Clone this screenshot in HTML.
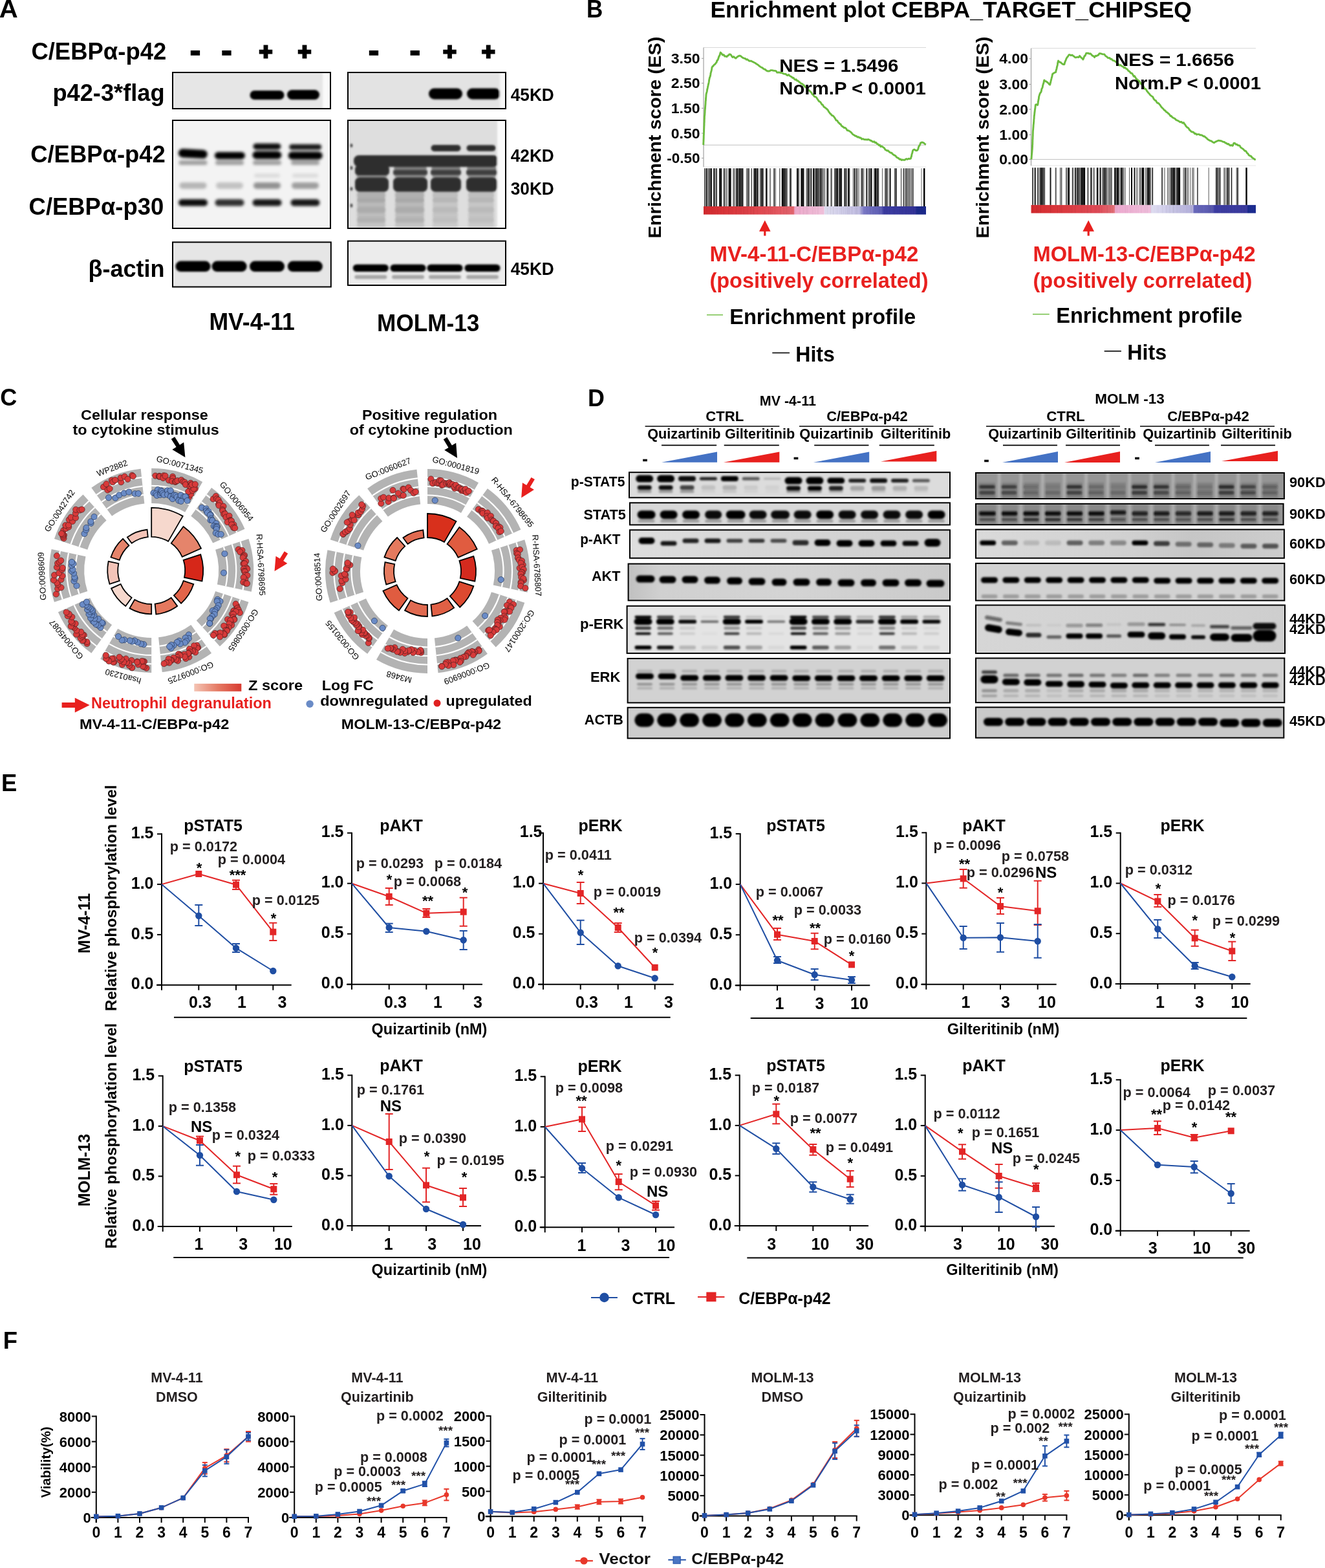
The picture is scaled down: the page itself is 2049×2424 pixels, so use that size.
<!DOCTYPE html>
<html><head><meta charset="utf-8"><title>Figure</title>
<style>html,body{margin:0;padding:0;background:#fff;}svg{display:block;}</style></head>
<body><svg width="2049" height="2424" viewBox="0 0 2049 2424" font-family='"Liberation Sans", Arial, sans-serif' font-weight="bold">
<defs><filter id="bl5" x="-20%" y="-50%" width="140%" height="200%"><feGaussianBlur stdDeviation="0.5"/></filter><filter id="bl6" x="-20%" y="-50%" width="140%" height="200%"><feGaussianBlur stdDeviation="0.6"/></filter><filter id="bl7" x="-20%" y="-50%" width="140%" height="200%"><feGaussianBlur stdDeviation="0.7"/></filter><filter id="bl8" x="-20%" y="-50%" width="140%" height="200%"><feGaussianBlur stdDeviation="0.8"/></filter><filter id="bl9" x="-20%" y="-50%" width="140%" height="200%"><feGaussianBlur stdDeviation="0.9"/></filter><filter id="bl10" x="-20%" y="-50%" width="140%" height="200%"><feGaussianBlur stdDeviation="1.0"/></filter><filter id="bl11" x="-20%" y="-50%" width="140%" height="200%"><feGaussianBlur stdDeviation="1.1"/></filter><filter id="bl12" x="-20%" y="-50%" width="140%" height="200%"><feGaussianBlur stdDeviation="1.2"/></filter><filter id="bl13" x="-20%" y="-50%" width="140%" height="200%"><feGaussianBlur stdDeviation="1.3"/></filter><filter id="bl14" x="-20%" y="-50%" width="140%" height="200%"><feGaussianBlur stdDeviation="1.4"/></filter><filter id="bl15" x="-20%" y="-50%" width="140%" height="200%"><feGaussianBlur stdDeviation="1.5"/></filter><filter id="bl16" x="-20%" y="-50%" width="140%" height="200%"><feGaussianBlur stdDeviation="1.6"/></filter><filter id="bl17" x="-20%" y="-50%" width="140%" height="200%"><feGaussianBlur stdDeviation="1.7"/></filter><filter id="bl18" x="-20%" y="-50%" width="140%" height="200%"><feGaussianBlur stdDeviation="1.8"/></filter><filter id="bl19" x="-20%" y="-50%" width="140%" height="200%"><feGaussianBlur stdDeviation="1.9"/></filter><filter id="bl20" x="-20%" y="-50%" width="140%" height="200%"><feGaussianBlur stdDeviation="2.0"/></filter><filter id="bl21" x="-20%" y="-50%" width="140%" height="200%"><feGaussianBlur stdDeviation="2.1"/></filter><filter id="bl22" x="-20%" y="-50%" width="140%" height="200%"><feGaussianBlur stdDeviation="2.2"/></filter><filter id="bl23" x="-20%" y="-50%" width="140%" height="200%"><feGaussianBlur stdDeviation="2.3"/></filter><filter id="bl24" x="-20%" y="-50%" width="140%" height="200%"><feGaussianBlur stdDeviation="2.4"/></filter><filter id="bl25" x="-20%" y="-50%" width="140%" height="200%"><feGaussianBlur stdDeviation="2.5"/></filter><filter id="bl26" x="-20%" y="-50%" width="140%" height="200%"><feGaussianBlur stdDeviation="2.6"/></filter><filter id="bl27" x="-20%" y="-50%" width="140%" height="200%"><feGaussianBlur stdDeviation="2.7"/></filter><filter id="bl28" x="-20%" y="-50%" width="140%" height="200%"><feGaussianBlur stdDeviation="2.8"/></filter><filter id="bl29" x="-20%" y="-50%" width="140%" height="200%"><feGaussianBlur stdDeviation="2.9"/></filter><filter id="bl30" x="-20%" y="-50%" width="140%" height="200%"><feGaussianBlur stdDeviation="3.0"/></filter><filter id="bl31" x="-20%" y="-50%" width="140%" height="200%"><feGaussianBlur stdDeviation="3.1"/></filter><filter id="bl32" x="-20%" y="-50%" width="140%" height="200%"><feGaussianBlur stdDeviation="3.2"/></filter><filter id="bl33" x="-20%" y="-50%" width="140%" height="200%"><feGaussianBlur stdDeviation="3.3"/></filter><filter id="bl34" x="-20%" y="-50%" width="140%" height="200%"><feGaussianBlur stdDeviation="3.4"/></filter><filter id="bl35" x="-20%" y="-50%" width="140%" height="200%"><feGaussianBlur stdDeviation="3.5"/></filter><filter id="bl36" x="-20%" y="-50%" width="140%" height="200%"><feGaussianBlur stdDeviation="3.6"/></filter><filter id="bl37" x="-20%" y="-50%" width="140%" height="200%"><feGaussianBlur stdDeviation="3.7"/></filter><filter id="bl38" x="-20%" y="-50%" width="140%" height="200%"><feGaussianBlur stdDeviation="3.8"/></filter><filter id="bl39" x="-20%" y="-50%" width="140%" height="200%"><feGaussianBlur stdDeviation="3.9"/></filter><filter id="bl40" x="-20%" y="-50%" width="140%" height="200%"><feGaussianBlur stdDeviation="4.0"/></filter><clipPath id="c1"><rect x="267" y="112" width="244" height="56"/></clipPath><clipPath id="c2"><rect x="538" y="112" width="244" height="56"/></clipPath><clipPath id="c3"><rect x="267" y="186" width="244" height="167"/></clipPath><clipPath id="c4"><rect x="538" y="186" width="244" height="167"/></clipPath><clipPath id="c5"><rect x="267" y="374.4" width="244.8" height="69.10000000000002"/></clipPath><clipPath id="c6"><rect x="538" y="372.6" width="244" height="68.39999999999998"/></clipPath><linearGradient id="cb1" x1="0" x2="1" y1="0" y2="0"><stop offset="0.000" stop-color="#d42a2e"/><stop offset="0.150" stop-color="#dc3a40"/><stop offset="0.300" stop-color="#e25058"/><stop offset="0.405" stop-color="#e46670"/><stop offset="0.410" stop-color="#eeaacc"/><stop offset="0.540" stop-color="#f0c0da"/><stop offset="0.545" stop-color="#e2e0f2"/><stop offset="0.700" stop-color="#c0bce2"/><stop offset="0.720" stop-color="#7a78c4"/><stop offset="0.800" stop-color="#5c5cb4"/><stop offset="0.810" stop-color="#3c3ca2"/><stop offset="0.950" stop-color="#34349a"/><stop offset="0.960" stop-color="#1c2a8c"/><stop offset="1.000" stop-color="#1c2a8c"/></linearGradient><linearGradient id="cb2" x1="0" x2="1" y1="0" y2="0"><stop offset="0.000" stop-color="#d42a2e"/><stop offset="0.150" stop-color="#dc3a40"/><stop offset="0.300" stop-color="#e04c58"/><stop offset="0.370" stop-color="#e47078"/><stop offset="0.375" stop-color="#eeaad0"/><stop offset="0.530" stop-color="#f0bedc"/><stop offset="0.535" stop-color="#e0def2"/><stop offset="0.720" stop-color="#b4b0dc"/><stop offset="0.725" stop-color="#6a6abc"/><stop offset="0.810" stop-color="#5858b0"/><stop offset="0.815" stop-color="#3e3ea4"/><stop offset="0.960" stop-color="#3a3a9e"/><stop offset="0.965" stop-color="#1c2c90"/><stop offset="1.000" stop-color="#1c2c90"/></linearGradient><linearGradient id="zs" x1="0" x2="1" y1="0" y2="0"><stop offset="0" stop-color="#f4c4b4"/><stop offset="0.5" stop-color="#e57a64"/><stop offset="1" stop-color="#d83a30"/></linearGradient><clipPath id="c7"><rect x="973" y="730.2" width="496" height="39.09999999999991"/></clipPath><clipPath id="c8"><rect x="974" y="777.3" width="495" height="34.10000000000002"/></clipPath><clipPath id="c9"><rect x="974" y="819.3" width="495" height="43.5"/></clipPath><linearGradient id="g9" x1="0" y1="0" x2="1" y2="0"><stop offset="0" stop-color="#dedede"/><stop offset="0.4" stop-color="#d6d6d6"/><stop offset="0.7" stop-color="#d2d2d2"/><stop offset="1" stop-color="#cfcfcf"/></linearGradient><clipPath id="c10"><rect x="971.6" y="871.6" width="497.4" height="56.69999999999993"/></clipPath><linearGradient id="g10" x1="0" y1="0" x2="1" y2="0"><stop offset="0" stop-color="#c0c0c0"/><stop offset="0.1" stop-color="#d0d0d0"/><stop offset="0.5" stop-color="#d4d4d4"/><stop offset="1" stop-color="#cacaca"/></linearGradient><clipPath id="c11"><rect x="969.6" y="936.8" width="499.4" height="73.10000000000002"/></clipPath><clipPath id="c12"><rect x="970.6" y="1018" width="498.4" height="68.40000000000009"/></clipPath><clipPath id="c13"><rect x="970.6" y="1093.8" width="498.4" height="47.600000000000136"/></clipPath><clipPath id="c14"><rect x="1509" y="731" width="476.9000000000001" height="40"/></clipPath><clipPath id="c15"><rect x="1509" y="778.8" width="475.5999999999999" height="32.40000000000009"/></clipPath><clipPath id="c16"><rect x="1509" y="818.6" width="476.9000000000001" height="44.19999999999993"/></clipPath><linearGradient id="g16" x1="0" y1="0" x2="1" y2="0"><stop offset="0" stop-color="#dadada"/><stop offset="0.5" stop-color="#d0d0d0"/><stop offset="0.7" stop-color="#c6c6c6"/><stop offset="1" stop-color="#cdcdcd"/></linearGradient><clipPath id="c17"><rect x="1509" y="870.9" width="477.29999999999995" height="57.5"/></clipPath><clipPath id="c18"><rect x="1509" y="935.5" width="478" height="74.5"/></clipPath><linearGradient id="g18" x1="0" y1="0" x2="1" y2="0"><stop offset="0" stop-color="#d6d6d6"/><stop offset="0.5" stop-color="#d2d2d2"/><stop offset="1" stop-color="#cecece"/></linearGradient><clipPath id="c19"><rect x="1509" y="1017.5" width="477.29999999999995" height="68.59999999999991"/></clipPath><clipPath id="c20"><rect x="1509" y="1093.4" width="476.29999999999995" height="47.19999999999982"/></clipPath></defs>
<rect width="2049" height="2424" fill="#fff"/>
<text x="-1.3" y="27.0" font-size="38" textLength="29.0" lengthAdjust="spacingAndGlyphs">A</text>
<text x="48.4" y="91.8" font-size="37.5" textLength="208.9" lengthAdjust="spacingAndGlyphs">C/EBPα-p42</text>
<text x="302.0" y="94.8" font-size="51" text-anchor="middle" stroke="#000" stroke-width="1.4">-</text>
<text x="350.5" y="94.8" font-size="51" text-anchor="middle" stroke="#000" stroke-width="1.4">-</text>
<text x="411.0" y="91.9" font-size="35" text-anchor="middle" stroke="#000" stroke-width="3">+</text>
<text x="471.0" y="91.9" font-size="35" text-anchor="middle" stroke="#000" stroke-width="3">+</text>
<text x="578.0" y="94.8" font-size="51" text-anchor="middle" stroke="#000" stroke-width="1.4">-</text>
<text x="641.7" y="94.8" font-size="51" text-anchor="middle" stroke="#000" stroke-width="1.4">-</text>
<text x="695.4" y="91.9" font-size="35" text-anchor="middle" stroke="#000" stroke-width="3">+</text>
<text x="755.3" y="91.9" font-size="35" text-anchor="middle" stroke="#000" stroke-width="3">+</text>
<text x="81.4" y="156.0" font-size="36.5" textLength="173.2" lengthAdjust="spacingAndGlyphs">p42-3*flag</text>
<text x="47.2" y="251.1" font-size="37.7" textLength="208.6" lengthAdjust="spacingAndGlyphs">C/EBPα-p42</text>
<text x="44.6" y="332.3" font-size="37.7" textLength="208.6" lengthAdjust="spacingAndGlyphs">C/EBPα-p30</text>
<text x="136.5" y="428.2" font-size="36.6" textLength="118.0" lengthAdjust="spacingAndGlyphs">β-actin</text>
<text x="789.7" y="156.4" font-size="27.2" textLength="67.1" lengthAdjust="spacingAndGlyphs">45KD</text>
<text x="789.7" y="249.6" font-size="27.2" textLength="67.1" lengthAdjust="spacingAndGlyphs">42KD</text>
<text x="789.7" y="301.0" font-size="27.2" textLength="67.1" lengthAdjust="spacingAndGlyphs">30KD</text>
<text x="789.7" y="424.5" font-size="27.2" textLength="67.1" lengthAdjust="spacingAndGlyphs">45KD</text>
<text x="323.4" y="510.0" font-size="37.7" textLength="132.5" lengthAdjust="spacingAndGlyphs">MV-4-11</text>
<text x="583.1" y="511.6" font-size="37.6" textLength="158.2" lengthAdjust="spacingAndGlyphs">MOLM-13</text>
<rect x="267.0" y="112.0" width="244.0" height="56.0" fill="#e6e6e6"/>
<g clip-path="url(#c1)"><g filter="url(#bl14)">
<rect x="386.5" y="140.0" width="53.0" height="14.0" rx="7.0" fill="#000" fill-opacity="1.00"/>
<rect x="444.0" y="139.0" width="50.0" height="15.0" rx="7.5" fill="#000" fill-opacity="1.00"/>
<rect x="499" y="112" width="14" height="56" fill="#fafafa"/>
</g></g>
<rect x="267.0" y="112.0" width="244.0" height="56.0" fill="none" stroke="#000" stroke-width="2.0"/>
<rect x="538.0" y="112.0" width="244.0" height="56.0" fill="#e3e3e3"/>
<g clip-path="url(#c2)"><g filter="url(#bl15)">
<rect x="663.0" y="136.5" width="52.0" height="17.0" rx="8.5" fill="#000" fill-opacity="1.00"/>
<rect x="722.0" y="136.5" width="52.0" height="17.0" rx="8.5" fill="#000" fill-opacity="1.00"/>
<rect x="773" y="112" width="12" height="56" fill="#f6f6f6"/>
</g></g>
<rect x="538.0" y="112.0" width="244.0" height="56.0" fill="none" stroke="#000" stroke-width="2.0"/>
<rect x="267.0" y="186.0" width="244.0" height="167.0" fill="#f3f3f3"/>
<g clip-path="url(#c3)"><g filter="url(#bl20)">
<rect x="275.8" y="230.8" width="45.0" height="13.5" rx="6.8" fill="#000" fill-opacity="1.00" transform="rotate(3 298.3 237.5)"/>
<rect x="331.9" y="234.9" width="47.0" height="11.0" rx="5.5" fill="#000" fill-opacity="1.00"/>
<rect x="391.4" y="221.7" width="43.0" height="9.5" rx="4.8" fill="#000" fill-opacity="0.95"/>
<rect x="390.4" y="233.7" width="45.0" height="12.0" rx="6.0" fill="#000" fill-opacity="1.00"/>
<rect x="447.2" y="222.9" width="50.0" height="8.5" rx="4.2" fill="#000" fill-opacity="0.90"/>
<rect x="445.7" y="234.5" width="53.0" height="12.0" rx="6.0" fill="#000" fill-opacity="1.00"/>
<rect x="276.5" y="248.0" width="44.0" height="7.0" rx="3.5" fill="#000" fill-opacity="0.35"/>
<rect x="277.5" y="281.9" width="42.0" height="10.0" rx="5.0" fill="#000" fill-opacity="0.25"/>
<rect x="276.0" y="308.1" width="45.0" height="10.5" rx="5.2" fill="#000" fill-opacity="0.95"/>
<rect x="333.0" y="248.0" width="44.0" height="7.0" rx="3.5" fill="#000" fill-opacity="0.35"/>
<rect x="334.0" y="281.9" width="42.0" height="10.0" rx="5.0" fill="#000" fill-opacity="0.20"/>
<rect x="332.5" y="308.1" width="45.0" height="10.5" rx="5.2" fill="#000" fill-opacity="0.80"/>
<rect x="391.0" y="248.0" width="44.0" height="7.0" rx="3.5" fill="#000" fill-opacity="0.35"/>
<rect x="392.0" y="281.9" width="42.0" height="10.0" rx="5.0" fill="#000" fill-opacity="0.40"/>
<rect x="393.0" y="268.4" width="40.0" height="6.0" rx="3.0" fill="#000" fill-opacity="0.10"/>
<rect x="390.5" y="308.1" width="45.0" height="10.5" rx="5.2" fill="#000" fill-opacity="0.90"/>
<rect x="450.0" y="248.0" width="44.0" height="7.0" rx="3.5" fill="#000" fill-opacity="0.35"/>
<rect x="451.0" y="281.9" width="42.0" height="10.0" rx="5.0" fill="#000" fill-opacity="0.35"/>
<rect x="452.0" y="268.4" width="40.0" height="6.0" rx="3.0" fill="#000" fill-opacity="0.10"/>
<rect x="449.5" y="308.1" width="45.0" height="10.5" rx="5.2" fill="#000" fill-opacity="0.90"/>
</g></g>
<rect x="267.0" y="186.0" width="244.0" height="167.0" fill="none" stroke="#000" stroke-width="2.0"/>
<rect x="538.0" y="186.0" width="244.0" height="167.0" fill="#dedede"/>
<g clip-path="url(#c4)"><g filter="url(#bl17)">
<rect x="666.5" y="224.0" width="46.0" height="10.0" rx="5.0" fill="#2f2f2f" fill-opacity="1.00"/>
<rect x="721.5" y="224.2" width="45.0" height="9.5" rx="4.8" fill="#2f2f2f" fill-opacity="1.00"/>
<rect x="547" y="240" width="224" height="18" rx="8" fill="#2f2f2f" fill-opacity="1.0"/>
<rect x="549" y="256" width="53" height="15" rx="5" fill="#2f2f2f" fill-opacity="1.0"/>
<rect x="609" y="258" width="51" height="4.5" rx="3" fill="#2f2f2f" fill-opacity="0.55"/>
<rect x="608" y="262.5" width="53" height="8.300000000000011" rx="3" fill="#2f2f2f" fill-opacity="0.92"/>
<rect x="667" y="258" width="45" height="4.5" rx="3" fill="#2f2f2f" fill-opacity="0.55"/>
<rect x="666" y="262.5" width="47" height="8.300000000000011" rx="3" fill="#2f2f2f" fill-opacity="0.92"/>
<rect x="722" y="258" width="46" height="4.5" rx="3" fill="#2f2f2f" fill-opacity="0.55"/>
<rect x="721" y="262.5" width="48" height="8.300000000000011" rx="3" fill="#2f2f2f" fill-opacity="0.92"/>
<rect x="551" y="270.8" width="48" height="3.3999999999999773" rx="3" fill="#2f2f2f" fill-opacity="0.45"/>
<rect x="549" y="274.2" width="52" height="22.30000000000001" rx="7" fill="#2f2f2f" fill-opacity="1.0"/>
<rect x="610" y="270.8" width="49" height="3.3999999999999773" rx="3" fill="#2f2f2f" fill-opacity="0.45"/>
<rect x="608" y="274.2" width="53" height="22.30000000000001" rx="7" fill="#2f2f2f" fill-opacity="1.0"/>
<rect x="668" y="270.8" width="43" height="3.3999999999999773" rx="3" fill="#2f2f2f" fill-opacity="0.45"/>
<rect x="666" y="274.2" width="47" height="22.30000000000001" rx="7" fill="#2f2f2f" fill-opacity="1.0"/>
<rect x="723" y="270.8" width="44" height="3.3999999999999773" rx="3" fill="#2f2f2f" fill-opacity="0.45"/>
<rect x="721" y="274.2" width="48" height="22.30000000000001" rx="7" fill="#2f2f2f" fill-opacity="1.0"/>
<rect x="552" y="297" width="44" height="9" rx="2" fill="#3a3a3a" fill-opacity="0.28"/>
<rect x="552" y="306" width="44" height="7" rx="2" fill="#3a3a3a" fill-opacity="0.33"/>
<rect x="552" y="313" width="44" height="7" rx="2" fill="#3a3a3a" fill-opacity="0.22"/>
<rect x="552" y="320" width="44" height="9" rx="2" fill="#3a3a3a" fill-opacity="0.3"/>
<rect x="552" y="329" width="44" height="7" rx="2" fill="#3a3a3a" fill-opacity="0.2"/>
<rect x="552" y="336" width="44" height="8" rx="2" fill="#3a3a3a" fill-opacity="0.27"/>
<rect x="552" y="344" width="44" height="7" rx="2" fill="#3a3a3a" fill-opacity="0.17"/>
<rect x="611" y="297" width="45" height="9" rx="2" fill="#3a3a3a" fill-opacity="0.28"/>
<rect x="611" y="306" width="45" height="7" rx="2" fill="#3a3a3a" fill-opacity="0.33"/>
<rect x="611" y="313" width="45" height="7" rx="2" fill="#3a3a3a" fill-opacity="0.22"/>
<rect x="611" y="320" width="45" height="9" rx="2" fill="#3a3a3a" fill-opacity="0.3"/>
<rect x="611" y="329" width="45" height="7" rx="2" fill="#3a3a3a" fill-opacity="0.2"/>
<rect x="611" y="336" width="45" height="8" rx="2" fill="#3a3a3a" fill-opacity="0.27"/>
<rect x="611" y="344" width="45" height="7" rx="2" fill="#3a3a3a" fill-opacity="0.17"/>
<rect x="669" y="297" width="39" height="9" rx="2" fill="#3a3a3a" fill-opacity="0.196"/>
<rect x="669" y="306" width="39" height="7" rx="2" fill="#3a3a3a" fill-opacity="0.23099999999999998"/>
<rect x="669" y="313" width="39" height="7" rx="2" fill="#3a3a3a" fill-opacity="0.154"/>
<rect x="669" y="320" width="39" height="9" rx="2" fill="#3a3a3a" fill-opacity="0.21"/>
<rect x="669" y="329" width="39" height="7" rx="2" fill="#3a3a3a" fill-opacity="0.13999999999999999"/>
<rect x="669" y="336" width="39" height="8" rx="2" fill="#3a3a3a" fill-opacity="0.189"/>
<rect x="669" y="344" width="39" height="7" rx="2" fill="#3a3a3a" fill-opacity="0.119"/>
<rect x="724" y="297" width="40" height="9" rx="2" fill="#3a3a3a" fill-opacity="0.196"/>
<rect x="724" y="306" width="40" height="7" rx="2" fill="#3a3a3a" fill-opacity="0.23099999999999998"/>
<rect x="724" y="313" width="40" height="7" rx="2" fill="#3a3a3a" fill-opacity="0.154"/>
<rect x="724" y="320" width="40" height="9" rx="2" fill="#3a3a3a" fill-opacity="0.21"/>
<rect x="724" y="329" width="40" height="7" rx="2" fill="#3a3a3a" fill-opacity="0.13999999999999999"/>
<rect x="724" y="336" width="40" height="8" rx="2" fill="#3a3a3a" fill-opacity="0.189"/>
<rect x="724" y="344" width="40" height="7" rx="2" fill="#3a3a3a" fill-opacity="0.119"/>
<rect x="769" y="186" width="14" height="167" fill="#fafafa"/>
<ellipse cx="543.5" cy="225" rx="1.3" ry="3" fill="#000"/>
<ellipse cx="543.5" cy="259.6" rx="1.3" ry="3" fill="#000"/>
<ellipse cx="543.5" cy="292" rx="1.3" ry="3" fill="#000"/>
<ellipse cx="543.5" cy="317.8" rx="1.3" ry="3" fill="#000"/>
</g></g>
<rect x="538.0" y="186.0" width="244.0" height="167.0" fill="none" stroke="#000" stroke-width="2.0"/>
<rect x="267.0" y="374.4" width="244.8" height="69.1" fill="#e6e6e6"/>
<g clip-path="url(#c5)"><g filter="url(#bl15)">
<rect x="271.5" y="403.6" width="54.0" height="16.5" rx="8.2" fill="#000" fill-opacity="1.00"/>
<rect x="327.6" y="403.6" width="54.0" height="16.5" rx="8.2" fill="#000" fill-opacity="1.00"/>
<rect x="386.0" y="403.6" width="54.0" height="16.5" rx="8.2" fill="#000" fill-opacity="1.00"/>
<rect x="444.8" y="403.6" width="54.0" height="16.5" rx="8.2" fill="#000" fill-opacity="1.00"/>
</g></g>
<rect x="267.0" y="374.4" width="244.8" height="69.1" fill="none" stroke="#000" stroke-width="2.0"/>
<rect x="538.0" y="372.6" width="244.0" height="68.4" fill="#ececec"/>
<g clip-path="url(#c6)"><g filter="url(#bl15)">
<rect x="545.8" y="408.7" width="55.0" height="11.4" rx="5.7" fill="#000" fill-opacity="1.00"/>
<rect x="603.5" y="408.7" width="55.0" height="11.4" rx="5.7" fill="#000" fill-opacity="1.00"/>
<rect x="660.5" y="408.7" width="55.0" height="11.4" rx="5.7" fill="#000" fill-opacity="1.00"/>
<rect x="718.5" y="408.7" width="55.0" height="11.4" rx="5.7" fill="#000" fill-opacity="1.00"/>
<rect x="548.3" y="425.3" width="50.0" height="6.0" rx="3.0" fill="#000" fill-opacity="0.30"/>
<rect x="606.0" y="425.3" width="50.0" height="6.0" rx="3.0" fill="#000" fill-opacity="0.30"/>
<rect x="663.0" y="425.3" width="50.0" height="6.0" rx="3.0" fill="#000" fill-opacity="0.30"/>
<rect x="721.0" y="425.3" width="50.0" height="6.0" rx="3.0" fill="#000" fill-opacity="0.30"/>
</g></g>
<rect x="538.0" y="372.6" width="244.0" height="68.4" fill="none" stroke="#000" stroke-width="2.0"/>
<text x="907.0" y="26.9" font-size="38" textLength="25.3" lengthAdjust="spacingAndGlyphs">B</text>
<text x="1098.4" y="27.0" font-size="35" textLength="744.6" lengthAdjust="spacingAndGlyphs">Enrichment plot CEBPA_TARGET_CHIPSEQ</text>
<rect x="1088.0" y="73.5" width="344.0" height="184.5" fill="#fff"/>
<line x1="1088.0" y1="73.5" x2="1432.0" y2="73.5" stroke="#d8d8d8" stroke-width="1"/>
<line x1="1088.0" y1="224.2" x2="1432.0" y2="224.2" stroke="#c0c0c0" stroke-width="1"/>
<line x1="1088.0" y1="258.0" x2="1432.0" y2="258.0" stroke="#e6e6e6" stroke-width="1"/>
<line x1="1088.0" y1="73.5" x2="1088.0" y2="258.0" stroke="#a0a0a0" stroke-width="1.2"/>
<text x="1037.8" y="97.9" font-size="21.4" textLength="44.8" lengthAdjust="spacingAndGlyphs">3.50</text>
<line x1="1085.0" y1="90.3" x2="1088.0" y2="90.3" stroke="#a0a0a0" stroke-width="1"/>
<text x="1037.8" y="136.2" font-size="21.4" textLength="44.8" lengthAdjust="spacingAndGlyphs">2.50</text>
<line x1="1085.0" y1="128.6" x2="1088.0" y2="128.6" stroke="#a0a0a0" stroke-width="1"/>
<text x="1037.8" y="174.9" font-size="21.4" textLength="44.8" lengthAdjust="spacingAndGlyphs">1.50</text>
<line x1="1085.0" y1="167.3" x2="1088.0" y2="167.3" stroke="#a0a0a0" stroke-width="1"/>
<text x="1037.8" y="213.6" font-size="21.4" textLength="44.8" lengthAdjust="spacingAndGlyphs">0.50</text>
<line x1="1085.0" y1="206.0" x2="1088.0" y2="206.0" stroke="#a0a0a0" stroke-width="1"/>
<text x="1031.3" y="252.0" font-size="21.4" textLength="51.3" lengthAdjust="spacingAndGlyphs">-0.50</text>
<line x1="1085.0" y1="244.4" x2="1088.0" y2="244.4" stroke="#a0a0a0" stroke-width="1"/>
<polyline points="1087.7,224.2 1087.8,222.6 1087.8,220.9 1087.9,219.4 1088.0,217.1 1088.0,216.9 1088.1,215.1 1088.2,212.7 1088.2,211.4 1088.3,209.0 1088.4,207.3 1088.4,205.8 1088.5,204.9 1088.6,202.4 1088.6,202.1 1088.7,198.9 1088.8,197.5 1088.8,195.6 1088.9,195.2 1089.0,192.9 1089.0,191.4 1089.1,189.5 1089.2,188.4 1089.2,186.4 1089.3,184.4 1089.4,183.1 1089.4,181.3 1089.5,179.3 1089.6,178.9 1089.8,177.0 1089.9,175.3 1090.0,174.1 1090.1,171.6 1090.2,169.9 1090.4,168.3 1090.5,166.6 1090.6,165.5 1090.8,162.6 1090.9,161.8 1091.0,160.3 1091.1,158.3 1091.2,156.0 1091.4,155.6 1091.5,152.7 1091.6,152.1 1091.8,149.7 1091.9,147.8 1092.0,146.4 1092.3,144.6 1092.7,143.2 1093.0,142.5 1093.3,141.0 1093.6,138.8 1093.9,137.7 1094.3,135.8 1094.6,134.2 1094.9,133.2 1095.3,130.6 1095.6,129.9 1096.0,128.0 1096.3,126.3 1096.7,123.5 1097.0,122.0 1097.4,120.2 1097.7,119.2 1098.1,118.6 1098.5,116.9 1098.8,115.2 1099.2,112.3 1099.5,111.7 1099.9,110.2 1100.3,108.6 1100.6,107.0 1101.0,104.2 1102.0,102.6 1103.0,102.1 1104.0,100.4 1105.7,99.3 1107.3,97.1 1108.1,96.4 1108.9,93.5 1109.6,93.4 1110.4,91.7 1111.2,89.2 1111.8,87.2 1112.4,86.5 1113.0,85.3 1113.6,83.2 1114.2,81.1 1115.9,82.8 1117.6,85.0 1119.2,84.6 1120.8,87.1 1122.4,86.9 1124.0,87.8 1125.3,85.9 1126.5,85.8 1127.8,83.9 1129.1,84.0 1130.3,84.8 1131.6,86.9 1132.9,88.5 1134.6,87.5 1136.3,89.2 1138.0,90.1 1139.7,88.2 1141.3,87.1 1143.0,86.2 1144.6,86.2 1146.2,87.2 1147.8,88.8 1149.4,89.6 1151.0,90.2 1152.6,90.5 1154.2,92.2 1155.8,91.7 1157.3,93.2 1158.9,94.3 1160.4,94.2 1162.0,94.3 1163.5,95.4 1165.0,95.9 1166.5,96.8 1168.0,97.5 1169.5,98.7 1171.0,99.5 1172.6,100.6 1174.1,102.0 1175.7,103.1 1177.2,104.1 1178.8,104.6 1180.3,106.1 1181.8,107.0 1183.4,107.2 1184.9,109.0 1186.4,109.7 1188.3,110.0 1190.2,109.8 1192.1,108.6 1194.0,108.6 1195.5,109.1 1197.1,109.3 1198.6,109.4 1200.2,109.9 1201.7,112.1 1203.4,112.0 1205.1,111.8 1206.8,112.5 1208.6,112.2 1210.3,113.3 1212.0,114.1 1213.5,114.4 1215.0,114.4 1216.6,116.0 1218.1,116.5 1219.6,115.5 1221.1,117.1 1222.5,118.0 1224.0,118.6 1225.4,120.2 1226.9,120.2 1228.3,122.2 1229.8,123.3 1231.3,122.8 1232.7,124.8 1234.2,125.0 1235.6,126.5 1237.1,127.5 1238.5,129.0 1240.0,129.5 1241.1,129.9 1242.3,131.7 1243.4,131.8 1244.5,134.0 1245.7,134.6 1246.8,135.4 1247.9,136.5 1249.1,137.6 1250.2,139.8 1251.4,139.7 1252.5,141.1 1253.7,142.2 1254.9,143.3 1256.0,145.5 1257.2,146.4 1258.3,147.7 1259.5,149.3 1260.7,149.6 1261.8,150.0 1263.0,151.4 1264.2,153.3 1265.3,154.9 1266.5,156.6 1267.6,157.1 1268.8,157.9 1269.9,159.8 1271.1,161.7 1272.2,161.9 1273.4,164.2 1274.5,165.5 1275.7,166.1 1276.9,167.2 1278.0,167.9 1279.2,169.1 1280.4,170.3 1281.5,172.6 1282.7,174.0 1283.8,175.8 1285.0,176.4 1286.2,178.3 1287.3,178.6 1288.5,179.3 1289.6,180.5 1290.8,182.2 1291.9,183.9 1293.0,186.0 1294.2,186.1 1295.3,187.3 1296.4,189.4 1297.6,190.1 1298.7,191.7 1300.0,192.0 1301.2,194.3 1302.5,195.4 1303.8,196.1 1305.1,197.5 1306.3,197.4 1307.6,197.9 1308.9,199.4 1310.1,201.5 1311.4,201.7 1312.8,202.2 1314.2,203.1 1315.7,204.2 1317.1,205.6 1318.5,207.5 1319.9,208.4 1321.4,209.2 1322.8,210.2 1324.2,210.1 1325.9,212.0 1327.6,211.7 1329.3,213.0 1331.0,212.9 1332.7,215.2 1334.4,214.6 1336.1,215.6 1337.8,215.8 1339.5,215.8 1341.2,216.0 1342.9,215.5 1344.6,216.3 1346.1,217.3 1347.5,217.5 1349.0,218.9 1350.4,219.4 1351.9,218.7 1353.3,220.6 1354.8,220.3 1356.2,222.3 1357.6,222.7 1359.1,224.6 1360.5,224.1 1361.9,226.7 1363.3,226.0 1364.8,227.0 1366.2,227.9 1367.6,229.1 1369.0,231.5 1370.4,232.1 1371.8,233.1 1373.2,232.7 1374.7,234.4 1376.1,235.5 1377.5,236.2 1378.9,236.2 1380.3,238.3 1381.6,239.0 1382.9,240.0 1384.2,240.3 1385.4,241.6 1386.7,243.3 1388.0,243.9 1389.5,244.6 1391.0,246.2 1392.6,246.0 1394.1,247.6 1395.6,246.9 1397.5,247.3 1399.4,247.2 1401.4,245.5 1403.3,246.4 1405.0,245.3 1406.7,245.6 1408.4,245.2 1408.9,242.7 1409.4,242.4 1409.8,239.5 1410.3,237.6 1410.8,236.5 1411.2,234.2 1411.7,232.6 1412.2,232.1 1413.8,231.1 1415.4,232.1 1417.0,232.9 1418.6,232.3 1419.2,231.5 1419.9,230.0 1420.5,227.3 1421.2,225.6 1421.8,225.4 1422.4,224.1 1423.1,222.5 1423.7,220.8 1425.6,220.0 1427.5,220.4 1428.9,221.3 1430.4,222.7 1431.8,223.5" fill="none" stroke="#6cbc3f" stroke-width="2.9" stroke-linejoin="round"/>
<rect x="1089.0" y="260.2" width="1.0" height="58.80000000000001" fill="rgb(63,63,63)"/>
<rect x="1090.0" y="260.2" width="2.0" height="58.80000000000001" fill="rgb(140,140,140)"/>
<rect x="1092.0" y="260.2" width="1.3" height="58.80000000000001" fill="rgb(0,0,0)"/>
<rect x="1093.3" y="260.2" width="2.0" height="58.80000000000001" fill="rgb(114,114,114)"/>
<rect x="1095.3" y="260.2" width="1.0" height="58.80000000000001" fill="rgb(140,140,140)"/>
<rect x="1096.3" y="260.2" width="1.3" height="58.80000000000001" fill="rgb(0,0,0)"/>
<rect x="1098.4" y="260.2" width="2.4" height="58.80000000000001" fill="rgb(0,0,0)"/>
<rect x="1103.3" y="260.2" width="2.0" height="58.80000000000001" fill="rgb(0,0,0)"/>
<rect x="1105.3" y="260.2" width="2.0" height="58.80000000000001" fill="rgb(140,140,140)"/>
<rect x="1107.3" y="260.2" width="1.6" height="58.80000000000001" fill="rgb(38,38,38)"/>
<rect x="1112.2" y="260.2" width="2.4" height="58.80000000000001" fill="rgb(0,0,0)"/>
<rect x="1114.6" y="260.2" width="1.6" height="58.80000000000001" fill="rgb(0,0,0)"/>
<rect x="1118.7" y="260.2" width="1.3" height="58.80000000000001" fill="rgb(63,63,63)"/>
<rect x="1120.0" y="260.2" width="2.0" height="58.80000000000001" fill="rgb(114,114,114)"/>
<rect x="1122.8" y="260.2" width="2.0" height="58.80000000000001" fill="rgb(114,114,114)"/>
<rect x="1126.6" y="260.2" width="1.6" height="58.80000000000001" fill="rgb(0,0,0)"/>
<rect x="1128.2" y="260.2" width="2.4" height="58.80000000000001" fill="rgb(0,0,0)"/>
<rect x="1133.1" y="260.2" width="1.0" height="58.80000000000001" fill="rgb(140,140,140)"/>
<rect x="1134.1" y="260.2" width="2.4" height="58.80000000000001" fill="rgb(114,114,114)"/>
<rect x="1137.7" y="260.2" width="1.0" height="58.80000000000001" fill="rgb(38,38,38)"/>
<rect x="1138.7" y="260.2" width="2.4" height="58.80000000000001" fill="rgb(38,38,38)"/>
<rect x="1141.1" y="260.2" width="1.6" height="58.80000000000001" fill="rgb(89,89,89)"/>
<rect x="1142.7" y="260.2" width="1.6" height="58.80000000000001" fill="rgb(0,0,0)"/>
<rect x="1144.3" y="260.2" width="2.4" height="58.80000000000001" fill="rgb(25,25,25)"/>
<rect x="1146.7" y="260.2" width="2.4" height="58.80000000000001" fill="rgb(38,38,38)"/>
<rect x="1149.1" y="260.2" width="1.0" height="58.80000000000001" fill="rgb(140,140,140)"/>
<rect x="1153.8" y="260.2" width="1.6" height="58.80000000000001" fill="rgb(114,114,114)"/>
<rect x="1155.4" y="260.2" width="2.4" height="58.80000000000001" fill="rgb(89,89,89)"/>
<rect x="1157.8" y="260.2" width="1.0" height="58.80000000000001" fill="rgb(38,38,38)"/>
<rect x="1161.8" y="260.2" width="1.0" height="58.80000000000001" fill="rgb(0,0,0)"/>
<rect x="1165.3" y="260.2" width="1.6" height="58.80000000000001" fill="rgb(38,38,38)"/>
<rect x="1166.9" y="260.2" width="2.4" height="58.80000000000001" fill="rgb(25,25,25)"/>
<rect x="1169.3" y="260.2" width="1.0" height="58.80000000000001" fill="rgb(25,25,25)"/>
<rect x="1170.3" y="260.2" width="2.4" height="58.80000000000001" fill="rgb(25,25,25)"/>
<rect x="1174.5" y="260.2" width="1.6" height="58.80000000000001" fill="rgb(140,140,140)"/>
<rect x="1176.1" y="260.2" width="1.0" height="58.80000000000001" fill="rgb(63,63,63)"/>
<rect x="1177.1" y="260.2" width="2.0" height="58.80000000000001" fill="rgb(38,38,38)"/>
<rect x="1179.1" y="260.2" width="1.6" height="58.80000000000001" fill="rgb(38,38,38)"/>
<rect x="1184.0" y="260.2" width="2.0" height="58.80000000000001" fill="rgb(25,25,25)"/>
<rect x="1186.0" y="260.2" width="1.3" height="58.80000000000001" fill="rgb(140,140,140)"/>
<rect x="1189.8" y="260.2" width="1.3" height="58.80000000000001" fill="rgb(140,140,140)"/>
<rect x="1191.1" y="260.2" width="1.0" height="58.80000000000001" fill="rgb(114,114,114)"/>
<rect x="1196.4" y="260.2" width="1.6" height="58.80000000000001" fill="rgb(25,25,25)"/>
<rect x="1198.8" y="260.2" width="1.0" height="58.80000000000001" fill="rgb(63,63,63)"/>
<rect x="1205.3" y="260.2" width="1.0" height="58.80000000000001" fill="rgb(38,38,38)"/>
<rect x="1208.8" y="260.2" width="2.4" height="58.80000000000001" fill="rgb(0,0,0)"/>
<rect x="1211.2" y="260.2" width="1.6" height="58.80000000000001" fill="rgb(0,0,0)"/>
<rect x="1212.8" y="260.2" width="2.0" height="58.80000000000001" fill="rgb(38,38,38)"/>
<rect x="1214.8" y="260.2" width="2.0" height="58.80000000000001" fill="rgb(63,63,63)"/>
<rect x="1216.8" y="260.2" width="1.0" height="58.80000000000001" fill="rgb(89,89,89)"/>
<rect x="1221.1" y="260.2" width="1.6" height="58.80000000000001" fill="rgb(25,25,25)"/>
<rect x="1222.7" y="260.2" width="1.3" height="58.80000000000001" fill="rgb(63,63,63)"/>
<rect x="1232.0" y="260.2" width="1.0" height="58.80000000000001" fill="rgb(0,0,0)"/>
<rect x="1233.0" y="260.2" width="1.3" height="58.80000000000001" fill="rgb(38,38,38)"/>
<rect x="1234.3" y="260.2" width="1.6" height="58.80000000000001" fill="rgb(63,63,63)"/>
<rect x="1237.7" y="260.2" width="1.3" height="58.80000000000001" fill="rgb(140,140,140)"/>
<rect x="1239.0" y="260.2" width="2.4" height="58.80000000000001" fill="rgb(0,0,0)"/>
<rect x="1241.4" y="260.2" width="2.0" height="58.80000000000001" fill="rgb(0,0,0)"/>
<rect x="1246.4" y="260.2" width="2.4" height="58.80000000000001" fill="rgb(114,114,114)"/>
<rect x="1248.8" y="260.2" width="2.4" height="58.80000000000001" fill="rgb(38,38,38)"/>
<rect x="1251.2" y="260.2" width="1.6" height="58.80000000000001" fill="rgb(89,89,89)"/>
<rect x="1253.6" y="260.2" width="1.6" height="58.80000000000001" fill="rgb(0,0,0)"/>
<rect x="1257.0" y="260.2" width="1.0" height="58.80000000000001" fill="rgb(0,0,0)"/>
<rect x="1258.0" y="260.2" width="1.0" height="58.80000000000001" fill="rgb(38,38,38)"/>
<rect x="1259.0" y="260.2" width="2.4" height="58.80000000000001" fill="rgb(114,114,114)"/>
<rect x="1261.4" y="260.2" width="2.0" height="58.80000000000001" fill="rgb(25,25,25)"/>
<rect x="1263.4" y="260.2" width="1.3" height="58.80000000000001" fill="rgb(0,0,0)"/>
<rect x="1264.7" y="260.2" width="2.0" height="58.80000000000001" fill="rgb(63,63,63)"/>
<rect x="1266.7" y="260.2" width="2.0" height="58.80000000000001" fill="rgb(89,89,89)"/>
<rect x="1268.7" y="260.2" width="1.6" height="58.80000000000001" fill="rgb(0,0,0)"/>
<rect x="1270.3" y="260.2" width="1.6" height="58.80000000000001" fill="rgb(89,89,89)"/>
<rect x="1271.9" y="260.2" width="1.6" height="58.80000000000001" fill="rgb(114,114,114)"/>
<rect x="1273.5" y="260.2" width="1.6" height="58.80000000000001" fill="rgb(140,140,140)"/>
<rect x="1275.1" y="260.2" width="1.3" height="58.80000000000001" fill="rgb(140,140,140)"/>
<rect x="1278.2" y="260.2" width="1.3" height="58.80000000000001" fill="rgb(63,63,63)"/>
<rect x="1279.5" y="260.2" width="1.6" height="58.80000000000001" fill="rgb(0,0,0)"/>
<rect x="1284.4" y="260.2" width="2.4" height="58.80000000000001" fill="rgb(89,89,89)"/>
<rect x="1290.1" y="260.2" width="1.6" height="58.80000000000001" fill="rgb(63,63,63)"/>
<rect x="1291.7" y="260.2" width="1.0" height="58.80000000000001" fill="rgb(0,0,0)"/>
<rect x="1292.7" y="260.2" width="1.0" height="58.80000000000001" fill="rgb(38,38,38)"/>
<rect x="1293.7" y="260.2" width="1.6" height="58.80000000000001" fill="rgb(0,0,0)"/>
<rect x="1295.3" y="260.2" width="1.0" height="58.80000000000001" fill="rgb(0,0,0)"/>
<rect x="1296.3" y="260.2" width="1.6" height="58.80000000000001" fill="rgb(140,140,140)"/>
<rect x="1297.9" y="260.2" width="1.3" height="58.80000000000001" fill="rgb(0,0,0)"/>
<rect x="1299.2" y="260.2" width="1.6" height="58.80000000000001" fill="rgb(0,0,0)"/>
<rect x="1300.8" y="260.2" width="1.3" height="58.80000000000001" fill="rgb(25,25,25)"/>
<rect x="1305.1" y="260.2" width="2.4" height="58.80000000000001" fill="rgb(63,63,63)"/>
<rect x="1307.5" y="260.2" width="1.3" height="58.80000000000001" fill="rgb(25,25,25)"/>
<rect x="1308.8" y="260.2" width="1.0" height="58.80000000000001" fill="rgb(89,89,89)"/>
<rect x="1311.0" y="260.2" width="2.0" height="58.80000000000001" fill="rgb(25,25,25)"/>
<rect x="1313.0" y="260.2" width="1.3" height="58.80000000000001" fill="rgb(63,63,63)"/>
<rect x="1318.6" y="260.2" width="2.4" height="58.80000000000001" fill="rgb(140,140,140)"/>
<rect x="1321.0" y="260.2" width="1.6" height="58.80000000000001" fill="rgb(25,25,25)"/>
<rect x="1322.6" y="260.2" width="1.0" height="58.80000000000001" fill="rgb(114,114,114)"/>
<rect x="1324.4" y="260.2" width="1.6" height="58.80000000000001" fill="rgb(25,25,25)"/>
<rect x="1327.2" y="260.2" width="1.6" height="58.80000000000001" fill="rgb(114,114,114)"/>
<rect x="1331.2" y="260.2" width="1.3" height="58.80000000000001" fill="rgb(89,89,89)"/>
<rect x="1332.5" y="260.2" width="2.0" height="58.80000000000001" fill="rgb(38,38,38)"/>
<rect x="1334.5" y="260.2" width="2.0" height="58.80000000000001" fill="rgb(140,140,140)"/>
<rect x="1339.0" y="260.2" width="2.4" height="58.80000000000001" fill="rgb(63,63,63)"/>
<rect x="1342.6" y="260.2" width="1.0" height="58.80000000000001" fill="rgb(89,89,89)"/>
<rect x="1343.6" y="260.2" width="1.3" height="58.80000000000001" fill="rgb(63,63,63)"/>
<rect x="1344.9" y="260.2" width="1.6" height="58.80000000000001" fill="rgb(89,89,89)"/>
<rect x="1346.5" y="260.2" width="2.0" height="58.80000000000001" fill="rgb(0,0,0)"/>
<rect x="1351.0" y="260.2" width="1.6" height="58.80000000000001" fill="rgb(114,114,114)"/>
<rect x="1352.6" y="260.2" width="2.4" height="58.80000000000001" fill="rgb(0,0,0)"/>
<rect x="1355.0" y="260.2" width="2.0" height="58.80000000000001" fill="rgb(89,89,89)"/>
<rect x="1357.0" y="260.2" width="1.3" height="58.80000000000001" fill="rgb(0,0,0)"/>
<rect x="1358.3" y="260.2" width="1.0" height="58.80000000000001" fill="rgb(63,63,63)"/>
<rect x="1363.9" y="260.2" width="1.3" height="58.80000000000001" fill="rgb(114,114,114)"/>
<rect x="1367.7" y="260.2" width="1.6" height="58.80000000000001" fill="rgb(140,140,140)"/>
<rect x="1369.3" y="260.2" width="2.0" height="58.80000000000001" fill="rgb(38,38,38)"/>
<rect x="1371.3" y="260.2" width="2.4" height="58.80000000000001" fill="rgb(114,114,114)"/>
<rect x="1375.5" y="260.2" width="2.0" height="58.80000000000001" fill="rgb(0,0,0)"/>
<rect x="1383.2" y="260.2" width="1.3" height="58.80000000000001" fill="rgb(38,38,38)"/>
<rect x="1384.5" y="260.2" width="2.4" height="58.80000000000001" fill="rgb(63,63,63)"/>
<rect x="1393.1" y="260.2" width="1.0" height="58.80000000000001" fill="rgb(38,38,38)"/>
<rect x="1396.6" y="260.2" width="1.0" height="58.80000000000001" fill="rgb(0,0,0)"/>
<rect x="1397.6" y="260.2" width="1.0" height="58.80000000000001" fill="rgb(63,63,63)"/>
<rect x="1399.8" y="260.2" width="1.6" height="58.80000000000001" fill="rgb(63,63,63)"/>
<rect x="1401.4" y="260.2" width="1.6" height="58.80000000000001" fill="rgb(89,89,89)"/>
<rect x="1403.0" y="260.2" width="2.0" height="58.80000000000001" fill="rgb(140,140,140)"/>
<rect x="1405.0" y="260.2" width="2.4" height="58.80000000000001" fill="rgb(114,114,114)"/>
<rect x="1407.4" y="260.2" width="2.4" height="58.80000000000001" fill="rgb(140,140,140)"/>
<rect x="1409.8" y="260.2" width="2.0" height="58.80000000000001" fill="rgb(114,114,114)"/>
<rect x="1411.8" y="260.2" width="1.0" height="58.80000000000001" fill="rgb(63,63,63)"/>
<rect x="1424.5" y="260.2" width="1.0" height="58.80000000000001" fill="rgb(114,114,114)"/>
<rect x="1428.0" y="260.2" width="2.4" height="58.80000000000001" fill="rgb(0,0,0)"/>
<rect x="1088.0" y="319.0" width="344.0" height="12.6" fill="url(#cb1)"/>
<rect x="1088.7" y="319" width="1.2" height="12.600000000000023" fill="#000" fill-opacity="0.05"/>
<rect x="1091.5" y="319" width="1.2" height="12.600000000000023" fill="#000" fill-opacity="0.05"/>
<rect x="1093.9" y="319" width="1.2" height="12.600000000000023" fill="#000" fill-opacity="0.03"/>
<rect x="1096.4" y="319" width="1.2" height="12.600000000000023" fill="#000" fill-opacity="0.04"/>
<rect x="1099.4" y="319" width="1.2" height="12.600000000000023" fill="#000" fill-opacity="0.05"/>
<rect x="1101.8" y="319" width="1.2" height="12.600000000000023" fill="#000" fill-opacity="0.05"/>
<rect x="1104.2" y="319" width="1.2" height="12.600000000000023" fill="#000" fill-opacity="0.04"/>
<rect x="1106.0" y="319" width="1.2" height="12.600000000000023" fill="#000" fill-opacity="0.02"/>
<rect x="1109.1" y="319" width="1.2" height="12.600000000000023" fill="#000" fill-opacity="0.06"/>
<rect x="1111.3" y="319" width="1.2" height="12.600000000000023" fill="#000" fill-opacity="0.01"/>
<rect x="1114.2" y="319" width="1.2" height="12.600000000000023" fill="#000" fill-opacity="0.03"/>
<rect x="1116.2" y="319" width="1.2" height="12.600000000000023" fill="#000" fill-opacity="0.00"/>
<rect x="1118.8" y="319" width="1.2" height="12.600000000000023" fill="#000" fill-opacity="0.05"/>
<rect x="1121.1" y="319" width="1.2" height="12.600000000000023" fill="#000" fill-opacity="0.02"/>
<rect x="1124.0" y="319" width="1.2" height="12.600000000000023" fill="#000" fill-opacity="0.00"/>
<rect x="1126.3" y="319" width="1.2" height="12.600000000000023" fill="#000" fill-opacity="0.07"/>
<rect x="1129.0" y="319" width="1.2" height="12.600000000000023" fill="#000" fill-opacity="0.03"/>
<rect x="1131.5" y="319" width="1.2" height="12.600000000000023" fill="#000" fill-opacity="0.04"/>
<rect x="1133.3" y="319" width="1.2" height="12.600000000000023" fill="#000" fill-opacity="0.01"/>
<rect x="1136.8" y="319" width="1.2" height="12.600000000000023" fill="#000" fill-opacity="0.02"/>
<rect x="1138.1" y="319" width="1.2" height="12.600000000000023" fill="#000" fill-opacity="0.06"/>
<rect x="1141.3" y="319" width="1.2" height="12.600000000000023" fill="#000" fill-opacity="0.03"/>
<rect x="1143.8" y="319" width="1.2" height="12.600000000000023" fill="#000" fill-opacity="0.05"/>
<rect x="1145.8" y="319" width="1.2" height="12.600000000000023" fill="#000" fill-opacity="0.05"/>
<rect x="1149.1" y="319" width="1.2" height="12.600000000000023" fill="#000" fill-opacity="0.06"/>
<rect x="1150.9" y="319" width="1.2" height="12.600000000000023" fill="#000" fill-opacity="0.04"/>
<rect x="1153.3" y="319" width="1.2" height="12.600000000000023" fill="#000" fill-opacity="0.04"/>
<rect x="1155.8" y="319" width="1.2" height="12.600000000000023" fill="#000" fill-opacity="0.06"/>
<rect x="1159.3" y="319" width="1.2" height="12.600000000000023" fill="#000" fill-opacity="0.02"/>
<rect x="1160.8" y="319" width="1.2" height="12.600000000000023" fill="#000" fill-opacity="0.07"/>
<rect x="1164.1" y="319" width="1.2" height="12.600000000000023" fill="#000" fill-opacity="0.06"/>
<rect x="1165.5" y="319" width="1.2" height="12.600000000000023" fill="#000" fill-opacity="0.06"/>
<rect x="1168.9" y="319" width="1.2" height="12.600000000000023" fill="#000" fill-opacity="0.02"/>
<rect x="1171.1" y="319" width="1.2" height="12.600000000000023" fill="#000" fill-opacity="0.05"/>
<rect x="1174.2" y="319" width="1.2" height="12.600000000000023" fill="#000" fill-opacity="0.01"/>
<rect x="1176.4" y="319" width="1.2" height="12.600000000000023" fill="#000" fill-opacity="0.01"/>
<rect x="1179.5" y="319" width="1.2" height="12.600000000000023" fill="#000" fill-opacity="0.03"/>
<rect x="1181.9" y="319" width="1.2" height="12.600000000000023" fill="#000" fill-opacity="0.05"/>
<rect x="1183.9" y="319" width="1.2" height="12.600000000000023" fill="#000" fill-opacity="0.02"/>
<rect x="1186.3" y="319" width="1.2" height="12.600000000000023" fill="#000" fill-opacity="0.01"/>
<rect x="1188.2" y="319" width="1.2" height="12.600000000000023" fill="#000" fill-opacity="0.05"/>
<rect x="1191.0" y="319" width="1.2" height="12.600000000000023" fill="#000" fill-opacity="0.05"/>
<rect x="1193.4" y="319" width="1.2" height="12.600000000000023" fill="#000" fill-opacity="0.05"/>
<rect x="1196.6" y="319" width="1.2" height="12.600000000000023" fill="#000" fill-opacity="0.02"/>
<rect x="1198.2" y="319" width="1.2" height="12.600000000000023" fill="#000" fill-opacity="0.03"/>
<rect x="1201.2" y="319" width="1.2" height="12.600000000000023" fill="#000" fill-opacity="0.01"/>
<rect x="1203.3" y="319" width="1.2" height="12.600000000000023" fill="#000" fill-opacity="0.00"/>
<rect x="1206.4" y="319" width="1.2" height="12.600000000000023" fill="#000" fill-opacity="0.06"/>
<rect x="1208.3" y="319" width="1.2" height="12.600000000000023" fill="#000" fill-opacity="0.00"/>
<rect x="1211.6" y="319" width="1.2" height="12.600000000000023" fill="#000" fill-opacity="0.06"/>
<rect x="1214.4" y="319" width="1.2" height="12.600000000000023" fill="#000" fill-opacity="0.04"/>
<rect x="1216.0" y="319" width="1.2" height="12.600000000000023" fill="#000" fill-opacity="0.06"/>
<rect x="1218.2" y="319" width="1.2" height="12.600000000000023" fill="#000" fill-opacity="0.05"/>
<rect x="1220.6" y="319" width="1.2" height="12.600000000000023" fill="#000" fill-opacity="0.03"/>
<rect x="1223.7" y="319" width="1.2" height="12.600000000000023" fill="#000" fill-opacity="0.03"/>
<rect x="1225.8" y="319" width="1.2" height="12.600000000000023" fill="#000" fill-opacity="0.02"/>
<rect x="1229.2" y="319" width="1.2" height="12.600000000000023" fill="#000" fill-opacity="0.03"/>
<rect x="1231.4" y="319" width="1.2" height="12.600000000000023" fill="#000" fill-opacity="0.01"/>
<rect x="1234.1" y="319" width="1.2" height="12.600000000000023" fill="#000" fill-opacity="0.02"/>
<rect x="1236.4" y="319" width="1.2" height="12.600000000000023" fill="#000" fill-opacity="0.06"/>
<rect x="1239.5" y="319" width="1.2" height="12.600000000000023" fill="#000" fill-opacity="0.00"/>
<rect x="1241.7" y="319" width="1.2" height="12.600000000000023" fill="#000" fill-opacity="0.06"/>
<rect x="1243.5" y="319" width="1.2" height="12.600000000000023" fill="#000" fill-opacity="0.03"/>
<rect x="1246.4" y="319" width="1.2" height="12.600000000000023" fill="#000" fill-opacity="0.06"/>
<rect x="1248.6" y="319" width="1.2" height="12.600000000000023" fill="#000" fill-opacity="0.06"/>
<rect x="1251.6" y="319" width="1.2" height="12.600000000000023" fill="#000" fill-opacity="0.01"/>
<rect x="1254.4" y="319" width="1.2" height="12.600000000000023" fill="#000" fill-opacity="0.00"/>
<rect x="1255.7" y="319" width="1.2" height="12.600000000000023" fill="#000" fill-opacity="0.05"/>
<rect x="1258.1" y="319" width="1.2" height="12.600000000000023" fill="#000" fill-opacity="0.03"/>
<rect x="1260.7" y="319" width="1.2" height="12.600000000000023" fill="#000" fill-opacity="0.03"/>
<rect x="1264.3" y="319" width="1.2" height="12.600000000000023" fill="#000" fill-opacity="0.06"/>
<rect x="1265.6" y="319" width="1.2" height="12.600000000000023" fill="#000" fill-opacity="0.00"/>
<rect x="1269.3" y="319" width="1.2" height="12.600000000000023" fill="#000" fill-opacity="0.00"/>
<rect x="1270.9" y="319" width="1.2" height="12.600000000000023" fill="#000" fill-opacity="0.01"/>
<rect x="1273.1" y="319" width="1.2" height="12.600000000000023" fill="#000" fill-opacity="0.00"/>
<rect x="1276.5" y="319" width="1.2" height="12.600000000000023" fill="#000" fill-opacity="0.05"/>
<rect x="1279.0" y="319" width="1.2" height="12.600000000000023" fill="#000" fill-opacity="0.06"/>
<rect x="1281.5" y="319" width="1.2" height="12.600000000000023" fill="#000" fill-opacity="0.03"/>
<rect x="1283.9" y="319" width="1.2" height="12.600000000000023" fill="#000" fill-opacity="0.07"/>
<rect x="1286.5" y="319" width="1.2" height="12.600000000000023" fill="#000" fill-opacity="0.02"/>
<rect x="1288.1" y="319" width="1.2" height="12.600000000000023" fill="#000" fill-opacity="0.07"/>
<rect x="1291.4" y="319" width="1.2" height="12.600000000000023" fill="#000" fill-opacity="0.02"/>
<rect x="1293.9" y="319" width="1.2" height="12.600000000000023" fill="#000" fill-opacity="0.04"/>
<rect x="1296.3" y="319" width="1.2" height="12.600000000000023" fill="#000" fill-opacity="0.00"/>
<rect x="1298.5" y="319" width="1.2" height="12.600000000000023" fill="#000" fill-opacity="0.03"/>
<rect x="1300.8" y="319" width="1.2" height="12.600000000000023" fill="#000" fill-opacity="0.06"/>
<rect x="1303.6" y="319" width="1.2" height="12.600000000000023" fill="#000" fill-opacity="0.05"/>
<rect x="1306.6" y="319" width="1.2" height="12.600000000000023" fill="#000" fill-opacity="0.05"/>
<rect x="1309.1" y="319" width="1.2" height="12.600000000000023" fill="#000" fill-opacity="0.05"/>
<rect x="1310.9" y="319" width="1.2" height="12.600000000000023" fill="#000" fill-opacity="0.07"/>
<rect x="1313.2" y="319" width="1.2" height="12.600000000000023" fill="#000" fill-opacity="0.06"/>
<rect x="1316.8" y="319" width="1.2" height="12.600000000000023" fill="#000" fill-opacity="0.06"/>
<rect x="1318.1" y="319" width="1.2" height="12.600000000000023" fill="#000" fill-opacity="0.01"/>
<rect x="1321.7" y="319" width="1.2" height="12.600000000000023" fill="#000" fill-opacity="0.03"/>
<rect x="1323.6" y="319" width="1.2" height="12.600000000000023" fill="#000" fill-opacity="0.07"/>
<rect x="1325.6" y="319" width="1.2" height="12.600000000000023" fill="#000" fill-opacity="0.04"/>
<rect x="1328.7" y="319" width="1.2" height="12.600000000000023" fill="#000" fill-opacity="0.01"/>
<rect x="1331.1" y="319" width="1.2" height="12.600000000000023" fill="#000" fill-opacity="0.05"/>
<rect x="1334.3" y="319" width="1.2" height="12.600000000000023" fill="#000" fill-opacity="0.00"/>
<rect x="1336.3" y="319" width="1.2" height="12.600000000000023" fill="#000" fill-opacity="0.01"/>
<rect x="1339.2" y="319" width="1.2" height="12.600000000000023" fill="#000" fill-opacity="0.01"/>
<rect x="1340.6" y="319" width="1.2" height="12.600000000000023" fill="#000" fill-opacity="0.03"/>
<rect x="1344.1" y="319" width="1.2" height="12.600000000000023" fill="#000" fill-opacity="0.02"/>
<rect x="1345.7" y="319" width="1.2" height="12.600000000000023" fill="#000" fill-opacity="0.06"/>
<rect x="1349.2" y="319" width="1.2" height="12.600000000000023" fill="#000" fill-opacity="0.06"/>
<rect x="1351.0" y="319" width="1.2" height="12.600000000000023" fill="#000" fill-opacity="0.03"/>
<rect x="1353.4" y="319" width="1.2" height="12.600000000000023" fill="#000" fill-opacity="0.04"/>
<rect x="1356.0" y="319" width="1.2" height="12.600000000000023" fill="#000" fill-opacity="0.02"/>
<rect x="1359.2" y="319" width="1.2" height="12.600000000000023" fill="#000" fill-opacity="0.07"/>
<rect x="1361.4" y="319" width="1.2" height="12.600000000000023" fill="#000" fill-opacity="0.01"/>
<rect x="1364.0" y="319" width="1.2" height="12.600000000000023" fill="#000" fill-opacity="0.03"/>
<rect x="1367.0" y="319" width="1.2" height="12.600000000000023" fill="#000" fill-opacity="0.05"/>
<rect x="1369.3" y="319" width="1.2" height="12.600000000000023" fill="#000" fill-opacity="0.05"/>
<rect x="1371.3" y="319" width="1.2" height="12.600000000000023" fill="#000" fill-opacity="0.06"/>
<rect x="1374.2" y="319" width="1.2" height="12.600000000000023" fill="#000" fill-opacity="0.02"/>
<rect x="1375.7" y="319" width="1.2" height="12.600000000000023" fill="#000" fill-opacity="0.03"/>
<rect x="1378.8" y="319" width="1.2" height="12.600000000000023" fill="#000" fill-opacity="0.01"/>
<rect x="1381.0" y="319" width="1.2" height="12.600000000000023" fill="#000" fill-opacity="0.04"/>
<rect x="1383.1" y="319" width="1.2" height="12.600000000000023" fill="#000" fill-opacity="0.06"/>
<rect x="1386.5" y="319" width="1.2" height="12.600000000000023" fill="#000" fill-opacity="0.02"/>
<rect x="1388.4" y="319" width="1.2" height="12.600000000000023" fill="#000" fill-opacity="0.02"/>
<rect x="1391.0" y="319" width="1.2" height="12.600000000000023" fill="#000" fill-opacity="0.05"/>
<rect x="1393.8" y="319" width="1.2" height="12.600000000000023" fill="#000" fill-opacity="0.04"/>
<rect x="1395.7" y="319" width="1.2" height="12.600000000000023" fill="#000" fill-opacity="0.06"/>
<rect x="1398.5" y="319" width="1.2" height="12.600000000000023" fill="#000" fill-opacity="0.02"/>
<rect x="1400.6" y="319" width="1.2" height="12.600000000000023" fill="#000" fill-opacity="0.07"/>
<rect x="1403.7" y="319" width="1.2" height="12.600000000000023" fill="#000" fill-opacity="0.06"/>
<rect x="1406.9" y="319" width="1.2" height="12.600000000000023" fill="#000" fill-opacity="0.07"/>
<rect x="1409.2" y="319" width="1.2" height="12.600000000000023" fill="#000" fill-opacity="0.06"/>
<rect x="1411.9" y="319" width="1.2" height="12.600000000000023" fill="#000" fill-opacity="0.06"/>
<rect x="1413.2" y="319" width="1.2" height="12.600000000000023" fill="#000" fill-opacity="0.04"/>
<rect x="1416.4" y="319" width="1.2" height="12.600000000000023" fill="#000" fill-opacity="0.07"/>
<rect x="1419.2" y="319" width="1.2" height="12.600000000000023" fill="#000" fill-opacity="0.05"/>
<rect x="1421.6" y="319" width="1.2" height="12.600000000000023" fill="#000" fill-opacity="0.03"/>
<rect x="1424.4" y="319" width="1.2" height="12.600000000000023" fill="#000" fill-opacity="0.05"/>
<rect x="1426.1" y="319" width="1.2" height="12.600000000000023" fill="#000" fill-opacity="0.03"/>
<rect x="1429.5" y="319" width="1.2" height="12.600000000000023" fill="#000" fill-opacity="0.04"/>
<text x="1021.5" y="212.5" font-size="28.5" text-anchor="middle" transform="rotate(-90 1021.5 212.5)" textLength="312.0" lengthAdjust="spacingAndGlyphs">Enrichment score (ES)</text>
<text x="1205.3" y="110.5" font-size="28.3" textLength="184.2" lengthAdjust="spacingAndGlyphs">NES = 1.5496</text>
<text x="1205.3" y="146.2" font-size="28.3" textLength="226.5" lengthAdjust="spacingAndGlyphs">Norm.P &lt; 0.0001</text>
<polygon points="1182.8,340.5 1174.0,357.8 1191.6,357.8" fill="#e8201e"/>
<rect x="1181.2" y="356.0" width="3.2" height="8.5" fill="#e8201e"/>
<text x="1097.4" y="404.3" font-size="32.8" fill="#e8201e" textLength="322.9" lengthAdjust="spacingAndGlyphs">MV-4-11-C/EBPα-p42</text>
<text x="1097.4" y="444.8" font-size="32.8" fill="#e8201e" textLength="338.2" lengthAdjust="spacingAndGlyphs">(positively correlated)</text>
<rect x="1594.5" y="74.7" width="347.5" height="181.3" fill="#fff"/>
<line x1="1594.5" y1="74.7" x2="1942.0" y2="74.7" stroke="#d8d8d8" stroke-width="1"/>
<line x1="1594.5" y1="246.4" x2="1942.0" y2="246.4" stroke="#c0c0c0" stroke-width="1"/>
<line x1="1594.5" y1="256.0" x2="1942.0" y2="256.0" stroke="#e6e6e6" stroke-width="1"/>
<line x1="1594.5" y1="74.7" x2="1594.5" y2="256.0" stroke="#a0a0a0" stroke-width="1.2"/>
<text x="1545.3" y="98.3" font-size="21.4" textLength="44.8" lengthAdjust="spacingAndGlyphs">4.00</text>
<line x1="1591.5" y1="90.7" x2="1594.5" y2="90.7" stroke="#a0a0a0" stroke-width="1"/>
<text x="1545.3" y="138.0" font-size="21.4" textLength="44.8" lengthAdjust="spacingAndGlyphs">3.00</text>
<line x1="1591.5" y1="130.4" x2="1594.5" y2="130.4" stroke="#a0a0a0" stroke-width="1"/>
<text x="1545.3" y="176.6" font-size="21.4" textLength="44.8" lengthAdjust="spacingAndGlyphs">2.00</text>
<line x1="1591.5" y1="169.0" x2="1594.5" y2="169.0" stroke="#a0a0a0" stroke-width="1"/>
<text x="1545.3" y="215.8" font-size="21.4" textLength="44.8" lengthAdjust="spacingAndGlyphs">1.00</text>
<line x1="1591.5" y1="208.2" x2="1594.5" y2="208.2" stroke="#a0a0a0" stroke-width="1"/>
<text x="1545.3" y="254.0" font-size="21.4" textLength="44.8" lengthAdjust="spacingAndGlyphs">0.00</text>
<line x1="1591.5" y1="246.4" x2="1594.5" y2="246.4" stroke="#a0a0a0" stroke-width="1"/>
<polyline points="1594.9,246.4 1595.0,244.8 1595.2,243.2 1595.3,240.9 1595.4,240.1 1595.6,237.7 1595.7,237.1 1595.9,235.3 1596.0,233.2 1596.1,232.0 1596.3,230.3 1596.4,227.8 1596.5,227.1 1596.5,225.6 1596.6,223.8 1596.7,222.9 1596.7,221.0 1596.8,218.8 1596.8,216.9 1596.9,215.1 1597.0,214.8 1597.0,212.9 1597.1,211.2 1597.2,209.3 1597.2,207.8 1597.3,205.7 1597.3,204.7 1597.4,202.4 1597.5,201.5 1597.7,199.8 1597.8,198.2 1598.0,195.8 1598.1,193.8 1598.2,192.5 1598.4,191.5 1598.5,189.5 1598.7,188.2 1598.8,185.9 1598.9,184.2 1599.1,183.4 1599.2,180.4 1599.4,178.8 1599.5,177.8 1599.7,176.2 1599.9,174.2 1600.1,172.7 1600.3,170.9 1600.5,169.6 1600.7,168.3 1600.9,166.6 1601.1,164.6 1601.3,162.6 1601.5,161.8 1603.0,161.5 1604.6,162.4 1604.9,161.2 1605.2,159.2 1605.4,156.9 1605.7,155.9 1606.0,153.9 1606.3,152.8 1606.5,150.6 1606.8,148.7 1607.1,147.9 1607.9,145.4 1608.7,143.6 1609.4,143.0 1610.2,141.4 1610.7,138.4 1611.2,136.6 1611.7,136.4 1612.2,134.9 1612.6,132.3 1613.1,130.4 1613.5,129.4 1613.9,128.2 1614.4,125.2 1614.8,123.9 1616.5,125.6 1618.2,126.0 1619.9,127.6 1621.2,128.4 1622.4,130.3 1623.7,131.1 1624.1,129.2 1624.5,128.1 1624.9,126.0 1625.3,124.3 1625.7,122.7 1626.0,121.5 1626.4,119.7 1626.8,118.7 1627.2,116.5 1627.6,114.5 1629.3,113.2 1631.0,112.1 1632.7,111.6 1633.1,109.0 1633.5,107.8 1633.8,106.8 1634.2,105.2 1634.6,102.8 1635.0,101.9 1635.4,99.8 1635.7,97.4 1636.1,95.5 1636.5,94.0 1638.2,96.0 1639.9,96.1 1641.6,97.8 1643.0,98.9 1644.5,99.6 1645.9,99.6 1646.5,97.1 1647.0,95.9 1647.6,94.1 1648.1,93.2 1648.7,91.6 1649.2,90.3 1650.5,88.2 1651.7,86.9 1653.0,84.6 1654.6,84.7 1656.2,85.7 1657.8,85.0 1659.4,86.2 1661.1,87.4 1662.8,88.9 1664.5,88.7 1666.2,88.1 1667.9,88.6 1669.6,86.4 1670.9,88.0 1672.2,89.3 1673.4,90.2 1674.7,92.0 1675.5,90.7 1676.4,88.1 1677.2,86.3 1678.1,86.3 1679.0,84.0 1679.8,82.2 1681.4,82.2 1683.0,82.1 1684.6,83.2 1686.2,82.8 1687.8,84.5 1689.4,86.3 1691.0,86.6 1692.6,88.6 1694.1,86.2 1695.6,86.6 1697.0,85.7 1698.5,85.2 1700.0,82.7 1701.5,82.7 1703.1,83.2 1704.7,83.7 1706.3,83.9 1707.9,84.0 1709.2,86.1 1710.5,87.1 1711.7,87.8 1713.0,89.3 1714.3,89.6 1715.8,89.5 1717.3,91.4 1718.9,91.1 1720.4,93.1 1721.9,93.7 1723.2,93.9 1724.5,94.9 1725.8,95.8 1727.0,97.0 1728.3,99.5 1729.6,99.2 1731.1,101.1 1732.5,100.5 1734.0,101.6 1735.4,102.6 1736.9,103.1 1738.3,104.9 1739.8,104.3 1741.1,105.9 1742.3,106.5 1743.6,107.5 1744.9,109.6 1746.2,110.1 1747.5,111.5 1748.7,113.0 1750.0,113.1 1751.1,114.1 1752.3,116.4 1753.4,118.1 1754.5,117.5 1755.7,119.4 1756.8,121.5 1757.9,122.3 1759.1,123.7 1760.2,124.1 1761.2,126.1 1762.2,125.7 1763.3,127.8 1764.3,129.7 1765.3,130.2 1766.3,131.5 1767.3,132.8 1768.4,133.9 1769.4,136.0 1770.4,137.6 1771.5,137.5 1772.7,138.9 1773.8,141.1 1774.9,142.3 1776.1,143.7 1777.2,144.7 1778.3,146.4 1779.5,147.5 1780.6,148.4 1781.7,149.1 1782.9,150.0 1784.0,152.7 1785.1,154.0 1786.3,155.3 1787.4,155.4 1788.5,157.6 1789.7,159.2 1790.8,159.2 1791.9,160.0 1793.1,161.4 1794.2,162.6 1795.3,164.6 1796.5,165.9 1797.6,167.1 1798.7,168.0 1799.9,169.6 1801.0,170.8 1802.1,170.9 1803.3,172.9 1804.4,173.7 1805.5,174.0 1806.7,175.7 1807.8,176.1 1808.9,177.7 1810.1,179.5 1811.2,179.2 1812.7,181.2 1814.1,182.0 1815.6,182.8 1817.0,183.4 1818.5,185.2 1819.9,185.9 1821.4,186.5 1823.2,187.6 1825.0,188.8 1826.8,188.3 1828.6,190.2 1830.4,189.5 1831.5,191.5 1832.7,192.6 1833.8,194.8 1835.0,196.1 1836.1,197.1 1837.2,197.5 1838.4,198.9 1839.5,201.0 1840.7,201.7 1841.8,203.2 1843.3,204.1 1844.7,203.9 1846.2,205.0 1847.6,206.8 1849.1,206.4 1850.5,208.1 1852.0,207.6 1853.9,207.6 1855.8,208.8 1857.8,208.7 1859.7,209.6 1861.2,210.9 1862.7,210.6 1864.3,212.5 1865.8,213.3 1867.3,215.2 1868.8,216.0 1870.2,217.0 1871.7,217.7 1873.2,217.9 1874.7,219.3 1876.1,220.1 1877.6,220.7 1879.3,219.3 1881.0,218.6 1882.7,217.8 1884.6,217.1 1886.5,217.7 1888.4,217.8 1890.3,218.7 1891.8,219.4 1893.4,219.5 1894.9,221.1 1896.5,221.3 1898.0,222.8 1899.5,222.4 1901.0,223.9 1902.6,225.0 1904.1,224.2 1905.6,225.3 1906.5,225.0 1907.3,222.6 1908.2,221.1 1909.7,221.4 1911.2,223.3 1912.8,223.1 1914.3,224.7 1915.8,224.8 1917.1,225.2 1918.4,227.7 1919.7,228.6 1920.9,229.4 1922.2,230.2 1923.5,231.6 1924.8,233.2 1926.0,233.1 1927.3,234.5 1928.6,236.7 1929.8,237.4 1931.1,239.7 1932.4,240.6 1933.7,241.1 1934.9,241.6 1936.2,243.6 1937.6,244.5 1939.0,245.3 1940.4,246.5 1941.8,246.9" fill="none" stroke="#6cbc3f" stroke-width="2.9" stroke-linejoin="round"/>
<rect x="1596.3" y="259.2" width="1.6" height="57.69999999999999" fill="rgb(25,25,25)"/>
<rect x="1599.7" y="259.2" width="1.3" height="57.69999999999999" fill="rgb(0,0,0)"/>
<rect x="1601.0" y="259.2" width="1.3" height="57.69999999999999" fill="rgb(114,114,114)"/>
<rect x="1604.1" y="259.2" width="2.0" height="57.69999999999999" fill="rgb(63,63,63)"/>
<rect x="1606.9" y="259.2" width="1.6" height="57.69999999999999" fill="rgb(114,114,114)"/>
<rect x="1608.5" y="259.2" width="2.4" height="57.69999999999999" fill="rgb(25,25,25)"/>
<rect x="1610.9" y="259.2" width="1.3" height="57.69999999999999" fill="rgb(38,38,38)"/>
<rect x="1612.2" y="259.2" width="1.6" height="57.69999999999999" fill="rgb(25,25,25)"/>
<rect x="1613.8" y="259.2" width="2.4" height="57.69999999999999" fill="rgb(89,89,89)"/>
<rect x="1623.5" y="259.2" width="2.0" height="57.69999999999999" fill="rgb(25,25,25)"/>
<rect x="1631.7" y="259.2" width="2.0" height="57.69999999999999" fill="rgb(89,89,89)"/>
<rect x="1638.7" y="259.2" width="2.4" height="57.69999999999999" fill="rgb(140,140,140)"/>
<rect x="1641.1" y="259.2" width="1.3" height="57.69999999999999" fill="rgb(89,89,89)"/>
<rect x="1647.9" y="259.2" width="2.4" height="57.69999999999999" fill="rgb(114,114,114)"/>
<rect x="1650.3" y="259.2" width="1.3" height="57.69999999999999" fill="rgb(140,140,140)"/>
<rect x="1651.6" y="259.2" width="2.4" height="57.69999999999999" fill="rgb(0,0,0)"/>
<rect x="1657.8" y="259.2" width="1.0" height="57.69999999999999" fill="rgb(63,63,63)"/>
<rect x="1658.8" y="259.2" width="1.0" height="57.69999999999999" fill="rgb(25,25,25)"/>
<rect x="1661.8" y="259.2" width="1.0" height="57.69999999999999" fill="rgb(0,0,0)"/>
<rect x="1662.8" y="259.2" width="1.3" height="57.69999999999999" fill="rgb(38,38,38)"/>
<rect x="1664.9" y="259.2" width="1.0" height="57.69999999999999" fill="rgb(0,0,0)"/>
<rect x="1665.9" y="259.2" width="1.0" height="57.69999999999999" fill="rgb(89,89,89)"/>
<rect x="1666.9" y="259.2" width="1.3" height="57.69999999999999" fill="rgb(25,25,25)"/>
<rect x="1668.2" y="259.2" width="1.0" height="57.69999999999999" fill="rgb(114,114,114)"/>
<rect x="1669.2" y="259.2" width="1.3" height="57.69999999999999" fill="rgb(25,25,25)"/>
<rect x="1671.3" y="259.2" width="2.4" height="57.69999999999999" fill="rgb(0,0,0)"/>
<rect x="1673.7" y="259.2" width="2.0" height="57.69999999999999" fill="rgb(0,0,0)"/>
<rect x="1675.7" y="259.2" width="2.4" height="57.69999999999999" fill="rgb(0,0,0)"/>
<rect x="1681.8" y="259.2" width="1.3" height="57.69999999999999" fill="rgb(0,0,0)"/>
<rect x="1685.7" y="259.2" width="1.3" height="57.69999999999999" fill="rgb(114,114,114)"/>
<rect x="1687.0" y="259.2" width="1.6" height="57.69999999999999" fill="rgb(25,25,25)"/>
<rect x="1690.4" y="259.2" width="2.4" height="57.69999999999999" fill="rgb(114,114,114)"/>
<rect x="1695.8" y="259.2" width="1.3" height="57.69999999999999" fill="rgb(25,25,25)"/>
<rect x="1697.1" y="259.2" width="1.3" height="57.69999999999999" fill="rgb(0,0,0)"/>
<rect x="1700.4" y="259.2" width="2.4" height="57.69999999999999" fill="rgb(38,38,38)"/>
<rect x="1704.6" y="259.2" width="2.0" height="57.69999999999999" fill="rgb(63,63,63)"/>
<rect x="1706.6" y="259.2" width="1.0" height="57.69999999999999" fill="rgb(25,25,25)"/>
<rect x="1707.6" y="259.2" width="2.0" height="57.69999999999999" fill="rgb(25,25,25)"/>
<rect x="1709.6" y="259.2" width="1.0" height="57.69999999999999" fill="rgb(38,38,38)"/>
<rect x="1710.6" y="259.2" width="1.0" height="57.69999999999999" fill="rgb(25,25,25)"/>
<rect x="1712.4" y="259.2" width="2.4" height="57.69999999999999" fill="rgb(140,140,140)"/>
<rect x="1714.8" y="259.2" width="2.4" height="57.69999999999999" fill="rgb(114,114,114)"/>
<rect x="1717.2" y="259.2" width="1.3" height="57.69999999999999" fill="rgb(114,114,114)"/>
<rect x="1718.5" y="259.2" width="1.0" height="57.69999999999999" fill="rgb(0,0,0)"/>
<rect x="1723.2" y="259.2" width="2.4" height="57.69999999999999" fill="rgb(0,0,0)"/>
<rect x="1725.6" y="259.2" width="1.6" height="57.69999999999999" fill="rgb(89,89,89)"/>
<rect x="1727.2" y="259.2" width="2.0" height="57.69999999999999" fill="rgb(0,0,0)"/>
<rect x="1729.2" y="259.2" width="1.3" height="57.69999999999999" fill="rgb(0,0,0)"/>
<rect x="1731.3" y="259.2" width="2.0" height="57.69999999999999" fill="rgb(140,140,140)"/>
<rect x="1733.3" y="259.2" width="2.4" height="57.69999999999999" fill="rgb(0,0,0)"/>
<rect x="1735.7" y="259.2" width="1.0" height="57.69999999999999" fill="rgb(89,89,89)"/>
<rect x="1736.7" y="259.2" width="1.0" height="57.69999999999999" fill="rgb(38,38,38)"/>
<rect x="1738.9" y="259.2" width="1.6" height="57.69999999999999" fill="rgb(114,114,114)"/>
<rect x="1746.0" y="259.2" width="1.0" height="57.69999999999999" fill="rgb(89,89,89)"/>
<rect x="1749.0" y="259.2" width="2.0" height="57.69999999999999" fill="rgb(0,0,0)"/>
<rect x="1753.5" y="259.2" width="2.0" height="57.69999999999999" fill="rgb(25,25,25)"/>
<rect x="1757.3" y="259.2" width="2.0" height="57.69999999999999" fill="rgb(114,114,114)"/>
<rect x="1761.1" y="259.2" width="1.3" height="57.69999999999999" fill="rgb(140,140,140)"/>
<rect x="1762.4" y="259.2" width="2.4" height="57.69999999999999" fill="rgb(114,114,114)"/>
<rect x="1765.6" y="259.2" width="2.4" height="57.69999999999999" fill="rgb(0,0,0)"/>
<rect x="1768.0" y="259.2" width="1.3" height="57.69999999999999" fill="rgb(25,25,25)"/>
<rect x="1770.9" y="259.2" width="1.6" height="57.69999999999999" fill="rgb(114,114,114)"/>
<rect x="1772.5" y="259.2" width="1.6" height="57.69999999999999" fill="rgb(140,140,140)"/>
<rect x="1774.1" y="259.2" width="1.6" height="57.69999999999999" fill="rgb(0,0,0)"/>
<rect x="1775.7" y="259.2" width="2.0" height="57.69999999999999" fill="rgb(0,0,0)"/>
<rect x="1777.7" y="259.2" width="1.3" height="57.69999999999999" fill="rgb(63,63,63)"/>
<rect x="1779.0" y="259.2" width="1.3" height="57.69999999999999" fill="rgb(140,140,140)"/>
<rect x="1781.5" y="259.2" width="1.6" height="57.69999999999999" fill="rgb(25,25,25)"/>
<rect x="1795.9" y="259.2" width="2.4" height="57.69999999999999" fill="rgb(89,89,89)"/>
<rect x="1800.3" y="259.2" width="1.3" height="57.69999999999999" fill="rgb(114,114,114)"/>
<rect x="1804.9" y="259.2" width="2.4" height="57.69999999999999" fill="rgb(140,140,140)"/>
<rect x="1808.1" y="259.2" width="1.3" height="57.69999999999999" fill="rgb(114,114,114)"/>
<rect x="1810.2" y="259.2" width="2.4" height="57.69999999999999" fill="rgb(38,38,38)"/>
<rect x="1812.6" y="259.2" width="2.4" height="57.69999999999999" fill="rgb(38,38,38)"/>
<rect x="1815.0" y="259.2" width="2.4" height="57.69999999999999" fill="rgb(25,25,25)"/>
<rect x="1817.4" y="259.2" width="2.0" height="57.69999999999999" fill="rgb(140,140,140)"/>
<rect x="1819.4" y="259.2" width="2.4" height="57.69999999999999" fill="rgb(25,25,25)"/>
<rect x="1821.8" y="259.2" width="1.3" height="57.69999999999999" fill="rgb(0,0,0)"/>
<rect x="1823.1" y="259.2" width="2.0" height="57.69999999999999" fill="rgb(0,0,0)"/>
<rect x="1829.4" y="259.2" width="2.4" height="57.69999999999999" fill="rgb(140,140,140)"/>
<rect x="1831.8" y="259.2" width="1.0" height="57.69999999999999" fill="rgb(89,89,89)"/>
<rect x="1832.8" y="259.2" width="2.0" height="57.69999999999999" fill="rgb(63,63,63)"/>
<rect x="1836.0" y="259.2" width="2.0" height="57.69999999999999" fill="rgb(114,114,114)"/>
<rect x="1839.8" y="259.2" width="1.6" height="57.69999999999999" fill="rgb(140,140,140)"/>
<rect x="1843.2" y="259.2" width="2.0" height="57.69999999999999" fill="rgb(140,140,140)"/>
<rect x="1845.2" y="259.2" width="1.6" height="57.69999999999999" fill="rgb(140,140,140)"/>
<rect x="1851.1" y="259.2" width="1.6" height="57.69999999999999" fill="rgb(63,63,63)"/>
<rect x="1868.7" y="259.2" width="1.0" height="57.69999999999999" fill="rgb(89,89,89)"/>
<rect x="1879.4" y="259.2" width="1.3" height="57.69999999999999" fill="rgb(140,140,140)"/>
<rect x="1880.7" y="259.2" width="1.6" height="57.69999999999999" fill="rgb(25,25,25)"/>
<rect x="1882.3" y="259.2" width="1.3" height="57.69999999999999" fill="rgb(38,38,38)"/>
<rect x="1883.6" y="259.2" width="2.4" height="57.69999999999999" fill="rgb(114,114,114)"/>
<rect x="1886.0" y="259.2" width="1.6" height="57.69999999999999" fill="rgb(63,63,63)"/>
<rect x="1892.0" y="259.2" width="2.0" height="57.69999999999999" fill="rgb(140,140,140)"/>
<rect x="1894.0" y="259.2" width="1.6" height="57.69999999999999" fill="rgb(140,140,140)"/>
<rect x="1896.8" y="259.2" width="2.0" height="57.69999999999999" fill="rgb(25,25,25)"/>
<rect x="1899.6" y="259.2" width="1.6" height="57.69999999999999" fill="rgb(0,0,0)"/>
<rect x="1903.7" y="259.2" width="1.6" height="57.69999999999999" fill="rgb(38,38,38)"/>
<rect x="1911.5" y="259.2" width="1.3" height="57.69999999999999" fill="rgb(140,140,140)"/>
<rect x="1912.8" y="259.2" width="1.3" height="57.69999999999999" fill="rgb(38,38,38)"/>
<rect x="1914.1" y="259.2" width="1.3" height="57.69999999999999" fill="rgb(114,114,114)"/>
<rect x="1926.3" y="259.2" width="2.4" height="57.69999999999999" fill="rgb(0,0,0)"/>
<rect x="1594.5" y="316.9" width="347.5" height="12.6" fill="url(#cb2)"/>
<rect x="1596.0" y="316.9" width="1.2" height="12.600000000000023" fill="#000" fill-opacity="0.06"/>
<rect x="1597.7" y="316.9" width="1.2" height="12.600000000000023" fill="#000" fill-opacity="0.03"/>
<rect x="1600.3" y="316.9" width="1.2" height="12.600000000000023" fill="#000" fill-opacity="0.00"/>
<rect x="1602.2" y="316.9" width="1.2" height="12.600000000000023" fill="#000" fill-opacity="0.07"/>
<rect x="1604.7" y="316.9" width="1.2" height="12.600000000000023" fill="#000" fill-opacity="0.07"/>
<rect x="1608.0" y="316.9" width="1.2" height="12.600000000000023" fill="#000" fill-opacity="0.06"/>
<rect x="1609.6" y="316.9" width="1.2" height="12.600000000000023" fill="#000" fill-opacity="0.02"/>
<rect x="1613.2" y="316.9" width="1.2" height="12.600000000000023" fill="#000" fill-opacity="0.00"/>
<rect x="1614.7" y="316.9" width="1.2" height="12.600000000000023" fill="#000" fill-opacity="0.02"/>
<rect x="1617.3" y="316.9" width="1.2" height="12.600000000000023" fill="#000" fill-opacity="0.01"/>
<rect x="1620.5" y="316.9" width="1.2" height="12.600000000000023" fill="#000" fill-opacity="0.01"/>
<rect x="1623.5" y="316.9" width="1.2" height="12.600000000000023" fill="#000" fill-opacity="0.05"/>
<rect x="1624.6" y="316.9" width="1.2" height="12.600000000000023" fill="#000" fill-opacity="0.06"/>
<rect x="1627.4" y="316.9" width="1.2" height="12.600000000000023" fill="#000" fill-opacity="0.03"/>
<rect x="1630.3" y="316.9" width="1.2" height="12.600000000000023" fill="#000" fill-opacity="0.01"/>
<rect x="1632.8" y="316.9" width="1.2" height="12.600000000000023" fill="#000" fill-opacity="0.00"/>
<rect x="1634.8" y="316.9" width="1.2" height="12.600000000000023" fill="#000" fill-opacity="0.06"/>
<rect x="1638.2" y="316.9" width="1.2" height="12.600000000000023" fill="#000" fill-opacity="0.04"/>
<rect x="1640.5" y="316.9" width="1.2" height="12.600000000000023" fill="#000" fill-opacity="0.06"/>
<rect x="1642.2" y="316.9" width="1.2" height="12.600000000000023" fill="#000" fill-opacity="0.03"/>
<rect x="1644.7" y="316.9" width="1.2" height="12.600000000000023" fill="#000" fill-opacity="0.01"/>
<rect x="1647.2" y="316.9" width="1.2" height="12.600000000000023" fill="#000" fill-opacity="0.01"/>
<rect x="1649.6" y="316.9" width="1.2" height="12.600000000000023" fill="#000" fill-opacity="0.02"/>
<rect x="1652.6" y="316.9" width="1.2" height="12.600000000000023" fill="#000" fill-opacity="0.04"/>
<rect x="1655.8" y="316.9" width="1.2" height="12.600000000000023" fill="#000" fill-opacity="0.06"/>
<rect x="1658.1" y="316.9" width="1.2" height="12.600000000000023" fill="#000" fill-opacity="0.04"/>
<rect x="1660.9" y="316.9" width="1.2" height="12.600000000000023" fill="#000" fill-opacity="0.01"/>
<rect x="1662.2" y="316.9" width="1.2" height="12.600000000000023" fill="#000" fill-opacity="0.06"/>
<rect x="1665.4" y="316.9" width="1.2" height="12.600000000000023" fill="#000" fill-opacity="0.01"/>
<rect x="1667.6" y="316.9" width="1.2" height="12.600000000000023" fill="#000" fill-opacity="0.02"/>
<rect x="1670.1" y="316.9" width="1.2" height="12.600000000000023" fill="#000" fill-opacity="0.03"/>
<rect x="1672.6" y="316.9" width="1.2" height="12.600000000000023" fill="#000" fill-opacity="0.06"/>
<rect x="1675.7" y="316.9" width="1.2" height="12.600000000000023" fill="#000" fill-opacity="0.04"/>
<rect x="1677.7" y="316.9" width="1.2" height="12.600000000000023" fill="#000" fill-opacity="0.02"/>
<rect x="1680.6" y="316.9" width="1.2" height="12.600000000000023" fill="#000" fill-opacity="0.07"/>
<rect x="1682.3" y="316.9" width="1.2" height="12.600000000000023" fill="#000" fill-opacity="0.05"/>
<rect x="1685.5" y="316.9" width="1.2" height="12.600000000000023" fill="#000" fill-opacity="0.05"/>
<rect x="1687.0" y="316.9" width="1.2" height="12.600000000000023" fill="#000" fill-opacity="0.04"/>
<rect x="1689.8" y="316.9" width="1.2" height="12.600000000000023" fill="#000" fill-opacity="0.01"/>
<rect x="1692.9" y="316.9" width="1.2" height="12.600000000000023" fill="#000" fill-opacity="0.05"/>
<rect x="1695.4" y="316.9" width="1.2" height="12.600000000000023" fill="#000" fill-opacity="0.05"/>
<rect x="1698.1" y="316.9" width="1.2" height="12.600000000000023" fill="#000" fill-opacity="0.03"/>
<rect x="1699.6" y="316.9" width="1.2" height="12.600000000000023" fill="#000" fill-opacity="0.05"/>
<rect x="1703.2" y="316.9" width="1.2" height="12.600000000000023" fill="#000" fill-opacity="0.06"/>
<rect x="1705.4" y="316.9" width="1.2" height="12.600000000000023" fill="#000" fill-opacity="0.00"/>
<rect x="1707.3" y="316.9" width="1.2" height="12.600000000000023" fill="#000" fill-opacity="0.01"/>
<rect x="1710.5" y="316.9" width="1.2" height="12.600000000000023" fill="#000" fill-opacity="0.04"/>
<rect x="1712.3" y="316.9" width="1.2" height="12.600000000000023" fill="#000" fill-opacity="0.07"/>
<rect x="1716.0" y="316.9" width="1.2" height="12.600000000000023" fill="#000" fill-opacity="0.06"/>
<rect x="1717.7" y="316.9" width="1.2" height="12.600000000000023" fill="#000" fill-opacity="0.02"/>
<rect x="1719.8" y="316.9" width="1.2" height="12.600000000000023" fill="#000" fill-opacity="0.06"/>
<rect x="1723.1" y="316.9" width="1.2" height="12.600000000000023" fill="#000" fill-opacity="0.02"/>
<rect x="1725.9" y="316.9" width="1.2" height="12.600000000000023" fill="#000" fill-opacity="0.04"/>
<rect x="1727.6" y="316.9" width="1.2" height="12.600000000000023" fill="#000" fill-opacity="0.03"/>
<rect x="1730.6" y="316.9" width="1.2" height="12.600000000000023" fill="#000" fill-opacity="0.03"/>
<rect x="1733.0" y="316.9" width="1.2" height="12.600000000000023" fill="#000" fill-opacity="0.01"/>
<rect x="1735.6" y="316.9" width="1.2" height="12.600000000000023" fill="#000" fill-opacity="0.02"/>
<rect x="1738.4" y="316.9" width="1.2" height="12.600000000000023" fill="#000" fill-opacity="0.02"/>
<rect x="1740.0" y="316.9" width="1.2" height="12.600000000000023" fill="#000" fill-opacity="0.04"/>
<rect x="1742.6" y="316.9" width="1.2" height="12.600000000000023" fill="#000" fill-opacity="0.04"/>
<rect x="1745.9" y="316.9" width="1.2" height="12.600000000000023" fill="#000" fill-opacity="0.01"/>
<rect x="1748.2" y="316.9" width="1.2" height="12.600000000000023" fill="#000" fill-opacity="0.05"/>
<rect x="1750.7" y="316.9" width="1.2" height="12.600000000000023" fill="#000" fill-opacity="0.03"/>
<rect x="1752.7" y="316.9" width="1.2" height="12.600000000000023" fill="#000" fill-opacity="0.02"/>
<rect x="1755.2" y="316.9" width="1.2" height="12.600000000000023" fill="#000" fill-opacity="0.02"/>
<rect x="1757.3" y="316.9" width="1.2" height="12.600000000000023" fill="#000" fill-opacity="0.03"/>
<rect x="1759.8" y="316.9" width="1.2" height="12.600000000000023" fill="#000" fill-opacity="0.03"/>
<rect x="1762.9" y="316.9" width="1.2" height="12.600000000000023" fill="#000" fill-opacity="0.02"/>
<rect x="1764.8" y="316.9" width="1.2" height="12.600000000000023" fill="#000" fill-opacity="0.04"/>
<rect x="1768.3" y="316.9" width="1.2" height="12.600000000000023" fill="#000" fill-opacity="0.02"/>
<rect x="1770.4" y="316.9" width="1.2" height="12.600000000000023" fill="#000" fill-opacity="0.05"/>
<rect x="1773.3" y="316.9" width="1.2" height="12.600000000000023" fill="#000" fill-opacity="0.05"/>
<rect x="1775.0" y="316.9" width="1.2" height="12.600000000000023" fill="#000" fill-opacity="0.01"/>
<rect x="1778.3" y="316.9" width="1.2" height="12.600000000000023" fill="#000" fill-opacity="0.02"/>
<rect x="1779.5" y="316.9" width="1.2" height="12.600000000000023" fill="#000" fill-opacity="0.06"/>
<rect x="1782.3" y="316.9" width="1.2" height="12.600000000000023" fill="#000" fill-opacity="0.02"/>
<rect x="1785.0" y="316.9" width="1.2" height="12.600000000000023" fill="#000" fill-opacity="0.02"/>
<rect x="1788.1" y="316.9" width="1.2" height="12.600000000000023" fill="#000" fill-opacity="0.02"/>
<rect x="1790.2" y="316.9" width="1.2" height="12.600000000000023" fill="#000" fill-opacity="0.03"/>
<rect x="1793.3" y="316.9" width="1.2" height="12.600000000000023" fill="#000" fill-opacity="0.00"/>
<rect x="1795.4" y="316.9" width="1.2" height="12.600000000000023" fill="#000" fill-opacity="0.01"/>
<rect x="1797.2" y="316.9" width="1.2" height="12.600000000000023" fill="#000" fill-opacity="0.04"/>
<rect x="1800.1" y="316.9" width="1.2" height="12.600000000000023" fill="#000" fill-opacity="0.00"/>
<rect x="1802.9" y="316.9" width="1.2" height="12.600000000000023" fill="#000" fill-opacity="0.06"/>
<rect x="1805.5" y="316.9" width="1.2" height="12.600000000000023" fill="#000" fill-opacity="0.03"/>
<rect x="1808.2" y="316.9" width="1.2" height="12.600000000000023" fill="#000" fill-opacity="0.06"/>
<rect x="1809.7" y="316.9" width="1.2" height="12.600000000000023" fill="#000" fill-opacity="0.02"/>
<rect x="1813.4" y="316.9" width="1.2" height="12.600000000000023" fill="#000" fill-opacity="0.06"/>
<rect x="1814.8" y="316.9" width="1.2" height="12.600000000000023" fill="#000" fill-opacity="0.05"/>
<rect x="1818.3" y="316.9" width="1.2" height="12.600000000000023" fill="#000" fill-opacity="0.04"/>
<rect x="1820.6" y="316.9" width="1.2" height="12.600000000000023" fill="#000" fill-opacity="0.04"/>
<rect x="1822.4" y="316.9" width="1.2" height="12.600000000000023" fill="#000" fill-opacity="0.01"/>
<rect x="1824.6" y="316.9" width="1.2" height="12.600000000000023" fill="#000" fill-opacity="0.05"/>
<rect x="1827.2" y="316.9" width="1.2" height="12.600000000000023" fill="#000" fill-opacity="0.04"/>
<rect x="1830.1" y="316.9" width="1.2" height="12.600000000000023" fill="#000" fill-opacity="0.03"/>
<rect x="1833.5" y="316.9" width="1.2" height="12.600000000000023" fill="#000" fill-opacity="0.03"/>
<rect x="1835.2" y="316.9" width="1.2" height="12.600000000000023" fill="#000" fill-opacity="0.03"/>
<rect x="1837.3" y="316.9" width="1.2" height="12.600000000000023" fill="#000" fill-opacity="0.02"/>
<rect x="1840.3" y="316.9" width="1.2" height="12.600000000000023" fill="#000" fill-opacity="0.06"/>
<rect x="1842.1" y="316.9" width="1.2" height="12.600000000000023" fill="#000" fill-opacity="0.07"/>
<rect x="1845.5" y="316.9" width="1.2" height="12.600000000000023" fill="#000" fill-opacity="0.00"/>
<rect x="1848.1" y="316.9" width="1.2" height="12.600000000000023" fill="#000" fill-opacity="0.03"/>
<rect x="1850.3" y="316.9" width="1.2" height="12.600000000000023" fill="#000" fill-opacity="0.01"/>
<rect x="1852.8" y="316.9" width="1.2" height="12.600000000000023" fill="#000" fill-opacity="0.04"/>
<rect x="1855.7" y="316.9" width="1.2" height="12.600000000000023" fill="#000" fill-opacity="0.04"/>
<rect x="1858.1" y="316.9" width="1.2" height="12.600000000000023" fill="#000" fill-opacity="0.05"/>
<rect x="1859.8" y="316.9" width="1.2" height="12.600000000000023" fill="#000" fill-opacity="0.00"/>
<rect x="1862.7" y="316.9" width="1.2" height="12.600000000000023" fill="#000" fill-opacity="0.01"/>
<rect x="1864.7" y="316.9" width="1.2" height="12.600000000000023" fill="#000" fill-opacity="0.02"/>
<rect x="1867.8" y="316.9" width="1.2" height="12.600000000000023" fill="#000" fill-opacity="0.04"/>
<rect x="1870.5" y="316.9" width="1.2" height="12.600000000000023" fill="#000" fill-opacity="0.07"/>
<rect x="1872.2" y="316.9" width="1.2" height="12.600000000000023" fill="#000" fill-opacity="0.04"/>
<rect x="1874.6" y="316.9" width="1.2" height="12.600000000000023" fill="#000" fill-opacity="0.05"/>
<rect x="1877.7" y="316.9" width="1.2" height="12.600000000000023" fill="#000" fill-opacity="0.01"/>
<rect x="1880.0" y="316.9" width="1.2" height="12.600000000000023" fill="#000" fill-opacity="0.05"/>
<rect x="1882.7" y="316.9" width="1.2" height="12.600000000000023" fill="#000" fill-opacity="0.07"/>
<rect x="1885.0" y="316.9" width="1.2" height="12.600000000000023" fill="#000" fill-opacity="0.02"/>
<rect x="1888.4" y="316.9" width="1.2" height="12.600000000000023" fill="#000" fill-opacity="0.04"/>
<rect x="1889.7" y="316.9" width="1.2" height="12.600000000000023" fill="#000" fill-opacity="0.05"/>
<rect x="1892.5" y="316.9" width="1.2" height="12.600000000000023" fill="#000" fill-opacity="0.07"/>
<rect x="1895.5" y="316.9" width="1.2" height="12.600000000000023" fill="#000" fill-opacity="0.06"/>
<rect x="1898.3" y="316.9" width="1.2" height="12.600000000000023" fill="#000" fill-opacity="0.04"/>
<rect x="1901.0" y="316.9" width="1.2" height="12.600000000000023" fill="#000" fill-opacity="0.00"/>
<rect x="1902.5" y="316.9" width="1.2" height="12.600000000000023" fill="#000" fill-opacity="0.06"/>
<rect x="1904.5" y="316.9" width="1.2" height="12.600000000000023" fill="#000" fill-opacity="0.05"/>
<rect x="1908.5" y="316.9" width="1.2" height="12.600000000000023" fill="#000" fill-opacity="0.05"/>
<rect x="1910.8" y="316.9" width="1.2" height="12.600000000000023" fill="#000" fill-opacity="0.01"/>
<rect x="1912.8" y="316.9" width="1.2" height="12.600000000000023" fill="#000" fill-opacity="0.04"/>
<rect x="1915.2" y="316.9" width="1.2" height="12.600000000000023" fill="#000" fill-opacity="0.03"/>
<rect x="1918.2" y="316.9" width="1.2" height="12.600000000000023" fill="#000" fill-opacity="0.01"/>
<rect x="1919.6" y="316.9" width="1.2" height="12.600000000000023" fill="#000" fill-opacity="0.04"/>
<rect x="1923.4" y="316.9" width="1.2" height="12.600000000000023" fill="#000" fill-opacity="0.06"/>
<rect x="1925.5" y="316.9" width="1.2" height="12.600000000000023" fill="#000" fill-opacity="0.02"/>
<rect x="1928.4" y="316.9" width="1.2" height="12.600000000000023" fill="#000" fill-opacity="0.00"/>
<rect x="1929.9" y="316.9" width="1.2" height="12.600000000000023" fill="#000" fill-opacity="0.06"/>
<rect x="1933.3" y="316.9" width="1.2" height="12.600000000000023" fill="#000" fill-opacity="0.03"/>
<rect x="1935.9" y="316.9" width="1.2" height="12.600000000000023" fill="#000" fill-opacity="0.01"/>
<rect x="1937.9" y="316.9" width="1.2" height="12.600000000000023" fill="#000" fill-opacity="0.00"/>
<rect x="1939.9" y="316.9" width="1.2" height="12.600000000000023" fill="#000" fill-opacity="0.01"/>
<text x="1528.5" y="212.5" font-size="28.5" text-anchor="middle" transform="rotate(-90 1528.5 212.5)" textLength="312.0" lengthAdjust="spacingAndGlyphs">Enrichment score (ES)</text>
<text x="1724.0" y="102.3" font-size="28.3" textLength="184.7" lengthAdjust="spacingAndGlyphs">NES = 1.6656</text>
<text x="1724.0" y="138.0" font-size="28.3" textLength="226.0" lengthAdjust="spacingAndGlyphs">Norm.P &lt; 0.0001</text>
<polygon points="1683.2,340.5 1674.4,357.8 1692.0,357.8" fill="#e8201e"/>
<rect x="1681.6" y="356.0" width="3.2" height="8.5" fill="#e8201e"/>
<text x="1597.5" y="404.3" font-size="32.8" fill="#e8201e" textLength="344.2" lengthAdjust="spacingAndGlyphs">MOLM-13-C/EBPα-p42</text>
<text x="1597.5" y="444.8" font-size="32.8" fill="#e8201e" textLength="338.9" lengthAdjust="spacingAndGlyphs">(positively correlated)</text>
<line x1="1093.0" y1="486.8" x2="1118.0" y2="486.8" stroke="#6cbc3f" stroke-width="1.4"/>
<text x="1128.2" y="500.8" font-size="32.8" textLength="288.0" lengthAdjust="spacingAndGlyphs">Enrichment profile</text>
<line x1="1194.3" y1="545.5" x2="1221.0" y2="545.5" stroke="#000" stroke-width="1.6"/>
<text x="1230.3" y="558.5" font-size="32.8" textLength="60.6" lengthAdjust="spacingAndGlyphs">Hits</text>
<line x1="1597.0" y1="485.7" x2="1622.8" y2="485.7" stroke="#6cbc3f" stroke-width="1.4"/>
<text x="1633.2" y="498.7" font-size="32.8" textLength="288.0" lengthAdjust="spacingAndGlyphs">Enrichment profile</text>
<line x1="1707.7" y1="542.8" x2="1733.9" y2="542.8" stroke="#000" stroke-width="1.6"/>
<text x="1743.3" y="556.4" font-size="32.8" textLength="61.0" lengthAdjust="spacingAndGlyphs">Hits</text>
<text x="0.2" y="626.5" font-size="37.5" textLength="26.1" lengthAdjust="spacingAndGlyphs">C</text>
<text x="125.0" y="649.2" font-size="22.6" textLength="196.9" lengthAdjust="spacingAndGlyphs">Cellular response</text>
<text x="112.5" y="671.6" font-size="22.6" textLength="226.3" lengthAdjust="spacingAndGlyphs">to cytokine stimulus</text>
<text x="559.9" y="649.2" font-size="22.6" textLength="209.1" lengthAdjust="spacingAndGlyphs">Positive regulation</text>
<text x="540.8" y="671.6" font-size="22.6" textLength="252.0" lengthAdjust="spacingAndGlyphs">of cytokine production</text>
<polygon points="264.8,678.7 272.6,691.1 266.4,695.0 286.4,707.0 284.2,683.8 278.0,687.7 270.2,675.3" fill="#000"/>
<polygon points="685.8,679.2 693.5,691.9 687.2,695.7 707.0,708.0 705.2,684.8 698.9,688.6 691.2,675.8" fill="#000"/>
<polygon points="439.8,852.3 432.8,863.6 426.5,859.8 424.5,883.0 444.4,870.9 438.2,867.0 445.2,855.7" fill="#e8201e"/>
<polygon points="821.5,737.9 814.2,750.0 807.9,746.3 806.2,769.5 825.9,757.1 819.6,753.3 826.9,741.1" fill="#e8201e"/>
<path d="M234.20,723.90 A158,158 0 0 1 313.20,745.07 L286.20,791.83 A104,104 0 0 0 234.20,777.90 Z" fill="#b3b3b3"/>
<path d="M234.20,764.40 A117.5,117.5 0 0 1 292.95,780.14" fill="none" stroke="#fff" stroke-width="2.2"/>
<path d="M234.20,750.90 A131,131 0 0 1 299.70,768.45" fill="none" stroke="#fff" stroke-width="2.2"/>
<path d="M234.20,737.40 A144.5,144.5 0 0 1 306.45,756.76" fill="none" stroke="#fff" stroke-width="2.2"/>
<path d="M327.07,754.08 A158,158 0 0 1 378.54,817.64 L329.21,839.60 A104,104 0 0 0 295.33,797.76 Z" fill="#b3b3b3"/>
<path d="M303.26,786.84 A117.5,117.5 0 0 1 341.54,834.11" fill="none" stroke="#fff" stroke-width="2.2"/>
<path d="M311.20,775.92 A131,131 0 0 1 353.87,828.62" fill="none" stroke="#fff" stroke-width="2.2"/>
<path d="M319.13,765.00 A144.5,144.5 0 0 1 366.21,823.13" fill="none" stroke="#fff" stroke-width="2.2"/>
<path d="M384.47,833.08 A158,158 0 0 1 388.75,914.75 L335.93,903.52 A104,104 0 0 0 333.11,849.76 Z" fill="#b3b3b3"/>
<path d="M345.95,845.59 A117.5,117.5 0 0 1 349.13,906.33" fill="none" stroke="#fff" stroke-width="2.2"/>
<path d="M358.79,841.42 A131,131 0 0 1 362.34,909.14" fill="none" stroke="#fff" stroke-width="2.2"/>
<path d="M371.63,837.25 A144.5,144.5 0 0 1 375.54,911.94" fill="none" stroke="#fff" stroke-width="2.2"/>
<path d="M384.47,930.72 A158,158 0 0 1 339.92,999.32 L303.79,959.19 A104,104 0 0 0 333.11,914.04 Z" fill="#b3b3b3"/>
<path d="M345.95,918.21 A117.5,117.5 0 0 1 312.82,969.22" fill="none" stroke="#fff" stroke-width="2.2"/>
<path d="M358.79,922.38 A131,131 0 0 1 321.86,979.25" fill="none" stroke="#fff" stroke-width="2.2"/>
<path d="M371.63,926.55 A144.5,144.5 0 0 1 330.89,989.28" fill="none" stroke="#fff" stroke-width="2.2"/>
<path d="M327.07,1009.72 A158,158 0 0 1 250.72,1039.03 L245.07,985.33 A104,104 0 0 0 295.33,966.04 Z" fill="#b3b3b3"/>
<path d="M303.26,976.96 A117.5,117.5 0 0 1 246.48,998.76" fill="none" stroke="#fff" stroke-width="2.2"/>
<path d="M311.20,987.88 A131,131 0 0 1 247.89,1012.18" fill="none" stroke="#fff" stroke-width="2.2"/>
<path d="M319.13,998.80 A144.5,144.5 0 0 1 249.30,1025.61" fill="none" stroke="#fff" stroke-width="2.2"/>
<path d="M234.20,1039.90 A158,158 0 0 1 155.20,1018.73 L182.20,971.97 A104,104 0 0 0 234.20,985.90 Z" fill="#b3b3b3"/>
<path d="M234.20,999.40 A117.5,117.5 0 0 1 175.45,983.66" fill="none" stroke="#fff" stroke-width="2.2"/>
<path d="M234.20,1012.90 A131,131 0 0 1 168.70,995.35" fill="none" stroke="#fff" stroke-width="2.2"/>
<path d="M234.20,1026.40 A144.5,144.5 0 0 1 161.95,1007.04" fill="none" stroke="#fff" stroke-width="2.2"/>
<path d="M141.33,1009.72 A158,158 0 0 1 89.86,946.16 L139.19,924.20 A104,104 0 0 0 173.07,966.04 Z" fill="#b3b3b3"/>
<path d="M165.14,976.96 A117.5,117.5 0 0 1 126.86,929.69" fill="none" stroke="#fff" stroke-width="2.2"/>
<path d="M157.20,987.88 A131,131 0 0 1 114.53,935.18" fill="none" stroke="#fff" stroke-width="2.2"/>
<path d="M149.27,998.80 A144.5,144.5 0 0 1 102.19,940.67" fill="none" stroke="#fff" stroke-width="2.2"/>
<path d="M83.93,930.72 A158,158 0 0 1 79.65,849.05 L132.47,860.28 A104,104 0 0 0 135.29,914.04 Z" fill="#b3b3b3"/>
<path d="M122.45,918.21 A117.5,117.5 0 0 1 119.27,857.47" fill="none" stroke="#fff" stroke-width="2.2"/>
<path d="M109.61,922.38 A131,131 0 0 1 106.06,854.66" fill="none" stroke="#fff" stroke-width="2.2"/>
<path d="M96.77,926.55 A144.5,144.5 0 0 1 92.86,851.86" fill="none" stroke="#fff" stroke-width="2.2"/>
<path d="M83.93,833.08 A158,158 0 0 1 128.48,764.48 L164.61,804.61 A104,104 0 0 0 135.29,849.76 Z" fill="#b3b3b3"/>
<path d="M122.45,845.59 A117.5,117.5 0 0 1 155.58,794.58" fill="none" stroke="#fff" stroke-width="2.2"/>
<path d="M109.61,841.42 A131,131 0 0 1 146.54,784.55" fill="none" stroke="#fff" stroke-width="2.2"/>
<path d="M96.77,837.25 A144.5,144.5 0 0 1 137.51,774.52" fill="none" stroke="#fff" stroke-width="2.2"/>
<path d="M141.33,754.08 A158,158 0 0 1 217.68,724.77 L223.33,778.47 A104,104 0 0 0 173.07,797.76 Z" fill="#b3b3b3"/>
<path d="M165.14,786.84 A117.5,117.5 0 0 1 221.92,765.04" fill="none" stroke="#fff" stroke-width="2.2"/>
<path d="M157.20,775.92 A131,131 0 0 1 220.51,751.62" fill="none" stroke="#fff" stroke-width="2.2"/>
<path d="M149.27,765.00 A144.5,144.5 0 0 1 219.10,738.19" fill="none" stroke="#fff" stroke-width="2.2"/>
<circle cx="240.3" cy="735.6" r="4.6" fill="#d83a3a" stroke="#3a1a1a" stroke-width="0.6"/>
<circle cx="246.0" cy="736.7" r="4.6" fill="#d83a3a" stroke="#3a1a1a" stroke-width="0.6"/>
<circle cx="246.4" cy="735.9" r="4.6" fill="#d83a3a" stroke="#3a1a1a" stroke-width="0.6"/>
<circle cx="247.3" cy="736.7" r="4.6" fill="#d83a3a" stroke="#3a1a1a" stroke-width="0.6"/>
<circle cx="253.1" cy="735.3" r="4.6" fill="#d83a3a" stroke="#3a1a1a" stroke-width="0.6"/>
<circle cx="252.3" cy="739.0" r="4.6" fill="#d83a3a" stroke="#3a1a1a" stroke-width="0.6"/>
<circle cx="255.6" cy="735.7" r="4.6" fill="#d83a3a" stroke="#3a1a1a" stroke-width="0.6"/>
<circle cx="261.1" cy="742.5" r="4.6" fill="#d83a3a" stroke="#3a1a1a" stroke-width="0.6"/>
<circle cx="267.0" cy="736.8" r="4.6" fill="#d83a3a" stroke="#3a1a1a" stroke-width="0.6"/>
<circle cx="267.3" cy="739.7" r="4.6" fill="#d83a3a" stroke="#3a1a1a" stroke-width="0.6"/>
<circle cx="266.1" cy="744.1" r="4.6" fill="#d83a3a" stroke="#3a1a1a" stroke-width="0.6"/>
<circle cx="271.0" cy="745.1" r="4.6" fill="#d83a3a" stroke="#3a1a1a" stroke-width="0.6"/>
<circle cx="272.2" cy="744.1" r="4.6" fill="#d83a3a" stroke="#3a1a1a" stroke-width="0.6"/>
<circle cx="274.4" cy="743.1" r="4.6" fill="#d83a3a" stroke="#3a1a1a" stroke-width="0.6"/>
<circle cx="280.4" cy="742.0" r="4.6" fill="#d83a3a" stroke="#3a1a1a" stroke-width="0.6"/>
<circle cx="283.1" cy="744.6" r="4.6" fill="#d83a3a" stroke="#3a1a1a" stroke-width="0.6"/>
<circle cx="285.7" cy="745.5" r="4.6" fill="#d83a3a" stroke="#3a1a1a" stroke-width="0.6"/>
<circle cx="287.0" cy="749.2" r="4.6" fill="#d83a3a" stroke="#3a1a1a" stroke-width="0.6"/>
<circle cx="294.8" cy="746.8" r="4.6" fill="#d83a3a" stroke="#3a1a1a" stroke-width="0.6"/>
<circle cx="295.6" cy="749.6" r="4.6" fill="#d83a3a" stroke="#3a1a1a" stroke-width="0.6"/>
<circle cx="293.8" cy="752.8" r="4.6" fill="#d83a3a" stroke="#3a1a1a" stroke-width="0.6"/>
<circle cx="295.6" cy="755.1" r="4.6" fill="#d83a3a" stroke="#3a1a1a" stroke-width="0.6"/>
<circle cx="301.8" cy="755.6" r="4.6" fill="#d83a3a" stroke="#3a1a1a" stroke-width="0.6"/>
<circle cx="292.3" cy="768.2" r="4.6" fill="#d83a3a" stroke="#3a1a1a" stroke-width="0.6"/>
<circle cx="295.1" cy="764.2" r="4.6" fill="#d83a3a" stroke="#3a1a1a" stroke-width="0.6"/>
<circle cx="291.2" cy="760.0" r="4.6" fill="#d83a3a" stroke="#3a1a1a" stroke-width="0.6"/>
<circle cx="297.8" cy="758.4" r="4.6" fill="#d83a3a" stroke="#3a1a1a" stroke-width="0.6"/>
<circle cx="299.7" cy="755.5" r="4.6" fill="#d83a3a" stroke="#3a1a1a" stroke-width="0.6"/>
<circle cx="296.7" cy="749.2" r="4.6" fill="#d83a3a" stroke="#3a1a1a" stroke-width="0.6"/>
<circle cx="301.8" cy="748.7" r="4.6" fill="#d83a3a" stroke="#3a1a1a" stroke-width="0.6"/>
<circle cx="237.4" cy="762.0" r="4.6" fill="#6a8bc6" stroke="#1a2a4a" stroke-width="0.6"/>
<circle cx="243.9" cy="757.1" r="4.6" fill="#6a8bc6" stroke="#1a2a4a" stroke-width="0.6"/>
<circle cx="241.0" cy="763.4" r="4.6" fill="#6a8bc6" stroke="#1a2a4a" stroke-width="0.6"/>
<circle cx="242.5" cy="765.9" r="4.6" fill="#6a8bc6" stroke="#1a2a4a" stroke-width="0.6"/>
<circle cx="247.7" cy="765.0" r="4.6" fill="#6a8bc6" stroke="#1a2a4a" stroke-width="0.6"/>
<circle cx="248.7" cy="761.8" r="4.6" fill="#6a8bc6" stroke="#1a2a4a" stroke-width="0.6"/>
<circle cx="249.0" cy="758.3" r="4.6" fill="#6a8bc6" stroke="#1a2a4a" stroke-width="0.6"/>
<circle cx="250.4" cy="759.7" r="4.6" fill="#6a8bc6" stroke="#1a2a4a" stroke-width="0.6"/>
<circle cx="251.7" cy="762.7" r="4.6" fill="#6a8bc6" stroke="#1a2a4a" stroke-width="0.6"/>
<circle cx="253.6" cy="765.0" r="4.6" fill="#6a8bc6" stroke="#1a2a4a" stroke-width="0.6"/>
<circle cx="260.4" cy="759.6" r="4.6" fill="#6a8bc6" stroke="#1a2a4a" stroke-width="0.6"/>
<circle cx="259.0" cy="758.3" r="4.6" fill="#6a8bc6" stroke="#1a2a4a" stroke-width="0.6"/>
<circle cx="259.1" cy="764.7" r="4.6" fill="#6a8bc6" stroke="#1a2a4a" stroke-width="0.6"/>
<circle cx="264.7" cy="762.9" r="4.6" fill="#6a8bc6" stroke="#1a2a4a" stroke-width="0.6"/>
<circle cx="263.7" cy="758.3" r="4.6" fill="#6a8bc6" stroke="#1a2a4a" stroke-width="0.6"/>
<circle cx="263.8" cy="767.8" r="4.6" fill="#6a8bc6" stroke="#1a2a4a" stroke-width="0.6"/>
<circle cx="268.4" cy="768.2" r="4.6" fill="#6a8bc6" stroke="#1a2a4a" stroke-width="0.6"/>
<circle cx="266.9" cy="771.2" r="4.6" fill="#6a8bc6" stroke="#1a2a4a" stroke-width="0.6"/>
<circle cx="269.4" cy="765.3" r="4.6" fill="#6a8bc6" stroke="#1a2a4a" stroke-width="0.6"/>
<circle cx="271.9" cy="766.0" r="4.6" fill="#6a8bc6" stroke="#1a2a4a" stroke-width="0.6"/>
<circle cx="273.6" cy="768.6" r="4.6" fill="#6a8bc6" stroke="#1a2a4a" stroke-width="0.6"/>
<circle cx="278.1" cy="769.9" r="4.6" fill="#6a8bc6" stroke="#1a2a4a" stroke-width="0.6"/>
<circle cx="279.7" cy="765.5" r="4.6" fill="#6a8bc6" stroke="#1a2a4a" stroke-width="0.6"/>
<circle cx="276.3" cy="773.8" r="4.6" fill="#6a8bc6" stroke="#1a2a4a" stroke-width="0.6"/>
<circle cx="284.4" cy="768.2" r="4.6" fill="#6a8bc6" stroke="#1a2a4a" stroke-width="0.6"/>
<circle cx="279.9" cy="774.9" r="4.6" fill="#6a8bc6" stroke="#1a2a4a" stroke-width="0.6"/>
<circle cx="287.6" cy="768.1" r="4.6" fill="#6a8bc6" stroke="#1a2a4a" stroke-width="0.6"/>
<circle cx="286.7" cy="767.7" r="4.6" fill="#6a8bc6" stroke="#1a2a4a" stroke-width="0.6"/>
<circle cx="289.6" cy="774.0" r="4.6" fill="#6a8bc6" stroke="#1a2a4a" stroke-width="0.6"/>
<circle cx="329.6" cy="771.4" r="4.6" fill="#d83a3a" stroke="#3a1a1a" stroke-width="0.6"/>
<circle cx="333.8" cy="767.0" r="4.6" fill="#d83a3a" stroke="#3a1a1a" stroke-width="0.6"/>
<circle cx="335.2" cy="771.3" r="4.6" fill="#d83a3a" stroke="#3a1a1a" stroke-width="0.6"/>
<circle cx="337.7" cy="772.8" r="4.6" fill="#d83a3a" stroke="#3a1a1a" stroke-width="0.6"/>
<circle cx="338.0" cy="779.2" r="4.6" fill="#d83a3a" stroke="#3a1a1a" stroke-width="0.6"/>
<circle cx="340.1" cy="777.3" r="4.6" fill="#d83a3a" stroke="#3a1a1a" stroke-width="0.6"/>
<circle cx="338.5" cy="781.5" r="4.6" fill="#d83a3a" stroke="#3a1a1a" stroke-width="0.6"/>
<circle cx="345.5" cy="782.7" r="4.6" fill="#d83a3a" stroke="#3a1a1a" stroke-width="0.6"/>
<circle cx="344.0" cy="788.0" r="4.6" fill="#d83a3a" stroke="#3a1a1a" stroke-width="0.6"/>
<circle cx="346.1" cy="792.0" r="4.6" fill="#d83a3a" stroke="#3a1a1a" stroke-width="0.6"/>
<circle cx="344.3" cy="789.7" r="4.6" fill="#d83a3a" stroke="#3a1a1a" stroke-width="0.6"/>
<circle cx="346.0" cy="794.9" r="4.6" fill="#d83a3a" stroke="#3a1a1a" stroke-width="0.6"/>
<circle cx="348.2" cy="794.4" r="4.6" fill="#d83a3a" stroke="#3a1a1a" stroke-width="0.6"/>
<circle cx="349.4" cy="799.7" r="4.6" fill="#d83a3a" stroke="#3a1a1a" stroke-width="0.6"/>
<circle cx="354.5" cy="797.6" r="4.6" fill="#d83a3a" stroke="#3a1a1a" stroke-width="0.6"/>
<circle cx="356.2" cy="804.1" r="4.6" fill="#d83a3a" stroke="#3a1a1a" stroke-width="0.6"/>
<circle cx="355.9" cy="805.3" r="4.6" fill="#d83a3a" stroke="#3a1a1a" stroke-width="0.6"/>
<circle cx="351.7" cy="807.1" r="4.6" fill="#d83a3a" stroke="#3a1a1a" stroke-width="0.6"/>
<circle cx="358.0" cy="805.3" r="4.6" fill="#d83a3a" stroke="#3a1a1a" stroke-width="0.6"/>
<circle cx="361.4" cy="811.1" r="4.6" fill="#d83a3a" stroke="#3a1a1a" stroke-width="0.6"/>
<circle cx="358.2" cy="811.2" r="4.6" fill="#d83a3a" stroke="#3a1a1a" stroke-width="0.6"/>
<circle cx="361.0" cy="815.7" r="4.6" fill="#d83a3a" stroke="#3a1a1a" stroke-width="0.6"/>
<circle cx="363.2" cy="816.3" r="4.6" fill="#d83a3a" stroke="#3a1a1a" stroke-width="0.6"/>
<circle cx="312.1" cy="784.8" r="4.6" fill="#6a8bc6" stroke="#1a2a4a" stroke-width="0.6"/>
<circle cx="318.8" cy="786.3" r="4.6" fill="#6a8bc6" stroke="#1a2a4a" stroke-width="0.6"/>
<circle cx="319.2" cy="789.8" r="4.6" fill="#6a8bc6" stroke="#1a2a4a" stroke-width="0.6"/>
<circle cx="322.5" cy="790.5" r="4.6" fill="#6a8bc6" stroke="#1a2a4a" stroke-width="0.6"/>
<circle cx="320.8" cy="792.6" r="4.6" fill="#6a8bc6" stroke="#1a2a4a" stroke-width="0.6"/>
<circle cx="325.7" cy="795.5" r="4.6" fill="#6a8bc6" stroke="#1a2a4a" stroke-width="0.6"/>
<circle cx="324.9" cy="796.3" r="4.6" fill="#6a8bc6" stroke="#1a2a4a" stroke-width="0.6"/>
<circle cx="326.3" cy="801.6" r="4.6" fill="#6a8bc6" stroke="#1a2a4a" stroke-width="0.6"/>
<circle cx="325.4" cy="804.1" r="4.6" fill="#6a8bc6" stroke="#1a2a4a" stroke-width="0.6"/>
<circle cx="328.3" cy="804.6" r="4.6" fill="#6a8bc6" stroke="#1a2a4a" stroke-width="0.6"/>
<circle cx="328.2" cy="804.6" r="4.6" fill="#6a8bc6" stroke="#1a2a4a" stroke-width="0.6"/>
<circle cx="334.3" cy="809.1" r="4.6" fill="#6a8bc6" stroke="#1a2a4a" stroke-width="0.6"/>
<circle cx="330.7" cy="813.1" r="4.6" fill="#6a8bc6" stroke="#1a2a4a" stroke-width="0.6"/>
<circle cx="333.4" cy="814.3" r="4.6" fill="#6a8bc6" stroke="#1a2a4a" stroke-width="0.6"/>
<circle cx="335.8" cy="813.9" r="4.6" fill="#6a8bc6" stroke="#1a2a4a" stroke-width="0.6"/>
<circle cx="335.1" cy="815.2" r="4.6" fill="#6a8bc6" stroke="#1a2a4a" stroke-width="0.6"/>
<circle cx="334.7" cy="818.0" r="4.6" fill="#6a8bc6" stroke="#1a2a4a" stroke-width="0.6"/>
<circle cx="333.7" cy="824.1" r="4.6" fill="#6a8bc6" stroke="#1a2a4a" stroke-width="0.6"/>
<circle cx="337.4" cy="826.0" r="4.6" fill="#6a8bc6" stroke="#1a2a4a" stroke-width="0.6"/>
<circle cx="341.7" cy="826.0" r="4.6" fill="#6a8bc6" stroke="#1a2a4a" stroke-width="0.6"/>
<circle cx="368.7" cy="849.4" r="4.6" fill="#d83a3a" stroke="#3a1a1a" stroke-width="0.6"/>
<circle cx="374.4" cy="850.8" r="4.6" fill="#d83a3a" stroke="#3a1a1a" stroke-width="0.6"/>
<circle cx="371.2" cy="853.3" r="4.6" fill="#d83a3a" stroke="#3a1a1a" stroke-width="0.6"/>
<circle cx="376.3" cy="859.1" r="4.6" fill="#d83a3a" stroke="#3a1a1a" stroke-width="0.6"/>
<circle cx="378.1" cy="858.4" r="4.6" fill="#d83a3a" stroke="#3a1a1a" stroke-width="0.6"/>
<circle cx="377.0" cy="860.3" r="4.6" fill="#d83a3a" stroke="#3a1a1a" stroke-width="0.6"/>
<circle cx="375.7" cy="862.2" r="4.6" fill="#d83a3a" stroke="#3a1a1a" stroke-width="0.6"/>
<circle cx="380.2" cy="867.8" r="4.6" fill="#d83a3a" stroke="#3a1a1a" stroke-width="0.6"/>
<circle cx="376.7" cy="871.0" r="4.6" fill="#d83a3a" stroke="#3a1a1a" stroke-width="0.6"/>
<circle cx="376.5" cy="871.7" r="4.6" fill="#d83a3a" stroke="#3a1a1a" stroke-width="0.6"/>
<circle cx="378.1" cy="871.3" r="4.6" fill="#d83a3a" stroke="#3a1a1a" stroke-width="0.6"/>
<circle cx="381.3" cy="877.9" r="4.6" fill="#d83a3a" stroke="#3a1a1a" stroke-width="0.6"/>
<circle cx="382.3" cy="879.6" r="4.6" fill="#d83a3a" stroke="#3a1a1a" stroke-width="0.6"/>
<circle cx="376.7" cy="879.5" r="4.6" fill="#d83a3a" stroke="#3a1a1a" stroke-width="0.6"/>
<circle cx="377.7" cy="882.9" r="4.6" fill="#d83a3a" stroke="#3a1a1a" stroke-width="0.6"/>
<circle cx="378.9" cy="883.9" r="4.6" fill="#d83a3a" stroke="#3a1a1a" stroke-width="0.6"/>
<circle cx="379.6" cy="888.9" r="4.6" fill="#d83a3a" stroke="#3a1a1a" stroke-width="0.6"/>
<circle cx="382.4" cy="889.6" r="4.6" fill="#d83a3a" stroke="#3a1a1a" stroke-width="0.6"/>
<circle cx="379.3" cy="896.0" r="4.6" fill="#d83a3a" stroke="#3a1a1a" stroke-width="0.6"/>
<circle cx="376.6" cy="892.7" r="4.6" fill="#d83a3a" stroke="#3a1a1a" stroke-width="0.6"/>
<circle cx="376.2" cy="899.9" r="4.6" fill="#d83a3a" stroke="#3a1a1a" stroke-width="0.6"/>
<circle cx="380.1" cy="901.9" r="4.6" fill="#d83a3a" stroke="#3a1a1a" stroke-width="0.6"/>
<circle cx="382.0" cy="902.1" r="4.6" fill="#d83a3a" stroke="#3a1a1a" stroke-width="0.6"/>
<circle cx="347.4" cy="856.0" r="4.6" fill="#6a8bc6" stroke="#1a2a4a" stroke-width="0.6"/>
<circle cx="346.0" cy="885.6" r="4.6" fill="#6a8bc6" stroke="#1a2a4a" stroke-width="0.6"/>
<circle cx="366.0" cy="936.6" r="4.6" fill="#d83a3a" stroke="#3a1a1a" stroke-width="0.6"/>
<circle cx="364.6" cy="933.7" r="4.6" fill="#d83a3a" stroke="#3a1a1a" stroke-width="0.6"/>
<circle cx="367.3" cy="940.0" r="4.6" fill="#d83a3a" stroke="#3a1a1a" stroke-width="0.6"/>
<circle cx="368.8" cy="942.8" r="4.6" fill="#d83a3a" stroke="#3a1a1a" stroke-width="0.6"/>
<circle cx="370.9" cy="947.2" r="4.6" fill="#d83a3a" stroke="#3a1a1a" stroke-width="0.6"/>
<circle cx="361.7" cy="944.2" r="4.6" fill="#d83a3a" stroke="#3a1a1a" stroke-width="0.6"/>
<circle cx="361.2" cy="944.6" r="4.6" fill="#d83a3a" stroke="#3a1a1a" stroke-width="0.6"/>
<circle cx="364.8" cy="945.4" r="4.6" fill="#d83a3a" stroke="#3a1a1a" stroke-width="0.6"/>
<circle cx="358.7" cy="949.2" r="4.6" fill="#d83a3a" stroke="#3a1a1a" stroke-width="0.6"/>
<circle cx="360.8" cy="949.5" r="4.6" fill="#d83a3a" stroke="#3a1a1a" stroke-width="0.6"/>
<circle cx="360.4" cy="954.5" r="4.6" fill="#d83a3a" stroke="#3a1a1a" stroke-width="0.6"/>
<circle cx="362.2" cy="957.2" r="4.6" fill="#d83a3a" stroke="#3a1a1a" stroke-width="0.6"/>
<circle cx="362.2" cy="957.9" r="4.6" fill="#d83a3a" stroke="#3a1a1a" stroke-width="0.6"/>
<circle cx="352.0" cy="957.5" r="4.6" fill="#d83a3a" stroke="#3a1a1a" stroke-width="0.6"/>
<circle cx="357.5" cy="963.5" r="4.6" fill="#d83a3a" stroke="#3a1a1a" stroke-width="0.6"/>
<circle cx="356.2" cy="959.2" r="4.6" fill="#d83a3a" stroke="#3a1a1a" stroke-width="0.6"/>
<circle cx="358.2" cy="966.5" r="4.6" fill="#d83a3a" stroke="#3a1a1a" stroke-width="0.6"/>
<circle cx="354.4" cy="964.4" r="4.6" fill="#d83a3a" stroke="#3a1a1a" stroke-width="0.6"/>
<circle cx="353.7" cy="970.2" r="4.6" fill="#d83a3a" stroke="#3a1a1a" stroke-width="0.6"/>
<circle cx="348.9" cy="969.5" r="4.6" fill="#d83a3a" stroke="#3a1a1a" stroke-width="0.6"/>
<circle cx="346.2" cy="967.6" r="4.6" fill="#d83a3a" stroke="#3a1a1a" stroke-width="0.6"/>
<circle cx="350.7" cy="974.2" r="4.6" fill="#d83a3a" stroke="#3a1a1a" stroke-width="0.6"/>
<circle cx="348.8" cy="974.5" r="4.6" fill="#d83a3a" stroke="#3a1a1a" stroke-width="0.6"/>
<circle cx="350.9" cy="975.3" r="4.6" fill="#d83a3a" stroke="#3a1a1a" stroke-width="0.6"/>
<circle cx="347.2" cy="981.2" r="4.6" fill="#d83a3a" stroke="#3a1a1a" stroke-width="0.6"/>
<circle cx="345.9" cy="979.0" r="4.6" fill="#d83a3a" stroke="#3a1a1a" stroke-width="0.6"/>
<circle cx="346.6" cy="980.4" r="4.6" fill="#d83a3a" stroke="#3a1a1a" stroke-width="0.6"/>
<circle cx="337.8" cy="979.5" r="4.6" fill="#d83a3a" stroke="#3a1a1a" stroke-width="0.6"/>
<circle cx="340.5" cy="978.3" r="4.6" fill="#d83a3a" stroke="#3a1a1a" stroke-width="0.6"/>
<circle cx="340.1" cy="984.5" r="4.6" fill="#d83a3a" stroke="#3a1a1a" stroke-width="0.6"/>
<circle cx="332.4" cy="979.1" r="4.6" fill="#d83a3a" stroke="#3a1a1a" stroke-width="0.6"/>
<circle cx="330.0" cy="982.0" r="4.6" fill="#d83a3a" stroke="#3a1a1a" stroke-width="0.6"/>
<circle cx="336.3" cy="926.8" r="4.6" fill="#6a8bc6" stroke="#1a2a4a" stroke-width="0.6"/>
<circle cx="340.5" cy="929.6" r="4.6" fill="#6a8bc6" stroke="#1a2a4a" stroke-width="0.6"/>
<circle cx="335.7" cy="929.7" r="4.6" fill="#6a8bc6" stroke="#1a2a4a" stroke-width="0.6"/>
<circle cx="337.7" cy="936.1" r="4.6" fill="#6a8bc6" stroke="#1a2a4a" stroke-width="0.6"/>
<circle cx="335.5" cy="940.3" r="4.6" fill="#6a8bc6" stroke="#1a2a4a" stroke-width="0.6"/>
<circle cx="332.7" cy="942.9" r="4.6" fill="#6a8bc6" stroke="#1a2a4a" stroke-width="0.6"/>
<circle cx="328.8" cy="944.1" r="4.6" fill="#6a8bc6" stroke="#1a2a4a" stroke-width="0.6"/>
<circle cx="332.1" cy="945.7" r="4.6" fill="#6a8bc6" stroke="#1a2a4a" stroke-width="0.6"/>
<circle cx="331.7" cy="949.7" r="4.6" fill="#6a8bc6" stroke="#1a2a4a" stroke-width="0.6"/>
<circle cx="327.9" cy="953.0" r="4.6" fill="#6a8bc6" stroke="#1a2a4a" stroke-width="0.6"/>
<circle cx="325.9" cy="956.7" r="4.6" fill="#6a8bc6" stroke="#1a2a4a" stroke-width="0.6"/>
<circle cx="324.8" cy="956.5" r="4.6" fill="#6a8bc6" stroke="#1a2a4a" stroke-width="0.6"/>
<circle cx="324.2" cy="963.7" r="4.6" fill="#6a8bc6" stroke="#1a2a4a" stroke-width="0.6"/>
<circle cx="324.2" cy="963.8" r="4.6" fill="#6a8bc6" stroke="#1a2a4a" stroke-width="0.6"/>
<circle cx="306.2" cy="1001.1" r="4.6" fill="#d83a3a" stroke="#3a1a1a" stroke-width="0.6"/>
<circle cx="304.4" cy="997.7" r="4.6" fill="#d83a3a" stroke="#3a1a1a" stroke-width="0.6"/>
<circle cx="304.9" cy="1002.0" r="4.6" fill="#d83a3a" stroke="#3a1a1a" stroke-width="0.6"/>
<circle cx="299.9" cy="998.3" r="4.6" fill="#d83a3a" stroke="#3a1a1a" stroke-width="0.6"/>
<circle cx="299.3" cy="1005.7" r="4.6" fill="#d83a3a" stroke="#3a1a1a" stroke-width="0.6"/>
<circle cx="302.2" cy="1008.4" r="4.6" fill="#d83a3a" stroke="#3a1a1a" stroke-width="0.6"/>
<circle cx="297.8" cy="1006.6" r="4.6" fill="#d83a3a" stroke="#3a1a1a" stroke-width="0.6"/>
<circle cx="293.0" cy="1003.2" r="4.6" fill="#d83a3a" stroke="#3a1a1a" stroke-width="0.6"/>
<circle cx="293.9" cy="1007.8" r="4.6" fill="#d83a3a" stroke="#3a1a1a" stroke-width="0.6"/>
<circle cx="292.4" cy="1015.7" r="4.6" fill="#d83a3a" stroke="#3a1a1a" stroke-width="0.6"/>
<circle cx="292.0" cy="1009.9" r="4.6" fill="#d83a3a" stroke="#3a1a1a" stroke-width="0.6"/>
<circle cx="290.8" cy="1010.1" r="4.6" fill="#d83a3a" stroke="#3a1a1a" stroke-width="0.6"/>
<circle cx="287.3" cy="1018.1" r="4.6" fill="#d83a3a" stroke="#3a1a1a" stroke-width="0.6"/>
<circle cx="284.7" cy="1011.5" r="4.6" fill="#d83a3a" stroke="#3a1a1a" stroke-width="0.6"/>
<circle cx="285.7" cy="1015.3" r="4.6" fill="#d83a3a" stroke="#3a1a1a" stroke-width="0.6"/>
<circle cx="277.7" cy="1011.9" r="4.6" fill="#d83a3a" stroke="#3a1a1a" stroke-width="0.6"/>
<circle cx="276.2" cy="1011.1" r="4.6" fill="#d83a3a" stroke="#3a1a1a" stroke-width="0.6"/>
<circle cx="278.3" cy="1013.3" r="4.6" fill="#d83a3a" stroke="#3a1a1a" stroke-width="0.6"/>
<circle cx="274.0" cy="1016.1" r="4.6" fill="#d83a3a" stroke="#3a1a1a" stroke-width="0.6"/>
<circle cx="275.0" cy="1019.9" r="4.6" fill="#d83a3a" stroke="#3a1a1a" stroke-width="0.6"/>
<circle cx="274.9" cy="1021.6" r="4.6" fill="#d83a3a" stroke="#3a1a1a" stroke-width="0.6"/>
<circle cx="272.0" cy="1019.7" r="4.6" fill="#d83a3a" stroke="#3a1a1a" stroke-width="0.6"/>
<circle cx="268.3" cy="1016.8" r="4.6" fill="#d83a3a" stroke="#3a1a1a" stroke-width="0.6"/>
<circle cx="265.4" cy="1020.8" r="4.6" fill="#d83a3a" stroke="#3a1a1a" stroke-width="0.6"/>
<circle cx="264.2" cy="1020.9" r="4.6" fill="#d83a3a" stroke="#3a1a1a" stroke-width="0.6"/>
<circle cx="260.7" cy="1018.6" r="4.6" fill="#d83a3a" stroke="#3a1a1a" stroke-width="0.6"/>
<circle cx="261.7" cy="1024.6" r="4.6" fill="#d83a3a" stroke="#3a1a1a" stroke-width="0.6"/>
<circle cx="256.8" cy="1024.3" r="4.6" fill="#d83a3a" stroke="#3a1a1a" stroke-width="0.6"/>
<circle cx="253.6" cy="1026.0" r="4.6" fill="#d83a3a" stroke="#3a1a1a" stroke-width="0.6"/>
<circle cx="291.9" cy="981.3" r="4.6" fill="#6a8bc6" stroke="#1a2a4a" stroke-width="0.6"/>
<circle cx="291.8" cy="987.0" r="4.6" fill="#6a8bc6" stroke="#1a2a4a" stroke-width="0.6"/>
<circle cx="286.5" cy="986.2" r="4.6" fill="#6a8bc6" stroke="#1a2a4a" stroke-width="0.6"/>
<circle cx="288.2" cy="991.1" r="4.6" fill="#6a8bc6" stroke="#1a2a4a" stroke-width="0.6"/>
<circle cx="285.9" cy="993.4" r="4.6" fill="#6a8bc6" stroke="#1a2a4a" stroke-width="0.6"/>
<circle cx="277.2" cy="990.7" r="4.6" fill="#6a8bc6" stroke="#1a2a4a" stroke-width="0.6"/>
<circle cx="278.7" cy="995.5" r="4.6" fill="#6a8bc6" stroke="#1a2a4a" stroke-width="0.6"/>
<circle cx="273.8" cy="992.8" r="4.6" fill="#6a8bc6" stroke="#1a2a4a" stroke-width="0.6"/>
<circle cx="268.6" cy="997.7" r="4.6" fill="#6a8bc6" stroke="#1a2a4a" stroke-width="0.6"/>
<circle cx="265.0" cy="997.0" r="4.6" fill="#6a8bc6" stroke="#1a2a4a" stroke-width="0.6"/>
<circle cx="264.6" cy="1002.0" r="4.6" fill="#6a8bc6" stroke="#1a2a4a" stroke-width="0.6"/>
<circle cx="262.2" cy="999.4" r="4.6" fill="#6a8bc6" stroke="#1a2a4a" stroke-width="0.6"/>
<circle cx="226.5" cy="1032.8" r="4.6" fill="#d83a3a" stroke="#3a1a1a" stroke-width="0.6"/>
<circle cx="223.1" cy="1022.8" r="4.6" fill="#d83a3a" stroke="#3a1a1a" stroke-width="0.6"/>
<circle cx="223.0" cy="1031.0" r="4.6" fill="#d83a3a" stroke="#3a1a1a" stroke-width="0.6"/>
<circle cx="220.8" cy="1030.0" r="4.6" fill="#d83a3a" stroke="#3a1a1a" stroke-width="0.6"/>
<circle cx="221.1" cy="1022.5" r="4.6" fill="#d83a3a" stroke="#3a1a1a" stroke-width="0.6"/>
<circle cx="219.4" cy="1022.1" r="4.6" fill="#d83a3a" stroke="#3a1a1a" stroke-width="0.6"/>
<circle cx="213.8" cy="1027.5" r="4.6" fill="#d83a3a" stroke="#3a1a1a" stroke-width="0.6"/>
<circle cx="212.1" cy="1022.8" r="4.6" fill="#d83a3a" stroke="#3a1a1a" stroke-width="0.6"/>
<circle cx="212.0" cy="1023.6" r="4.6" fill="#d83a3a" stroke="#3a1a1a" stroke-width="0.6"/>
<circle cx="204.0" cy="1032.3" r="4.6" fill="#d83a3a" stroke="#3a1a1a" stroke-width="0.6"/>
<circle cx="203.5" cy="1020.9" r="4.6" fill="#d83a3a" stroke="#3a1a1a" stroke-width="0.6"/>
<circle cx="204.3" cy="1032.2" r="4.6" fill="#d83a3a" stroke="#3a1a1a" stroke-width="0.6"/>
<circle cx="199.9" cy="1029.0" r="4.6" fill="#d83a3a" stroke="#3a1a1a" stroke-width="0.6"/>
<circle cx="199.3" cy="1025.2" r="4.6" fill="#d83a3a" stroke="#3a1a1a" stroke-width="0.6"/>
<circle cx="196.0" cy="1024.0" r="4.6" fill="#d83a3a" stroke="#3a1a1a" stroke-width="0.6"/>
<circle cx="194.7" cy="1018.4" r="4.6" fill="#d83a3a" stroke="#3a1a1a" stroke-width="0.6"/>
<circle cx="188.9" cy="1027.6" r="4.6" fill="#d83a3a" stroke="#3a1a1a" stroke-width="0.6"/>
<circle cx="191.2" cy="1023.4" r="4.6" fill="#d83a3a" stroke="#3a1a1a" stroke-width="0.6"/>
<circle cx="185.9" cy="1021.1" r="4.6" fill="#d83a3a" stroke="#3a1a1a" stroke-width="0.6"/>
<circle cx="187.8" cy="1018.8" r="4.6" fill="#d83a3a" stroke="#3a1a1a" stroke-width="0.6"/>
<circle cx="184.5" cy="1015.8" r="4.6" fill="#d83a3a" stroke="#3a1a1a" stroke-width="0.6"/>
<circle cx="176.5" cy="1023.4" r="4.6" fill="#d83a3a" stroke="#3a1a1a" stroke-width="0.6"/>
<circle cx="175.1" cy="1023.7" r="4.6" fill="#d83a3a" stroke="#3a1a1a" stroke-width="0.6"/>
<circle cx="175.5" cy="1017.9" r="4.6" fill="#d83a3a" stroke="#3a1a1a" stroke-width="0.6"/>
<circle cx="173.0" cy="1018.3" r="4.6" fill="#d83a3a" stroke="#3a1a1a" stroke-width="0.6"/>
<circle cx="167.0" cy="1019.8" r="4.6" fill="#d83a3a" stroke="#3a1a1a" stroke-width="0.6"/>
<circle cx="168.4" cy="1022.1" r="4.6" fill="#d83a3a" stroke="#3a1a1a" stroke-width="0.6"/>
<circle cx="164.1" cy="1018.3" r="4.6" fill="#d83a3a" stroke="#3a1a1a" stroke-width="0.6"/>
<circle cx="163.7" cy="1013.0" r="4.6" fill="#d83a3a" stroke="#3a1a1a" stroke-width="0.6"/>
<circle cx="222.3" cy="996.2" r="4.6" fill="#6a8bc6" stroke="#1a2a4a" stroke-width="0.6"/>
<circle cx="218.0" cy="995.3" r="4.6" fill="#6a8bc6" stroke="#1a2a4a" stroke-width="0.6"/>
<circle cx="212.7" cy="992.9" r="4.6" fill="#6a8bc6" stroke="#1a2a4a" stroke-width="0.6"/>
<circle cx="208.1" cy="990.4" r="4.6" fill="#6a8bc6" stroke="#1a2a4a" stroke-width="0.6"/>
<circle cx="204.3" cy="991.7" r="4.6" fill="#6a8bc6" stroke="#1a2a4a" stroke-width="0.6"/>
<circle cx="200.8" cy="990.4" r="4.6" fill="#6a8bc6" stroke="#1a2a4a" stroke-width="0.6"/>
<circle cx="192.4" cy="989.2" r="4.6" fill="#6a8bc6" stroke="#1a2a4a" stroke-width="0.6"/>
<circle cx="188.6" cy="989.6" r="4.6" fill="#6a8bc6" stroke="#1a2a4a" stroke-width="0.6"/>
<circle cx="183.0" cy="984.0" r="4.6" fill="#6a8bc6" stroke="#1a2a4a" stroke-width="0.6"/>
<circle cx="134.6" cy="995.0" r="4.6" fill="#d83a3a" stroke="#3a1a1a" stroke-width="0.6"/>
<circle cx="134.5" cy="992.2" r="4.6" fill="#d83a3a" stroke="#3a1a1a" stroke-width="0.6"/>
<circle cx="128.8" cy="990.1" r="4.6" fill="#d83a3a" stroke="#3a1a1a" stroke-width="0.6"/>
<circle cx="127.5" cy="990.3" r="4.6" fill="#d83a3a" stroke="#3a1a1a" stroke-width="0.6"/>
<circle cx="129.8" cy="981.8" r="4.6" fill="#d83a3a" stroke="#3a1a1a" stroke-width="0.6"/>
<circle cx="124.5" cy="986.4" r="4.6" fill="#d83a3a" stroke="#3a1a1a" stroke-width="0.6"/>
<circle cx="126.8" cy="983.6" r="4.6" fill="#d83a3a" stroke="#3a1a1a" stroke-width="0.6"/>
<circle cx="127.5" cy="981.1" r="4.6" fill="#d83a3a" stroke="#3a1a1a" stroke-width="0.6"/>
<circle cx="125.3" cy="976.9" r="4.6" fill="#d83a3a" stroke="#3a1a1a" stroke-width="0.6"/>
<circle cx="118.1" cy="980.7" r="4.6" fill="#d83a3a" stroke="#3a1a1a" stroke-width="0.6"/>
<circle cx="118.4" cy="974.5" r="4.6" fill="#d83a3a" stroke="#3a1a1a" stroke-width="0.6"/>
<circle cx="114.9" cy="970.6" r="4.6" fill="#d83a3a" stroke="#3a1a1a" stroke-width="0.6"/>
<circle cx="112.8" cy="968.6" r="4.6" fill="#d83a3a" stroke="#3a1a1a" stroke-width="0.6"/>
<circle cx="116.7" cy="964.1" r="4.6" fill="#d83a3a" stroke="#3a1a1a" stroke-width="0.6"/>
<circle cx="110.5" cy="966.8" r="4.6" fill="#d83a3a" stroke="#3a1a1a" stroke-width="0.6"/>
<circle cx="109.7" cy="968.3" r="4.6" fill="#d83a3a" stroke="#3a1a1a" stroke-width="0.6"/>
<circle cx="111.7" cy="962.8" r="4.6" fill="#d83a3a" stroke="#3a1a1a" stroke-width="0.6"/>
<circle cx="110.2" cy="960.6" r="4.6" fill="#d83a3a" stroke="#3a1a1a" stroke-width="0.6"/>
<circle cx="111.4" cy="953.8" r="4.6" fill="#d83a3a" stroke="#3a1a1a" stroke-width="0.6"/>
<circle cx="106.1" cy="951.4" r="4.6" fill="#d83a3a" stroke="#3a1a1a" stroke-width="0.6"/>
<circle cx="104.7" cy="952.2" r="4.6" fill="#d83a3a" stroke="#3a1a1a" stroke-width="0.6"/>
<circle cx="106.8" cy="949.2" r="4.6" fill="#d83a3a" stroke="#3a1a1a" stroke-width="0.6"/>
<circle cx="102.6" cy="946.5" r="4.6" fill="#d83a3a" stroke="#3a1a1a" stroke-width="0.6"/>
<circle cx="155.5" cy="970.1" r="4.6" fill="#6a8bc6" stroke="#1a2a4a" stroke-width="0.6"/>
<circle cx="158.9" cy="963.5" r="4.6" fill="#6a8bc6" stroke="#1a2a4a" stroke-width="0.6"/>
<circle cx="157.5" cy="962.5" r="4.6" fill="#6a8bc6" stroke="#1a2a4a" stroke-width="0.6"/>
<circle cx="151.6" cy="966.5" r="4.6" fill="#6a8bc6" stroke="#1a2a4a" stroke-width="0.6"/>
<circle cx="148.4" cy="965.2" r="4.6" fill="#6a8bc6" stroke="#1a2a4a" stroke-width="0.6"/>
<circle cx="152.1" cy="956.7" r="4.6" fill="#6a8bc6" stroke="#1a2a4a" stroke-width="0.6"/>
<circle cx="143.4" cy="960.2" r="4.6" fill="#6a8bc6" stroke="#1a2a4a" stroke-width="0.6"/>
<circle cx="145.5" cy="961.8" r="4.6" fill="#6a8bc6" stroke="#1a2a4a" stroke-width="0.6"/>
<circle cx="146.3" cy="956.1" r="4.6" fill="#6a8bc6" stroke="#1a2a4a" stroke-width="0.6"/>
<circle cx="145.4" cy="951.1" r="4.6" fill="#6a8bc6" stroke="#1a2a4a" stroke-width="0.6"/>
<circle cx="140.1" cy="955.5" r="4.6" fill="#6a8bc6" stroke="#1a2a4a" stroke-width="0.6"/>
<circle cx="142.1" cy="950.3" r="4.6" fill="#6a8bc6" stroke="#1a2a4a" stroke-width="0.6"/>
<circle cx="137.5" cy="949.6" r="4.6" fill="#6a8bc6" stroke="#1a2a4a" stroke-width="0.6"/>
<circle cx="143.2" cy="945.5" r="4.6" fill="#6a8bc6" stroke="#1a2a4a" stroke-width="0.6"/>
<circle cx="139.4" cy="945.7" r="4.6" fill="#6a8bc6" stroke="#1a2a4a" stroke-width="0.6"/>
<circle cx="142.8" cy="943.5" r="4.6" fill="#6a8bc6" stroke="#1a2a4a" stroke-width="0.6"/>
<circle cx="140.5" cy="941.0" r="4.6" fill="#6a8bc6" stroke="#1a2a4a" stroke-width="0.6"/>
<circle cx="135.1" cy="942.5" r="4.6" fill="#6a8bc6" stroke="#1a2a4a" stroke-width="0.6"/>
<circle cx="137.7" cy="938.7" r="4.6" fill="#6a8bc6" stroke="#1a2a4a" stroke-width="0.6"/>
<circle cx="135.2" cy="937.3" r="4.6" fill="#6a8bc6" stroke="#1a2a4a" stroke-width="0.6"/>
<circle cx="132.9" cy="935.2" r="4.6" fill="#6a8bc6" stroke="#1a2a4a" stroke-width="0.6"/>
<circle cx="127.8" cy="934.4" r="4.6" fill="#6a8bc6" stroke="#1a2a4a" stroke-width="0.6"/>
<circle cx="134.0" cy="930.6" r="4.6" fill="#6a8bc6" stroke="#1a2a4a" stroke-width="0.6"/>
<circle cx="86.8" cy="918.5" r="4.6" fill="#d83a3a" stroke="#3a1a1a" stroke-width="0.6"/>
<circle cx="89.2" cy="910.1" r="4.6" fill="#d83a3a" stroke="#3a1a1a" stroke-width="0.6"/>
<circle cx="94.5" cy="908.3" r="4.6" fill="#d83a3a" stroke="#3a1a1a" stroke-width="0.6"/>
<circle cx="89.4" cy="903.7" r="4.6" fill="#d83a3a" stroke="#3a1a1a" stroke-width="0.6"/>
<circle cx="88.2" cy="901.0" r="4.6" fill="#d83a3a" stroke="#3a1a1a" stroke-width="0.6"/>
<circle cx="94.5" cy="896.0" r="4.6" fill="#d83a3a" stroke="#3a1a1a" stroke-width="0.6"/>
<circle cx="82.9" cy="896.8" r="4.6" fill="#d83a3a" stroke="#3a1a1a" stroke-width="0.6"/>
<circle cx="84.0" cy="889.0" r="4.6" fill="#d83a3a" stroke="#3a1a1a" stroke-width="0.6"/>
<circle cx="96.5" cy="890.3" r="4.6" fill="#d83a3a" stroke="#3a1a1a" stroke-width="0.6"/>
<circle cx="91.1" cy="885.9" r="4.6" fill="#d83a3a" stroke="#3a1a1a" stroke-width="0.6"/>
<circle cx="96.0" cy="880.5" r="4.6" fill="#d83a3a" stroke="#3a1a1a" stroke-width="0.6"/>
<circle cx="96.7" cy="877.8" r="4.6" fill="#d83a3a" stroke="#3a1a1a" stroke-width="0.6"/>
<circle cx="87.9" cy="876.9" r="4.6" fill="#d83a3a" stroke="#3a1a1a" stroke-width="0.6"/>
<circle cx="89.1" cy="870.8" r="4.6" fill="#d83a3a" stroke="#3a1a1a" stroke-width="0.6"/>
<circle cx="91.8" cy="868.7" r="4.6" fill="#d83a3a" stroke="#3a1a1a" stroke-width="0.6"/>
<circle cx="94.2" cy="866.6" r="4.6" fill="#d83a3a" stroke="#3a1a1a" stroke-width="0.6"/>
<circle cx="87.9" cy="859.2" r="4.6" fill="#d83a3a" stroke="#3a1a1a" stroke-width="0.6"/>
<circle cx="118.5" cy="905.5" r="4.6" fill="#6a8bc6" stroke="#1a2a4a" stroke-width="0.6"/>
<circle cx="114.5" cy="898.3" r="4.6" fill="#6a8bc6" stroke="#1a2a4a" stroke-width="0.6"/>
<circle cx="115.8" cy="894.3" r="4.6" fill="#6a8bc6" stroke="#1a2a4a" stroke-width="0.6"/>
<circle cx="115.2" cy="892.0" r="4.6" fill="#6a8bc6" stroke="#1a2a4a" stroke-width="0.6"/>
<circle cx="114.0" cy="886.1" r="4.6" fill="#6a8bc6" stroke="#1a2a4a" stroke-width="0.6"/>
<circle cx="110.6" cy="882.8" r="4.6" fill="#6a8bc6" stroke="#1a2a4a" stroke-width="0.6"/>
<circle cx="112.6" cy="880.3" r="4.6" fill="#6a8bc6" stroke="#1a2a4a" stroke-width="0.6"/>
<circle cx="110.8" cy="873.9" r="4.6" fill="#6a8bc6" stroke="#1a2a4a" stroke-width="0.6"/>
<circle cx="113.5" cy="871.6" r="4.6" fill="#6a8bc6" stroke="#1a2a4a" stroke-width="0.6"/>
<circle cx="111.0" cy="868.9" r="4.6" fill="#6a8bc6" stroke="#1a2a4a" stroke-width="0.6"/>
<circle cx="99.0" cy="827.3" r="4.6" fill="#d83a3a" stroke="#3a1a1a" stroke-width="0.6"/>
<circle cx="98.2" cy="819.9" r="4.6" fill="#d83a3a" stroke="#3a1a1a" stroke-width="0.6"/>
<circle cx="102.0" cy="817.0" r="4.6" fill="#d83a3a" stroke="#3a1a1a" stroke-width="0.6"/>
<circle cx="106.2" cy="814.7" r="4.6" fill="#d83a3a" stroke="#3a1a1a" stroke-width="0.6"/>
<circle cx="101.3" cy="812.1" r="4.6" fill="#d83a3a" stroke="#3a1a1a" stroke-width="0.6"/>
<circle cx="106.1" cy="811.7" r="4.6" fill="#d83a3a" stroke="#3a1a1a" stroke-width="0.6"/>
<circle cx="106.8" cy="803.5" r="4.6" fill="#d83a3a" stroke="#3a1a1a" stroke-width="0.6"/>
<circle cx="112.2" cy="805.9" r="4.6" fill="#d83a3a" stroke="#3a1a1a" stroke-width="0.6"/>
<circle cx="109.7" cy="799.7" r="4.6" fill="#d83a3a" stroke="#3a1a1a" stroke-width="0.6"/>
<circle cx="117.0" cy="800.5" r="4.6" fill="#d83a3a" stroke="#3a1a1a" stroke-width="0.6"/>
<circle cx="116.9" cy="793.6" r="4.6" fill="#d83a3a" stroke="#3a1a1a" stroke-width="0.6"/>
<circle cx="117.2" cy="787.8" r="4.6" fill="#d83a3a" stroke="#3a1a1a" stroke-width="0.6"/>
<circle cx="123.5" cy="788.6" r="4.6" fill="#d83a3a" stroke="#3a1a1a" stroke-width="0.6"/>
<circle cx="126.6" cy="787.6" r="4.6" fill="#d83a3a" stroke="#3a1a1a" stroke-width="0.6"/>
<circle cx="98.5" cy="832.3" r="4.6" fill="#d83a3a" stroke="#3a1a1a" stroke-width="0.6"/>
<circle cx="97.0" cy="826.4" r="4.6" fill="#d83a3a" stroke="#3a1a1a" stroke-width="0.6"/>
<circle cx="97.5" cy="829.7" r="4.6" fill="#d83a3a" stroke="#3a1a1a" stroke-width="0.6"/>
<circle cx="97.3" cy="827.5" r="4.6" fill="#d83a3a" stroke="#3a1a1a" stroke-width="0.6"/>
<circle cx="96.8" cy="825.7" r="4.6" fill="#d83a3a" stroke="#3a1a1a" stroke-width="0.6"/>
<circle cx="95.1" cy="824.9" r="4.6" fill="#d83a3a" stroke="#3a1a1a" stroke-width="0.6"/>
<circle cx="130.5" cy="825.1" r="4.6" fill="#6a8bc6" stroke="#1a2a4a" stroke-width="0.6"/>
<circle cx="133.1" cy="819.2" r="4.6" fill="#6a8bc6" stroke="#1a2a4a" stroke-width="0.6"/>
<circle cx="133.4" cy="815.9" r="4.6" fill="#6a8bc6" stroke="#1a2a4a" stroke-width="0.6"/>
<circle cx="140.5" cy="809.0" r="4.6" fill="#6a8bc6" stroke="#1a2a4a" stroke-width="0.6"/>
<circle cx="140.4" cy="806.3" r="4.6" fill="#6a8bc6" stroke="#1a2a4a" stroke-width="0.6"/>
<circle cx="145.6" cy="799.0" r="4.6" fill="#6a8bc6" stroke="#1a2a4a" stroke-width="0.6"/>
<circle cx="160.0" cy="752.8" r="4.6" fill="#d83a3a" stroke="#3a1a1a" stroke-width="0.6"/>
<circle cx="166.4" cy="757.6" r="4.6" fill="#d83a3a" stroke="#3a1a1a" stroke-width="0.6"/>
<circle cx="164.5" cy="748.2" r="4.6" fill="#d83a3a" stroke="#3a1a1a" stroke-width="0.6"/>
<circle cx="169.7" cy="755.4" r="4.6" fill="#d83a3a" stroke="#3a1a1a" stroke-width="0.6"/>
<circle cx="172.8" cy="742.5" r="4.6" fill="#d83a3a" stroke="#3a1a1a" stroke-width="0.6"/>
<circle cx="174.4" cy="745.3" r="4.6" fill="#d83a3a" stroke="#3a1a1a" stroke-width="0.6"/>
<circle cx="178.1" cy="742.1" r="4.6" fill="#d83a3a" stroke="#3a1a1a" stroke-width="0.6"/>
<circle cx="187.2" cy="745.3" r="4.6" fill="#d83a3a" stroke="#3a1a1a" stroke-width="0.6"/>
<circle cx="186.7" cy="738.6" r="4.6" fill="#d83a3a" stroke="#3a1a1a" stroke-width="0.6"/>
<circle cx="192.7" cy="736.7" r="4.6" fill="#d83a3a" stroke="#3a1a1a" stroke-width="0.6"/>
<circle cx="197.5" cy="740.8" r="4.6" fill="#d83a3a" stroke="#3a1a1a" stroke-width="0.6"/>
<circle cx="204.2" cy="734.9" r="4.6" fill="#d83a3a" stroke="#3a1a1a" stroke-width="0.6"/>
<circle cx="205.8" cy="736.2" r="4.6" fill="#d83a3a" stroke="#3a1a1a" stroke-width="0.6"/>
<circle cx="168.0" cy="769.3" r="4.6" fill="#6a8bc6" stroke="#1a2a4a" stroke-width="0.6"/>
<circle cx="178.4" cy="769.8" r="4.6" fill="#6a8bc6" stroke="#1a2a4a" stroke-width="0.6"/>
<circle cx="184.4" cy="765.3" r="4.6" fill="#6a8bc6" stroke="#1a2a4a" stroke-width="0.6"/>
<circle cx="191.8" cy="762.4" r="4.6" fill="#6a8bc6" stroke="#1a2a4a" stroke-width="0.6"/>
<circle cx="199.3" cy="760.6" r="4.6" fill="#6a8bc6" stroke="#1a2a4a" stroke-width="0.6"/>
<circle cx="208.6" cy="763.2" r="4.6" fill="#6a8bc6" stroke="#1a2a4a" stroke-width="0.6"/>
<circle cx="213.9" cy="763.0" r="4.6" fill="#6a8bc6" stroke="#1a2a4a" stroke-width="0.6"/>
<path d="M234.20,784.90 A97,97 0 0 1 282.70,797.90 L260.20,836.87 A52,52 0 0 0 234.20,829.90 Z" fill="#f6d8cd" stroke="#000" stroke-width="1.8" stroke-linejoin="miter"/>
<path d="M283.57,813.94 A84,84 0 0 1 310.94,847.73 L281.70,860.75 A52,52 0 0 0 264.76,839.83 Z" fill="#e5846b" stroke="#000" stroke-width="1.8" stroke-linejoin="miter"/>
<path d="M310.28,857.18 A80,80 0 0 1 312.45,898.53 L285.06,892.71 A52,52 0 0 0 283.65,865.83 Z" fill="#d62719" stroke="#000" stroke-width="1.8" stroke-linejoin="miter"/>
<path d="M299.35,903.07 A68.5,68.5 0 0 1 280.04,932.81 L268.99,920.54 A52,52 0 0 0 283.65,897.97 Z" fill="#e2644a" stroke="#000" stroke-width="1.8" stroke-linejoin="miter"/>
<path d="M274.17,936.91 A68,68 0 0 1 241.31,949.53 L239.64,933.62 A52,52 0 0 0 264.76,923.97 Z" fill="#e5785e" stroke="#000" stroke-width="1.8" stroke-linejoin="miter"/>
<path d="M234.20,949.40 A67.5,67.5 0 0 1 200.45,940.36 L208.20,926.93 A52,52 0 0 0 234.20,933.90 Z" fill="#e5846b" stroke="#000" stroke-width="1.8" stroke-linejoin="miter"/>
<path d="M194.23,936.91 A68,68 0 0 1 172.08,909.56 L186.70,903.05 A52,52 0 0 0 203.64,923.97 Z" fill="#f6d8cd" stroke="#000" stroke-width="1.8" stroke-linejoin="miter"/>
<path d="M169.53,902.91 A68,68 0 0 1 167.69,867.76 L183.34,871.09 A52,52 0 0 0 184.75,897.97 Z" fill="#f3c4b8" stroke="#000" stroke-width="1.8" stroke-linejoin="miter"/>
<path d="M171.43,861.50 A66,66 0 0 1 190.04,832.85 L199.41,843.26 A52,52 0 0 0 184.75,865.83 Z" fill="#e5846b" stroke="#000" stroke-width="1.8" stroke-linejoin="miter"/>
<path d="M196.88,830.53 A63.5,63.5 0 0 1 227.56,818.75 L228.76,830.18 A52,52 0 0 0 203.64,839.83 Z" fill="#f3c4b8" stroke="#000" stroke-width="1.8" stroke-linejoin="miter"/>
<text x="234.2" y="716.9" font-size="13" font-weight="normal" text-anchor="middle" transform="rotate(15.0 234.2 881.9)">GO:0071345</text>
<text x="234.2" y="716.9" font-size="13" font-weight="normal" text-anchor="middle" transform="rotate(51.0 234.2 881.9)">GO:0006954</text>
<text x="234.2" y="716.9" font-size="13" font-weight="normal" text-anchor="middle" transform="rotate(87.0 234.2 881.9)">R-HSA-6798695</text>
<text x="234.2" y="716.9" font-size="13" font-weight="normal" text-anchor="middle" transform="rotate(123.0 234.2 881.9)">GO:0050865</text>
<text x="234.2" y="716.9" font-size="13" font-weight="normal" text-anchor="middle" transform="rotate(159.0 234.2 881.9)">GO:0009725</text>
<text x="234.2" y="716.9" font-size="13" font-weight="normal" text-anchor="middle" transform="rotate(195.0 234.2 881.9)">hsa01230</text>
<text x="234.2" y="716.9" font-size="13" font-weight="normal" text-anchor="middle" transform="rotate(231.0 234.2 881.9)">GO:0045087</text>
<text x="234.2" y="716.9" font-size="13" font-weight="normal" text-anchor="middle" transform="rotate(267.0 234.2 881.9)">GO:0098609</text>
<text x="234.2" y="716.9" font-size="13" font-weight="normal" text-anchor="middle" transform="rotate(303.0 234.2 881.9)">GO:0042742</text>
<text x="234.2" y="716.9" font-size="13" font-weight="normal" text-anchor="middle" transform="rotate(339.0 234.2 881.9)">WP2882</text>
<path d="M661.00,725.00 A158,158 0 0 1 740.00,746.17 L713.00,792.93 A104,104 0 0 0 661.00,779.00 Z" fill="#b3b3b3"/>
<path d="M661.00,765.50 A117.5,117.5 0 0 1 719.75,781.24" fill="none" stroke="#fff" stroke-width="2.2"/>
<path d="M661.00,752.00 A131,131 0 0 1 726.50,769.55" fill="none" stroke="#fff" stroke-width="2.2"/>
<path d="M661.00,738.50 A144.5,144.5 0 0 1 733.25,757.86" fill="none" stroke="#fff" stroke-width="2.2"/>
<path d="M753.87,755.18 A158,158 0 0 1 805.34,818.74 L756.01,840.70 A104,104 0 0 0 722.13,798.86 Z" fill="#b3b3b3"/>
<path d="M730.06,787.94 A117.5,117.5 0 0 1 768.34,835.21" fill="none" stroke="#fff" stroke-width="2.2"/>
<path d="M738.00,777.02 A131,131 0 0 1 780.67,829.72" fill="none" stroke="#fff" stroke-width="2.2"/>
<path d="M745.93,766.10 A144.5,144.5 0 0 1 793.01,824.23" fill="none" stroke="#fff" stroke-width="2.2"/>
<path d="M811.27,834.18 A158,158 0 0 1 815.55,915.85 L762.73,904.62 A104,104 0 0 0 759.91,850.86 Z" fill="#b3b3b3"/>
<path d="M772.75,846.69 A117.5,117.5 0 0 1 775.93,907.43" fill="none" stroke="#fff" stroke-width="2.2"/>
<path d="M785.59,842.52 A131,131 0 0 1 789.14,910.24" fill="none" stroke="#fff" stroke-width="2.2"/>
<path d="M798.43,838.35 A144.5,144.5 0 0 1 802.34,913.04" fill="none" stroke="#fff" stroke-width="2.2"/>
<path d="M811.27,931.82 A158,158 0 0 1 766.72,1000.42 L730.59,960.29 A104,104 0 0 0 759.91,915.14 Z" fill="#b3b3b3"/>
<path d="M772.75,919.31 A117.5,117.5 0 0 1 739.62,970.32" fill="none" stroke="#fff" stroke-width="2.2"/>
<path d="M785.59,923.48 A131,131 0 0 1 748.66,980.35" fill="none" stroke="#fff" stroke-width="2.2"/>
<path d="M798.43,927.65 A144.5,144.5 0 0 1 757.69,990.38" fill="none" stroke="#fff" stroke-width="2.2"/>
<path d="M753.87,1010.82 A158,158 0 0 1 677.52,1040.13 L671.87,986.43 A104,104 0 0 0 722.13,967.14 Z" fill="#b3b3b3"/>
<path d="M730.06,978.06 A117.5,117.5 0 0 1 673.28,999.86" fill="none" stroke="#fff" stroke-width="2.2"/>
<path d="M738.00,988.98 A131,131 0 0 1 674.69,1013.28" fill="none" stroke="#fff" stroke-width="2.2"/>
<path d="M745.93,999.90 A144.5,144.5 0 0 1 676.10,1026.71" fill="none" stroke="#fff" stroke-width="2.2"/>
<path d="M661.00,1041.00 A158,158 0 0 1 582.00,1019.83 L609.00,973.07 A104,104 0 0 0 661.00,987.00 Z" fill="#b3b3b3"/>
<path d="M661.00,1000.50 A117.5,117.5 0 0 1 602.25,984.76" fill="none" stroke="#fff" stroke-width="2.2"/>
<path d="M661.00,1014.00 A131,131 0 0 1 595.50,996.45" fill="none" stroke="#fff" stroke-width="2.2"/>
<path d="M661.00,1027.50 A144.5,144.5 0 0 1 588.75,1008.14" fill="none" stroke="#fff" stroke-width="2.2"/>
<path d="M568.13,1010.82 A158,158 0 0 1 516.66,947.26 L565.99,925.30 A104,104 0 0 0 599.87,967.14 Z" fill="#b3b3b3"/>
<path d="M591.94,978.06 A117.5,117.5 0 0 1 553.66,930.79" fill="none" stroke="#fff" stroke-width="2.2"/>
<path d="M584.00,988.98 A131,131 0 0 1 541.33,936.28" fill="none" stroke="#fff" stroke-width="2.2"/>
<path d="M576.07,999.90 A144.5,144.5 0 0 1 528.99,941.77" fill="none" stroke="#fff" stroke-width="2.2"/>
<path d="M510.73,931.82 A158,158 0 0 1 506.45,850.15 L559.27,861.38 A104,104 0 0 0 562.09,915.14 Z" fill="#b3b3b3"/>
<path d="M549.25,919.31 A117.5,117.5 0 0 1 546.07,858.57" fill="none" stroke="#fff" stroke-width="2.2"/>
<path d="M536.41,923.48 A131,131 0 0 1 532.86,855.76" fill="none" stroke="#fff" stroke-width="2.2"/>
<path d="M523.57,927.65 A144.5,144.5 0 0 1 519.66,852.96" fill="none" stroke="#fff" stroke-width="2.2"/>
<path d="M510.73,834.18 A158,158 0 0 1 555.28,765.58 L591.41,805.71 A104,104 0 0 0 562.09,850.86 Z" fill="#b3b3b3"/>
<path d="M549.25,846.69 A117.5,117.5 0 0 1 582.38,795.68" fill="none" stroke="#fff" stroke-width="2.2"/>
<path d="M536.41,842.52 A131,131 0 0 1 573.34,785.65" fill="none" stroke="#fff" stroke-width="2.2"/>
<path d="M523.57,838.35 A144.5,144.5 0 0 1 564.31,775.62" fill="none" stroke="#fff" stroke-width="2.2"/>
<path d="M568.13,755.18 A158,158 0 0 1 644.48,725.87 L650.13,779.57 A104,104 0 0 0 599.87,798.86 Z" fill="#b3b3b3"/>
<path d="M591.94,787.94 A117.5,117.5 0 0 1 648.72,766.14" fill="none" stroke="#fff" stroke-width="2.2"/>
<path d="M584.00,777.02 A131,131 0 0 1 647.31,752.72" fill="none" stroke="#fff" stroke-width="2.2"/>
<path d="M576.07,766.10 A144.5,144.5 0 0 1 645.90,739.29" fill="none" stroke="#fff" stroke-width="2.2"/>
<circle cx="669.6" cy="747.0" r="4.6" fill="#d83a3a" stroke="#3a1a1a" stroke-width="0.6"/>
<circle cx="666.4" cy="740.5" r="4.6" fill="#d83a3a" stroke="#3a1a1a" stroke-width="0.6"/>
<circle cx="669.0" cy="747.3" r="4.6" fill="#d83a3a" stroke="#3a1a1a" stroke-width="0.6"/>
<circle cx="673.7" cy="746.0" r="4.6" fill="#d83a3a" stroke="#3a1a1a" stroke-width="0.6"/>
<circle cx="676.8" cy="747.3" r="4.6" fill="#d83a3a" stroke="#3a1a1a" stroke-width="0.6"/>
<circle cx="679.2" cy="747.1" r="4.6" fill="#d83a3a" stroke="#3a1a1a" stroke-width="0.6"/>
<circle cx="679.7" cy="742.6" r="4.6" fill="#d83a3a" stroke="#3a1a1a" stroke-width="0.6"/>
<circle cx="682.1" cy="743.1" r="4.6" fill="#d83a3a" stroke="#3a1a1a" stroke-width="0.6"/>
<circle cx="683.1" cy="750.0" r="4.6" fill="#d83a3a" stroke="#3a1a1a" stroke-width="0.6"/>
<circle cx="686.7" cy="746.6" r="4.6" fill="#d83a3a" stroke="#3a1a1a" stroke-width="0.6"/>
<circle cx="684.8" cy="749.4" r="4.6" fill="#d83a3a" stroke="#3a1a1a" stroke-width="0.6"/>
<circle cx="690.3" cy="747.6" r="4.6" fill="#d83a3a" stroke="#3a1a1a" stroke-width="0.6"/>
<circle cx="693.0" cy="746.8" r="4.6" fill="#d83a3a" stroke="#3a1a1a" stroke-width="0.6"/>
<circle cx="694.7" cy="748.9" r="4.6" fill="#d83a3a" stroke="#3a1a1a" stroke-width="0.6"/>
<circle cx="695.1" cy="748.8" r="4.6" fill="#d83a3a" stroke="#3a1a1a" stroke-width="0.6"/>
<circle cx="695.1" cy="746.2" r="4.6" fill="#d83a3a" stroke="#3a1a1a" stroke-width="0.6"/>
<circle cx="697.0" cy="748.2" r="4.6" fill="#d83a3a" stroke="#3a1a1a" stroke-width="0.6"/>
<circle cx="702.2" cy="750.8" r="4.6" fill="#d83a3a" stroke="#3a1a1a" stroke-width="0.6"/>
<circle cx="699.9" cy="748.8" r="4.6" fill="#d83a3a" stroke="#3a1a1a" stroke-width="0.6"/>
<circle cx="703.2" cy="755.0" r="4.6" fill="#d83a3a" stroke="#3a1a1a" stroke-width="0.6"/>
<circle cx="702.4" cy="752.1" r="4.6" fill="#d83a3a" stroke="#3a1a1a" stroke-width="0.6"/>
<circle cx="705.0" cy="749.9" r="4.6" fill="#d83a3a" stroke="#3a1a1a" stroke-width="0.6"/>
<circle cx="708.4" cy="754.5" r="4.6" fill="#d83a3a" stroke="#3a1a1a" stroke-width="0.6"/>
<circle cx="710.1" cy="754.0" r="4.6" fill="#d83a3a" stroke="#3a1a1a" stroke-width="0.6"/>
<circle cx="713.5" cy="758.4" r="4.6" fill="#d83a3a" stroke="#3a1a1a" stroke-width="0.6"/>
<circle cx="713.2" cy="756.1" r="4.6" fill="#d83a3a" stroke="#3a1a1a" stroke-width="0.6"/>
<circle cx="714.6" cy="756.7" r="4.6" fill="#d83a3a" stroke="#3a1a1a" stroke-width="0.6"/>
<circle cx="717.1" cy="759.2" r="4.6" fill="#d83a3a" stroke="#3a1a1a" stroke-width="0.6"/>
<circle cx="719.8" cy="759.8" r="4.6" fill="#d83a3a" stroke="#3a1a1a" stroke-width="0.6"/>
<circle cx="719.9" cy="756.1" r="4.6" fill="#d83a3a" stroke="#3a1a1a" stroke-width="0.6"/>
<circle cx="721.2" cy="761.5" r="4.6" fill="#d83a3a" stroke="#3a1a1a" stroke-width="0.6"/>
<circle cx="724.8" cy="759.2" r="4.6" fill="#d83a3a" stroke="#3a1a1a" stroke-width="0.6"/>
<circle cx="672.7" cy="773.6" r="4.6" fill="#6a8bc6" stroke="#1a2a4a" stroke-width="0.6"/>
<circle cx="739.9" cy="787.4" r="4.6" fill="#d83a3a" stroke="#3a1a1a" stroke-width="0.6"/>
<circle cx="744.2" cy="790.2" r="4.6" fill="#d83a3a" stroke="#3a1a1a" stroke-width="0.6"/>
<circle cx="745.7" cy="789.7" r="4.6" fill="#d83a3a" stroke="#3a1a1a" stroke-width="0.6"/>
<circle cx="746.8" cy="790.6" r="4.6" fill="#d83a3a" stroke="#3a1a1a" stroke-width="0.6"/>
<circle cx="746.6" cy="793.6" r="4.6" fill="#d83a3a" stroke="#3a1a1a" stroke-width="0.6"/>
<circle cx="753.8" cy="792.7" r="4.6" fill="#d83a3a" stroke="#3a1a1a" stroke-width="0.6"/>
<circle cx="752.8" cy="798.0" r="4.6" fill="#d83a3a" stroke="#3a1a1a" stroke-width="0.6"/>
<circle cx="753.9" cy="800.8" r="4.6" fill="#d83a3a" stroke="#3a1a1a" stroke-width="0.6"/>
<circle cx="759.0" cy="797.8" r="4.6" fill="#d83a3a" stroke="#3a1a1a" stroke-width="0.6"/>
<circle cx="760.4" cy="803.7" r="4.6" fill="#d83a3a" stroke="#3a1a1a" stroke-width="0.6"/>
<circle cx="762.1" cy="805.2" r="4.6" fill="#d83a3a" stroke="#3a1a1a" stroke-width="0.6"/>
<circle cx="763.2" cy="805.5" r="4.6" fill="#d83a3a" stroke="#3a1a1a" stroke-width="0.6"/>
<circle cx="767.2" cy="809.0" r="4.6" fill="#d83a3a" stroke="#3a1a1a" stroke-width="0.6"/>
<circle cx="767.1" cy="808.9" r="4.6" fill="#d83a3a" stroke="#3a1a1a" stroke-width="0.6"/>
<circle cx="766.8" cy="813.4" r="4.6" fill="#d83a3a" stroke="#3a1a1a" stroke-width="0.6"/>
<circle cx="771.6" cy="814.4" r="4.6" fill="#d83a3a" stroke="#3a1a1a" stroke-width="0.6"/>
<circle cx="773.4" cy="815.4" r="4.6" fill="#d83a3a" stroke="#3a1a1a" stroke-width="0.6"/>
<circle cx="770.3" cy="816.6" r="4.6" fill="#d83a3a" stroke="#3a1a1a" stroke-width="0.6"/>
<circle cx="772.3" cy="822.3" r="4.6" fill="#d83a3a" stroke="#3a1a1a" stroke-width="0.6"/>
<circle cx="774.7" cy="821.2" r="4.6" fill="#d83a3a" stroke="#3a1a1a" stroke-width="0.6"/>
<circle cx="798.6" cy="850.8" r="4.6" fill="#d83a3a" stroke="#3a1a1a" stroke-width="0.6"/>
<circle cx="804.0" cy="849.8" r="4.6" fill="#d83a3a" stroke="#3a1a1a" stroke-width="0.6"/>
<circle cx="799.0" cy="855.4" r="4.6" fill="#d83a3a" stroke="#3a1a1a" stroke-width="0.6"/>
<circle cx="800.7" cy="856.8" r="4.6" fill="#d83a3a" stroke="#3a1a1a" stroke-width="0.6"/>
<circle cx="801.5" cy="863.2" r="4.6" fill="#d83a3a" stroke="#3a1a1a" stroke-width="0.6"/>
<circle cx="801.0" cy="862.3" r="4.6" fill="#d83a3a" stroke="#3a1a1a" stroke-width="0.6"/>
<circle cx="802.7" cy="865.8" r="4.6" fill="#d83a3a" stroke="#3a1a1a" stroke-width="0.6"/>
<circle cx="807.1" cy="867.1" r="4.6" fill="#d83a3a" stroke="#3a1a1a" stroke-width="0.6"/>
<circle cx="808.7" cy="873.2" r="4.6" fill="#d83a3a" stroke="#3a1a1a" stroke-width="0.6"/>
<circle cx="805.4" cy="870.6" r="4.6" fill="#d83a3a" stroke="#3a1a1a" stroke-width="0.6"/>
<circle cx="803.6" cy="878.2" r="4.6" fill="#d83a3a" stroke="#3a1a1a" stroke-width="0.6"/>
<circle cx="807.3" cy="876.7" r="4.6" fill="#d83a3a" stroke="#3a1a1a" stroke-width="0.6"/>
<circle cx="809.7" cy="880.4" r="4.6" fill="#d83a3a" stroke="#3a1a1a" stroke-width="0.6"/>
<circle cx="807.9" cy="885.1" r="4.6" fill="#d83a3a" stroke="#3a1a1a" stroke-width="0.6"/>
<circle cx="806.4" cy="884.8" r="4.6" fill="#d83a3a" stroke="#3a1a1a" stroke-width="0.6"/>
<circle cx="805.4" cy="887.5" r="4.6" fill="#d83a3a" stroke="#3a1a1a" stroke-width="0.6"/>
<circle cx="806.2" cy="892.5" r="4.6" fill="#d83a3a" stroke="#3a1a1a" stroke-width="0.6"/>
<circle cx="809.9" cy="896.9" r="4.6" fill="#d83a3a" stroke="#3a1a1a" stroke-width="0.6"/>
<circle cx="809.3" cy="894.3" r="4.6" fill="#d83a3a" stroke="#3a1a1a" stroke-width="0.6"/>
<circle cx="805.6" cy="899.9" r="4.6" fill="#d83a3a" stroke="#3a1a1a" stroke-width="0.6"/>
<circle cx="805.6" cy="901.8" r="4.6" fill="#d83a3a" stroke="#3a1a1a" stroke-width="0.6"/>
<circle cx="805.1" cy="906.1" r="4.6" fill="#d83a3a" stroke="#3a1a1a" stroke-width="0.6"/>
<circle cx="812.4" cy="909.2" r="4.6" fill="#d83a3a" stroke="#3a1a1a" stroke-width="0.6"/>
<circle cx="774.7" cy="896.1" r="4.6" fill="#6a8bc6" stroke="#1a2a4a" stroke-width="0.6"/>
<circle cx="787.8" cy="930.6" r="4.6" fill="#d83a3a" stroke="#3a1a1a" stroke-width="0.6"/>
<circle cx="793.9" cy="934.3" r="4.6" fill="#d83a3a" stroke="#3a1a1a" stroke-width="0.6"/>
<circle cx="783.9" cy="935.8" r="4.6" fill="#d83a3a" stroke="#3a1a1a" stroke-width="0.6"/>
<circle cx="789.6" cy="938.1" r="4.6" fill="#d83a3a" stroke="#3a1a1a" stroke-width="0.6"/>
<circle cx="790.4" cy="939.9" r="4.6" fill="#d83a3a" stroke="#3a1a1a" stroke-width="0.6"/>
<circle cx="785.2" cy="944.8" r="4.6" fill="#d83a3a" stroke="#3a1a1a" stroke-width="0.6"/>
<circle cx="788.0" cy="945.4" r="4.6" fill="#d83a3a" stroke="#3a1a1a" stroke-width="0.6"/>
<circle cx="780.5" cy="945.3" r="4.6" fill="#d83a3a" stroke="#3a1a1a" stroke-width="0.6"/>
<circle cx="779.6" cy="946.0" r="4.6" fill="#d83a3a" stroke="#3a1a1a" stroke-width="0.6"/>
<circle cx="779.8" cy="952.5" r="4.6" fill="#d83a3a" stroke="#3a1a1a" stroke-width="0.6"/>
<circle cx="781.5" cy="955.3" r="4.6" fill="#d83a3a" stroke="#3a1a1a" stroke-width="0.6"/>
<circle cx="774.0" cy="955.3" r="4.6" fill="#d83a3a" stroke="#3a1a1a" stroke-width="0.6"/>
<circle cx="780.1" cy="958.2" r="4.6" fill="#d83a3a" stroke="#3a1a1a" stroke-width="0.6"/>
<circle cx="773.4" cy="959.2" r="4.6" fill="#d83a3a" stroke="#3a1a1a" stroke-width="0.6"/>
<circle cx="770.7" cy="959.5" r="4.6" fill="#d83a3a" stroke="#3a1a1a" stroke-width="0.6"/>
<circle cx="769.6" cy="958.2" r="4.6" fill="#d83a3a" stroke="#3a1a1a" stroke-width="0.6"/>
<circle cx="769.0" cy="962.0" r="4.6" fill="#d83a3a" stroke="#3a1a1a" stroke-width="0.6"/>
<circle cx="772.8" cy="968.9" r="4.6" fill="#d83a3a" stroke="#3a1a1a" stroke-width="0.6"/>
<circle cx="769.2" cy="966.5" r="4.6" fill="#d83a3a" stroke="#3a1a1a" stroke-width="0.6"/>
<circle cx="765.3" cy="971.7" r="4.6" fill="#d83a3a" stroke="#3a1a1a" stroke-width="0.6"/>
<circle cx="766.2" cy="973.1" r="4.6" fill="#d83a3a" stroke="#3a1a1a" stroke-width="0.6"/>
<circle cx="767.8" cy="973.7" r="4.6" fill="#d83a3a" stroke="#3a1a1a" stroke-width="0.6"/>
<circle cx="762.4" cy="977.4" r="4.6" fill="#d83a3a" stroke="#3a1a1a" stroke-width="0.6"/>
<circle cx="755.0" cy="974.7" r="4.6" fill="#d83a3a" stroke="#3a1a1a" stroke-width="0.6"/>
<circle cx="756.8" cy="973.8" r="4.6" fill="#d83a3a" stroke="#3a1a1a" stroke-width="0.6"/>
<circle cx="758.7" cy="982.4" r="4.6" fill="#d83a3a" stroke="#3a1a1a" stroke-width="0.6"/>
<circle cx="750.1" cy="952.0" r="4.6" fill="#6a8bc6" stroke="#1a2a4a" stroke-width="0.6"/>
<circle cx="740.3" cy="1004.2" r="4.6" fill="#d83a3a" stroke="#3a1a1a" stroke-width="0.6"/>
<circle cx="740.7" cy="1006.2" r="4.6" fill="#d83a3a" stroke="#3a1a1a" stroke-width="0.6"/>
<circle cx="734.5" cy="1008.1" r="4.6" fill="#d83a3a" stroke="#3a1a1a" stroke-width="0.6"/>
<circle cx="732.9" cy="1009.9" r="4.6" fill="#d83a3a" stroke="#3a1a1a" stroke-width="0.6"/>
<circle cx="730.4" cy="1007.4" r="4.6" fill="#d83a3a" stroke="#3a1a1a" stroke-width="0.6"/>
<circle cx="729.9" cy="1007.2" r="4.6" fill="#d83a3a" stroke="#3a1a1a" stroke-width="0.6"/>
<circle cx="731.5" cy="1012.5" r="4.6" fill="#d83a3a" stroke="#3a1a1a" stroke-width="0.6"/>
<circle cx="724.9" cy="1008.5" r="4.6" fill="#d83a3a" stroke="#3a1a1a" stroke-width="0.6"/>
<circle cx="723.0" cy="1010.4" r="4.6" fill="#d83a3a" stroke="#3a1a1a" stroke-width="0.6"/>
<circle cx="720.8" cy="1013.5" r="4.6" fill="#d83a3a" stroke="#3a1a1a" stroke-width="0.6"/>
<circle cx="720.5" cy="1015.0" r="4.6" fill="#d83a3a" stroke="#3a1a1a" stroke-width="0.6"/>
<circle cx="716.6" cy="1015.9" r="4.6" fill="#d83a3a" stroke="#3a1a1a" stroke-width="0.6"/>
<circle cx="712.0" cy="1017.6" r="4.6" fill="#d83a3a" stroke="#3a1a1a" stroke-width="0.6"/>
<circle cx="712.7" cy="1022.1" r="4.6" fill="#d83a3a" stroke="#3a1a1a" stroke-width="0.6"/>
<circle cx="706.7" cy="1020.5" r="4.6" fill="#d83a3a" stroke="#3a1a1a" stroke-width="0.6"/>
<circle cx="711.1" cy="1023.7" r="4.6" fill="#d83a3a" stroke="#3a1a1a" stroke-width="0.6"/>
<circle cx="704.2" cy="1020.4" r="4.6" fill="#d83a3a" stroke="#3a1a1a" stroke-width="0.6"/>
<circle cx="704.2" cy="1020.8" r="4.6" fill="#d83a3a" stroke="#3a1a1a" stroke-width="0.6"/>
<circle cx="700.6" cy="1021.3" r="4.6" fill="#d83a3a" stroke="#3a1a1a" stroke-width="0.6"/>
<circle cx="701.4" cy="1028.0" r="4.6" fill="#d83a3a" stroke="#3a1a1a" stroke-width="0.6"/>
<circle cx="692.8" cy="1023.6" r="4.6" fill="#d83a3a" stroke="#3a1a1a" stroke-width="0.6"/>
<circle cx="693.5" cy="1028.9" r="4.6" fill="#d83a3a" stroke="#3a1a1a" stroke-width="0.6"/>
<circle cx="689.7" cy="1024.3" r="4.6" fill="#d83a3a" stroke="#3a1a1a" stroke-width="0.6"/>
<circle cx="688.7" cy="1027.1" r="4.6" fill="#d83a3a" stroke="#3a1a1a" stroke-width="0.6"/>
<circle cx="683.0" cy="1029.8" r="4.6" fill="#d83a3a" stroke="#3a1a1a" stroke-width="0.6"/>
<circle cx="683.3" cy="1030.3" r="4.6" fill="#d83a3a" stroke="#3a1a1a" stroke-width="0.6"/>
<circle cx="708.3" cy="986.4" r="4.6" fill="#6a8bc6" stroke="#1a2a4a" stroke-width="0.6"/>
<circle cx="651.1" cy="1008.9" r="4.6" fill="#d83a3a" stroke="#3a1a1a" stroke-width="0.6"/>
<circle cx="650.9" cy="1006.4" r="4.6" fill="#d83a3a" stroke="#3a1a1a" stroke-width="0.6"/>
<circle cx="650.2" cy="1005.1" r="4.6" fill="#d83a3a" stroke="#3a1a1a" stroke-width="0.6"/>
<circle cx="646.4" cy="1007.9" r="4.6" fill="#d83a3a" stroke="#3a1a1a" stroke-width="0.6"/>
<circle cx="640.7" cy="1005.7" r="4.6" fill="#d83a3a" stroke="#3a1a1a" stroke-width="0.6"/>
<circle cx="638.9" cy="1008.9" r="4.6" fill="#d83a3a" stroke="#3a1a1a" stroke-width="0.6"/>
<circle cx="636.2" cy="1004.1" r="4.6" fill="#d83a3a" stroke="#3a1a1a" stroke-width="0.6"/>
<circle cx="631.0" cy="1007.7" r="4.6" fill="#d83a3a" stroke="#3a1a1a" stroke-width="0.6"/>
<circle cx="632.1" cy="1005.6" r="4.6" fill="#d83a3a" stroke="#3a1a1a" stroke-width="0.6"/>
<circle cx="625.9" cy="1009.8" r="4.6" fill="#d83a3a" stroke="#3a1a1a" stroke-width="0.6"/>
<circle cx="626.0" cy="1006.1" r="4.6" fill="#d83a3a" stroke="#3a1a1a" stroke-width="0.6"/>
<circle cx="622.6" cy="1003.7" r="4.6" fill="#d83a3a" stroke="#3a1a1a" stroke-width="0.6"/>
<circle cx="618.9" cy="1008.7" r="4.6" fill="#d83a3a" stroke="#3a1a1a" stroke-width="0.6"/>
<circle cx="615.5" cy="1007.1" r="4.6" fill="#d83a3a" stroke="#3a1a1a" stroke-width="0.6"/>
<circle cx="614.1" cy="1007.4" r="4.6" fill="#d83a3a" stroke="#3a1a1a" stroke-width="0.6"/>
<circle cx="610.4" cy="1001.1" r="4.6" fill="#d83a3a" stroke="#3a1a1a" stroke-width="0.6"/>
<circle cx="607.6" cy="1004.0" r="4.6" fill="#d83a3a" stroke="#3a1a1a" stroke-width="0.6"/>
<circle cx="604.8" cy="1002.5" r="4.6" fill="#d83a3a" stroke="#3a1a1a" stroke-width="0.6"/>
<circle cx="603.9" cy="1002.0" r="4.6" fill="#d83a3a" stroke="#3a1a1a" stroke-width="0.6"/>
<circle cx="599.7" cy="1002.4" r="4.6" fill="#d83a3a" stroke="#3a1a1a" stroke-width="0.6"/>
<circle cx="569.8" cy="993.9" r="4.6" fill="#d83a3a" stroke="#3a1a1a" stroke-width="0.6"/>
<circle cx="570.8" cy="987.2" r="4.6" fill="#d83a3a" stroke="#3a1a1a" stroke-width="0.6"/>
<circle cx="570.4" cy="985.6" r="4.6" fill="#d83a3a" stroke="#3a1a1a" stroke-width="0.6"/>
<circle cx="567.9" cy="982.3" r="4.6" fill="#d83a3a" stroke="#3a1a1a" stroke-width="0.6"/>
<circle cx="565.5" cy="982.5" r="4.6" fill="#d83a3a" stroke="#3a1a1a" stroke-width="0.6"/>
<circle cx="564.3" cy="979.2" r="4.6" fill="#d83a3a" stroke="#3a1a1a" stroke-width="0.6"/>
<circle cx="560.0" cy="980.9" r="4.6" fill="#d83a3a" stroke="#3a1a1a" stroke-width="0.6"/>
<circle cx="563.5" cy="978.0" r="4.6" fill="#d83a3a" stroke="#3a1a1a" stroke-width="0.6"/>
<circle cx="558.7" cy="978.3" r="4.6" fill="#d83a3a" stroke="#3a1a1a" stroke-width="0.6"/>
<circle cx="561.2" cy="973.7" r="4.6" fill="#d83a3a" stroke="#3a1a1a" stroke-width="0.6"/>
<circle cx="554.6" cy="975.1" r="4.6" fill="#d83a3a" stroke="#3a1a1a" stroke-width="0.6"/>
<circle cx="553.6" cy="975.2" r="4.6" fill="#d83a3a" stroke="#3a1a1a" stroke-width="0.6"/>
<circle cx="555.4" cy="968.0" r="4.6" fill="#d83a3a" stroke="#3a1a1a" stroke-width="0.6"/>
<circle cx="554.4" cy="968.9" r="4.6" fill="#d83a3a" stroke="#3a1a1a" stroke-width="0.6"/>
<circle cx="552.9" cy="964.5" r="4.6" fill="#d83a3a" stroke="#3a1a1a" stroke-width="0.6"/>
<circle cx="551.1" cy="965.8" r="4.6" fill="#d83a3a" stroke="#3a1a1a" stroke-width="0.6"/>
<circle cx="549.6" cy="962.8" r="4.6" fill="#d83a3a" stroke="#3a1a1a" stroke-width="0.6"/>
<circle cx="546.3" cy="961.0" r="4.6" fill="#d83a3a" stroke="#3a1a1a" stroke-width="0.6"/>
<circle cx="547.7" cy="956.5" r="4.6" fill="#d83a3a" stroke="#3a1a1a" stroke-width="0.6"/>
<circle cx="543.8" cy="959.0" r="4.6" fill="#d83a3a" stroke="#3a1a1a" stroke-width="0.6"/>
<circle cx="547.8" cy="954.6" r="4.6" fill="#d83a3a" stroke="#3a1a1a" stroke-width="0.6"/>
<circle cx="542.2" cy="955.3" r="4.6" fill="#d83a3a" stroke="#3a1a1a" stroke-width="0.6"/>
<circle cx="539.2" cy="951.2" r="4.6" fill="#d83a3a" stroke="#3a1a1a" stroke-width="0.6"/>
<circle cx="541.8" cy="946.6" r="4.6" fill="#d83a3a" stroke="#3a1a1a" stroke-width="0.6"/>
<circle cx="538.8" cy="946.9" r="4.6" fill="#d83a3a" stroke="#3a1a1a" stroke-width="0.6"/>
<circle cx="538.0" cy="946.1" r="4.6" fill="#d83a3a" stroke="#3a1a1a" stroke-width="0.6"/>
<circle cx="591.6" cy="970.9" r="4.6" fill="#6a8bc6" stroke="#1a2a4a" stroke-width="0.6"/>
<circle cx="578.9" cy="959.9" r="4.6" fill="#6a8bc6" stroke="#1a2a4a" stroke-width="0.6"/>
<circle cx="525.6" cy="910.2" r="4.6" fill="#d83a3a" stroke="#3a1a1a" stroke-width="0.6"/>
<circle cx="529.3" cy="901.2" r="4.6" fill="#d83a3a" stroke="#3a1a1a" stroke-width="0.6"/>
<circle cx="528.3" cy="897.8" r="4.6" fill="#d83a3a" stroke="#3a1a1a" stroke-width="0.6"/>
<circle cx="534.6" cy="895.5" r="4.6" fill="#d83a3a" stroke="#3a1a1a" stroke-width="0.6"/>
<circle cx="527.7" cy="890.1" r="4.6" fill="#d83a3a" stroke="#3a1a1a" stroke-width="0.6"/>
<circle cx="534.2" cy="888.9" r="4.6" fill="#d83a3a" stroke="#3a1a1a" stroke-width="0.6"/>
<circle cx="533.0" cy="887.4" r="4.6" fill="#d83a3a" stroke="#3a1a1a" stroke-width="0.6"/>
<circle cx="536.4" cy="879.8" r="4.6" fill="#d83a3a" stroke="#3a1a1a" stroke-width="0.6"/>
<circle cx="535.4" cy="879.2" r="4.6" fill="#d83a3a" stroke="#3a1a1a" stroke-width="0.6"/>
<circle cx="541.3" cy="873.5" r="4.6" fill="#d83a3a" stroke="#3a1a1a" stroke-width="0.6"/>
<circle cx="537.8" cy="872.5" r="4.6" fill="#d83a3a" stroke="#3a1a1a" stroke-width="0.6"/>
<circle cx="537.5" cy="870.2" r="4.6" fill="#d83a3a" stroke="#3a1a1a" stroke-width="0.6"/>
<circle cx="514.4" cy="885.4" r="4.6" fill="#d83a3a" stroke="#3a1a1a" stroke-width="0.6"/>
<circle cx="517.7" cy="882.4" r="4.6" fill="#d83a3a" stroke="#3a1a1a" stroke-width="0.6"/>
<circle cx="517.9" cy="883.0" r="4.6" fill="#d83a3a" stroke="#3a1a1a" stroke-width="0.6"/>
<circle cx="514.8" cy="879.4" r="4.6" fill="#d83a3a" stroke="#3a1a1a" stroke-width="0.6"/>
<circle cx="530.7" cy="825.8" r="4.6" fill="#d83a3a" stroke="#3a1a1a" stroke-width="0.6"/>
<circle cx="530.4" cy="825.6" r="4.6" fill="#d83a3a" stroke="#3a1a1a" stroke-width="0.6"/>
<circle cx="535.3" cy="821.9" r="4.6" fill="#d83a3a" stroke="#3a1a1a" stroke-width="0.6"/>
<circle cx="533.9" cy="822.3" r="4.6" fill="#d83a3a" stroke="#3a1a1a" stroke-width="0.6"/>
<circle cx="538.0" cy="820.2" r="4.6" fill="#d83a3a" stroke="#3a1a1a" stroke-width="0.6"/>
<circle cx="540.8" cy="817.3" r="4.6" fill="#d83a3a" stroke="#3a1a1a" stroke-width="0.6"/>
<circle cx="541.8" cy="811.2" r="4.6" fill="#d83a3a" stroke="#3a1a1a" stroke-width="0.6"/>
<circle cx="539.4" cy="806.3" r="4.6" fill="#d83a3a" stroke="#3a1a1a" stroke-width="0.6"/>
<circle cx="536.7" cy="807.5" r="4.6" fill="#d83a3a" stroke="#3a1a1a" stroke-width="0.6"/>
<circle cx="544.1" cy="802.9" r="4.6" fill="#d83a3a" stroke="#3a1a1a" stroke-width="0.6"/>
<circle cx="546.3" cy="800.4" r="4.6" fill="#d83a3a" stroke="#3a1a1a" stroke-width="0.6"/>
<circle cx="547.7" cy="804.0" r="4.6" fill="#d83a3a" stroke="#3a1a1a" stroke-width="0.6"/>
<circle cx="544.7" cy="796.1" r="4.6" fill="#d83a3a" stroke="#3a1a1a" stroke-width="0.6"/>
<circle cx="554.1" cy="795.9" r="4.6" fill="#d83a3a" stroke="#3a1a1a" stroke-width="0.6"/>
<circle cx="554.2" cy="795.8" r="4.6" fill="#d83a3a" stroke="#3a1a1a" stroke-width="0.6"/>
<circle cx="553.7" cy="792.6" r="4.6" fill="#d83a3a" stroke="#3a1a1a" stroke-width="0.6"/>
<circle cx="557.8" cy="790.9" r="4.6" fill="#d83a3a" stroke="#3a1a1a" stroke-width="0.6"/>
<circle cx="560.0" cy="787.1" r="4.6" fill="#d83a3a" stroke="#3a1a1a" stroke-width="0.6"/>
<circle cx="561.2" cy="782.3" r="4.6" fill="#d83a3a" stroke="#3a1a1a" stroke-width="0.6"/>
<circle cx="559.3" cy="780.1" r="4.6" fill="#d83a3a" stroke="#3a1a1a" stroke-width="0.6"/>
<circle cx="553.4" cy="843.6" r="4.6" fill="#6a8bc6" stroke="#1a2a4a" stroke-width="0.6"/>
<circle cx="589.3" cy="778.3" r="4.6" fill="#d83a3a" stroke="#3a1a1a" stroke-width="0.6"/>
<circle cx="589.2" cy="770.6" r="4.6" fill="#d83a3a" stroke="#3a1a1a" stroke-width="0.6"/>
<circle cx="593.1" cy="768.8" r="4.6" fill="#d83a3a" stroke="#3a1a1a" stroke-width="0.6"/>
<circle cx="600.6" cy="775.6" r="4.6" fill="#d83a3a" stroke="#3a1a1a" stroke-width="0.6"/>
<circle cx="601.5" cy="769.8" r="4.6" fill="#d83a3a" stroke="#3a1a1a" stroke-width="0.6"/>
<circle cx="608.8" cy="769.6" r="4.6" fill="#d83a3a" stroke="#3a1a1a" stroke-width="0.6"/>
<circle cx="608.9" cy="770.4" r="4.6" fill="#d83a3a" stroke="#3a1a1a" stroke-width="0.6"/>
<circle cx="607.5" cy="757.9" r="4.6" fill="#d83a3a" stroke="#3a1a1a" stroke-width="0.6"/>
<circle cx="618.4" cy="765.6" r="4.6" fill="#d83a3a" stroke="#3a1a1a" stroke-width="0.6"/>
<circle cx="615.9" cy="762.5" r="4.6" fill="#d83a3a" stroke="#3a1a1a" stroke-width="0.6"/>
<circle cx="623.7" cy="765.9" r="4.6" fill="#d83a3a" stroke="#3a1a1a" stroke-width="0.6"/>
<circle cx="623.3" cy="755.8" r="4.6" fill="#d83a3a" stroke="#3a1a1a" stroke-width="0.6"/>
<circle cx="624.8" cy="756.3" r="4.6" fill="#d83a3a" stroke="#3a1a1a" stroke-width="0.6"/>
<circle cx="631.7" cy="753.6" r="4.6" fill="#d83a3a" stroke="#3a1a1a" stroke-width="0.6"/>
<circle cx="635.2" cy="757.9" r="4.6" fill="#d83a3a" stroke="#3a1a1a" stroke-width="0.6"/>
<circle cx="639.7" cy="762.2" r="4.6" fill="#d83a3a" stroke="#3a1a1a" stroke-width="0.6"/>
<circle cx="642.7" cy="760.3" r="4.6" fill="#d83a3a" stroke="#3a1a1a" stroke-width="0.6"/>
<path d="M661.00,794.00 A89,89 0 0 1 705.50,805.92 L687.00,837.97 A52,52 0 0 0 661.00,831.00 Z" fill="#d8301c" stroke="#000" stroke-width="1.8" stroke-linejoin="miter"/>
<path d="M710.37,815.04 A84,84 0 0 1 737.74,848.83 L708.50,861.85 A52,52 0 0 0 691.56,840.93 Z" fill="#e05c40" stroke="#000" stroke-width="1.8" stroke-linejoin="miter"/>
<path d="M732.33,859.82 A75,75 0 0 1 734.36,898.59 L711.86,893.81 A52,52 0 0 0 710.45,866.93 Z" fill="#d42a1e" stroke="#000" stroke-width="1.8" stroke-linejoin="miter"/>
<path d="M732.33,906.18 A75,75 0 0 1 711.18,938.74 L695.79,921.64 A52,52 0 0 0 710.45,899.07 Z" fill="#dd4a30" stroke="#000" stroke-width="1.8" stroke-linejoin="miter"/>
<path d="M702.14,939.63 A70,70 0 0 1 668.32,952.62 L666.44,934.72 A52,52 0 0 0 691.56,925.07 Z" fill="#e06045" stroke="#000" stroke-width="1.8" stroke-linejoin="miter"/>
<path d="M661.00,953.00 A70,70 0 0 1 626.00,943.62 L635.00,928.03 A52,52 0 0 0 661.00,935.00 Z" fill="#e06a50" stroke="#000" stroke-width="1.8" stroke-linejoin="miter"/>
<path d="M616.92,943.68 A75,75 0 0 1 592.48,913.51 L613.50,904.15 A52,52 0 0 0 630.44,925.07 Z" fill="#e05c40" stroke="#000" stroke-width="1.8" stroke-linejoin="miter"/>
<path d="M597.28,903.70 A67,67 0 0 1 595.46,869.07 L610.14,872.19 A52,52 0 0 0 611.55,899.07 Z" fill="#e57a5e" stroke="#000" stroke-width="1.8" stroke-linejoin="miter"/>
<path d="M594.43,861.37 A70,70 0 0 1 614.16,830.98 L626.21,844.36 A52,52 0 0 0 611.55,866.93 Z" fill="#e57a5e" stroke="#000" stroke-width="1.8" stroke-linejoin="miter"/>
<path d="M623.38,831.22 A64,64 0 0 1 654.31,819.35 L655.56,831.28 A52,52 0 0 0 630.44,840.93 Z" fill="#e06a50" stroke="#000" stroke-width="1.8" stroke-linejoin="miter"/>
<text x="661.0" y="718.0" font-size="13" font-weight="normal" text-anchor="middle" transform="rotate(15.0 661.0 883.0)">GO:0001819</text>
<text x="661.0" y="718.0" font-size="13" font-weight="normal" text-anchor="middle" transform="rotate(51.0 661.0 883.0)">R-HSA-6798695</text>
<text x="661.0" y="718.0" font-size="13" font-weight="normal" text-anchor="middle" transform="rotate(87.0 661.0 883.0)">R-HSA-6785807</text>
<text x="661.0" y="718.0" font-size="13" font-weight="normal" text-anchor="middle" transform="rotate(123.0 661.0 883.0)">GO:2000147</text>
<text x="661.0" y="718.0" font-size="13" font-weight="normal" text-anchor="middle" transform="rotate(159.0 661.0 883.0)">GO:0006909</text>
<text x="661.0" y="718.0" font-size="13" font-weight="normal" text-anchor="middle" transform="rotate(195.0 661.0 883.0)">M3468</text>
<text x="661.0" y="718.0" font-size="13" font-weight="normal" text-anchor="middle" transform="rotate(231.0 661.0 883.0)">GO:0030155</text>
<text x="661.0" y="718.0" font-size="13" font-weight="normal" text-anchor="middle" transform="rotate(267.0 661.0 883.0)">GO:0048514</text>
<text x="661.0" y="718.0" font-size="13" font-weight="normal" text-anchor="middle" transform="rotate(303.0 661.0 883.0)">GO:0002697</text>
<text x="661.0" y="718.0" font-size="13" font-weight="normal" text-anchor="middle" transform="rotate(339.0 661.0 883.0)">GO:0060627</text>
<rect x="300.3" y="1056.9" width="73.0" height="11.9" fill="url(#zs)"/>
<text x="383.9" y="1067.4" font-size="22" textLength="84.2" lengthAdjust="spacingAndGlyphs">Z score</text>
<text x="497.8" y="1066.6" font-size="22.6" textLength="79.9" lengthAdjust="spacingAndGlyphs">Log FC</text>
<circle cx="479.1" cy="1088.2" r="5.7" fill="#6a8bc6"/>
<text x="495.2" y="1090.8" font-size="21.5" textLength="167.1" lengthAdjust="spacingAndGlyphs">downregulated</text>
<circle cx="676.0" cy="1087.0" r="5.5" fill="#e02020"/>
<text x="689.5" y="1090.8" font-size="21.5" textLength="133.2" lengthAdjust="spacingAndGlyphs">upregulated</text>
<polygon points="95.6,1086 115.8,1086 115.8,1078.7 138.6,1090.1 115.8,1101.5 115.8,1094 95.6,1094" fill="#e8201e"/>
<text x="141.1" y="1095.2" font-size="24.4" fill="#e8201e" textLength="278.7" lengthAdjust="spacingAndGlyphs">Neutrophil degranulation</text>
<text x="122.9" y="1127.3" font-size="22.2" textLength="231.4" lengthAdjust="spacingAndGlyphs">MV-4-11-C/EBPα-p42</text>
<text x="527.8" y="1126.6" font-size="22.6" textLength="247.3" lengthAdjust="spacingAndGlyphs">MOLM-13-C/EBPα-p42</text>
<text x="909.0" y="628.3" font-size="36" textLength="25.9" lengthAdjust="spacingAndGlyphs">D</text>
<text x="1174.8" y="627.0" font-size="21.8" textLength="87.1" lengthAdjust="spacingAndGlyphs">MV -4-11</text>
<text x="1091.2" y="651.0" font-size="21.5" textLength="59.0" lengthAdjust="spacingAndGlyphs">CTRL</text>
<text x="1278.2" y="651.0" font-size="21.5" textLength="125.4" lengthAdjust="spacingAndGlyphs">C/EBPα-p42</text>
<line x1="997.6" y1="659.0" x2="1205.3" y2="659.0" stroke="#000" stroke-width="1.7"/>
<line x1="1236.0" y1="659.0" x2="1443.4" y2="659.0" stroke="#000" stroke-width="1.7"/>
<text x="1001.2" y="678.0" font-size="21.5" textLength="113.3" lengthAdjust="spacingAndGlyphs">Quizartinib</text>
<text x="1120.9" y="678.0" font-size="21.5" textLength="108.4" lengthAdjust="spacingAndGlyphs">Gilteritinib</text>
<text x="1236.2" y="678.0" font-size="21.5" textLength="114.4" lengthAdjust="spacingAndGlyphs">Quizartinib</text>
<text x="1361.8" y="678.0" font-size="21.5" textLength="108.4" lengthAdjust="spacingAndGlyphs">Gilteritinib</text>
<line x1="1023.0" y1="688.4" x2="1108.1" y2="688.4" stroke="#000" stroke-width="1.7"/>
<line x1="1119.7" y1="688.4" x2="1204.8" y2="688.4" stroke="#000" stroke-width="1.7"/>
<line x1="1259.2" y1="688.4" x2="1343.4" y2="688.4" stroke="#000" stroke-width="1.7"/>
<line x1="1359.8" y1="688.4" x2="1444.8" y2="688.4" stroke="#000" stroke-width="1.7"/>
<polygon points="1023,714.8 1109,698.6 1109,714.8" fill="#4472c4"/>
<polygon points="1118.9,714.8 1205.3,698.6 1205.3,714.8" fill="#e8201e"/>
<polygon points="1257.8,714.8 1344.2,698.6 1344.2,714.8" fill="#4472c4"/>
<polygon points="1362,713.4 1448.3,697 1448.3,713.4" fill="#e8201e"/>
<text x="997.5" y="718.3" font-size="24" text-anchor="middle" stroke="#000" stroke-width="0.6">-</text>
<text x="1231.0" y="715.3" font-size="24" text-anchor="middle" stroke="#000" stroke-width="0.6">-</text>
<text x="1693.2" y="624.0" font-size="21.8" textLength="107.5" lengthAdjust="spacingAndGlyphs">MOLM -13</text>
<text x="1618.2" y="651.0" font-size="21.5" textLength="59.5" lengthAdjust="spacingAndGlyphs">CTRL</text>
<text x="1805.2" y="651.0" font-size="21.5" textLength="126.5" lengthAdjust="spacingAndGlyphs">C/EBPα-p42</text>
<line x1="1525.0" y1="659.0" x2="1732.0" y2="659.0" stroke="#000" stroke-width="1.7"/>
<line x1="1763.0" y1="659.0" x2="1971.0" y2="659.0" stroke="#000" stroke-width="1.7"/>
<text x="1528.2" y="678.0" font-size="21.5" textLength="113.5" lengthAdjust="spacingAndGlyphs">Quizartinib</text>
<text x="1648.2" y="678.0" font-size="21.5" textLength="108.5" lengthAdjust="spacingAndGlyphs">Gilteritinib</text>
<text x="1767.2" y="678.0" font-size="21.5" textLength="113.5" lengthAdjust="spacingAndGlyphs">Quizartinib</text>
<text x="1889.2" y="678.0" font-size="21.5" textLength="108.5" lengthAdjust="spacingAndGlyphs">Gilteritinib</text>
<line x1="1551.0" y1="688.4" x2="1635.0" y2="688.4" stroke="#000" stroke-width="1.7"/>
<line x1="1648.0" y1="688.4" x2="1732.0" y2="688.4" stroke="#000" stroke-width="1.7"/>
<line x1="1786.0" y1="688.4" x2="1870.0" y2="688.4" stroke="#000" stroke-width="1.7"/>
<line x1="1888.0" y1="688.4" x2="1972.0" y2="688.4" stroke="#000" stroke-width="1.7"/>
<polygon points="1550,715 1636,698 1636,715" fill="#4472c4"/>
<polygon points="1646,715 1732,698 1732,715" fill="#e8201e"/>
<polygon points="1786,715 1872,698 1872,715" fill="#4472c4"/>
<polygon points="1889,713 1976,697 1976,713" fill="#e8201e"/>
<text x="1525.5" y="719.3" font-size="24" text-anchor="middle" stroke="#000" stroke-width="0.6">-</text>
<text x="1758.5" y="715.3" font-size="24" text-anchor="middle" stroke="#000" stroke-width="0.6">-</text>
<text x="882.8" y="752.2" font-size="22.5" textLength="83.6" lengthAdjust="spacingAndGlyphs">p-STAT5</text>
<text x="902.4" y="802.5" font-size="22.5" textLength="65.4" lengthAdjust="spacingAndGlyphs">STAT5</text>
<text x="897.2" y="841.4" font-size="22.5" textLength="62.1" lengthAdjust="spacingAndGlyphs">p-AKT</text>
<text x="915.0" y="897.7" font-size="22.5" textLength="44.3" lengthAdjust="spacingAndGlyphs">AKT</text>
<text x="896.9" y="972.2" font-size="22.5" textLength="67.5" lengthAdjust="spacingAndGlyphs">p-ERK</text>
<text x="913.0" y="1053.6" font-size="22.5" textLength="46.3" lengthAdjust="spacingAndGlyphs">ERK</text>
<text x="903.8" y="1120.0" font-size="22.5" textLength="60.0" lengthAdjust="spacingAndGlyphs">ACTB</text>
<text x="1994.0" y="753.2" font-size="21.2" textLength="55.6" lengthAdjust="spacingAndGlyphs">90KD</text>
<text x="1994.0" y="802.4" font-size="21.2" textLength="55.6" lengthAdjust="spacingAndGlyphs">90KD</text>
<text x="1994.0" y="848.0" font-size="21.2" textLength="55.6" lengthAdjust="spacingAndGlyphs">60KD</text>
<text x="1994.0" y="903.0" font-size="21.2" textLength="55.6" lengthAdjust="spacingAndGlyphs">60KD</text>
<text x="1994.0" y="964.3" font-size="21.2" textLength="55.6" lengthAdjust="spacingAndGlyphs">44KD</text>
<text x="1994.0" y="980.0" font-size="21.2" textLength="55.6" lengthAdjust="spacingAndGlyphs">42KD</text>
<text x="1994.0" y="1044.8" font-size="21.2" textLength="55.6" lengthAdjust="spacingAndGlyphs">44KD</text>
<text x="1994.0" y="1058.9" font-size="21.2" textLength="55.6" lengthAdjust="spacingAndGlyphs">42KD</text>
<text x="1994.0" y="1122.2" font-size="21.2" textLength="55.6" lengthAdjust="spacingAndGlyphs">45KD</text>
<rect x="973.0" y="730.2" width="496.0" height="39.1" fill="#dcdcdc"/>
<g clip-path="url(#c7)"><g filter="url(#bl15)">
<rect x="983.2" y="734.6" width="27.0" height="11.0" rx="5.5" fill="#000" fill-opacity="1.00"/>
<rect x="1016.1" y="734.6" width="27.0" height="11.0" rx="5.5" fill="#000" fill-opacity="1.00"/>
<rect x="1049.0" y="736.1" width="27.0" height="8.0" rx="4.0" fill="#000" fill-opacity="0.95"/>
<rect x="1081.9" y="737.6" width="27.0" height="5.0" rx="2.5" fill="#000" fill-opacity="0.85"/>
<rect x="1114.8" y="736.1" width="27.0" height="8.0" rx="4.0" fill="#000" fill-opacity="1.00"/>
<rect x="1147.7" y="737.6" width="27.0" height="5.0" rx="2.5" fill="#000" fill-opacity="0.60"/>
<rect x="1180.6" y="738.1" width="27.0" height="4.0" rx="2.0" fill="#000" fill-opacity="0.15"/>
<rect x="1213.5" y="737.6" width="27.0" height="11.0" rx="5.5" fill="#000" fill-opacity="1.00"/>
<rect x="1246.4" y="737.6" width="27.0" height="11.0" rx="5.5" fill="#000" fill-opacity="1.00"/>
<rect x="1279.3" y="738.6" width="27.0" height="9.0" rx="4.5" fill="#000" fill-opacity="1.00"/>
<rect x="1312.2" y="740.1" width="27.0" height="6.0" rx="3.0" fill="#000" fill-opacity="0.85"/>
<rect x="1345.1" y="739.6" width="27.0" height="7.0" rx="3.5" fill="#000" fill-opacity="0.95"/>
<rect x="1378.0" y="740.1" width="27.0" height="6.0" rx="3.0" fill="#000" fill-opacity="0.85"/>
<rect x="1410.9" y="740.6" width="27.0" height="5.0" rx="2.5" fill="#000" fill-opacity="0.60"/>
<rect x="985.7" y="750.2" width="22.0" height="7.0" rx="3.5" fill="#000" fill-opacity="0.95"/>
<rect x="1018.6" y="750.2" width="22.0" height="7.0" rx="3.5" fill="#000" fill-opacity="0.95"/>
<rect x="1051.5" y="750.2" width="22.0" height="7.0" rx="3.5" fill="#000" fill-opacity="0.70"/>
<rect x="1084.4" y="750.2" width="22.0" height="7.0" rx="3.5" fill="#000" fill-opacity="0.12"/>
<rect x="1117.3" y="750.2" width="22.0" height="7.0" rx="3.5" fill="#000" fill-opacity="0.20"/>
<rect x="1150.2" y="750.2" width="22.0" height="7.0" rx="3.5" fill="#000" fill-opacity="0.08"/>
<rect x="1183.1" y="750.2" width="22.0" height="7.0" rx="3.5" fill="#000" fill-opacity="0.05"/>
<rect x="1216.0" y="751.2" width="22.0" height="7.0" rx="3.5" fill="#000" fill-opacity="0.95"/>
<rect x="1248.9" y="751.2" width="22.0" height="7.0" rx="3.5" fill="#000" fill-opacity="1.00"/>
<rect x="1281.8" y="751.2" width="22.0" height="7.0" rx="3.5" fill="#000" fill-opacity="0.85"/>
<rect x="1314.7" y="751.2" width="22.0" height="7.0" rx="3.5" fill="#000" fill-opacity="0.25"/>
<rect x="1347.6" y="751.2" width="22.0" height="7.0" rx="3.5" fill="#000" fill-opacity="0.30"/>
<rect x="1380.5" y="751.2" width="22.0" height="7.0" rx="3.5" fill="#000" fill-opacity="0.20"/>
<rect x="1413.4" y="751.2" width="22.0" height="7.0" rx="3.5" fill="#000" fill-opacity="0.15"/>
<rect x="985.7" y="758.0" width="22.0" height="4.0" rx="2.0" fill="#000" fill-opacity="0.30"/>
<rect x="1018.6" y="758.0" width="22.0" height="4.0" rx="2.0" fill="#000" fill-opacity="0.30"/>
<rect x="1051.5" y="758.0" width="22.0" height="4.0" rx="2.0" fill="#000" fill-opacity="0.30"/>
<rect x="1084.4" y="758.0" width="22.0" height="4.0" rx="2.0" fill="#000" fill-opacity="0.05"/>
<rect x="1117.3" y="758.0" width="22.0" height="4.0" rx="2.0" fill="#000" fill-opacity="0.10"/>
<rect x="1150.2" y="758.0" width="22.0" height="4.0" rx="2.0" fill="#000" fill-opacity="0.05"/>
<rect x="1183.1" y="758.0" width="22.0" height="4.0" rx="2.0" fill="#000" fill-opacity="0.03"/>
<rect x="1216.0" y="758.0" width="22.0" height="4.0" rx="2.0" fill="#000" fill-opacity="0.30"/>
<rect x="1248.9" y="758.0" width="22.0" height="4.0" rx="2.0" fill="#000" fill-opacity="0.30"/>
<rect x="1281.8" y="758.0" width="22.0" height="4.0" rx="2.0" fill="#000" fill-opacity="0.20"/>
<rect x="1314.7" y="758.0" width="22.0" height="4.0" rx="2.0" fill="#000" fill-opacity="0.05"/>
<rect x="1347.6" y="758.0" width="22.0" height="4.0" rx="2.0" fill="#000" fill-opacity="0.10"/>
<rect x="1380.5" y="758.0" width="22.0" height="4.0" rx="2.0" fill="#000" fill-opacity="0.05"/>
<rect x="1413.4" y="758.0" width="22.0" height="4.0" rx="2.0" fill="#000" fill-opacity="0.05"/>
</g></g>
<rect x="973.0" y="730.2" width="496.0" height="39.1" fill="none" stroke="#000" stroke-width="2.0"/>
<rect x="974.0" y="777.3" width="495.0" height="34.1" fill="#d8d8d8"/>
<g clip-path="url(#c8)"><g filter="url(#bl15)">
<rect x="985.6" y="789.2" width="28.0" height="13.0" rx="6.5" fill="#000" fill-opacity="1.00"/>
<rect x="1020.6" y="789.2" width="27.0" height="13.0" rx="6.5" fill="#000" fill-opacity="1.00"/>
<rect x="1055.1" y="789.2" width="27.0" height="13.0" rx="6.5" fill="#000" fill-opacity="1.00"/>
<rect x="1090.1" y="789.2" width="26.0" height="13.0" rx="6.5" fill="#000" fill-opacity="0.95"/>
<rect x="1122.6" y="789.2" width="30.0" height="13.0" rx="6.5" fill="#000" fill-opacity="1.00"/>
<rect x="1158.6" y="789.2" width="27.0" height="13.0" rx="6.5" fill="#000" fill-opacity="0.95"/>
<rect x="1192.1" y="789.2" width="29.0" height="13.0" rx="6.5" fill="#000" fill-opacity="0.95"/>
<rect x="1227.6" y="789.2" width="27.0" height="13.0" rx="6.5" fill="#000" fill-opacity="0.95"/>
<rect x="1262.1" y="789.2" width="27.0" height="13.0" rx="6.5" fill="#000" fill-opacity="1.00"/>
<rect x="1296.6" y="789.2" width="27.0" height="13.0" rx="6.5" fill="#000" fill-opacity="0.95"/>
<rect x="1331.1" y="789.2" width="27.0" height="13.0" rx="6.5" fill="#000" fill-opacity="0.95"/>
<rect x="1365.6" y="789.2" width="27.0" height="13.0" rx="6.5" fill="#000" fill-opacity="0.95"/>
<rect x="1400.1" y="789.2" width="27.0" height="13.0" rx="6.5" fill="#000" fill-opacity="0.95"/>
<rect x="1434.6" y="789.2" width="27.0" height="13.0" rx="6.5" fill="#000" fill-opacity="1.00"/>
<rect x="986.6" y="803.5" width="26.0" height="4.0" rx="2.0" fill="#000" fill-opacity="0.30"/>
<rect x="1021.1" y="803.5" width="26.0" height="4.0" rx="2.0" fill="#000" fill-opacity="0.30"/>
<rect x="1055.6" y="803.5" width="26.0" height="4.0" rx="2.0" fill="#000" fill-opacity="0.30"/>
<rect x="1090.1" y="803.5" width="26.0" height="4.0" rx="2.0" fill="#000" fill-opacity="0.30"/>
<rect x="1124.6" y="803.5" width="26.0" height="4.0" rx="2.0" fill="#000" fill-opacity="0.30"/>
<rect x="1159.1" y="803.5" width="26.0" height="4.0" rx="2.0" fill="#000" fill-opacity="0.30"/>
<rect x="1193.6" y="803.5" width="26.0" height="4.0" rx="2.0" fill="#000" fill-opacity="0.30"/>
<rect x="1228.1" y="803.5" width="26.0" height="4.0" rx="2.0" fill="#000" fill-opacity="0.30"/>
<rect x="1262.6" y="803.5" width="26.0" height="4.0" rx="2.0" fill="#000" fill-opacity="0.30"/>
<rect x="1297.1" y="803.5" width="26.0" height="4.0" rx="2.0" fill="#000" fill-opacity="0.30"/>
<rect x="1331.6" y="803.5" width="26.0" height="4.0" rx="2.0" fill="#000" fill-opacity="0.30"/>
<rect x="1366.1" y="803.5" width="26.0" height="4.0" rx="2.0" fill="#000" fill-opacity="0.30"/>
<rect x="1400.6" y="803.5" width="26.0" height="4.0" rx="2.0" fill="#000" fill-opacity="0.30"/>
<rect x="1435.1" y="803.5" width="26.0" height="4.0" rx="2.0" fill="#000" fill-opacity="0.30"/>
</g></g>
<rect x="974.0" y="777.3" width="495.0" height="34.1" fill="none" stroke="#000" stroke-width="2.0"/>
<rect x="974.0" y="819.3" width="495.0" height="43.5" fill="url(#g9)"/>
<g clip-path="url(#c9)"><g filter="url(#bl16)">
<rect x="987.5" y="831.0" width="25.0" height="10.0" rx="5.0" fill="#000" fill-opacity="1.00"/>
<rect x="1021.5" y="836.5" width="25.0" height="7.0" rx="3.5" fill="#000" fill-opacity="0.90"/>
<rect x="1055.5" y="832.5" width="25.0" height="7.0" rx="3.5" fill="#000" fill-opacity="0.85"/>
<rect x="1089.5" y="832.5" width="25.0" height="7.0" rx="3.5" fill="#000" fill-opacity="0.90"/>
<rect x="1123.5" y="833.0" width="25.0" height="6.0" rx="3.0" fill="#000" fill-opacity="0.70"/>
<rect x="1157.5" y="833.0" width="25.0" height="6.0" rx="3.0" fill="#000" fill-opacity="0.75"/>
<rect x="1191.5" y="833.0" width="25.0" height="6.0" rx="3.0" fill="#000" fill-opacity="0.65"/>
<rect x="1225.5" y="835.0" width="25.0" height="8.0" rx="4.0" fill="#000" fill-opacity="0.80"/>
<rect x="1259.5" y="834.0" width="25.0" height="10.0" rx="5.0" fill="#000" fill-opacity="1.00"/>
<rect x="1293.5" y="835.0" width="25.0" height="10.0" rx="5.0" fill="#000" fill-opacity="1.00"/>
<rect x="1327.5" y="835.0" width="25.0" height="10.0" rx="5.0" fill="#000" fill-opacity="1.00"/>
<rect x="1361.5" y="835.5" width="25.0" height="9.0" rx="4.5" fill="#000" fill-opacity="1.00"/>
<rect x="1395.5" y="836.0" width="25.0" height="8.0" rx="4.0" fill="#000" fill-opacity="0.95"/>
<rect x="1429.5" y="833.0" width="25.0" height="12.0" rx="6.0" fill="#000" fill-opacity="1.00"/>
</g></g>
<rect x="974.0" y="819.3" width="495.0" height="43.5" fill="none" stroke="#000" stroke-width="2.0"/>
<rect x="971.6" y="871.6" width="497.4" height="56.7" fill="url(#g10)"/>
<g clip-path="url(#c10)"><g filter="url(#bl16)">
<rect x="983.5" y="889.5" width="29.0" height="11.0" rx="5.5" fill="#000" fill-opacity="1.00"/>
<rect x="1019.5" y="890.5" width="26.0" height="11.0" rx="5.5" fill="#000" fill-opacity="1.00"/>
<rect x="1054.5" y="890.5" width="25.0" height="11.0" rx="5.5" fill="#000" fill-opacity="1.00"/>
<rect x="1089.0" y="891.5" width="25.0" height="11.0" rx="5.5" fill="#000" fill-opacity="1.00"/>
<rect x="1124.0" y="892.5" width="24.0" height="11.0" rx="5.5" fill="#000" fill-opacity="1.00"/>
<rect x="1157.5" y="893.5" width="26.0" height="11.0" rx="5.5" fill="#000" fill-opacity="1.00"/>
<rect x="1193.5" y="894.5" width="23.0" height="11.0" rx="5.5" fill="#000" fill-opacity="1.00"/>
<rect x="1226.5" y="894.5" width="26.0" height="11.0" rx="5.5" fill="#000" fill-opacity="1.00"/>
<rect x="1262.0" y="894.5" width="24.0" height="11.0" rx="5.5" fill="#000" fill-opacity="1.00"/>
<rect x="1295.5" y="895.5" width="26.0" height="11.0" rx="5.5" fill="#000" fill-opacity="1.00"/>
<rect x="1331.0" y="895.5" width="24.0" height="11.0" rx="5.5" fill="#000" fill-opacity="1.00"/>
<rect x="1364.5" y="895.5" width="26.0" height="11.0" rx="5.5" fill="#000" fill-opacity="1.00"/>
<rect x="1399.0" y="895.5" width="26.0" height="11.0" rx="5.5" fill="#000" fill-opacity="1.00"/>
<rect x="1432.5" y="896.5" width="28.0" height="11.0" rx="5.5" fill="#000" fill-opacity="1.00"/>
</g></g>
<rect x="971.6" y="871.6" width="497.4" height="56.7" fill="none" stroke="#000" stroke-width="2.0"/>
<rect x="969.6" y="936.8" width="499.4" height="73.1" fill="#e4e4e4"/>
<g clip-path="url(#c11)"><g filter="url(#bl15)">
<rect x="981.5" y="951.8" width="26.0" height="4.0" rx="2.0" fill="#000" fill-opacity="1.00"/>
<rect x="1015.8" y="951.8" width="26.0" height="4.0" rx="2.0" fill="#000" fill-opacity="0.75"/>
<rect x="1050.1" y="951.8" width="26.0" height="4.0" rx="2.0" fill="#000" fill-opacity="0.20"/>
<rect x="1084.4" y="951.8" width="26.0" height="4.0" rx="2.0" fill="#000" fill-opacity="0.05"/>
<rect x="1118.7" y="951.8" width="26.0" height="4.0" rx="2.0" fill="#000" fill-opacity="0.80"/>
<rect x="1153.0" y="951.8" width="26.0" height="4.0" rx="2.0" fill="#000" fill-opacity="0.15"/>
<rect x="1187.3" y="951.8" width="26.0" height="4.0" rx="2.0" fill="#000" fill-opacity="0.03"/>
<rect x="1221.6" y="951.8" width="26.0" height="4.0" rx="2.0" fill="#000" fill-opacity="1.00"/>
<rect x="1255.9" y="951.8" width="26.0" height="4.0" rx="2.0" fill="#000" fill-opacity="0.70"/>
<rect x="1290.2" y="951.8" width="26.0" height="4.0" rx="2.0" fill="#000" fill-opacity="0.60"/>
<rect x="1324.5" y="951.8" width="26.0" height="4.0" rx="2.0" fill="#000" fill-opacity="0.20"/>
<rect x="1358.8" y="951.8" width="26.0" height="4.0" rx="2.0" fill="#000" fill-opacity="0.80"/>
<rect x="1393.1" y="951.8" width="26.0" height="4.0" rx="2.0" fill="#000" fill-opacity="0.30"/>
<rect x="1427.4" y="951.8" width="26.0" height="4.0" rx="2.0" fill="#000" fill-opacity="0.25"/>
<rect x="980.5" y="956.0" width="28.0" height="10.0" rx="5.0" fill="#000" fill-opacity="1.00"/>
<rect x="1014.8" y="956.5" width="28.0" height="9.0" rx="4.5" fill="#000" fill-opacity="1.00"/>
<rect x="1049.1" y="958.0" width="28.0" height="6.0" rx="3.0" fill="#000" fill-opacity="0.95"/>
<rect x="1083.4" y="959.0" width="28.0" height="4.0" rx="2.0" fill="#000" fill-opacity="0.50"/>
<rect x="1117.7" y="956.5" width="28.0" height="9.0" rx="4.5" fill="#000" fill-opacity="1.00"/>
<rect x="1152.0" y="958.0" width="28.0" height="6.0" rx="3.0" fill="#000" fill-opacity="1.00"/>
<rect x="1186.3" y="959.0" width="28.0" height="4.0" rx="2.0" fill="#000" fill-opacity="0.45"/>
<rect x="1220.6" y="956.0" width="28.0" height="10.0" rx="5.0" fill="#000" fill-opacity="1.00"/>
<rect x="1254.9" y="956.5" width="28.0" height="9.0" rx="4.5" fill="#000" fill-opacity="1.00"/>
<rect x="1289.2" y="956.5" width="28.0" height="9.0" rx="4.5" fill="#000" fill-opacity="1.00"/>
<rect x="1323.5" y="958.0" width="28.0" height="6.0" rx="3.0" fill="#000" fill-opacity="0.80"/>
<rect x="1357.8" y="956.5" width="28.0" height="9.0" rx="4.5" fill="#000" fill-opacity="1.00"/>
<rect x="1392.1" y="957.5" width="28.0" height="7.0" rx="3.5" fill="#000" fill-opacity="1.00"/>
<rect x="1426.4" y="958.0" width="28.0" height="6.0" rx="3.0" fill="#000" fill-opacity="0.95"/>
<rect x="982.0" y="968.5" width="25.0" height="5.0" rx="2.5" fill="#000" fill-opacity="0.75"/>
<rect x="1016.3" y="968.5" width="25.0" height="5.0" rx="2.5" fill="#000" fill-opacity="0.50"/>
<rect x="1050.6" y="968.5" width="25.0" height="5.0" rx="2.5" fill="#000" fill-opacity="0.10"/>
<rect x="1119.2" y="968.5" width="25.0" height="5.0" rx="2.5" fill="#000" fill-opacity="0.35"/>
<rect x="1153.5" y="968.5" width="25.0" height="5.0" rx="2.5" fill="#000" fill-opacity="0.10"/>
<rect x="1222.1" y="968.5" width="25.0" height="5.0" rx="2.5" fill="#000" fill-opacity="0.70"/>
<rect x="1256.4" y="968.5" width="25.0" height="5.0" rx="2.5" fill="#000" fill-opacity="0.40"/>
<rect x="1290.7" y="968.5" width="25.0" height="5.0" rx="2.5" fill="#000" fill-opacity="0.30"/>
<rect x="1325.0" y="968.5" width="25.0" height="5.0" rx="2.5" fill="#000" fill-opacity="0.05"/>
<rect x="1359.3" y="968.5" width="25.0" height="5.0" rx="2.5" fill="#000" fill-opacity="0.40"/>
<rect x="1393.6" y="968.5" width="25.0" height="5.0" rx="2.5" fill="#000" fill-opacity="0.10"/>
<rect x="1427.9" y="968.5" width="25.0" height="5.0" rx="2.5" fill="#000" fill-opacity="0.05"/>
<rect x="982.5" y="977.5" width="24.0" height="4.0" rx="2.0" fill="#000" fill-opacity="0.95"/>
<rect x="1016.8" y="977.5" width="24.0" height="4.0" rx="2.0" fill="#000" fill-opacity="0.60"/>
<rect x="1051.1" y="977.5" width="24.0" height="4.0" rx="2.0" fill="#000" fill-opacity="0.10"/>
<rect x="1085.4" y="977.5" width="24.0" height="4.0" rx="2.0" fill="#000" fill-opacity="0.03"/>
<rect x="1119.7" y="977.5" width="24.0" height="4.0" rx="2.0" fill="#000" fill-opacity="0.75"/>
<rect x="1154.0" y="977.5" width="24.0" height="4.0" rx="2.0" fill="#000" fill-opacity="0.20"/>
<rect x="1188.3" y="977.5" width="24.0" height="4.0" rx="2.0" fill="#000" fill-opacity="0.05"/>
<rect x="1222.6" y="977.5" width="24.0" height="4.0" rx="2.0" fill="#000" fill-opacity="0.95"/>
<rect x="1256.9" y="977.5" width="24.0" height="4.0" rx="2.0" fill="#000" fill-opacity="0.60"/>
<rect x="1291.2" y="977.5" width="24.0" height="4.0" rx="2.0" fill="#000" fill-opacity="0.35"/>
<rect x="1325.5" y="977.5" width="24.0" height="4.0" rx="2.0" fill="#000" fill-opacity="0.08"/>
<rect x="1359.8" y="977.5" width="24.0" height="4.0" rx="2.0" fill="#000" fill-opacity="0.75"/>
<rect x="1394.1" y="977.5" width="24.0" height="4.0" rx="2.0" fill="#000" fill-opacity="0.20"/>
<rect x="1428.4" y="977.5" width="24.0" height="4.0" rx="2.0" fill="#000" fill-opacity="0.10"/>
<rect x="981.5" y="998.0" width="26.0" height="6.0" rx="3.0" fill="#000" fill-opacity="1.00"/>
<rect x="1015.8" y="998.0" width="26.0" height="6.0" rx="3.0" fill="#000" fill-opacity="0.90"/>
<rect x="1050.1" y="998.0" width="26.0" height="6.0" rx="3.0" fill="#000" fill-opacity="0.20"/>
<rect x="1084.4" y="998.0" width="26.0" height="6.0" rx="3.0" fill="#000" fill-opacity="0.10"/>
<rect x="1118.7" y="998.0" width="26.0" height="6.0" rx="3.0" fill="#000" fill-opacity="0.65"/>
<rect x="1153.0" y="998.0" width="26.0" height="6.0" rx="3.0" fill="#000" fill-opacity="0.30"/>
<rect x="1187.3" y="998.0" width="26.0" height="6.0" rx="3.0" fill="#000" fill-opacity="0.05"/>
<rect x="1221.6" y="998.0" width="26.0" height="6.0" rx="3.0" fill="#000" fill-opacity="1.00"/>
<rect x="1255.9" y="998.0" width="26.0" height="6.0" rx="3.0" fill="#000" fill-opacity="0.60"/>
<rect x="1290.2" y="998.0" width="26.0" height="6.0" rx="3.0" fill="#000" fill-opacity="0.30"/>
<rect x="1324.5" y="998.0" width="26.0" height="6.0" rx="3.0" fill="#000" fill-opacity="0.05"/>
<rect x="1358.8" y="998.0" width="26.0" height="6.0" rx="3.0" fill="#000" fill-opacity="0.50"/>
<rect x="1393.1" y="998.0" width="26.0" height="6.0" rx="3.0" fill="#000" fill-opacity="0.15"/>
<rect x="1427.4" y="998.0" width="26.0" height="6.0" rx="3.0" fill="#000" fill-opacity="0.08"/>
</g></g>
<rect x="969.6" y="936.8" width="499.4" height="73.1" fill="none" stroke="#000" stroke-width="2.0"/>
<rect x="970.6" y="1018.0" width="498.4" height="68.4" fill="#d2d2d2"/>
<g clip-path="url(#c12)"><g filter="url(#bl15)">
<rect x="983.0" y="1041.0" width="28.0" height="9.0" rx="4.5" fill="#000" fill-opacity="1.00"/>
<rect x="1017.6" y="1041.0" width="28.0" height="9.0" rx="4.5" fill="#000" fill-opacity="1.00"/>
<rect x="1052.2" y="1043.5" width="28.0" height="9.0" rx="4.5" fill="#000" fill-opacity="1.00"/>
<rect x="1086.8" y="1043.5" width="28.0" height="9.0" rx="4.5" fill="#000" fill-opacity="1.00"/>
<rect x="1121.4" y="1043.5" width="28.0" height="9.0" rx="4.5" fill="#000" fill-opacity="1.00"/>
<rect x="1156.0" y="1043.5" width="28.0" height="9.0" rx="4.5" fill="#000" fill-opacity="1.00"/>
<rect x="1190.6" y="1043.5" width="28.0" height="9.0" rx="4.5" fill="#000" fill-opacity="1.00"/>
<rect x="1225.2" y="1044.0" width="28.0" height="9.0" rx="4.5" fill="#000" fill-opacity="1.00"/>
<rect x="1259.8" y="1044.0" width="28.0" height="9.0" rx="4.5" fill="#000" fill-opacity="1.00"/>
<rect x="1294.4" y="1044.0" width="28.0" height="9.0" rx="4.5" fill="#000" fill-opacity="1.00"/>
<rect x="1329.0" y="1044.0" width="28.0" height="9.0" rx="4.5" fill="#000" fill-opacity="1.00"/>
<rect x="1363.6" y="1044.0" width="28.0" height="9.0" rx="4.5" fill="#000" fill-opacity="1.00"/>
<rect x="1398.2" y="1044.0" width="28.0" height="9.0" rx="4.5" fill="#000" fill-opacity="1.00"/>
<rect x="1432.8" y="1044.0" width="28.0" height="9.0" rx="4.5" fill="#000" fill-opacity="1.00"/>
<rect x="985.0" y="1035.5" width="24.0" height="4.0" rx="2.0" fill="#000" fill-opacity="0.18"/>
<rect x="1019.6" y="1035.5" width="24.0" height="4.0" rx="2.0" fill="#000" fill-opacity="0.18"/>
<rect x="1054.2" y="1035.5" width="24.0" height="4.0" rx="2.0" fill="#000" fill-opacity="0.18"/>
<rect x="1088.8" y="1035.5" width="24.0" height="4.0" rx="2.0" fill="#000" fill-opacity="0.18"/>
<rect x="1123.4" y="1035.5" width="24.0" height="4.0" rx="2.0" fill="#000" fill-opacity="0.18"/>
<rect x="1158.0" y="1035.5" width="24.0" height="4.0" rx="2.0" fill="#000" fill-opacity="0.18"/>
<rect x="1192.6" y="1035.5" width="24.0" height="4.0" rx="2.0" fill="#000" fill-opacity="0.18"/>
<rect x="1227.2" y="1035.5" width="24.0" height="4.0" rx="2.0" fill="#000" fill-opacity="0.18"/>
<rect x="1261.8" y="1035.5" width="24.0" height="4.0" rx="2.0" fill="#000" fill-opacity="0.18"/>
<rect x="1296.4" y="1035.5" width="24.0" height="4.0" rx="2.0" fill="#000" fill-opacity="0.18"/>
<rect x="1331.0" y="1035.5" width="24.0" height="4.0" rx="2.0" fill="#000" fill-opacity="0.18"/>
<rect x="1365.6" y="1035.5" width="24.0" height="4.0" rx="2.0" fill="#000" fill-opacity="0.18"/>
<rect x="1400.2" y="1035.5" width="24.0" height="4.0" rx="2.0" fill="#000" fill-opacity="0.18"/>
<rect x="1434.8" y="1035.5" width="24.0" height="4.0" rx="2.0" fill="#000" fill-opacity="0.18"/>
<rect x="985.0" y="1055.7" width="24.0" height="4.0" rx="2.0" fill="#000" fill-opacity="0.30"/>
<rect x="1019.6" y="1055.7" width="24.0" height="4.0" rx="2.0" fill="#000" fill-opacity="0.30"/>
<rect x="1054.2" y="1055.7" width="24.0" height="4.0" rx="2.0" fill="#000" fill-opacity="0.30"/>
<rect x="1088.8" y="1055.7" width="24.0" height="4.0" rx="2.0" fill="#000" fill-opacity="0.30"/>
<rect x="1123.4" y="1055.7" width="24.0" height="4.0" rx="2.0" fill="#000" fill-opacity="0.30"/>
<rect x="1158.0" y="1055.7" width="24.0" height="4.0" rx="2.0" fill="#000" fill-opacity="0.30"/>
<rect x="1192.6" y="1055.7" width="24.0" height="4.0" rx="2.0" fill="#000" fill-opacity="0.30"/>
<rect x="1227.2" y="1055.7" width="24.0" height="4.0" rx="2.0" fill="#000" fill-opacity="0.30"/>
<rect x="1261.8" y="1055.7" width="24.0" height="4.0" rx="2.0" fill="#000" fill-opacity="0.30"/>
<rect x="1296.4" y="1055.7" width="24.0" height="4.0" rx="2.0" fill="#000" fill-opacity="0.30"/>
<rect x="1331.0" y="1055.7" width="24.0" height="4.0" rx="2.0" fill="#000" fill-opacity="0.30"/>
<rect x="1365.6" y="1055.7" width="24.0" height="4.0" rx="2.0" fill="#000" fill-opacity="0.30"/>
<rect x="1400.2" y="1055.7" width="24.0" height="4.0" rx="2.0" fill="#000" fill-opacity="0.30"/>
<rect x="1434.8" y="1055.7" width="24.0" height="4.0" rx="2.0" fill="#000" fill-opacity="0.30"/>
<rect x="985.0" y="1062.5" width="24.0" height="3.0" rx="1.5" fill="#000" fill-opacity="0.20"/>
<rect x="1019.6" y="1062.5" width="24.0" height="3.0" rx="1.5" fill="#000" fill-opacity="0.20"/>
<rect x="1054.2" y="1062.5" width="24.0" height="3.0" rx="1.5" fill="#000" fill-opacity="0.20"/>
<rect x="1088.8" y="1062.5" width="24.0" height="3.0" rx="1.5" fill="#000" fill-opacity="0.20"/>
<rect x="1123.4" y="1062.5" width="24.0" height="3.0" rx="1.5" fill="#000" fill-opacity="0.20"/>
<rect x="1158.0" y="1062.5" width="24.0" height="3.0" rx="1.5" fill="#000" fill-opacity="0.20"/>
<rect x="1192.6" y="1062.5" width="24.0" height="3.0" rx="1.5" fill="#000" fill-opacity="0.20"/>
<rect x="1227.2" y="1062.5" width="24.0" height="3.0" rx="1.5" fill="#000" fill-opacity="0.20"/>
<rect x="1261.8" y="1062.5" width="24.0" height="3.0" rx="1.5" fill="#000" fill-opacity="0.20"/>
<rect x="1296.4" y="1062.5" width="24.0" height="3.0" rx="1.5" fill="#000" fill-opacity="0.20"/>
<rect x="1331.0" y="1062.5" width="24.0" height="3.0" rx="1.5" fill="#000" fill-opacity="0.20"/>
<rect x="1365.6" y="1062.5" width="24.0" height="3.0" rx="1.5" fill="#000" fill-opacity="0.20"/>
<rect x="1400.2" y="1062.5" width="24.0" height="3.0" rx="1.5" fill="#000" fill-opacity="0.20"/>
<rect x="1434.8" y="1062.5" width="24.0" height="3.0" rx="1.5" fill="#000" fill-opacity="0.20"/>
</g></g>
<rect x="970.6" y="1018.0" width="498.4" height="68.4" fill="none" stroke="#000" stroke-width="2.0"/>
<rect x="970.6" y="1093.8" width="498.4" height="47.6" fill="#cccccc"/>
<g clip-path="url(#c13)"><g filter="url(#bl16)">
<rect x="981.3" y="1102.8" width="30.0" height="21.0" rx="10.5" fill="#000" fill-opacity="1.00"/>
<rect x="1016.2" y="1102.8" width="30.0" height="21.0" rx="10.5" fill="#000" fill-opacity="1.00"/>
<rect x="1051.1" y="1102.8" width="30.0" height="21.0" rx="10.5" fill="#000" fill-opacity="1.00"/>
<rect x="1086.0" y="1102.8" width="30.0" height="21.0" rx="10.5" fill="#000" fill-opacity="1.00"/>
<rect x="1120.9" y="1102.8" width="30.0" height="21.0" rx="10.5" fill="#000" fill-opacity="1.00"/>
<rect x="1155.8" y="1102.8" width="30.0" height="21.0" rx="10.5" fill="#000" fill-opacity="1.00"/>
<rect x="1190.7" y="1102.8" width="30.0" height="21.0" rx="10.5" fill="#000" fill-opacity="1.00"/>
<rect x="1225.6" y="1102.8" width="30.0" height="21.0" rx="10.5" fill="#000" fill-opacity="1.00"/>
<rect x="1260.5" y="1102.8" width="30.0" height="21.0" rx="10.5" fill="#000" fill-opacity="1.00"/>
<rect x="1295.4" y="1102.8" width="30.0" height="21.0" rx="10.5" fill="#000" fill-opacity="1.00"/>
<rect x="1330.3" y="1102.8" width="30.0" height="21.0" rx="10.5" fill="#000" fill-opacity="1.00"/>
<rect x="1365.2" y="1102.8" width="30.0" height="21.0" rx="10.5" fill="#000" fill-opacity="1.00"/>
<rect x="1400.1" y="1102.8" width="30.0" height="21.0" rx="10.5" fill="#000" fill-opacity="1.00"/>
<rect x="1435.0" y="1102.8" width="30.0" height="21.0" rx="10.5" fill="#000" fill-opacity="1.00"/>
</g></g>
<rect x="970.6" y="1093.8" width="498.4" height="47.6" fill="none" stroke="#000" stroke-width="2.0"/>
<rect x="1509.0" y="731.0" width="476.9" height="40.0" fill="#959595"/>
<g clip-path="url(#c14)"><g filter="url(#bl14)">
<rect x="1514.0" y="749.9" width="25.0" height="5.5" rx="2.8" fill="#202020" fill-opacity="0.80"/>
<rect x="1547.6" y="749.9" width="25.0" height="5.5" rx="2.8" fill="#202020" fill-opacity="0.70"/>
<rect x="1581.2" y="749.9" width="25.0" height="5.5" rx="2.8" fill="#202020" fill-opacity="0.25"/>
<rect x="1614.8" y="749.9" width="25.0" height="5.5" rx="2.8" fill="#202020" fill-opacity="0.08"/>
<rect x="1648.4" y="749.9" width="25.0" height="5.5" rx="2.8" fill="#202020" fill-opacity="0.80"/>
<rect x="1682.0" y="749.9" width="25.0" height="5.5" rx="2.8" fill="#202020" fill-opacity="0.20"/>
<rect x="1715.6" y="749.9" width="25.0" height="5.5" rx="2.8" fill="#202020" fill-opacity="0.08"/>
<rect x="1749.2" y="749.9" width="25.0" height="5.5" rx="2.8" fill="#202020" fill-opacity="0.90"/>
<rect x="1782.8" y="749.9" width="25.0" height="5.5" rx="2.8" fill="#202020" fill-opacity="0.80"/>
<rect x="1816.4" y="749.9" width="25.0" height="5.5" rx="2.8" fill="#202020" fill-opacity="0.30"/>
<rect x="1850.0" y="749.9" width="25.0" height="5.5" rx="2.8" fill="#202020" fill-opacity="0.12"/>
<rect x="1883.6" y="749.9" width="25.0" height="5.5" rx="2.8" fill="#202020" fill-opacity="0.90"/>
<rect x="1917.2" y="749.9" width="25.0" height="5.5" rx="2.8" fill="#202020" fill-opacity="0.65"/>
<rect x="1950.8" y="749.9" width="25.0" height="5.5" rx="2.8" fill="#202020" fill-opacity="0.35"/>
<rect x="1514.0" y="758.8" width="25.0" height="6.0" rx="3.0" fill="#202020" fill-opacity="0.65"/>
<rect x="1547.6" y="758.8" width="25.0" height="6.0" rx="3.0" fill="#202020" fill-opacity="0.60"/>
<rect x="1581.2" y="758.8" width="25.0" height="6.0" rx="3.0" fill="#202020" fill-opacity="0.30"/>
<rect x="1614.8" y="758.8" width="25.0" height="6.0" rx="3.0" fill="#202020" fill-opacity="0.20"/>
<rect x="1648.4" y="758.8" width="25.0" height="6.0" rx="3.0" fill="#202020" fill-opacity="0.65"/>
<rect x="1682.0" y="758.8" width="25.0" height="6.0" rx="3.0" fill="#202020" fill-opacity="0.35"/>
<rect x="1715.6" y="758.8" width="25.0" height="6.0" rx="3.0" fill="#202020" fill-opacity="0.20"/>
<rect x="1749.2" y="758.8" width="25.0" height="6.0" rx="3.0" fill="#202020" fill-opacity="0.70"/>
<rect x="1782.8" y="758.8" width="25.0" height="6.0" rx="3.0" fill="#202020" fill-opacity="0.60"/>
<rect x="1816.4" y="758.8" width="25.0" height="6.0" rx="3.0" fill="#202020" fill-opacity="0.35"/>
<rect x="1850.0" y="758.8" width="25.0" height="6.0" rx="3.0" fill="#202020" fill-opacity="0.25"/>
<rect x="1883.6" y="758.8" width="25.0" height="6.0" rx="3.0" fill="#202020" fill-opacity="0.70"/>
<rect x="1917.2" y="758.8" width="25.0" height="6.0" rx="3.0" fill="#202020" fill-opacity="0.55"/>
<rect x="1950.8" y="758.8" width="25.0" height="6.0" rx="3.0" fill="#202020" fill-opacity="0.35"/>
<rect x="1542.7" y="731" width="5" height="40" fill="#b4b4b4" fill-opacity="0.8"/><rect x="1576.3" y="731" width="5" height="40" fill="#b4b4b4" fill-opacity="0.8"/><rect x="1609.9" y="731" width="5" height="40" fill="#b4b4b4" fill-opacity="0.8"/><rect x="1643.5" y="731" width="5" height="40" fill="#b4b4b4" fill-opacity="0.8"/><rect x="1677.1" y="731" width="5" height="40" fill="#b4b4b4" fill-opacity="0.8"/><rect x="1710.7" y="731" width="5" height="40" fill="#b4b4b4" fill-opacity="0.8"/><rect x="1744.3" y="731" width="5" height="40" fill="#b4b4b4" fill-opacity="0.8"/><rect x="1777.9" y="731" width="5" height="40" fill="#b4b4b4" fill-opacity="0.8"/><rect x="1811.5" y="731" width="5" height="40" fill="#b4b4b4" fill-opacity="0.8"/><rect x="1845.1" y="731" width="5" height="40" fill="#b4b4b4" fill-opacity="0.8"/><rect x="1878.7" y="731" width="5" height="40" fill="#b4b4b4" fill-opacity="0.8"/><rect x="1912.3" y="731" width="5" height="40" fill="#b4b4b4" fill-opacity="0.8"/><rect x="1945.9" y="731" width="5" height="40" fill="#b4b4b4" fill-opacity="0.8"/><rect x="1513.5" y="746" width="26" height="26" fill="#000" fill-opacity="0.13"/><rect x="1547.1" y="746" width="26" height="26" fill="#000" fill-opacity="0.13"/><rect x="1580.7" y="746" width="26" height="26" fill="#000" fill-opacity="0.13"/><rect x="1614.3" y="746" width="26" height="26" fill="#000" fill-opacity="0.13"/><rect x="1647.9" y="746" width="26" height="26" fill="#000" fill-opacity="0.13"/><rect x="1681.5" y="746" width="26" height="26" fill="#000" fill-opacity="0.13"/><rect x="1715.1" y="746" width="26" height="26" fill="#000" fill-opacity="0.13"/><rect x="1748.7" y="746" width="26" height="26" fill="#000" fill-opacity="0.13"/><rect x="1782.3" y="746" width="26" height="26" fill="#000" fill-opacity="0.13"/><rect x="1815.9" y="746" width="26" height="26" fill="#000" fill-opacity="0.13"/><rect x="1849.5" y="746" width="26" height="26" fill="#000" fill-opacity="0.13"/><rect x="1883.1" y="746" width="26" height="26" fill="#000" fill-opacity="0.13"/><rect x="1916.7" y="746" width="26" height="26" fill="#000" fill-opacity="0.13"/><rect x="1950.3" y="746" width="26" height="26" fill="#000" fill-opacity="0.13"/>
</g></g>
<rect x="1509.0" y="731.0" width="476.9" height="40.0" fill="none" stroke="#000" stroke-width="2.0"/>
<rect x="1509.0" y="778.8" width="475.6" height="32.4" fill="#949494"/>
<g clip-path="url(#c15)"><g filter="url(#bl14)">
<rect x="1514.0" y="790.6" width="26.0" height="6.6" rx="3.3" fill="#101010" fill-opacity="1.00"/>
<rect x="1547.6" y="790.6" width="26.0" height="6.6" rx="3.3" fill="#101010" fill-opacity="1.00"/>
<rect x="1581.2" y="790.6" width="26.0" height="6.6" rx="3.3" fill="#101010" fill-opacity="1.00"/>
<rect x="1614.8" y="790.6" width="26.0" height="6.6" rx="3.3" fill="#101010" fill-opacity="1.00"/>
<rect x="1648.4" y="790.6" width="26.0" height="6.6" rx="3.3" fill="#101010" fill-opacity="1.00"/>
<rect x="1682.0" y="790.6" width="26.0" height="6.6" rx="3.3" fill="#101010" fill-opacity="1.00"/>
<rect x="1715.6" y="789.1" width="26.0" height="6.6" rx="3.3" fill="#101010" fill-opacity="0.90"/>
<rect x="1749.2" y="790.6" width="26.0" height="6.6" rx="3.3" fill="#101010" fill-opacity="0.85"/>
<rect x="1782.8" y="790.6" width="26.0" height="6.6" rx="3.3" fill="#101010" fill-opacity="0.90"/>
<rect x="1816.4" y="790.6" width="26.0" height="6.6" rx="3.3" fill="#101010" fill-opacity="0.80"/>
<rect x="1850.0" y="790.6" width="26.0" height="6.6" rx="3.3" fill="#101010" fill-opacity="0.90"/>
<rect x="1883.6" y="790.6" width="26.0" height="6.6" rx="3.3" fill="#101010" fill-opacity="0.90"/>
<rect x="1917.2" y="790.6" width="26.0" height="6.6" rx="3.3" fill="#101010" fill-opacity="0.85"/>
<rect x="1950.8" y="790.6" width="26.0" height="6.6" rx="3.3" fill="#101010" fill-opacity="0.85"/>
<rect x="1514.5" y="800.9" width="25.0" height="4.5" rx="2.2" fill="#202020" fill-opacity="0.60"/>
<rect x="1548.1" y="800.9" width="25.0" height="4.5" rx="2.2" fill="#202020" fill-opacity="0.60"/>
<rect x="1581.7" y="800.9" width="25.0" height="4.5" rx="2.2" fill="#202020" fill-opacity="0.90"/>
<rect x="1615.3" y="800.9" width="25.0" height="4.5" rx="2.2" fill="#202020" fill-opacity="0.90"/>
<rect x="1648.9" y="800.9" width="25.0" height="4.5" rx="2.2" fill="#202020" fill-opacity="0.80"/>
<rect x="1682.5" y="800.9" width="25.0" height="4.5" rx="2.2" fill="#202020" fill-opacity="0.70"/>
<rect x="1716.1" y="800.9" width="25.0" height="4.5" rx="2.2" fill="#202020" fill-opacity="0.50"/>
<rect x="1749.7" y="800.9" width="25.0" height="4.5" rx="2.2" fill="#202020" fill-opacity="0.60"/>
<rect x="1783.3" y="800.9" width="25.0" height="4.5" rx="2.2" fill="#202020" fill-opacity="0.60"/>
<rect x="1816.9" y="800.9" width="25.0" height="4.5" rx="2.2" fill="#202020" fill-opacity="0.50"/>
<rect x="1850.5" y="800.9" width="25.0" height="4.5" rx="2.2" fill="#202020" fill-opacity="0.60"/>
<rect x="1884.1" y="800.9" width="25.0" height="4.5" rx="2.2" fill="#202020" fill-opacity="0.80"/>
<rect x="1917.7" y="800.9" width="25.0" height="4.5" rx="2.2" fill="#202020" fill-opacity="0.60"/>
<rect x="1951.3" y="800.9" width="25.0" height="4.5" rx="2.2" fill="#202020" fill-opacity="0.60"/>
<rect x="1543.0" y="779" width="5" height="32" fill="#b0b0b0" fill-opacity="0.8"/><rect x="1576.6" y="779" width="5" height="32" fill="#b0b0b0" fill-opacity="0.8"/><rect x="1610.2" y="779" width="5" height="32" fill="#b0b0b0" fill-opacity="0.8"/><rect x="1643.8" y="779" width="5" height="32" fill="#b0b0b0" fill-opacity="0.8"/><rect x="1677.4" y="779" width="5" height="32" fill="#b0b0b0" fill-opacity="0.8"/><rect x="1711.0" y="779" width="5" height="32" fill="#b0b0b0" fill-opacity="0.8"/><rect x="1744.6" y="779" width="5" height="32" fill="#b0b0b0" fill-opacity="0.8"/><rect x="1778.2" y="779" width="5" height="32" fill="#b0b0b0" fill-opacity="0.8"/><rect x="1811.8" y="779" width="5" height="32" fill="#b0b0b0" fill-opacity="0.8"/><rect x="1845.4" y="779" width="5" height="32" fill="#b0b0b0" fill-opacity="0.8"/><rect x="1879.0" y="779" width="5" height="32" fill="#b0b0b0" fill-opacity="0.8"/><rect x="1912.6" y="779" width="5" height="32" fill="#b0b0b0" fill-opacity="0.8"/><rect x="1946.2" y="779" width="5" height="32" fill="#b0b0b0" fill-opacity="0.8"/><rect x="1514.0" y="779" width="26" height="32" fill="#000" fill-opacity="0.08"/><rect x="1547.6" y="779" width="26" height="32" fill="#000" fill-opacity="0.08"/><rect x="1581.2" y="779" width="26" height="32" fill="#000" fill-opacity="0.08"/><rect x="1614.8" y="779" width="26" height="32" fill="#000" fill-opacity="0.08"/><rect x="1648.4" y="779" width="26" height="32" fill="#000" fill-opacity="0.08"/><rect x="1682.0" y="779" width="26" height="32" fill="#000" fill-opacity="0.08"/><rect x="1715.6" y="779" width="26" height="32" fill="#000" fill-opacity="0.08"/><rect x="1749.2" y="779" width="26" height="32" fill="#000" fill-opacity="0.08"/><rect x="1782.8" y="779" width="26" height="32" fill="#000" fill-opacity="0.08"/><rect x="1816.4" y="779" width="26" height="32" fill="#000" fill-opacity="0.08"/><rect x="1850.0" y="779" width="26" height="32" fill="#000" fill-opacity="0.08"/><rect x="1883.6" y="779" width="26" height="32" fill="#000" fill-opacity="0.08"/><rect x="1917.2" y="779" width="26" height="32" fill="#000" fill-opacity="0.08"/><rect x="1950.8" y="779" width="26" height="32" fill="#000" fill-opacity="0.08"/>
</g></g>
<rect x="1509.0" y="778.8" width="475.6" height="32.4" fill="none" stroke="#000" stroke-width="2.0"/>
<rect x="1509.0" y="818.6" width="476.9" height="44.2" fill="url(#g16)"/>
<g clip-path="url(#c16)"><g filter="url(#bl15)">
<rect x="1515.2" y="835.5" width="25.0" height="7.4" rx="3.7" fill="#000" fill-opacity="1.00"/>
<rect x="1548.8" y="835.5" width="25.0" height="7.4" rx="3.7" fill="#000" fill-opacity="0.55"/>
<rect x="1582.4" y="835.5" width="25.0" height="7.4" rx="3.7" fill="#000" fill-opacity="0.15"/>
<rect x="1616.0" y="835.5" width="25.0" height="7.4" rx="3.7" fill="#000" fill-opacity="0.12"/>
<rect x="1649.6" y="835.5" width="25.0" height="7.4" rx="3.7" fill="#000" fill-opacity="0.55"/>
<rect x="1683.2" y="835.5" width="25.0" height="7.4" rx="3.7" fill="#000" fill-opacity="0.40"/>
<rect x="1716.8" y="835.5" width="25.0" height="7.4" rx="3.7" fill="#000" fill-opacity="0.35"/>
<rect x="1750.4" y="835.5" width="25.0" height="7.4" rx="3.7" fill="#000" fill-opacity="1.00"/>
<rect x="1784.0" y="836.5" width="25.0" height="7.4" rx="3.7" fill="#000" fill-opacity="0.70"/>
<rect x="1817.6" y="837.5" width="25.0" height="7.4" rx="3.7" fill="#000" fill-opacity="0.45"/>
<rect x="1851.2" y="838.5" width="25.0" height="7.4" rx="3.7" fill="#000" fill-opacity="0.50"/>
<rect x="1884.8" y="839.5" width="25.0" height="7.4" rx="3.7" fill="#000" fill-opacity="0.40"/>
<rect x="1918.4" y="840.5" width="25.0" height="7.4" rx="3.7" fill="#000" fill-opacity="0.55"/>
<rect x="1952.0" y="840.5" width="25.0" height="7.4" rx="3.7" fill="#000" fill-opacity="0.60"/>
</g></g>
<rect x="1509.0" y="818.6" width="476.9" height="44.2" fill="none" stroke="#000" stroke-width="2.0"/>
<rect x="1509.0" y="870.9" width="477.3" height="57.5" fill="#d2d2d2"/>
<g clip-path="url(#c17)"><g filter="url(#bl15)">
<rect x="1517.0" y="892.2" width="26.0" height="9.0" rx="4.5" fill="#000" fill-opacity="1.00"/>
<rect x="1550.4" y="892.2" width="26.0" height="9.0" rx="4.5" fill="#000" fill-opacity="1.00"/>
<rect x="1583.8" y="892.2" width="26.0" height="9.0" rx="4.5" fill="#000" fill-opacity="1.00"/>
<rect x="1617.2" y="892.2" width="26.0" height="9.0" rx="4.5" fill="#000" fill-opacity="1.00"/>
<rect x="1650.6" y="892.2" width="26.0" height="9.0" rx="4.5" fill="#000" fill-opacity="1.00"/>
<rect x="1684.0" y="892.2" width="26.0" height="9.0" rx="4.5" fill="#000" fill-opacity="1.00"/>
<rect x="1717.4" y="892.2" width="26.0" height="9.0" rx="4.5" fill="#000" fill-opacity="1.00"/>
<rect x="1750.8" y="892.2" width="26.0" height="9.0" rx="4.5" fill="#000" fill-opacity="1.00"/>
<rect x="1784.2" y="893.2" width="26.0" height="9.0" rx="4.5" fill="#000" fill-opacity="1.00"/>
<rect x="1817.6" y="893.2" width="26.0" height="9.0" rx="4.5" fill="#000" fill-opacity="1.00"/>
<rect x="1851.0" y="893.2" width="26.0" height="9.0" rx="4.5" fill="#000" fill-opacity="1.00"/>
<rect x="1884.4" y="893.2" width="26.0" height="9.0" rx="4.5" fill="#000" fill-opacity="1.00"/>
<rect x="1917.8" y="893.2" width="26.0" height="9.0" rx="4.5" fill="#000" fill-opacity="1.00"/>
<rect x="1951.2" y="893.2" width="26.0" height="9.0" rx="4.5" fill="#000" fill-opacity="1.00"/>
<rect x="1517.5" y="919.0" width="25.0" height="6.0" rx="3.0" fill="#000" fill-opacity="0.25"/>
<rect x="1550.9" y="919.0" width="25.0" height="6.0" rx="3.0" fill="#000" fill-opacity="0.25"/>
<rect x="1584.3" y="919.0" width="25.0" height="6.0" rx="3.0" fill="#000" fill-opacity="0.25"/>
<rect x="1617.7" y="919.0" width="25.0" height="6.0" rx="3.0" fill="#000" fill-opacity="0.25"/>
<rect x="1651.1" y="919.0" width="25.0" height="6.0" rx="3.0" fill="#000" fill-opacity="0.25"/>
<rect x="1684.5" y="919.0" width="25.0" height="6.0" rx="3.0" fill="#000" fill-opacity="0.25"/>
<rect x="1717.9" y="919.0" width="25.0" height="6.0" rx="3.0" fill="#000" fill-opacity="0.25"/>
<rect x="1751.3" y="919.0" width="25.0" height="6.0" rx="3.0" fill="#000" fill-opacity="0.25"/>
<rect x="1784.7" y="919.0" width="25.0" height="6.0" rx="3.0" fill="#000" fill-opacity="0.25"/>
<rect x="1818.1" y="919.0" width="25.0" height="6.0" rx="3.0" fill="#000" fill-opacity="0.25"/>
<rect x="1851.5" y="919.0" width="25.0" height="6.0" rx="3.0" fill="#000" fill-opacity="0.25"/>
<rect x="1884.9" y="919.0" width="25.0" height="6.0" rx="3.0" fill="#000" fill-opacity="0.25"/>
<rect x="1918.3" y="919.0" width="25.0" height="6.0" rx="3.0" fill="#000" fill-opacity="0.25"/>
<rect x="1951.7" y="919.0" width="25.0" height="6.0" rx="3.0" fill="#000" fill-opacity="0.25"/>
</g></g>
<rect x="1509.0" y="870.9" width="477.3" height="57.5" fill="none" stroke="#000" stroke-width="2.0"/>
<rect x="1509.0" y="935.5" width="478.0" height="74.5" fill="url(#g18)"/>
<g clip-path="url(#c18)"><g filter="url(#bl16)">
<rect x="1522.9" y="953.4" width="27.0" height="6.0" rx="3.0" fill="#101010" fill-opacity="0.55" transform="rotate(10 1536.4 956.4)"/>
<rect x="1555.0" y="961.7" width="26.0" height="5.0" rx="2.5" fill="#101010" fill-opacity="0.40" transform="rotate(6 1568.0 964.2)"/>
<rect x="1586.4" y="964.6" width="24.0" height="4.0" rx="2.0" fill="#101010" fill-opacity="0.10"/>
<rect x="1618.5" y="964.4" width="23.0" height="4.0" rx="2.0" fill="#101010" fill-opacity="0.05"/>
<rect x="1648.5" y="964.5" width="26.0" height="5.0" rx="2.5" fill="#101010" fill-opacity="0.35"/>
<rect x="1679.0" y="963.9" width="26.0" height="5.0" rx="2.5" fill="#101010" fill-opacity="0.45"/>
<rect x="1711.0" y="963.4" width="23.0" height="4.0" rx="2.0" fill="#101010" fill-opacity="0.08"/>
<rect x="1743.5" y="962.5" width="27.0" height="5.0" rx="2.5" fill="#101010" fill-opacity="0.35"/>
<rect x="1775.2" y="962.9" width="27.0" height="5.0" rx="2.5" fill="#101010" fill-opacity="0.80"/>
<rect x="1808.0" y="964.0" width="26.0" height="4.0" rx="2.0" fill="#101010" fill-opacity="0.30"/>
<rect x="1842.0" y="965.0" width="22.0" height="4.0" rx="2.0" fill="#101010" fill-opacity="0.20"/>
<rect x="1871.0" y="966.2" width="30.0" height="5.0" rx="2.5" fill="#101010" fill-opacity="0.75"/>
<rect x="1903.5" y="968.2" width="33.0" height="5.0" rx="2.5" fill="#101010" fill-opacity="0.60"/>
<rect x="1937.5" y="963.0" width="36.0" height="10.0" rx="5.0" fill="#101010" fill-opacity="1.00"/>
<rect x="1522.9" y="966.3" width="27.0" height="11.0" rx="5.5" fill="#050505" fill-opacity="1.00" transform="rotate(10 1536.4 971.8)"/>
<rect x="1555.0" y="972.6" width="26.0" height="10.0" rx="5.0" fill="#050505" fill-opacity="1.00" transform="rotate(6 1568.0 977.6)"/>
<rect x="1586.4" y="978.2" width="24.0" height="7.0" rx="3.5" fill="#050505" fill-opacity="0.80"/>
<rect x="1618.5" y="982.3" width="23.0" height="5.0" rx="2.5" fill="#050505" fill-opacity="0.55"/>
<rect x="1648.5" y="979.2" width="26.0" height="8.0" rx="4.0" fill="#050505" fill-opacity="1.00"/>
<rect x="1679.0" y="979.2" width="26.0" height="8.0" rx="4.0" fill="#050505" fill-opacity="1.00"/>
<rect x="1711.0" y="980.8" width="23.0" height="5.0" rx="2.5" fill="#050505" fill-opacity="0.60"/>
<rect x="1743.5" y="976.5" width="27.0" height="9.0" rx="4.5" fill="#050505" fill-opacity="1.00"/>
<rect x="1775.2" y="977.5" width="27.0" height="11.0" rx="5.5" fill="#050505" fill-opacity="1.00"/>
<rect x="1808.0" y="980.5" width="26.0" height="8.0" rx="4.0" fill="#050505" fill-opacity="1.00"/>
<rect x="1842.0" y="982.0" width="22.0" height="6.0" rx="3.0" fill="#050505" fill-opacity="0.95"/>
<rect x="1871.0" y="979.2" width="30.0" height="11.5" rx="5.8" fill="#050505" fill-opacity="1.00"/>
<rect x="1903.5" y="980.0" width="33.0" height="12.0" rx="6.0" fill="#050505" fill-opacity="1.00"/>
<rect x="1937.5" y="974.1" width="36.0" height="17.7" rx="8.8" fill="#050505" fill-opacity="1.00"/>
</g></g>
<rect x="1509.0" y="935.5" width="478.0" height="74.5" fill="none" stroke="#000" stroke-width="2.0"/>
<rect x="1509.0" y="1017.5" width="477.3" height="68.6" fill="#d2d2d2"/>
<g clip-path="url(#c19)"><g filter="url(#bl15)">
<rect x="1518.0" y="1036.5" width="24.0" height="5.0" rx="2.5" fill="#000" fill-opacity="0.70"/>
<rect x="1551.4" y="1041.5" width="24.0" height="5.0" rx="2.5" fill="#000" fill-opacity="0.50"/>
<rect x="1584.8" y="1041.5" width="24.0" height="5.0" rx="2.5" fill="#000" fill-opacity="0.50"/>
<rect x="1618.2" y="1041.5" width="24.0" height="5.0" rx="2.5" fill="#000" fill-opacity="0.45"/>
<rect x="1651.6" y="1041.5" width="24.0" height="5.0" rx="2.5" fill="#000" fill-opacity="0.50"/>
<rect x="1685.0" y="1041.5" width="24.0" height="5.0" rx="2.5" fill="#000" fill-opacity="0.45"/>
<rect x="1718.4" y="1041.5" width="24.0" height="5.0" rx="2.5" fill="#000" fill-opacity="0.40"/>
<rect x="1751.8" y="1041.5" width="24.0" height="5.0" rx="2.5" fill="#000" fill-opacity="0.50"/>
<rect x="1785.2" y="1041.5" width="24.0" height="5.0" rx="2.5" fill="#000" fill-opacity="0.40"/>
<rect x="1818.6" y="1041.5" width="24.0" height="5.0" rx="2.5" fill="#000" fill-opacity="0.40"/>
<rect x="1852.0" y="1041.5" width="24.0" height="5.0" rx="2.5" fill="#000" fill-opacity="0.40"/>
<rect x="1885.4" y="1041.5" width="24.0" height="5.0" rx="2.5" fill="#000" fill-opacity="0.45"/>
<rect x="1918.8" y="1041.5" width="24.0" height="5.0" rx="2.5" fill="#000" fill-opacity="0.40"/>
<rect x="1952.2" y="1041.5" width="24.0" height="5.0" rx="2.5" fill="#000" fill-opacity="0.40"/>
<rect x="1516.5" y="1044.0" width="27.0" height="12.5" rx="6.2" fill="#000" fill-opacity="1.00"/>
<rect x="1549.9" y="1049.3" width="27.0" height="10.0" rx="5.0" fill="#000" fill-opacity="1.00"/>
<rect x="1583.3" y="1050.0" width="27.0" height="10.0" rx="5.0" fill="#000" fill-opacity="1.00"/>
<rect x="1616.7" y="1052.8" width="27.0" height="9.0" rx="4.5" fill="#000" fill-opacity="1.00"/>
<rect x="1650.1" y="1052.7" width="27.0" height="10.0" rx="5.0" fill="#000" fill-opacity="1.00"/>
<rect x="1683.5" y="1053.8" width="27.0" height="9.0" rx="4.5" fill="#000" fill-opacity="1.00"/>
<rect x="1716.9" y="1055.2" width="27.0" height="9.0" rx="4.5" fill="#000" fill-opacity="1.00"/>
<rect x="1750.3" y="1054.8" width="27.0" height="9.0" rx="4.5" fill="#000" fill-opacity="1.00"/>
<rect x="1783.7" y="1054.8" width="27.0" height="9.0" rx="4.5" fill="#000" fill-opacity="1.00"/>
<rect x="1817.1" y="1054.8" width="27.0" height="9.0" rx="4.5" fill="#000" fill-opacity="1.00"/>
<rect x="1850.5" y="1054.8" width="27.0" height="9.0" rx="4.5" fill="#000" fill-opacity="1.00"/>
<rect x="1883.9" y="1054.8" width="27.0" height="9.0" rx="4.5" fill="#000" fill-opacity="1.00"/>
<rect x="1917.3" y="1054.8" width="27.0" height="9.0" rx="4.5" fill="#000" fill-opacity="1.00"/>
<rect x="1950.7" y="1054.8" width="27.0" height="9.0" rx="4.5" fill="#000" fill-opacity="1.00"/>
<rect x="1518.0" y="1065.2" width="24.0" height="5.0" rx="2.5" fill="#000" fill-opacity="0.30"/>
<rect x="1551.4" y="1065.2" width="24.0" height="5.0" rx="2.5" fill="#000" fill-opacity="0.20"/>
<rect x="1584.8" y="1065.2" width="24.0" height="5.0" rx="2.5" fill="#000" fill-opacity="0.20"/>
<rect x="1618.2" y="1065.2" width="24.0" height="5.0" rx="2.5" fill="#000" fill-opacity="0.10"/>
<rect x="1651.6" y="1065.2" width="24.0" height="5.0" rx="2.5" fill="#000" fill-opacity="0.20"/>
<rect x="1685.0" y="1065.2" width="24.0" height="5.0" rx="2.5" fill="#000" fill-opacity="0.20"/>
<rect x="1718.4" y="1065.2" width="24.0" height="5.0" rx="2.5" fill="#000" fill-opacity="0.20"/>
<rect x="1751.8" y="1065.2" width="24.0" height="5.0" rx="2.5" fill="#000" fill-opacity="0.20"/>
<rect x="1785.2" y="1065.2" width="24.0" height="5.0" rx="2.5" fill="#000" fill-opacity="0.15"/>
<rect x="1818.6" y="1065.2" width="24.0" height="5.0" rx="2.5" fill="#000" fill-opacity="0.15"/>
<rect x="1852.0" y="1065.2" width="24.0" height="5.0" rx="2.5" fill="#000" fill-opacity="0.15"/>
<rect x="1885.4" y="1065.2" width="24.0" height="5.0" rx="2.5" fill="#000" fill-opacity="0.15"/>
<rect x="1918.8" y="1065.2" width="24.0" height="5.0" rx="2.5" fill="#000" fill-opacity="0.15"/>
<rect x="1952.2" y="1065.2" width="24.0" height="5.0" rx="2.5" fill="#000" fill-opacity="0.15"/>
<rect x="1518.0" y="1073.7" width="24.0" height="4.0" rx="2.0" fill="#000" fill-opacity="0.25"/>
<rect x="1551.4" y="1073.7" width="24.0" height="4.0" rx="2.0" fill="#000" fill-opacity="0.15"/>
<rect x="1584.8" y="1073.7" width="24.0" height="4.0" rx="2.0" fill="#000" fill-opacity="0.15"/>
<rect x="1618.2" y="1073.7" width="24.0" height="4.0" rx="2.0" fill="#000" fill-opacity="0.10"/>
<rect x="1651.6" y="1073.7" width="24.0" height="4.0" rx="2.0" fill="#000" fill-opacity="0.15"/>
<rect x="1685.0" y="1073.7" width="24.0" height="4.0" rx="2.0" fill="#000" fill-opacity="0.15"/>
<rect x="1718.4" y="1073.7" width="24.0" height="4.0" rx="2.0" fill="#000" fill-opacity="0.15"/>
<rect x="1751.8" y="1073.7" width="24.0" height="4.0" rx="2.0" fill="#000" fill-opacity="0.15"/>
<rect x="1785.2" y="1073.7" width="24.0" height="4.0" rx="2.0" fill="#000" fill-opacity="0.10"/>
<rect x="1818.6" y="1073.7" width="24.0" height="4.0" rx="2.0" fill="#000" fill-opacity="0.10"/>
<rect x="1852.0" y="1073.7" width="24.0" height="4.0" rx="2.0" fill="#000" fill-opacity="0.10"/>
<rect x="1885.4" y="1073.7" width="24.0" height="4.0" rx="2.0" fill="#000" fill-opacity="0.10"/>
<rect x="1918.8" y="1073.7" width="24.0" height="4.0" rx="2.0" fill="#000" fill-opacity="0.10"/>
<rect x="1952.2" y="1073.7" width="24.0" height="4.0" rx="2.0" fill="#000" fill-opacity="0.10"/>
</g></g>
<rect x="1509.0" y="1017.5" width="477.3" height="68.6" fill="none" stroke="#000" stroke-width="2.0"/>
<rect x="1509.0" y="1093.4" width="476.3" height="47.2" fill="#c9c9c9"/>
<g clip-path="url(#c20)"><g filter="url(#bl15)">
<rect x="1521.0" y="1109.8" width="30.0" height="12.5" rx="6.2" fill="#000" fill-opacity="1.00"/>
<rect x="1554.2" y="1109.8" width="30.0" height="12.5" rx="6.2" fill="#000" fill-opacity="1.00"/>
<rect x="1587.4" y="1109.8" width="30.0" height="12.5" rx="6.2" fill="#000" fill-opacity="1.00"/>
<rect x="1620.6" y="1109.8" width="30.0" height="12.5" rx="6.2" fill="#000" fill-opacity="1.00"/>
<rect x="1653.8" y="1109.8" width="30.0" height="12.5" rx="6.2" fill="#000" fill-opacity="1.00"/>
<rect x="1687.0" y="1109.8" width="30.0" height="12.5" rx="6.2" fill="#000" fill-opacity="1.00"/>
<rect x="1720.2" y="1109.8" width="30.0" height="12.5" rx="6.2" fill="#000" fill-opacity="1.00"/>
<rect x="1753.4" y="1109.8" width="30.0" height="12.5" rx="6.2" fill="#000" fill-opacity="1.00"/>
<rect x="1786.6" y="1109.8" width="30.0" height="12.5" rx="6.2" fill="#000" fill-opacity="1.00"/>
<rect x="1819.8" y="1109.8" width="30.0" height="12.5" rx="6.2" fill="#000" fill-opacity="1.00"/>
<rect x="1853.0" y="1109.8" width="30.0" height="12.5" rx="6.2" fill="#000" fill-opacity="1.00"/>
<rect x="1886.2" y="1111.2" width="30.0" height="12.5" rx="6.2" fill="#000" fill-opacity="1.00"/>
<rect x="1919.4" y="1111.2" width="30.0" height="12.5" rx="6.2" fill="#000" fill-opacity="1.00"/>
<rect x="1952.6" y="1111.2" width="30.0" height="12.5" rx="6.2" fill="#000" fill-opacity="1.00"/>
</g></g>
<rect x="1509.0" y="1093.4" width="476.3" height="47.2" fill="none" stroke="#000" stroke-width="2.0"/>
<text x="2.0" y="1223.3" font-size="37" textLength="24.3" lengthAdjust="spacingAndGlyphs">E</text>
<text x="139.0" y="1427.5" font-size="25" text-anchor="middle" transform="rotate(-90 139.0 1427.5)">MV-4-11</text>
<text x="179.8" y="1388.3" font-size="24.2" text-anchor="middle" transform="rotate(-90 179.8 1388.3)" textLength="349.5" lengthAdjust="spacingAndGlyphs">Relative phosphorylation level</text>
<text x="139.0" y="1809.0" font-size="25" text-anchor="middle" transform="rotate(-90 139.0 1809.0)">MOLM-13</text>
<text x="179.8" y="1756.0" font-size="24.2" text-anchor="middle" transform="rotate(-90 179.8 1756.0)" textLength="348.5" lengthAdjust="spacingAndGlyphs">Relative phosphorylation level</text>
<line x1="250.0" y1="1288.3" x2="250.0" y2="1530.7" stroke="#000" stroke-width="2"/>
<line x1="242.0" y1="1522.7" x2="450.7" y2="1522.7" stroke="#000" stroke-width="2"/>
<line x1="243.0" y1="1522.7" x2="250.0" y2="1522.7" stroke="#000" stroke-width="2"/>
<text x="237.5" y="1529.3" font-size="25" text-anchor="end">0.0</text>
<line x1="243.0" y1="1444.9" x2="250.0" y2="1444.9" stroke="#000" stroke-width="2"/>
<text x="237.5" y="1451.5" font-size="25" text-anchor="end">0.5</text>
<line x1="243.0" y1="1367.1" x2="250.0" y2="1367.1" stroke="#000" stroke-width="2"/>
<text x="237.5" y="1373.7" font-size="25" text-anchor="end">1.0</text>
<line x1="243.0" y1="1289.3" x2="250.0" y2="1289.3" stroke="#000" stroke-width="2"/>
<text x="237.5" y="1295.9" font-size="25" text-anchor="end">1.5</text>
<line x1="307.3" y1="1522.7" x2="307.3" y2="1530.7" stroke="#000" stroke-width="2"/>
<line x1="365.0" y1="1522.7" x2="365.0" y2="1530.7" stroke="#000" stroke-width="2"/>
<line x1="422.3" y1="1522.7" x2="422.3" y2="1530.7" stroke="#000" stroke-width="2"/>
<text x="329.5" y="1284.9" font-size="25" text-anchor="middle">pSTAT5</text>
<text x="309.5" y="1558.0" font-size="25" text-anchor="middle">0.3</text>
<text x="374.0" y="1558.0" font-size="25" text-anchor="middle">1</text>
<text x="436.5" y="1558.0" font-size="25" text-anchor="middle">3</text>
<line x1="365.0" y1="1360.7" x2="365.0" y2="1375.0" stroke="#e32526" stroke-width="2"/>
<line x1="359.0" y1="1360.7" x2="371.0" y2="1360.7" stroke="#e32526" stroke-width="2"/>
<line x1="359.0" y1="1375.0" x2="371.0" y2="1375.0" stroke="#e32526" stroke-width="2"/>
<line x1="422.3" y1="1426.7" x2="422.3" y2="1454.0" stroke="#e32526" stroke-width="2"/>
<line x1="416.3" y1="1426.7" x2="428.3" y2="1426.7" stroke="#e32526" stroke-width="2"/>
<line x1="416.3" y1="1454.0" x2="428.3" y2="1454.0" stroke="#e32526" stroke-width="2"/>
<line x1="307.3" y1="1399.0" x2="307.3" y2="1431.0" stroke="#1f4ea3" stroke-width="2"/>
<line x1="301.3" y1="1399.0" x2="313.3" y2="1399.0" stroke="#1f4ea3" stroke-width="2"/>
<line x1="301.3" y1="1431.0" x2="313.3" y2="1431.0" stroke="#1f4ea3" stroke-width="2"/>
<line x1="365.0" y1="1459.0" x2="365.0" y2="1472.0" stroke="#1f4ea3" stroke-width="2"/>
<line x1="359.0" y1="1459.0" x2="371.0" y2="1459.0" stroke="#1f4ea3" stroke-width="2"/>
<line x1="359.0" y1="1472.0" x2="371.0" y2="1472.0" stroke="#1f4ea3" stroke-width="2"/>
<polyline points="250.0,1367.1 307.3,1351.0 365.0,1367.7 422.3,1440.7" fill="none" stroke="#e32526" stroke-width="2" stroke-linejoin="round"/>
<polyline points="250.0,1367.1 307.3,1415.7 365.0,1465.7 422.3,1501.0" fill="none" stroke="#1f4ea3" stroke-width="2" stroke-linejoin="round"/>
<rect x="302.3" y="1346.0" width="10.0" height="10.0" fill="#e32526"/>
<rect x="360.0" y="1362.7" width="10.0" height="10.0" fill="#e32526"/>
<rect x="417.3" y="1435.7" width="10.0" height="10.0" fill="#e32526"/>
<circle cx="307.3" cy="1415.7" r="5.2" fill="#1f4ea3"/>
<circle cx="365.0" cy="1465.7" r="5.2" fill="#1f4ea3"/>
<circle cx="422.3" cy="1501.0" r="5.2" fill="#1f4ea3"/>
<text x="262.8" y="1316.1" font-size="21.7" fill="#231f20">p = 0.0172</text>
<text x="308.0" y="1349.0" font-size="22" text-anchor="middle">*</text>
<text x="336.8" y="1336.1" font-size="21.7" fill="#231f20">p = 0.0004</text>
<text x="367.5" y="1360.0" font-size="22" text-anchor="middle">***</text>
<text x="389.8" y="1399.1" font-size="21.7" fill="#231f20">p = 0.0125</text>
<text x="423.0" y="1427.0" font-size="22" text-anchor="middle">*</text>
<line x1="544.0" y1="1286.7" x2="544.0" y2="1529.7" stroke="#000" stroke-width="2"/>
<line x1="536.0" y1="1521.7" x2="746.0" y2="1521.7" stroke="#000" stroke-width="2"/>
<line x1="537.0" y1="1521.7" x2="544.0" y2="1521.7" stroke="#000" stroke-width="2"/>
<text x="531.5" y="1528.3" font-size="25" text-anchor="end">0.0</text>
<line x1="537.0" y1="1443.7" x2="544.0" y2="1443.7" stroke="#000" stroke-width="2"/>
<text x="531.5" y="1450.3" font-size="25" text-anchor="end">0.5</text>
<line x1="537.0" y1="1365.7" x2="544.0" y2="1365.7" stroke="#000" stroke-width="2"/>
<text x="531.5" y="1372.3" font-size="25" text-anchor="end">1.0</text>
<line x1="537.0" y1="1287.7" x2="544.0" y2="1287.7" stroke="#000" stroke-width="2"/>
<text x="531.5" y="1294.3" font-size="25" text-anchor="end">1.5</text>
<line x1="601.7" y1="1521.7" x2="601.7" y2="1529.7" stroke="#000" stroke-width="2"/>
<line x1="659.3" y1="1521.7" x2="659.3" y2="1529.7" stroke="#000" stroke-width="2"/>
<line x1="716.7" y1="1521.7" x2="716.7" y2="1529.7" stroke="#000" stroke-width="2"/>
<text x="620.5" y="1284.9" font-size="25" text-anchor="middle">pAKT</text>
<text x="611.5" y="1558.0" font-size="25" text-anchor="middle">0.3</text>
<text x="677.0" y="1558.0" font-size="25" text-anchor="middle">1</text>
<text x="739.0" y="1558.0" font-size="25" text-anchor="middle">3</text>
<line x1="601.7" y1="1373.0" x2="601.7" y2="1399.0" stroke="#e32526" stroke-width="2"/>
<line x1="595.7" y1="1373.0" x2="607.7" y2="1373.0" stroke="#e32526" stroke-width="2"/>
<line x1="595.7" y1="1399.0" x2="607.7" y2="1399.0" stroke="#e32526" stroke-width="2"/>
<line x1="659.3" y1="1405.0" x2="659.3" y2="1418.0" stroke="#e32526" stroke-width="2"/>
<line x1="653.3" y1="1405.0" x2="665.3" y2="1405.0" stroke="#e32526" stroke-width="2"/>
<line x1="653.3" y1="1418.0" x2="665.3" y2="1418.0" stroke="#e32526" stroke-width="2"/>
<line x1="716.7" y1="1387.7" x2="716.7" y2="1431.7" stroke="#e32526" stroke-width="2"/>
<line x1="710.7" y1="1387.7" x2="722.7" y2="1387.7" stroke="#e32526" stroke-width="2"/>
<line x1="710.7" y1="1431.7" x2="722.7" y2="1431.7" stroke="#e32526" stroke-width="2"/>
<line x1="601.7" y1="1427.7" x2="601.7" y2="1441.0" stroke="#1f4ea3" stroke-width="2"/>
<line x1="595.7" y1="1427.7" x2="607.7" y2="1427.7" stroke="#1f4ea3" stroke-width="2"/>
<line x1="595.7" y1="1441.0" x2="607.7" y2="1441.0" stroke="#1f4ea3" stroke-width="2"/>
<line x1="716.7" y1="1439.0" x2="716.7" y2="1468.0" stroke="#1f4ea3" stroke-width="2"/>
<line x1="710.7" y1="1439.0" x2="722.7" y2="1439.0" stroke="#1f4ea3" stroke-width="2"/>
<line x1="710.7" y1="1468.0" x2="722.7" y2="1468.0" stroke="#1f4ea3" stroke-width="2"/>
<polyline points="544.0,1365.7 601.7,1386.0 659.3,1411.7 716.7,1409.7" fill="none" stroke="#e32526" stroke-width="2" stroke-linejoin="round"/>
<polyline points="544.0,1365.7 601.7,1434.0 659.3,1439.7 716.7,1453.3" fill="none" stroke="#1f4ea3" stroke-width="2" stroke-linejoin="round"/>
<rect x="596.7" y="1381.0" width="10.0" height="10.0" fill="#e32526"/>
<rect x="654.3" y="1406.7" width="10.0" height="10.0" fill="#e32526"/>
<rect x="711.7" y="1404.7" width="10.0" height="10.0" fill="#e32526"/>
<circle cx="601.7" cy="1434.0" r="5.2" fill="#1f4ea3"/>
<circle cx="659.3" cy="1439.7" r="5.2" fill="#1f4ea3"/>
<circle cx="716.7" cy="1453.3" r="5.2" fill="#1f4ea3"/>
<text x="550.8" y="1342.1" font-size="21.7" fill="#231f20">p = 0.0293</text>
<text x="671.8" y="1342.1" font-size="21.7" fill="#231f20">p = 0.0184</text>
<text x="602.0" y="1367.0" font-size="22" text-anchor="middle">*</text>
<text x="608.8" y="1370.1" font-size="21.7" fill="#231f20">p = 0.0068</text>
<text x="661.5" y="1400.0" font-size="22" text-anchor="middle">**</text>
<text x="719.0" y="1387.0" font-size="22" text-anchor="middle">*</text>
<line x1="840.0" y1="1286.7" x2="840.0" y2="1529.7" stroke="#000" stroke-width="2"/>
<line x1="832.0" y1="1521.7" x2="1041.7" y2="1521.7" stroke="#000" stroke-width="2"/>
<line x1="833.0" y1="1521.7" x2="840.0" y2="1521.7" stroke="#000" stroke-width="2"/>
<text x="827.5" y="1528.3" font-size="25" text-anchor="end">0.0</text>
<line x1="833.0" y1="1443.7" x2="840.0" y2="1443.7" stroke="#000" stroke-width="2"/>
<text x="827.5" y="1450.3" font-size="25" text-anchor="end">0.5</text>
<line x1="833.0" y1="1365.7" x2="840.0" y2="1365.7" stroke="#000" stroke-width="2"/>
<text x="827.5" y="1372.3" font-size="25" text-anchor="end">1.0</text>
<line x1="833.0" y1="1287.7" x2="840.0" y2="1287.7" stroke="#000" stroke-width="2"/>
<text x="838.5" y="1294.3" font-size="25" text-anchor="end">1.5</text>
<line x1="897.7" y1="1521.7" x2="897.7" y2="1529.7" stroke="#000" stroke-width="2"/>
<line x1="955.7" y1="1521.7" x2="955.7" y2="1529.7" stroke="#000" stroke-width="2"/>
<line x1="1012.7" y1="1521.7" x2="1012.7" y2="1529.7" stroke="#000" stroke-width="2"/>
<text x="928.5" y="1284.9" font-size="25" text-anchor="middle">pERK</text>
<text x="907.5" y="1558.0" font-size="25" text-anchor="middle">0.3</text>
<text x="972.0" y="1558.0" font-size="25" text-anchor="middle">1</text>
<text x="1034.0" y="1558.0" font-size="25" text-anchor="middle">3</text>
<line x1="897.7" y1="1364.0" x2="897.7" y2="1397.0" stroke="#e32526" stroke-width="2"/>
<line x1="891.7" y1="1364.0" x2="903.7" y2="1364.0" stroke="#e32526" stroke-width="2"/>
<line x1="891.7" y1="1397.0" x2="903.7" y2="1397.0" stroke="#e32526" stroke-width="2"/>
<line x1="955.7" y1="1427.0" x2="955.7" y2="1441.0" stroke="#e32526" stroke-width="2"/>
<line x1="949.7" y1="1427.0" x2="961.7" y2="1427.0" stroke="#e32526" stroke-width="2"/>
<line x1="949.7" y1="1441.0" x2="961.7" y2="1441.0" stroke="#e32526" stroke-width="2"/>
<line x1="897.7" y1="1422.7" x2="897.7" y2="1460.0" stroke="#1f4ea3" stroke-width="2"/>
<line x1="891.7" y1="1422.7" x2="903.7" y2="1422.7" stroke="#1f4ea3" stroke-width="2"/>
<line x1="891.7" y1="1460.0" x2="903.7" y2="1460.0" stroke="#1f4ea3" stroke-width="2"/>
<polyline points="840.0,1365.7 897.7,1381.0 955.7,1434.0 1012.7,1495.7" fill="none" stroke="#e32526" stroke-width="2" stroke-linejoin="round"/>
<polyline points="840.0,1365.7 897.7,1441.7 955.7,1493.3 1012.7,1512.3" fill="none" stroke="#1f4ea3" stroke-width="2" stroke-linejoin="round"/>
<rect x="892.7" y="1376.0" width="10.0" height="10.0" fill="#e32526"/>
<rect x="950.7" y="1429.0" width="10.0" height="10.0" fill="#e32526"/>
<rect x="1007.7" y="1490.7" width="10.0" height="10.0" fill="#e32526"/>
<circle cx="897.7" cy="1441.7" r="5.2" fill="#1f4ea3"/>
<circle cx="955.7" cy="1493.3" r="5.2" fill="#1f4ea3"/>
<circle cx="1012.7" cy="1512.3" r="5.2" fill="#1f4ea3"/>
<text x="842.8" y="1329.1" font-size="21.7" fill="#231f20">p = 0.0411</text>
<text x="898.0" y="1360.0" font-size="22" text-anchor="middle">*</text>
<text x="917.8" y="1386.1" font-size="21.7" fill="#231f20">p = 0.0019</text>
<text x="957.0" y="1418.0" font-size="22" text-anchor="middle">**</text>
<text x="980.8" y="1457.1" font-size="21.7" fill="#231f20">p = 0.0394</text>
<text x="1013.0" y="1480.0" font-size="22" text-anchor="middle">*</text>
<line x1="1144.7" y1="1288.0" x2="1144.7" y2="1531.3" stroke="#000" stroke-width="2"/>
<line x1="1136.7" y1="1523.3" x2="1345.3" y2="1523.3" stroke="#000" stroke-width="2"/>
<line x1="1137.7" y1="1523.3" x2="1144.7" y2="1523.3" stroke="#000" stroke-width="2"/>
<text x="1132.2" y="1529.9" font-size="25" text-anchor="end">0.0</text>
<line x1="1137.7" y1="1445.2" x2="1144.7" y2="1445.2" stroke="#000" stroke-width="2"/>
<text x="1132.2" y="1451.8" font-size="25" text-anchor="end">0.5</text>
<line x1="1137.7" y1="1367.1" x2="1144.7" y2="1367.1" stroke="#000" stroke-width="2"/>
<text x="1132.2" y="1373.7" font-size="25" text-anchor="end">1.0</text>
<line x1="1137.7" y1="1289.0" x2="1144.7" y2="1289.0" stroke="#000" stroke-width="2"/>
<text x="1132.2" y="1295.6" font-size="25" text-anchor="end">1.5</text>
<line x1="1202.0" y1="1523.3" x2="1202.0" y2="1531.3" stroke="#000" stroke-width="2"/>
<line x1="1259.7" y1="1523.3" x2="1259.7" y2="1531.3" stroke="#000" stroke-width="2"/>
<line x1="1317.0" y1="1523.3" x2="1317.0" y2="1531.3" stroke="#000" stroke-width="2"/>
<text x="1230.5" y="1284.9" font-size="25" text-anchor="middle">pSTAT5</text>
<text x="1205.5" y="1560.0" font-size="25" text-anchor="middle">1</text>
<text x="1267.5" y="1560.0" font-size="25" text-anchor="middle">3</text>
<text x="1329.0" y="1560.0" font-size="25" text-anchor="middle">10</text>
<line x1="1202.0" y1="1435.0" x2="1202.0" y2="1453.0" stroke="#e32526" stroke-width="2"/>
<line x1="1196.0" y1="1435.0" x2="1208.0" y2="1435.0" stroke="#e32526" stroke-width="2"/>
<line x1="1196.0" y1="1453.0" x2="1208.0" y2="1453.0" stroke="#e32526" stroke-width="2"/>
<line x1="1259.7" y1="1442.7" x2="1259.7" y2="1467.3" stroke="#e32526" stroke-width="2"/>
<line x1="1253.7" y1="1442.7" x2="1265.7" y2="1442.7" stroke="#e32526" stroke-width="2"/>
<line x1="1253.7" y1="1467.3" x2="1265.7" y2="1467.3" stroke="#e32526" stroke-width="2"/>
<line x1="1202.0" y1="1479.0" x2="1202.0" y2="1489.0" stroke="#1f4ea3" stroke-width="2"/>
<line x1="1196.0" y1="1479.0" x2="1208.0" y2="1479.0" stroke="#1f4ea3" stroke-width="2"/>
<line x1="1196.0" y1="1489.0" x2="1208.0" y2="1489.0" stroke="#1f4ea3" stroke-width="2"/>
<line x1="1259.7" y1="1498.0" x2="1259.7" y2="1515.0" stroke="#1f4ea3" stroke-width="2"/>
<line x1="1253.7" y1="1498.0" x2="1265.7" y2="1498.0" stroke="#1f4ea3" stroke-width="2"/>
<line x1="1253.7" y1="1515.0" x2="1265.7" y2="1515.0" stroke="#1f4ea3" stroke-width="2"/>
<line x1="1317.0" y1="1510.0" x2="1317.0" y2="1520.0" stroke="#1f4ea3" stroke-width="2"/>
<line x1="1311.0" y1="1510.0" x2="1323.0" y2="1510.0" stroke="#1f4ea3" stroke-width="2"/>
<line x1="1311.0" y1="1520.0" x2="1323.0" y2="1520.0" stroke="#1f4ea3" stroke-width="2"/>
<polyline points="1144.7,1367.1 1202.0,1444.7 1259.7,1455.0 1317.0,1491.3" fill="none" stroke="#e32526" stroke-width="2" stroke-linejoin="round"/>
<polyline points="1144.7,1367.1 1202.0,1484.7 1259.7,1506.7 1317.0,1515.0" fill="none" stroke="#1f4ea3" stroke-width="2" stroke-linejoin="round"/>
<rect x="1197.0" y="1439.7" width="10.0" height="10.0" fill="#e32526"/>
<rect x="1254.7" y="1450.0" width="10.0" height="10.0" fill="#e32526"/>
<rect x="1312.0" y="1486.3" width="10.0" height="10.0" fill="#e32526"/>
<circle cx="1202.0" cy="1484.7" r="5.2" fill="#1f4ea3"/>
<circle cx="1259.7" cy="1506.7" r="5.2" fill="#1f4ea3"/>
<circle cx="1317.0" cy="1515.0" r="5.2" fill="#1f4ea3"/>
<text x="1168.8" y="1386.1" font-size="21.7" fill="#231f20">p = 0.0067</text>
<text x="1203.0" y="1430.0" font-size="22" text-anchor="middle">**</text>
<text x="1227.8" y="1414.1" font-size="21.7" fill="#231f20">p = 0.0033</text>
<text x="1260.5" y="1442.0" font-size="22" text-anchor="middle">**</text>
<text x="1273.8" y="1459.1" font-size="21.7" fill="#231f20">p = 0.0160</text>
<text x="1317.0" y="1485.0" font-size="22" text-anchor="middle">*</text>
<line x1="1432.3" y1="1286.3" x2="1432.3" y2="1529.7" stroke="#000" stroke-width="2"/>
<line x1="1424.3" y1="1521.7" x2="1633.7" y2="1521.7" stroke="#000" stroke-width="2"/>
<line x1="1425.3" y1="1521.7" x2="1432.3" y2="1521.7" stroke="#000" stroke-width="2"/>
<text x="1419.8" y="1528.3" font-size="25" text-anchor="end">0.0</text>
<line x1="1425.3" y1="1443.6" x2="1432.3" y2="1443.6" stroke="#000" stroke-width="2"/>
<text x="1419.8" y="1450.2" font-size="25" text-anchor="end">0.5</text>
<line x1="1425.3" y1="1365.4" x2="1432.3" y2="1365.4" stroke="#000" stroke-width="2"/>
<text x="1419.8" y="1372.0" font-size="25" text-anchor="end">1.0</text>
<line x1="1425.3" y1="1287.3" x2="1432.3" y2="1287.3" stroke="#000" stroke-width="2"/>
<text x="1419.8" y="1293.9" font-size="25" text-anchor="end">1.5</text>
<line x1="1489.7" y1="1521.7" x2="1489.7" y2="1529.7" stroke="#000" stroke-width="2"/>
<line x1="1547.0" y1="1521.7" x2="1547.0" y2="1529.7" stroke="#000" stroke-width="2"/>
<line x1="1604.7" y1="1521.7" x2="1604.7" y2="1529.7" stroke="#000" stroke-width="2"/>
<text x="1521.5" y="1284.9" font-size="25" text-anchor="middle">pAKT</text>
<text x="1493.5" y="1558.0" font-size="25" text-anchor="middle">1</text>
<text x="1555.0" y="1558.0" font-size="25" text-anchor="middle">3</text>
<text x="1619.0" y="1558.0" font-size="25" text-anchor="middle">10</text>
<line x1="1489.7" y1="1344.0" x2="1489.7" y2="1372.7" stroke="#e32526" stroke-width="2"/>
<line x1="1483.7" y1="1344.0" x2="1495.7" y2="1344.0" stroke="#e32526" stroke-width="2"/>
<line x1="1483.7" y1="1372.7" x2="1495.7" y2="1372.7" stroke="#e32526" stroke-width="2"/>
<line x1="1547.0" y1="1388.0" x2="1547.0" y2="1413.0" stroke="#e32526" stroke-width="2"/>
<line x1="1541.0" y1="1388.0" x2="1553.0" y2="1388.0" stroke="#e32526" stroke-width="2"/>
<line x1="1541.0" y1="1413.0" x2="1553.0" y2="1413.0" stroke="#e32526" stroke-width="2"/>
<line x1="1604.7" y1="1361.7" x2="1604.7" y2="1430.0" stroke="#e32526" stroke-width="2"/>
<line x1="1598.7" y1="1361.7" x2="1610.7" y2="1361.7" stroke="#e32526" stroke-width="2"/>
<line x1="1598.7" y1="1430.0" x2="1610.7" y2="1430.0" stroke="#e32526" stroke-width="2"/>
<line x1="1489.7" y1="1432.0" x2="1489.7" y2="1467.0" stroke="#1f4ea3" stroke-width="2"/>
<line x1="1483.7" y1="1432.0" x2="1495.7" y2="1432.0" stroke="#1f4ea3" stroke-width="2"/>
<line x1="1483.7" y1="1467.0" x2="1495.7" y2="1467.0" stroke="#1f4ea3" stroke-width="2"/>
<line x1="1547.0" y1="1427.0" x2="1547.0" y2="1471.7" stroke="#1f4ea3" stroke-width="2"/>
<line x1="1541.0" y1="1427.0" x2="1553.0" y2="1427.0" stroke="#1f4ea3" stroke-width="2"/>
<line x1="1541.0" y1="1471.7" x2="1553.0" y2="1471.7" stroke="#1f4ea3" stroke-width="2"/>
<line x1="1604.7" y1="1429.0" x2="1604.7" y2="1480.7" stroke="#1f4ea3" stroke-width="2"/>
<line x1="1598.7" y1="1429.0" x2="1610.7" y2="1429.0" stroke="#1f4ea3" stroke-width="2"/>
<line x1="1598.7" y1="1480.7" x2="1610.7" y2="1480.7" stroke="#1f4ea3" stroke-width="2"/>
<polyline points="1432.3,1365.4 1489.7,1358.3 1547.0,1401.0 1604.7,1408.3" fill="none" stroke="#e32526" stroke-width="2" stroke-linejoin="round"/>
<polyline points="1432.3,1365.4 1489.7,1449.7 1547.0,1449.3 1604.7,1455.0" fill="none" stroke="#1f4ea3" stroke-width="2" stroke-linejoin="round"/>
<rect x="1484.7" y="1353.3" width="10.0" height="10.0" fill="#e32526"/>
<rect x="1542.0" y="1396.0" width="10.0" height="10.0" fill="#e32526"/>
<rect x="1599.7" y="1403.3" width="10.0" height="10.0" fill="#e32526"/>
<circle cx="1489.7" cy="1449.7" r="5.2" fill="#1f4ea3"/>
<circle cx="1547.0" cy="1449.3" r="5.2" fill="#1f4ea3"/>
<circle cx="1604.7" cy="1455.0" r="5.2" fill="#1f4ea3"/>
<text x="1443.5" y="1314.1" font-size="21.7" fill="#231f20">p = 0.0096</text>
<text x="1491.5" y="1343.0" font-size="22" text-anchor="middle">**</text>
<text x="1548.8" y="1331.1" font-size="21.7" fill="#231f20">p = 0.0758</text>
<text x="1494.8" y="1356.1" font-size="21.7" fill="#231f20">p = 0.0296</text>
<text x="1601.0" y="1357.0" font-size="24">NS</text>
<text x="1547.0" y="1387.0" font-size="22" text-anchor="middle">*</text>
<line x1="1732.7" y1="1286.7" x2="1732.7" y2="1529.0" stroke="#000" stroke-width="2"/>
<line x1="1724.7" y1="1521.0" x2="1933.7" y2="1521.0" stroke="#000" stroke-width="2"/>
<line x1="1725.7" y1="1521.0" x2="1732.7" y2="1521.0" stroke="#000" stroke-width="2"/>
<text x="1720.2" y="1527.6" font-size="25" text-anchor="end">0.0</text>
<line x1="1725.7" y1="1443.2" x2="1732.7" y2="1443.2" stroke="#000" stroke-width="2"/>
<text x="1720.2" y="1449.8" font-size="25" text-anchor="end">0.5</text>
<line x1="1725.7" y1="1365.5" x2="1732.7" y2="1365.5" stroke="#000" stroke-width="2"/>
<text x="1720.2" y="1372.1" font-size="25" text-anchor="end">1.0</text>
<line x1="1725.7" y1="1287.7" x2="1732.7" y2="1287.7" stroke="#000" stroke-width="2"/>
<text x="1720.2" y="1294.3" font-size="25" text-anchor="end">1.5</text>
<line x1="1790.3" y1="1521.0" x2="1790.3" y2="1529.0" stroke="#000" stroke-width="2"/>
<line x1="1847.7" y1="1521.0" x2="1847.7" y2="1529.0" stroke="#000" stroke-width="2"/>
<line x1="1905.3" y1="1521.0" x2="1905.3" y2="1529.0" stroke="#000" stroke-width="2"/>
<text x="1828.5" y="1284.9" font-size="25" text-anchor="middle">pERK</text>
<text x="1794.0" y="1558.0" font-size="25" text-anchor="middle">1</text>
<text x="1855.0" y="1558.0" font-size="25" text-anchor="middle">3</text>
<text x="1917.5" y="1558.0" font-size="25" text-anchor="middle">10</text>
<line x1="1790.3" y1="1383.0" x2="1790.3" y2="1402.0" stroke="#e32526" stroke-width="2"/>
<line x1="1784.3" y1="1383.0" x2="1796.3" y2="1383.0" stroke="#e32526" stroke-width="2"/>
<line x1="1784.3" y1="1402.0" x2="1796.3" y2="1402.0" stroke="#e32526" stroke-width="2"/>
<line x1="1847.7" y1="1437.7" x2="1847.7" y2="1462.7" stroke="#e32526" stroke-width="2"/>
<line x1="1841.7" y1="1437.7" x2="1853.7" y2="1437.7" stroke="#e32526" stroke-width="2"/>
<line x1="1841.7" y1="1462.7" x2="1853.7" y2="1462.7" stroke="#e32526" stroke-width="2"/>
<line x1="1905.3" y1="1455.7" x2="1905.3" y2="1485.0" stroke="#e32526" stroke-width="2"/>
<line x1="1899.3" y1="1455.7" x2="1911.3" y2="1455.7" stroke="#e32526" stroke-width="2"/>
<line x1="1899.3" y1="1485.0" x2="1911.3" y2="1485.0" stroke="#e32526" stroke-width="2"/>
<line x1="1790.3" y1="1422.0" x2="1790.3" y2="1450.0" stroke="#1f4ea3" stroke-width="2"/>
<line x1="1784.3" y1="1422.0" x2="1796.3" y2="1422.0" stroke="#1f4ea3" stroke-width="2"/>
<line x1="1784.3" y1="1450.0" x2="1796.3" y2="1450.0" stroke="#1f4ea3" stroke-width="2"/>
<line x1="1847.7" y1="1488.0" x2="1847.7" y2="1498.0" stroke="#1f4ea3" stroke-width="2"/>
<line x1="1841.7" y1="1488.0" x2="1853.7" y2="1488.0" stroke="#1f4ea3" stroke-width="2"/>
<line x1="1841.7" y1="1498.0" x2="1853.7" y2="1498.0" stroke="#1f4ea3" stroke-width="2"/>
<polyline points="1732.7,1365.5 1790.3,1393.3 1847.7,1450.3 1905.3,1470.3" fill="none" stroke="#e32526" stroke-width="2" stroke-linejoin="round"/>
<polyline points="1732.7,1365.5 1790.3,1436.3 1847.7,1493.3 1905.3,1510.3" fill="none" stroke="#1f4ea3" stroke-width="2" stroke-linejoin="round"/>
<rect x="1785.3" y="1388.3" width="10.0" height="10.0" fill="#e32526"/>
<rect x="1842.7" y="1445.3" width="10.0" height="10.0" fill="#e32526"/>
<rect x="1900.3" y="1465.3" width="10.0" height="10.0" fill="#e32526"/>
<circle cx="1790.3" cy="1436.3" r="5.2" fill="#1f4ea3"/>
<circle cx="1847.7" cy="1493.3" r="5.2" fill="#1f4ea3"/>
<circle cx="1905.3" cy="1510.3" r="5.2" fill="#1f4ea3"/>
<text x="1739.8" y="1352.1" font-size="21.7" fill="#231f20">p = 0.0312</text>
<text x="1791.0" y="1381.0" font-size="22" text-anchor="middle">*</text>
<text x="1805.5" y="1399.1" font-size="21.7" fill="#231f20">p = 0.0176</text>
<text x="1847.7" y="1430.0" font-size="22" text-anchor="middle">*</text>
<text x="1874.8" y="1431.1" font-size="21.7" fill="#231f20">p = 0.0299</text>
<text x="1906.0" y="1457.0" font-size="22" text-anchor="middle">*</text>
<line x1="251.7" y1="1662.3" x2="251.7" y2="1904.0" stroke="#000" stroke-width="2"/>
<line x1="243.7" y1="1896.0" x2="451.7" y2="1896.0" stroke="#000" stroke-width="2"/>
<line x1="244.7" y1="1896.0" x2="251.7" y2="1896.0" stroke="#000" stroke-width="2"/>
<text x="239.2" y="1902.6" font-size="25" text-anchor="end">0.0</text>
<line x1="244.7" y1="1818.4" x2="251.7" y2="1818.4" stroke="#000" stroke-width="2"/>
<text x="239.2" y="1825.0" font-size="25" text-anchor="end">0.5</text>
<line x1="244.7" y1="1740.9" x2="251.7" y2="1740.9" stroke="#000" stroke-width="2"/>
<text x="239.2" y="1747.5" font-size="25" text-anchor="end">1.0</text>
<line x1="244.7" y1="1663.3" x2="251.7" y2="1663.3" stroke="#000" stroke-width="2"/>
<text x="239.2" y="1669.9" font-size="25" text-anchor="end">1.5</text>
<line x1="309.0" y1="1896.0" x2="309.0" y2="1904.0" stroke="#000" stroke-width="2"/>
<line x1="366.0" y1="1896.0" x2="366.0" y2="1904.0" stroke="#000" stroke-width="2"/>
<line x1="423.3" y1="1896.0" x2="423.3" y2="1904.0" stroke="#000" stroke-width="2"/>
<text x="329.5" y="1656.9" font-size="25" text-anchor="middle">pSTAT5</text>
<text x="307.5" y="1932.0" font-size="25" text-anchor="middle">1</text>
<text x="376.3" y="1932.0" font-size="25" text-anchor="middle">3</text>
<text x="437.8" y="1932.0" font-size="25" text-anchor="middle">10</text>
<line x1="309.0" y1="1756.7" x2="309.0" y2="1770.0" stroke="#e32526" stroke-width="2"/>
<line x1="303.0" y1="1756.7" x2="315.0" y2="1756.7" stroke="#e32526" stroke-width="2"/>
<line x1="303.0" y1="1770.0" x2="315.0" y2="1770.0" stroke="#e32526" stroke-width="2"/>
<line x1="366.0" y1="1802.7" x2="366.0" y2="1829.3" stroke="#e32526" stroke-width="2"/>
<line x1="360.0" y1="1802.7" x2="372.0" y2="1802.7" stroke="#e32526" stroke-width="2"/>
<line x1="360.0" y1="1829.3" x2="372.0" y2="1829.3" stroke="#e32526" stroke-width="2"/>
<line x1="423.3" y1="1830.0" x2="423.3" y2="1846.7" stroke="#e32526" stroke-width="2"/>
<line x1="417.3" y1="1830.0" x2="429.3" y2="1830.0" stroke="#e32526" stroke-width="2"/>
<line x1="417.3" y1="1846.7" x2="429.3" y2="1846.7" stroke="#e32526" stroke-width="2"/>
<line x1="309.0" y1="1770.0" x2="309.0" y2="1801.7" stroke="#1f4ea3" stroke-width="2"/>
<line x1="303.0" y1="1770.0" x2="315.0" y2="1770.0" stroke="#1f4ea3" stroke-width="2"/>
<line x1="303.0" y1="1801.7" x2="315.0" y2="1801.7" stroke="#1f4ea3" stroke-width="2"/>
<polyline points="251.7,1740.9 309.0,1763.3 366.0,1816.3 423.3,1838.3" fill="none" stroke="#e32526" stroke-width="2" stroke-linejoin="round"/>
<polyline points="251.7,1740.9 309.0,1786.0 366.0,1842.0 423.3,1854.7" fill="none" stroke="#1f4ea3" stroke-width="2" stroke-linejoin="round"/>
<rect x="304.0" y="1758.3" width="10.0" height="10.0" fill="#e32526"/>
<rect x="361.0" y="1811.3" width="10.0" height="10.0" fill="#e32526"/>
<rect x="418.3" y="1833.3" width="10.0" height="10.0" fill="#e32526"/>
<circle cx="309.0" cy="1786.0" r="5.2" fill="#1f4ea3"/>
<circle cx="366.0" cy="1842.0" r="5.2" fill="#1f4ea3"/>
<circle cx="423.3" cy="1854.7" r="5.2" fill="#1f4ea3"/>
<text x="260.8" y="1719.1" font-size="21.7" fill="#231f20">p = 0.1358</text>
<text x="295.0" y="1750.0" font-size="24">NS</text>
<text x="327.8" y="1762.1" font-size="21.7" fill="#231f20">p = 0.0324</text>
<text x="367.7" y="1795.0" font-size="22" text-anchor="middle">*</text>
<text x="382.8" y="1794.1" font-size="21.7" fill="#231f20">p = 0.0333</text>
<text x="425.0" y="1827.0" font-size="22" text-anchor="middle">*</text>
<line x1="544.3" y1="1661.3" x2="544.3" y2="1903.0" stroke="#000" stroke-width="2"/>
<line x1="536.3" y1="1895.0" x2="744.0" y2="1895.0" stroke="#000" stroke-width="2"/>
<line x1="537.3" y1="1895.0" x2="544.3" y2="1895.0" stroke="#000" stroke-width="2"/>
<text x="531.8" y="1901.6" font-size="25" text-anchor="end">0.0</text>
<line x1="537.3" y1="1817.4" x2="544.3" y2="1817.4" stroke="#000" stroke-width="2"/>
<text x="531.8" y="1824.0" font-size="25" text-anchor="end">0.5</text>
<line x1="537.3" y1="1739.9" x2="544.3" y2="1739.9" stroke="#000" stroke-width="2"/>
<text x="531.8" y="1746.5" font-size="25" text-anchor="end">1.0</text>
<line x1="537.3" y1="1662.3" x2="544.3" y2="1662.3" stroke="#000" stroke-width="2"/>
<text x="531.8" y="1668.9" font-size="25" text-anchor="end">1.5</text>
<line x1="601.7" y1="1895.0" x2="601.7" y2="1903.0" stroke="#000" stroke-width="2"/>
<line x1="659.0" y1="1895.0" x2="659.0" y2="1903.0" stroke="#000" stroke-width="2"/>
<line x1="716.0" y1="1895.0" x2="716.0" y2="1903.0" stroke="#000" stroke-width="2"/>
<text x="620.5" y="1655.9" font-size="25" text-anchor="middle">pAKT</text>
<text x="600.8" y="1932.0" font-size="25" text-anchor="middle">1</text>
<text x="668.3" y="1932.0" font-size="25" text-anchor="middle">3</text>
<text x="730.0" y="1932.0" font-size="25" text-anchor="middle">10</text>
<line x1="601.7" y1="1722.0" x2="601.7" y2="1808.0" stroke="#e32526" stroke-width="2"/>
<line x1="595.7" y1="1722.0" x2="607.7" y2="1722.0" stroke="#e32526" stroke-width="2"/>
<line x1="595.7" y1="1808.0" x2="607.7" y2="1808.0" stroke="#e32526" stroke-width="2"/>
<line x1="659.0" y1="1805.7" x2="659.0" y2="1858.3" stroke="#e32526" stroke-width="2"/>
<line x1="653.0" y1="1805.7" x2="665.0" y2="1805.7" stroke="#e32526" stroke-width="2"/>
<line x1="653.0" y1="1858.3" x2="665.0" y2="1858.3" stroke="#e32526" stroke-width="2"/>
<line x1="716.0" y1="1837.0" x2="716.0" y2="1865.0" stroke="#e32526" stroke-width="2"/>
<line x1="710.0" y1="1837.0" x2="722.0" y2="1837.0" stroke="#e32526" stroke-width="2"/>
<line x1="710.0" y1="1865.0" x2="722.0" y2="1865.0" stroke="#e32526" stroke-width="2"/>
<polyline points="544.3,1739.9 601.7,1765.0 659.0,1832.3 716.0,1851.3" fill="none" stroke="#e32526" stroke-width="2" stroke-linejoin="round"/>
<polyline points="544.3,1739.9 601.7,1818.3 659.0,1869.0 716.0,1893.0" fill="none" stroke="#1f4ea3" stroke-width="2" stroke-linejoin="round"/>
<rect x="596.7" y="1760.0" width="10.0" height="10.0" fill="#e32526"/>
<rect x="654.0" y="1827.3" width="10.0" height="10.0" fill="#e32526"/>
<rect x="711.0" y="1846.3" width="10.0" height="10.0" fill="#e32526"/>
<circle cx="601.7" cy="1818.3" r="5.2" fill="#1f4ea3"/>
<circle cx="659.0" cy="1869.0" r="5.2" fill="#1f4ea3"/>
<circle cx="716.0" cy="1893.0" r="5.2" fill="#1f4ea3"/>
<text x="551.8" y="1692.1" font-size="21.7" fill="#231f20">p = 0.1761</text>
<text x="587.7" y="1718.0" font-size="24">NS</text>
<text x="616.8" y="1767.1" font-size="21.7" fill="#231f20">p = 0.0390</text>
<text x="660.0" y="1795.0" font-size="22" text-anchor="middle">*</text>
<text x="675.5" y="1801.1" font-size="21.7" fill="#231f20">p = 0.0195</text>
<text x="718.0" y="1827.0" font-size="22" text-anchor="middle">*</text>
<line x1="842.7" y1="1663.3" x2="842.7" y2="1905.3" stroke="#000" stroke-width="2"/>
<line x1="834.7" y1="1897.3" x2="1043.0" y2="1897.3" stroke="#000" stroke-width="2"/>
<line x1="835.7" y1="1897.3" x2="842.7" y2="1897.3" stroke="#000" stroke-width="2"/>
<text x="830.2" y="1903.9" font-size="25" text-anchor="end">0.0</text>
<line x1="835.7" y1="1819.6" x2="842.7" y2="1819.6" stroke="#000" stroke-width="2"/>
<text x="830.2" y="1826.2" font-size="25" text-anchor="end">0.5</text>
<line x1="835.7" y1="1742.0" x2="842.7" y2="1742.0" stroke="#000" stroke-width="2"/>
<text x="830.2" y="1748.6" font-size="25" text-anchor="end">1.0</text>
<line x1="835.7" y1="1664.3" x2="842.7" y2="1664.3" stroke="#000" stroke-width="2"/>
<text x="830.2" y="1670.9" font-size="25" text-anchor="end">1.5</text>
<line x1="900.0" y1="1897.3" x2="900.0" y2="1905.3" stroke="#000" stroke-width="2"/>
<line x1="956.7" y1="1897.3" x2="956.7" y2="1905.3" stroke="#000" stroke-width="2"/>
<line x1="1014.0" y1="1897.3" x2="1014.0" y2="1905.3" stroke="#000" stroke-width="2"/>
<text x="927.5" y="1656.9" font-size="25" text-anchor="middle">pERK</text>
<text x="899.5" y="1934.0" font-size="25" text-anchor="middle">1</text>
<text x="967.5" y="1934.0" font-size="25" text-anchor="middle">3</text>
<text x="1030.5" y="1934.0" font-size="25" text-anchor="middle">10</text>
<line x1="900.0" y1="1711.7" x2="900.0" y2="1749.0" stroke="#e32526" stroke-width="2"/>
<line x1="894.0" y1="1711.7" x2="906.0" y2="1711.7" stroke="#e32526" stroke-width="2"/>
<line x1="894.0" y1="1749.0" x2="906.0" y2="1749.0" stroke="#e32526" stroke-width="2"/>
<line x1="956.7" y1="1815.0" x2="956.7" y2="1839.3" stroke="#e32526" stroke-width="2"/>
<line x1="950.7" y1="1815.0" x2="962.7" y2="1815.0" stroke="#e32526" stroke-width="2"/>
<line x1="950.7" y1="1839.3" x2="962.7" y2="1839.3" stroke="#e32526" stroke-width="2"/>
<line x1="1014.0" y1="1857.0" x2="1014.0" y2="1870.7" stroke="#e32526" stroke-width="2"/>
<line x1="1008.0" y1="1857.0" x2="1020.0" y2="1857.0" stroke="#e32526" stroke-width="2"/>
<line x1="1008.0" y1="1870.7" x2="1020.0" y2="1870.7" stroke="#e32526" stroke-width="2"/>
<line x1="900.0" y1="1798.0" x2="900.0" y2="1813.0" stroke="#1f4ea3" stroke-width="2"/>
<line x1="894.0" y1="1798.0" x2="906.0" y2="1798.0" stroke="#1f4ea3" stroke-width="2"/>
<line x1="894.0" y1="1813.0" x2="906.0" y2="1813.0" stroke="#1f4ea3" stroke-width="2"/>
<polyline points="842.7,1742.0 900.0,1730.3 956.7,1827.0 1014.0,1863.7" fill="none" stroke="#e32526" stroke-width="2" stroke-linejoin="round"/>
<polyline points="842.7,1742.0 900.0,1806.0 956.7,1851.3 1014.0,1878.0" fill="none" stroke="#1f4ea3" stroke-width="2" stroke-linejoin="round"/>
<rect x="895.0" y="1725.3" width="10.0" height="10.0" fill="#e32526"/>
<rect x="951.7" y="1822.0" width="10.0" height="10.0" fill="#e32526"/>
<rect x="1009.0" y="1858.7" width="10.0" height="10.0" fill="#e32526"/>
<circle cx="900.0" cy="1806.0" r="5.2" fill="#1f4ea3"/>
<circle cx="956.7" cy="1851.3" r="5.2" fill="#1f4ea3"/>
<circle cx="1014.0" cy="1878.0" r="5.2" fill="#1f4ea3"/>
<text x="858.8" y="1689.1" font-size="21.7" fill="#231f20">p = 0.0098</text>
<text x="899.0" y="1709.0" font-size="22" text-anchor="middle">**</text>
<text x="936.8" y="1779.1" font-size="21.7" fill="#231f20">p = 0.0291</text>
<text x="956.7" y="1809.0" font-size="22" text-anchor="middle">*</text>
<text x="973.8" y="1819.1" font-size="21.7" fill="#231f20">p = 0.0930</text>
<text x="1000.0" y="1850.0" font-size="24">NS</text>
<line x1="1143.7" y1="1661.3" x2="1143.7" y2="1903.0" stroke="#000" stroke-width="2"/>
<line x1="1135.7" y1="1895.0" x2="1343.0" y2="1895.0" stroke="#000" stroke-width="2"/>
<line x1="1136.7" y1="1895.0" x2="1143.7" y2="1895.0" stroke="#000" stroke-width="2"/>
<text x="1131.2" y="1901.6" font-size="25" text-anchor="end">0.0</text>
<line x1="1136.7" y1="1817.4" x2="1143.7" y2="1817.4" stroke="#000" stroke-width="2"/>
<text x="1131.2" y="1824.0" font-size="25" text-anchor="end">0.5</text>
<line x1="1136.7" y1="1739.9" x2="1143.7" y2="1739.9" stroke="#000" stroke-width="2"/>
<text x="1131.2" y="1746.5" font-size="25" text-anchor="end">1.0</text>
<line x1="1136.7" y1="1662.3" x2="1143.7" y2="1662.3" stroke="#000" stroke-width="2"/>
<text x="1131.2" y="1668.9" font-size="25" text-anchor="end">1.5</text>
<line x1="1200.3" y1="1895.0" x2="1200.3" y2="1903.0" stroke="#000" stroke-width="2"/>
<line x1="1257.3" y1="1895.0" x2="1257.3" y2="1903.0" stroke="#000" stroke-width="2"/>
<line x1="1314.7" y1="1895.0" x2="1314.7" y2="1903.0" stroke="#000" stroke-width="2"/>
<text x="1230.5" y="1655.9" font-size="25" text-anchor="middle">pSTAT5</text>
<text x="1193.3" y="1932.0" font-size="25" text-anchor="middle">3</text>
<text x="1268.5" y="1932.0" font-size="25" text-anchor="middle">10</text>
<text x="1337.2" y="1932.0" font-size="25" text-anchor="middle">30</text>
<line x1="1200.3" y1="1706.7" x2="1200.3" y2="1737.3" stroke="#e32526" stroke-width="2"/>
<line x1="1194.3" y1="1706.7" x2="1206.3" y2="1706.7" stroke="#e32526" stroke-width="2"/>
<line x1="1194.3" y1="1737.3" x2="1206.3" y2="1737.3" stroke="#e32526" stroke-width="2"/>
<line x1="1257.3" y1="1769.0" x2="1257.3" y2="1785.7" stroke="#e32526" stroke-width="2"/>
<line x1="1251.3" y1="1769.0" x2="1263.3" y2="1769.0" stroke="#e32526" stroke-width="2"/>
<line x1="1251.3" y1="1785.7" x2="1263.3" y2="1785.7" stroke="#e32526" stroke-width="2"/>
<line x1="1314.7" y1="1810.0" x2="1314.7" y2="1835.0" stroke="#e32526" stroke-width="2"/>
<line x1="1308.7" y1="1810.0" x2="1320.7" y2="1810.0" stroke="#e32526" stroke-width="2"/>
<line x1="1308.7" y1="1835.0" x2="1320.7" y2="1835.0" stroke="#e32526" stroke-width="2"/>
<line x1="1200.3" y1="1767.3" x2="1200.3" y2="1784.0" stroke="#1f4ea3" stroke-width="2"/>
<line x1="1194.3" y1="1767.3" x2="1206.3" y2="1767.3" stroke="#1f4ea3" stroke-width="2"/>
<line x1="1194.3" y1="1784.0" x2="1206.3" y2="1784.0" stroke="#1f4ea3" stroke-width="2"/>
<line x1="1257.3" y1="1827.3" x2="1257.3" y2="1842.7" stroke="#1f4ea3" stroke-width="2"/>
<line x1="1251.3" y1="1827.3" x2="1263.3" y2="1827.3" stroke="#1f4ea3" stroke-width="2"/>
<line x1="1251.3" y1="1842.7" x2="1263.3" y2="1842.7" stroke="#1f4ea3" stroke-width="2"/>
<line x1="1314.7" y1="1846.7" x2="1314.7" y2="1860.7" stroke="#1f4ea3" stroke-width="2"/>
<line x1="1308.7" y1="1846.7" x2="1320.7" y2="1846.7" stroke="#1f4ea3" stroke-width="2"/>
<line x1="1308.7" y1="1860.7" x2="1320.7" y2="1860.7" stroke="#1f4ea3" stroke-width="2"/>
<polyline points="1143.7,1739.9 1200.3,1722.3 1257.3,1777.0 1314.7,1822.7" fill="none" stroke="#e32526" stroke-width="2" stroke-linejoin="round"/>
<polyline points="1143.7,1739.9 1200.3,1775.7 1257.3,1835.0 1314.7,1854.0" fill="none" stroke="#1f4ea3" stroke-width="2" stroke-linejoin="round"/>
<rect x="1195.3" y="1717.3" width="10.0" height="10.0" fill="#e32526"/>
<rect x="1252.3" y="1772.0" width="10.0" height="10.0" fill="#e32526"/>
<rect x="1309.7" y="1817.7" width="10.0" height="10.0" fill="#e32526"/>
<circle cx="1200.3" cy="1775.7" r="5.2" fill="#1f4ea3"/>
<circle cx="1257.3" cy="1835.0" r="5.2" fill="#1f4ea3"/>
<circle cx="1314.7" cy="1854.0" r="5.2" fill="#1f4ea3"/>
<text x="1162.8" y="1689.1" font-size="21.7" fill="#231f20">p = 0.0187</text>
<text x="1200.7" y="1709.0" font-size="22" text-anchor="middle">*</text>
<text x="1221.8" y="1736.1" font-size="21.7" fill="#231f20">p = 0.0077</text>
<text x="1261.0" y="1759.0" font-size="22" text-anchor="middle">**</text>
<text x="1276.8" y="1781.1" font-size="21.7" fill="#231f20">p = 0.0491</text>
<text x="1314.7" y="1805.0" font-size="22" text-anchor="middle">*</text>
<line x1="1430.7" y1="1661.3" x2="1430.7" y2="1903.7" stroke="#000" stroke-width="2"/>
<line x1="1422.7" y1="1895.7" x2="1631.0" y2="1895.7" stroke="#000" stroke-width="2"/>
<line x1="1423.7" y1="1895.7" x2="1430.7" y2="1895.7" stroke="#000" stroke-width="2"/>
<text x="1418.2" y="1902.3" font-size="25" text-anchor="end">0.0</text>
<line x1="1423.7" y1="1817.9" x2="1430.7" y2="1817.9" stroke="#000" stroke-width="2"/>
<text x="1418.2" y="1824.5" font-size="25" text-anchor="end">0.5</text>
<line x1="1423.7" y1="1740.1" x2="1430.7" y2="1740.1" stroke="#000" stroke-width="2"/>
<text x="1418.2" y="1746.7" font-size="25" text-anchor="end">1.0</text>
<line x1="1423.7" y1="1662.3" x2="1430.7" y2="1662.3" stroke="#000" stroke-width="2"/>
<text x="1418.2" y="1668.9" font-size="25" text-anchor="end">1.5</text>
<line x1="1488.0" y1="1895.7" x2="1488.0" y2="1903.7" stroke="#000" stroke-width="2"/>
<line x1="1544.7" y1="1895.7" x2="1544.7" y2="1903.7" stroke="#000" stroke-width="2"/>
<line x1="1602.0" y1="1895.7" x2="1602.0" y2="1903.7" stroke="#000" stroke-width="2"/>
<text x="1521.5" y="1655.9" font-size="25" text-anchor="middle">pAKT</text>
<text x="1481.0" y="1932.0" font-size="25" text-anchor="middle">3</text>
<text x="1555.8" y="1932.0" font-size="25" text-anchor="middle">10</text>
<text x="1623.5" y="1932.0" font-size="25" text-anchor="middle">30</text>
<line x1="1488.0" y1="1769.3" x2="1488.0" y2="1791.7" stroke="#e32526" stroke-width="2"/>
<line x1="1482.0" y1="1769.3" x2="1494.0" y2="1769.3" stroke="#e32526" stroke-width="2"/>
<line x1="1482.0" y1="1791.7" x2="1494.0" y2="1791.7" stroke="#e32526" stroke-width="2"/>
<line x1="1544.7" y1="1800.0" x2="1544.7" y2="1836.7" stroke="#e32526" stroke-width="2"/>
<line x1="1538.7" y1="1800.0" x2="1550.7" y2="1800.0" stroke="#e32526" stroke-width="2"/>
<line x1="1538.7" y1="1836.7" x2="1550.7" y2="1836.7" stroke="#e32526" stroke-width="2"/>
<line x1="1602.0" y1="1829.0" x2="1602.0" y2="1841.7" stroke="#e32526" stroke-width="2"/>
<line x1="1596.0" y1="1829.0" x2="1608.0" y2="1829.0" stroke="#e32526" stroke-width="2"/>
<line x1="1596.0" y1="1841.7" x2="1608.0" y2="1841.7" stroke="#e32526" stroke-width="2"/>
<line x1="1488.0" y1="1822.3" x2="1488.0" y2="1840.7" stroke="#1f4ea3" stroke-width="2"/>
<line x1="1482.0" y1="1822.3" x2="1494.0" y2="1822.3" stroke="#1f4ea3" stroke-width="2"/>
<line x1="1482.0" y1="1840.7" x2="1494.0" y2="1840.7" stroke="#1f4ea3" stroke-width="2"/>
<line x1="1544.7" y1="1827.3" x2="1544.7" y2="1874.0" stroke="#1f4ea3" stroke-width="2"/>
<line x1="1538.7" y1="1827.3" x2="1550.7" y2="1827.3" stroke="#1f4ea3" stroke-width="2"/>
<line x1="1538.7" y1="1874.0" x2="1550.7" y2="1874.0" stroke="#1f4ea3" stroke-width="2"/>
<line x1="1602.0" y1="1866.0" x2="1602.0" y2="1896.7" stroke="#1f4ea3" stroke-width="2"/>
<line x1="1596.0" y1="1866.0" x2="1608.0" y2="1866.0" stroke="#1f4ea3" stroke-width="2"/>
<line x1="1596.0" y1="1896.7" x2="1608.0" y2="1896.7" stroke="#1f4ea3" stroke-width="2"/>
<polyline points="1430.7,1740.1 1488.0,1780.3 1544.7,1818.0 1602.0,1835.7" fill="none" stroke="#e32526" stroke-width="2" stroke-linejoin="round"/>
<polyline points="1430.7,1740.1 1488.0,1831.7 1544.7,1850.7 1602.0,1881.0" fill="none" stroke="#1f4ea3" stroke-width="2" stroke-linejoin="round"/>
<rect x="1483.0" y="1775.3" width="10.0" height="10.0" fill="#e32526"/>
<rect x="1539.7" y="1813.0" width="10.0" height="10.0" fill="#e32526"/>
<rect x="1597.0" y="1830.7" width="10.0" height="10.0" fill="#e32526"/>
<circle cx="1488.0" cy="1831.7" r="5.2" fill="#1f4ea3"/>
<circle cx="1544.7" cy="1850.7" r="5.2" fill="#1f4ea3"/>
<circle cx="1602.0" cy="1881.0" r="5.2" fill="#1f4ea3"/>
<text x="1443.5" y="1729.1" font-size="21.7" fill="#231f20">p = 0.0112</text>
<text x="1485.3" y="1759.0" font-size="22" text-anchor="middle">*</text>
<text x="1502.8" y="1758.1" font-size="21.7" fill="#231f20">p = 0.1651</text>
<text x="1533.0" y="1783.0" font-size="24">NS</text>
<text x="1565.8" y="1798.1" font-size="21.7" fill="#231f20">p = 0.0245</text>
<text x="1602.3" y="1815.0" font-size="22" text-anchor="middle">*</text>
<line x1="1732.7" y1="1668.3" x2="1732.7" y2="1910.7" stroke="#000" stroke-width="2"/>
<line x1="1724.7" y1="1902.7" x2="1932.7" y2="1902.7" stroke="#000" stroke-width="2"/>
<line x1="1725.7" y1="1902.7" x2="1732.7" y2="1902.7" stroke="#000" stroke-width="2"/>
<text x="1720.2" y="1909.3" font-size="25" text-anchor="end">0.0</text>
<line x1="1725.7" y1="1824.9" x2="1732.7" y2="1824.9" stroke="#000" stroke-width="2"/>
<text x="1720.2" y="1831.5" font-size="25" text-anchor="end">0.5</text>
<line x1="1725.7" y1="1747.1" x2="1732.7" y2="1747.1" stroke="#000" stroke-width="2"/>
<text x="1720.2" y="1753.7" font-size="25" text-anchor="end">1.0</text>
<line x1="1725.7" y1="1669.3" x2="1732.7" y2="1669.3" stroke="#000" stroke-width="2"/>
<text x="1720.2" y="1675.9" font-size="25" text-anchor="end">1.5</text>
<line x1="1790.0" y1="1902.7" x2="1790.0" y2="1910.7" stroke="#000" stroke-width="2"/>
<line x1="1846.7" y1="1902.7" x2="1846.7" y2="1910.7" stroke="#000" stroke-width="2"/>
<line x1="1903.7" y1="1902.7" x2="1903.7" y2="1910.7" stroke="#000" stroke-width="2"/>
<text x="1828.5" y="1655.9" font-size="25" text-anchor="middle">pERK</text>
<text x="1782.7" y="1938.0" font-size="25" text-anchor="middle">3</text>
<text x="1858.5" y="1938.0" font-size="25" text-anchor="middle">10</text>
<text x="1927.3" y="1938.0" font-size="25" text-anchor="middle">30</text>
<line x1="1790.0" y1="1733.3" x2="1790.0" y2="1754.0" stroke="#e32526" stroke-width="2"/>
<line x1="1784.0" y1="1733.3" x2="1796.0" y2="1733.3" stroke="#e32526" stroke-width="2"/>
<line x1="1784.0" y1="1754.0" x2="1796.0" y2="1754.0" stroke="#e32526" stroke-width="2"/>
<line x1="1846.7" y1="1754.0" x2="1846.7" y2="1763.3" stroke="#e32526" stroke-width="2"/>
<line x1="1840.7" y1="1754.0" x2="1852.7" y2="1754.0" stroke="#e32526" stroke-width="2"/>
<line x1="1840.7" y1="1763.3" x2="1852.7" y2="1763.3" stroke="#e32526" stroke-width="2"/>
<line x1="1846.7" y1="1795.0" x2="1846.7" y2="1813.3" stroke="#1f4ea3" stroke-width="2"/>
<line x1="1840.7" y1="1795.0" x2="1852.7" y2="1795.0" stroke="#1f4ea3" stroke-width="2"/>
<line x1="1840.7" y1="1813.3" x2="1852.7" y2="1813.3" stroke="#1f4ea3" stroke-width="2"/>
<line x1="1903.7" y1="1830.0" x2="1903.7" y2="1860.0" stroke="#1f4ea3" stroke-width="2"/>
<line x1="1897.7" y1="1830.0" x2="1909.7" y2="1830.0" stroke="#1f4ea3" stroke-width="2"/>
<line x1="1897.7" y1="1860.0" x2="1909.7" y2="1860.0" stroke="#1f4ea3" stroke-width="2"/>
<polyline points="1732.7,1747.1 1790.0,1744.0 1846.7,1758.7 1903.7,1748.3" fill="none" stroke="#e32526" stroke-width="2" stroke-linejoin="round"/>
<polyline points="1732.7,1747.1 1790.0,1800.7 1846.7,1804.0 1903.7,1845.0" fill="none" stroke="#1f4ea3" stroke-width="2" stroke-linejoin="round"/>
<rect x="1785.0" y="1739.0" width="10.0" height="10.0" fill="#e32526"/>
<rect x="1841.7" y="1753.7" width="10.0" height="10.0" fill="#e32526"/>
<rect x="1898.7" y="1743.3" width="10.0" height="10.0" fill="#e32526"/>
<circle cx="1790.0" cy="1800.7" r="5.2" fill="#1f4ea3"/>
<circle cx="1846.7" cy="1804.0" r="5.2" fill="#1f4ea3"/>
<circle cx="1903.7" cy="1845.0" r="5.2" fill="#1f4ea3"/>
<text x="1736.5" y="1696.1" font-size="21.7" fill="#231f20">p = 0.0064</text>
<text x="1867.8" y="1693.1" font-size="21.7" fill="#231f20">p = 0.0037</text>
<text x="1797.8" y="1716.1" font-size="21.7" fill="#231f20">p = 0.0142</text>
<text x="1788.5" y="1730.0" font-size="22" text-anchor="middle">**</text>
<text x="1847.0" y="1750.0" font-size="22" text-anchor="middle">*</text>
<text x="1903.5" y="1734.0" font-size="22" text-anchor="middle">**</text>
<line x1="269.0" y1="1572.7" x2="1036.7" y2="1572.7" stroke="#000" stroke-width="2"/>
<line x1="1160.7" y1="1574.0" x2="1928.3" y2="1574.0" stroke="#000" stroke-width="2"/>
<line x1="268.3" y1="1944.0" x2="1035.0" y2="1944.0" stroke="#000" stroke-width="2"/>
<line x1="1155.3" y1="1944.5" x2="1922.7" y2="1944.5" stroke="#000" stroke-width="2"/>
<text x="664.0" y="1599.0" font-size="23.5" text-anchor="middle">Quizartinib (nM)</text>
<text x="1551.5" y="1599.0" font-size="23.5" text-anchor="middle">Gilteritinib (nM)</text>
<text x="664.0" y="1971.0" font-size="23.5" text-anchor="middle">Quizartinib (nM)</text>
<text x="1550.0" y="1971.0" font-size="23.5" text-anchor="middle">Gilteritinib (nM)</text>
<line x1="914.0" y1="2005.9" x2="954.9" y2="2005.9" stroke="#1f4ea3" stroke-width="2"/>
<circle cx="934.5" cy="2005.9" r="7.3" fill="#1f4ea3"/>
<text x="977.3" y="2015.6" font-size="25.5" textLength="66.9" lengthAdjust="spacingAndGlyphs">CTRL</text>
<line x1="1079.0" y1="2005.0" x2="1120.4" y2="2005.0" stroke="#e32526" stroke-width="2"/>
<rect x="1092.3" y="1997.5" width="15.2" height="14.7" fill="#e32526"/>
<text x="1142.2" y="2015.6" font-size="25.5" textLength="142.4" lengthAdjust="spacingAndGlyphs">C/EBPα-p42</text>
<text x="4.7" y="2085.2" font-size="36" textLength="22.3" lengthAdjust="spacingAndGlyphs">F</text>
<text x="77.5" y="2260.5" font-size="20.5" text-anchor="middle" transform="rotate(-90 77.5 2260.5)">Viability(%)</text>
<line x1="148.8" y1="2188.5" x2="148.8" y2="2353.9" stroke="#000" stroke-width="2"/>
<line x1="140.8" y1="2345.9" x2="385.0" y2="2345.9" stroke="#000" stroke-width="2"/>
<line x1="141.8" y1="2345.9" x2="148.8" y2="2345.9" stroke="#000" stroke-width="2"/>
<text x="140.8" y="2353.9" font-size="22" text-anchor="end">0</text>
<line x1="141.8" y1="2306.8" x2="148.8" y2="2306.8" stroke="#000" stroke-width="2"/>
<text x="140.8" y="2314.8" font-size="22" text-anchor="end">2000</text>
<line x1="141.8" y1="2267.7" x2="148.8" y2="2267.7" stroke="#000" stroke-width="2"/>
<text x="140.8" y="2275.7" font-size="22" text-anchor="end">4000</text>
<line x1="141.8" y1="2228.6" x2="148.8" y2="2228.6" stroke="#000" stroke-width="2"/>
<text x="140.8" y="2236.6" font-size="22" text-anchor="end">6000</text>
<line x1="141.8" y1="2189.5" x2="148.8" y2="2189.5" stroke="#000" stroke-width="2"/>
<text x="140.8" y="2197.5" font-size="22" text-anchor="end">8000</text>
<line x1="148.8" y1="2345.9" x2="148.8" y2="2353.9" stroke="#000" stroke-width="2"/>
<text x="148.8" y="2377.0" font-size="23" text-anchor="middle">0</text>
<line x1="182.4" y1="2345.9" x2="182.4" y2="2353.9" stroke="#000" stroke-width="2"/>
<text x="182.4" y="2377.0" font-size="23" text-anchor="middle">1</text>
<line x1="216.0" y1="2345.9" x2="216.0" y2="2353.9" stroke="#000" stroke-width="2"/>
<text x="216.0" y="2377.0" font-size="23" text-anchor="middle">2</text>
<line x1="249.6" y1="2345.9" x2="249.6" y2="2353.9" stroke="#000" stroke-width="2"/>
<text x="249.6" y="2377.0" font-size="23" text-anchor="middle">3</text>
<line x1="283.2" y1="2345.9" x2="283.2" y2="2353.9" stroke="#000" stroke-width="2"/>
<text x="283.2" y="2377.0" font-size="23" text-anchor="middle">4</text>
<line x1="316.8" y1="2345.9" x2="316.8" y2="2353.9" stroke="#000" stroke-width="2"/>
<text x="316.8" y="2377.0" font-size="23" text-anchor="middle">5</text>
<line x1="350.4" y1="2345.9" x2="350.4" y2="2353.9" stroke="#000" stroke-width="2"/>
<text x="350.4" y="2377.0" font-size="23" text-anchor="middle">6</text>
<line x1="384.0" y1="2345.9" x2="384.0" y2="2353.9" stroke="#000" stroke-width="2"/>
<text x="384.0" y="2377.0" font-size="23" text-anchor="middle">7</text>
<text x="273.5" y="2136.6" font-size="21.6" text-anchor="middle" fill="#231f20">MV-4-11</text>
<text x="273.5" y="2167.0" font-size="21.6" text-anchor="middle" fill="#231f20">DMSO</text>
<line x1="316.8" y1="2260.9" x2="316.8" y2="2278.5" stroke="#e8372a" stroke-width="2"/>
<line x1="312.8" y1="2260.9" x2="320.8" y2="2260.9" stroke="#e8372a" stroke-width="2"/>
<line x1="312.8" y1="2278.5" x2="320.8" y2="2278.5" stroke="#e8372a" stroke-width="2"/>
<line x1="350.4" y1="2240.3" x2="350.4" y2="2259.9" stroke="#e8372a" stroke-width="2"/>
<line x1="346.4" y1="2240.3" x2="354.4" y2="2240.3" stroke="#e8372a" stroke-width="2"/>
<line x1="346.4" y1="2259.9" x2="354.4" y2="2259.9" stroke="#e8372a" stroke-width="2"/>
<line x1="384.0" y1="2213.0" x2="384.0" y2="2228.6" stroke="#e8372a" stroke-width="2"/>
<line x1="380.0" y1="2213.0" x2="388.0" y2="2213.0" stroke="#e8372a" stroke-width="2"/>
<line x1="380.0" y1="2228.6" x2="388.0" y2="2228.6" stroke="#e8372a" stroke-width="2"/>
<line x1="316.8" y1="2264.8" x2="316.8" y2="2282.4" stroke="#2151a8" stroke-width="2"/>
<line x1="312.8" y1="2264.8" x2="320.8" y2="2264.8" stroke="#2151a8" stroke-width="2"/>
<line x1="312.8" y1="2282.4" x2="320.8" y2="2282.4" stroke="#2151a8" stroke-width="2"/>
<line x1="350.4" y1="2241.3" x2="350.4" y2="2262.8" stroke="#2151a8" stroke-width="2"/>
<line x1="346.4" y1="2241.3" x2="354.4" y2="2241.3" stroke="#2151a8" stroke-width="2"/>
<line x1="346.4" y1="2262.8" x2="354.4" y2="2262.8" stroke="#2151a8" stroke-width="2"/>
<line x1="384.0" y1="2214.9" x2="384.0" y2="2226.6" stroke="#2151a8" stroke-width="2"/>
<line x1="380.0" y1="2214.9" x2="388.0" y2="2214.9" stroke="#2151a8" stroke-width="2"/>
<line x1="380.0" y1="2226.6" x2="388.0" y2="2226.6" stroke="#2151a8" stroke-width="2"/>
<polyline points="148.8,2344.4 182.4,2343.7 216.0,2340.0 249.6,2330.7 283.2,2315.6 316.8,2269.7 350.4,2250.1 384.0,2220.8" fill="none" stroke="#e8372a" stroke-width="2" stroke-linejoin="round"/>
<polyline points="148.8,2344.4 182.4,2343.7 216.0,2340.0 249.6,2330.7 283.2,2315.6 316.8,2273.6 350.4,2252.1 384.0,2220.8" fill="none" stroke="#2151a8" stroke-width="2" stroke-linejoin="round"/>
<circle cx="148.8" cy="2344.4" r="3.8" fill="#e8372a"/>
<circle cx="182.4" cy="2343.7" r="3.8" fill="#e8372a"/>
<circle cx="216.0" cy="2340.0" r="3.8" fill="#e8372a"/>
<circle cx="249.6" cy="2330.7" r="3.8" fill="#e8372a"/>
<circle cx="283.2" cy="2315.6" r="3.8" fill="#e8372a"/>
<circle cx="316.8" cy="2269.7" r="3.8" fill="#e8372a"/>
<circle cx="350.4" cy="2250.1" r="3.8" fill="#e8372a"/>
<circle cx="384.0" cy="2220.8" r="3.8" fill="#e8372a"/>
<rect x="145.0" y="2340.6" width="7.6" height="7.6" fill="#2151a8"/>
<rect x="178.6" y="2339.9" width="7.6" height="7.6" fill="#2151a8"/>
<rect x="212.2" y="2336.2" width="7.6" height="7.6" fill="#2151a8"/>
<rect x="245.8" y="2326.9" width="7.6" height="7.6" fill="#2151a8"/>
<rect x="279.4" y="2311.8" width="7.6" height="7.6" fill="#2151a8"/>
<rect x="313.0" y="2269.8" width="7.6" height="7.6" fill="#2151a8"/>
<rect x="346.6" y="2248.3" width="7.6" height="7.6" fill="#2151a8"/>
<rect x="380.2" y="2217.0" width="7.6" height="7.6" fill="#2151a8"/>
<line x1="455.2" y1="2188.5" x2="455.2" y2="2353.9" stroke="#000" stroke-width="2"/>
<line x1="447.2" y1="2345.9" x2="691.4" y2="2345.9" stroke="#000" stroke-width="2"/>
<line x1="448.2" y1="2345.9" x2="455.2" y2="2345.9" stroke="#000" stroke-width="2"/>
<text x="447.2" y="2353.9" font-size="22" text-anchor="end">0</text>
<line x1="448.2" y1="2306.8" x2="455.2" y2="2306.8" stroke="#000" stroke-width="2"/>
<text x="447.2" y="2314.8" font-size="22" text-anchor="end">2000</text>
<line x1="448.2" y1="2267.7" x2="455.2" y2="2267.7" stroke="#000" stroke-width="2"/>
<text x="447.2" y="2275.7" font-size="22" text-anchor="end">4000</text>
<line x1="448.2" y1="2228.6" x2="455.2" y2="2228.6" stroke="#000" stroke-width="2"/>
<text x="447.2" y="2236.6" font-size="22" text-anchor="end">6000</text>
<line x1="448.2" y1="2189.5" x2="455.2" y2="2189.5" stroke="#000" stroke-width="2"/>
<text x="447.2" y="2197.5" font-size="22" text-anchor="end">8000</text>
<line x1="455.2" y1="2345.9" x2="455.2" y2="2353.9" stroke="#000" stroke-width="2"/>
<text x="455.2" y="2377.0" font-size="23" text-anchor="middle">0</text>
<line x1="488.8" y1="2345.9" x2="488.8" y2="2353.9" stroke="#000" stroke-width="2"/>
<text x="488.8" y="2377.0" font-size="23" text-anchor="middle">1</text>
<line x1="522.4" y1="2345.9" x2="522.4" y2="2353.9" stroke="#000" stroke-width="2"/>
<text x="522.4" y="2377.0" font-size="23" text-anchor="middle">2</text>
<line x1="556.0" y1="2345.9" x2="556.0" y2="2353.9" stroke="#000" stroke-width="2"/>
<text x="556.0" y="2377.0" font-size="23" text-anchor="middle">3</text>
<line x1="589.6" y1="2345.9" x2="589.6" y2="2353.9" stroke="#000" stroke-width="2"/>
<text x="589.6" y="2377.0" font-size="23" text-anchor="middle">4</text>
<line x1="623.2" y1="2345.9" x2="623.2" y2="2353.9" stroke="#000" stroke-width="2"/>
<text x="623.2" y="2377.0" font-size="23" text-anchor="middle">5</text>
<line x1="656.8" y1="2345.9" x2="656.8" y2="2353.9" stroke="#000" stroke-width="2"/>
<text x="656.8" y="2377.0" font-size="23" text-anchor="middle">6</text>
<line x1="690.4" y1="2345.9" x2="690.4" y2="2353.9" stroke="#000" stroke-width="2"/>
<text x="690.4" y="2377.0" font-size="23" text-anchor="middle">7</text>
<text x="583.4" y="2136.6" font-size="21.6" text-anchor="middle" fill="#231f20">MV-4-11</text>
<text x="583.4" y="2167.0" font-size="21.6" text-anchor="middle" fill="#231f20">Quizartinib</text>
<line x1="656.8" y1="2319.5" x2="656.8" y2="2327.3" stroke="#e8372a" stroke-width="2"/>
<line x1="652.8" y1="2319.5" x2="660.8" y2="2319.5" stroke="#e8372a" stroke-width="2"/>
<line x1="652.8" y1="2327.3" x2="660.8" y2="2327.3" stroke="#e8372a" stroke-width="2"/>
<line x1="690.4" y1="2301.9" x2="690.4" y2="2319.5" stroke="#e8372a" stroke-width="2"/>
<line x1="686.4" y1="2301.9" x2="694.4" y2="2301.9" stroke="#e8372a" stroke-width="2"/>
<line x1="686.4" y1="2319.5" x2="694.4" y2="2319.5" stroke="#e8372a" stroke-width="2"/>
<line x1="623.2" y1="2302.9" x2="623.2" y2="2306.8" stroke="#2151a8" stroke-width="2"/>
<line x1="619.2" y1="2302.9" x2="627.2" y2="2302.9" stroke="#2151a8" stroke-width="2"/>
<line x1="619.2" y1="2306.8" x2="627.2" y2="2306.8" stroke="#2151a8" stroke-width="2"/>
<line x1="656.8" y1="2290.2" x2="656.8" y2="2298.0" stroke="#2151a8" stroke-width="2"/>
<line x1="652.8" y1="2290.2" x2="660.8" y2="2290.2" stroke="#2151a8" stroke-width="2"/>
<line x1="652.8" y1="2298.0" x2="660.8" y2="2298.0" stroke="#2151a8" stroke-width="2"/>
<line x1="690.4" y1="2224.7" x2="690.4" y2="2236.4" stroke="#2151a8" stroke-width="2"/>
<line x1="686.4" y1="2224.7" x2="694.4" y2="2224.7" stroke="#2151a8" stroke-width="2"/>
<line x1="686.4" y1="2236.4" x2="694.4" y2="2236.4" stroke="#2151a8" stroke-width="2"/>
<polyline points="455.2,2344.3 488.8,2344.1 522.4,2343.0 556.0,2340.4 589.6,2335.1 623.2,2328.3 656.8,2323.4 690.4,2310.7" fill="none" stroke="#e8372a" stroke-width="2" stroke-linejoin="round"/>
<polyline points="455.2,2344.3 488.8,2343.9 522.4,2341.0 556.0,2336.5 589.6,2327.3 623.2,2304.8 656.8,2294.1 690.4,2230.6" fill="none" stroke="#2151a8" stroke-width="2" stroke-linejoin="round"/>
<circle cx="455.2" cy="2344.3" r="3.8" fill="#e8372a"/>
<circle cx="488.8" cy="2344.1" r="3.8" fill="#e8372a"/>
<circle cx="522.4" cy="2343.0" r="3.8" fill="#e8372a"/>
<circle cx="556.0" cy="2340.4" r="3.8" fill="#e8372a"/>
<circle cx="589.6" cy="2335.1" r="3.8" fill="#e8372a"/>
<circle cx="623.2" cy="2328.3" r="3.8" fill="#e8372a"/>
<circle cx="656.8" cy="2323.4" r="3.8" fill="#e8372a"/>
<circle cx="690.4" cy="2310.7" r="3.8" fill="#e8372a"/>
<rect x="451.4" y="2340.5" width="7.6" height="7.6" fill="#2151a8"/>
<rect x="485.0" y="2340.1" width="7.6" height="7.6" fill="#2151a8"/>
<rect x="518.6" y="2337.2" width="7.6" height="7.6" fill="#2151a8"/>
<rect x="552.2" y="2332.7" width="7.6" height="7.6" fill="#2151a8"/>
<rect x="585.8" y="2323.5" width="7.6" height="7.6" fill="#2151a8"/>
<rect x="619.4" y="2301.0" width="7.6" height="7.6" fill="#2151a8"/>
<rect x="653.0" y="2290.3" width="7.6" height="7.6" fill="#2151a8"/>
<rect x="686.6" y="2226.8" width="7.6" height="7.6" fill="#2151a8"/>
<text x="582.0" y="2196.0" font-size="21.6" fill="#231f20">p = 0.0002</text>
<text x="689.0" y="2218.0" font-size="19" text-anchor="middle" fill="#231f20">***</text>
<text x="557.0" y="2260.0" font-size="21.6" fill="#231f20">p = 0.0008</text>
<text x="647.0" y="2288.0" font-size="19" text-anchor="middle" fill="#231f20">***</text>
<text x="516.2" y="2282.0" font-size="21.6" fill="#231f20">p = 0.0003</text>
<text x="616.0" y="2302.0" font-size="19" text-anchor="middle" fill="#231f20">***</text>
<text x="486.8" y="2306.0" font-size="21.6" fill="#231f20">p = 0.0005</text>
<text x="578.0" y="2327.0" font-size="19" text-anchor="middle" fill="#231f20">***</text>
<line x1="758.6" y1="2188.0" x2="758.6" y2="2352.3" stroke="#000" stroke-width="2"/>
<line x1="750.6" y1="2344.3" x2="994.5" y2="2344.3" stroke="#000" stroke-width="2"/>
<line x1="751.6" y1="2344.3" x2="758.6" y2="2344.3" stroke="#000" stroke-width="2"/>
<text x="750.6" y="2352.3" font-size="22" text-anchor="end">0</text>
<line x1="751.6" y1="2305.5" x2="758.6" y2="2305.5" stroke="#000" stroke-width="2"/>
<text x="750.6" y="2313.5" font-size="22" text-anchor="end">500</text>
<line x1="751.6" y1="2266.7" x2="758.6" y2="2266.7" stroke="#000" stroke-width="2"/>
<text x="750.6" y="2274.7" font-size="22" text-anchor="end">1000</text>
<line x1="751.6" y1="2227.8" x2="758.6" y2="2227.8" stroke="#000" stroke-width="2"/>
<text x="750.6" y="2235.8" font-size="22" text-anchor="end">1500</text>
<line x1="751.6" y1="2189.0" x2="758.6" y2="2189.0" stroke="#000" stroke-width="2"/>
<text x="750.6" y="2197.0" font-size="22" text-anchor="end">2000</text>
<line x1="758.6" y1="2344.3" x2="758.6" y2="2352.3" stroke="#000" stroke-width="2"/>
<text x="758.6" y="2377.0" font-size="23" text-anchor="middle">0</text>
<line x1="792.2" y1="2344.3" x2="792.2" y2="2352.3" stroke="#000" stroke-width="2"/>
<text x="792.2" y="2377.0" font-size="23" text-anchor="middle">1</text>
<line x1="825.7" y1="2344.3" x2="825.7" y2="2352.3" stroke="#000" stroke-width="2"/>
<text x="825.7" y="2377.0" font-size="23" text-anchor="middle">2</text>
<line x1="859.3" y1="2344.3" x2="859.3" y2="2352.3" stroke="#000" stroke-width="2"/>
<text x="859.3" y="2377.0" font-size="23" text-anchor="middle">3</text>
<line x1="892.8" y1="2344.3" x2="892.8" y2="2352.3" stroke="#000" stroke-width="2"/>
<text x="892.8" y="2377.0" font-size="23" text-anchor="middle">4</text>
<line x1="926.4" y1="2344.3" x2="926.4" y2="2352.3" stroke="#000" stroke-width="2"/>
<text x="926.4" y="2377.0" font-size="23" text-anchor="middle">5</text>
<line x1="960.0" y1="2344.3" x2="960.0" y2="2352.3" stroke="#000" stroke-width="2"/>
<text x="960.0" y="2377.0" font-size="23" text-anchor="middle">6</text>
<line x1="993.5" y1="2344.3" x2="993.5" y2="2352.3" stroke="#000" stroke-width="2"/>
<text x="993.5" y="2377.0" font-size="23" text-anchor="middle">7</text>
<text x="884.8" y="2136.6" font-size="21.6" text-anchor="middle" fill="#231f20">MV-4-11</text>
<text x="884.8" y="2167.0" font-size="21.6" text-anchor="middle" fill="#231f20">Gilteritinib</text>
<line x1="892.8" y1="2326.4" x2="892.8" y2="2332.7" stroke="#e8372a" stroke-width="2"/>
<line x1="888.8" y1="2326.4" x2="896.8" y2="2326.4" stroke="#e8372a" stroke-width="2"/>
<line x1="888.8" y1="2332.7" x2="896.8" y2="2332.7" stroke="#e8372a" stroke-width="2"/>
<line x1="926.4" y1="2318.3" x2="926.4" y2="2325.3" stroke="#e8372a" stroke-width="2"/>
<line x1="922.4" y1="2318.3" x2="930.4" y2="2318.3" stroke="#e8372a" stroke-width="2"/>
<line x1="922.4" y1="2325.3" x2="930.4" y2="2325.3" stroke="#e8372a" stroke-width="2"/>
<line x1="960.0" y1="2317.5" x2="960.0" y2="2324.5" stroke="#e8372a" stroke-width="2"/>
<line x1="956.0" y1="2317.5" x2="964.0" y2="2317.5" stroke="#e8372a" stroke-width="2"/>
<line x1="956.0" y1="2324.5" x2="964.0" y2="2324.5" stroke="#e8372a" stroke-width="2"/>
<line x1="993.5" y1="2223.9" x2="993.5" y2="2241.0" stroke="#2151a8" stroke-width="2"/>
<line x1="989.5" y1="2223.9" x2="997.5" y2="2223.9" stroke="#2151a8" stroke-width="2"/>
<line x1="989.5" y1="2241.0" x2="997.5" y2="2241.0" stroke="#2151a8" stroke-width="2"/>
<polyline points="758.6,2336.9 792.2,2338.5 825.7,2337.3 859.3,2333.4 892.8,2329.5 926.4,2321.8 960.0,2321.0 993.5,2314.8" fill="none" stroke="#e8372a" stroke-width="2" stroke-linejoin="round"/>
<polyline points="758.6,2336.9 792.2,2338.1 825.7,2332.7 859.3,2322.6 892.8,2307.0 926.4,2278.3 960.0,2272.1 993.5,2232.5" fill="none" stroke="#2151a8" stroke-width="2" stroke-linejoin="round"/>
<circle cx="758.6" cy="2336.9" r="3.8" fill="#e8372a"/>
<circle cx="792.2" cy="2338.5" r="3.8" fill="#e8372a"/>
<circle cx="825.7" cy="2337.3" r="3.8" fill="#e8372a"/>
<circle cx="859.3" cy="2333.4" r="3.8" fill="#e8372a"/>
<circle cx="892.8" cy="2329.5" r="3.8" fill="#e8372a"/>
<circle cx="926.4" cy="2321.8" r="3.8" fill="#e8372a"/>
<circle cx="960.0" cy="2321.0" r="3.8" fill="#e8372a"/>
<circle cx="993.5" cy="2314.8" r="3.8" fill="#e8372a"/>
<rect x="754.8" y="2333.1" width="7.6" height="7.6" fill="#2151a8"/>
<rect x="788.4" y="2334.3" width="7.6" height="7.6" fill="#2151a8"/>
<rect x="821.9" y="2328.9" width="7.6" height="7.6" fill="#2151a8"/>
<rect x="855.5" y="2318.8" width="7.6" height="7.6" fill="#2151a8"/>
<rect x="889.0" y="2303.2" width="7.6" height="7.6" fill="#2151a8"/>
<rect x="922.6" y="2274.5" width="7.6" height="7.6" fill="#2151a8"/>
<rect x="956.2" y="2268.3" width="7.6" height="7.6" fill="#2151a8"/>
<rect x="989.7" y="2228.7" width="7.6" height="7.6" fill="#2151a8"/>
<text x="903.5" y="2201.0" font-size="21.6" fill="#231f20">p = 0.0001</text>
<text x="993.0" y="2221.0" font-size="19" text-anchor="middle" fill="#231f20">***</text>
<text x="864.5" y="2233.0" font-size="21.6" fill="#231f20">p = 0.0001</text>
<text x="956.0" y="2257.0" font-size="19" text-anchor="middle" fill="#231f20">***</text>
<text x="814.5" y="2260.0" font-size="21.6" fill="#231f20">p = 0.0001</text>
<text x="926.0" y="2270.0" font-size="19" text-anchor="middle" fill="#231f20">***</text>
<text x="792.5" y="2288.0" font-size="21.6" fill="#231f20">p = 0.0005</text>
<text x="885.0" y="2301.0" font-size="19" text-anchor="middle" fill="#231f20">***</text>
<line x1="1089.5" y1="2186.0" x2="1089.5" y2="2351.5" stroke="#000" stroke-width="2"/>
<line x1="1081.5" y1="2343.5" x2="1325.7" y2="2343.5" stroke="#000" stroke-width="2"/>
<line x1="1082.5" y1="2343.5" x2="1089.5" y2="2343.5" stroke="#000" stroke-width="2"/>
<text x="1081.5" y="2351.5" font-size="22" text-anchor="end">0</text>
<line x1="1082.5" y1="2312.2" x2="1089.5" y2="2312.2" stroke="#000" stroke-width="2"/>
<text x="1081.5" y="2320.2" font-size="22" text-anchor="end">5000</text>
<line x1="1082.5" y1="2280.9" x2="1089.5" y2="2280.9" stroke="#000" stroke-width="2"/>
<text x="1081.5" y="2288.9" font-size="22" text-anchor="end">10000</text>
<line x1="1082.5" y1="2249.6" x2="1089.5" y2="2249.6" stroke="#000" stroke-width="2"/>
<text x="1081.5" y="2257.6" font-size="22" text-anchor="end">15000</text>
<line x1="1082.5" y1="2218.3" x2="1089.5" y2="2218.3" stroke="#000" stroke-width="2"/>
<text x="1081.5" y="2226.3" font-size="22" text-anchor="end">20000</text>
<line x1="1082.5" y1="2187.0" x2="1089.5" y2="2187.0" stroke="#000" stroke-width="2"/>
<text x="1081.5" y="2195.0" font-size="22" text-anchor="end">25000</text>
<line x1="1089.5" y1="2343.5" x2="1089.5" y2="2351.5" stroke="#000" stroke-width="2"/>
<text x="1089.5" y="2377.0" font-size="23" text-anchor="middle">0</text>
<line x1="1123.1" y1="2343.5" x2="1123.1" y2="2351.5" stroke="#000" stroke-width="2"/>
<text x="1123.1" y="2377.0" font-size="23" text-anchor="middle">1</text>
<line x1="1156.7" y1="2343.5" x2="1156.7" y2="2351.5" stroke="#000" stroke-width="2"/>
<text x="1156.7" y="2377.0" font-size="23" text-anchor="middle">2</text>
<line x1="1190.3" y1="2343.5" x2="1190.3" y2="2351.5" stroke="#000" stroke-width="2"/>
<text x="1190.3" y="2377.0" font-size="23" text-anchor="middle">3</text>
<line x1="1223.9" y1="2343.5" x2="1223.9" y2="2351.5" stroke="#000" stroke-width="2"/>
<text x="1223.9" y="2377.0" font-size="23" text-anchor="middle">4</text>
<line x1="1257.5" y1="2343.5" x2="1257.5" y2="2351.5" stroke="#000" stroke-width="2"/>
<text x="1257.5" y="2377.0" font-size="23" text-anchor="middle">5</text>
<line x1="1291.1" y1="2343.5" x2="1291.1" y2="2351.5" stroke="#000" stroke-width="2"/>
<text x="1291.1" y="2377.0" font-size="23" text-anchor="middle">6</text>
<line x1="1324.7" y1="2343.5" x2="1324.7" y2="2351.5" stroke="#000" stroke-width="2"/>
<text x="1324.7" y="2377.0" font-size="23" text-anchor="middle">7</text>
<text x="1210.0" y="2136.6" font-size="21.6" text-anchor="middle" fill="#231f20">MOLM-13</text>
<text x="1210.0" y="2167.0" font-size="21.6" text-anchor="middle" fill="#231f20">DMSO</text>
<line x1="1291.1" y1="2228.9" x2="1291.1" y2="2254.0" stroke="#e8372a" stroke-width="2"/>
<line x1="1287.1" y1="2228.9" x2="1295.1" y2="2228.9" stroke="#e8372a" stroke-width="2"/>
<line x1="1287.1" y1="2254.0" x2="1295.1" y2="2254.0" stroke="#e8372a" stroke-width="2"/>
<line x1="1324.7" y1="2195.8" x2="1324.7" y2="2220.8" stroke="#e8372a" stroke-width="2"/>
<line x1="1320.7" y1="2195.8" x2="1328.7" y2="2195.8" stroke="#e8372a" stroke-width="2"/>
<line x1="1320.7" y1="2220.8" x2="1328.7" y2="2220.8" stroke="#e8372a" stroke-width="2"/>
<line x1="1291.1" y1="2230.8" x2="1291.1" y2="2255.9" stroke="#2151a8" stroke-width="2"/>
<line x1="1287.1" y1="2230.8" x2="1295.1" y2="2230.8" stroke="#2151a8" stroke-width="2"/>
<line x1="1287.1" y1="2255.9" x2="1295.1" y2="2255.9" stroke="#2151a8" stroke-width="2"/>
<line x1="1324.7" y1="2203.3" x2="1324.7" y2="2220.8" stroke="#2151a8" stroke-width="2"/>
<line x1="1320.7" y1="2203.3" x2="1328.7" y2="2203.3" stroke="#2151a8" stroke-width="2"/>
<line x1="1320.7" y1="2220.8" x2="1328.7" y2="2220.8" stroke="#2151a8" stroke-width="2"/>
<polyline points="1089.5,2342.9 1123.1,2341.6 1156.7,2339.1 1190.3,2332.2 1223.9,2319.1 1257.5,2294.7 1291.1,2241.5 1324.7,2208.3" fill="none" stroke="#e8372a" stroke-width="2" stroke-linejoin="round"/>
<polyline points="1089.5,2342.9 1123.1,2341.6 1156.7,2339.1 1190.3,2332.9 1223.9,2320.3 1257.5,2295.9 1291.1,2243.3 1324.7,2212.0" fill="none" stroke="#2151a8" stroke-width="2" stroke-linejoin="round"/>
<circle cx="1089.5" cy="2342.9" r="3.8" fill="#e8372a"/>
<circle cx="1123.1" cy="2341.6" r="3.8" fill="#e8372a"/>
<circle cx="1156.7" cy="2339.1" r="3.8" fill="#e8372a"/>
<circle cx="1190.3" cy="2332.2" r="3.8" fill="#e8372a"/>
<circle cx="1223.9" cy="2319.1" r="3.8" fill="#e8372a"/>
<circle cx="1257.5" cy="2294.7" r="3.8" fill="#e8372a"/>
<circle cx="1291.1" cy="2241.5" r="3.8" fill="#e8372a"/>
<circle cx="1324.7" cy="2208.3" r="3.8" fill="#e8372a"/>
<rect x="1085.7" y="2339.1" width="7.6" height="7.6" fill="#2151a8"/>
<rect x="1119.3" y="2337.8" width="7.6" height="7.6" fill="#2151a8"/>
<rect x="1152.9" y="2335.3" width="7.6" height="7.6" fill="#2151a8"/>
<rect x="1186.5" y="2329.1" width="7.6" height="7.6" fill="#2151a8"/>
<rect x="1220.1" y="2316.5" width="7.6" height="7.6" fill="#2151a8"/>
<rect x="1253.7" y="2292.1" width="7.6" height="7.6" fill="#2151a8"/>
<rect x="1287.3" y="2239.5" width="7.6" height="7.6" fill="#2151a8"/>
<rect x="1320.9" y="2208.2" width="7.6" height="7.6" fill="#2151a8"/>
<line x1="1414.5" y1="2185.3" x2="1414.5" y2="2350.3" stroke="#000" stroke-width="2"/>
<line x1="1406.5" y1="2342.3" x2="1650.4" y2="2342.3" stroke="#000" stroke-width="2"/>
<line x1="1407.5" y1="2342.3" x2="1414.5" y2="2342.3" stroke="#000" stroke-width="2"/>
<text x="1406.5" y="2350.3" font-size="22" text-anchor="end">0</text>
<line x1="1407.5" y1="2311.1" x2="1414.5" y2="2311.1" stroke="#000" stroke-width="2"/>
<text x="1406.5" y="2319.1" font-size="22" text-anchor="end">3000</text>
<line x1="1407.5" y1="2279.9" x2="1414.5" y2="2279.9" stroke="#000" stroke-width="2"/>
<text x="1406.5" y="2287.9" font-size="22" text-anchor="end">6000</text>
<line x1="1407.5" y1="2248.7" x2="1414.5" y2="2248.7" stroke="#000" stroke-width="2"/>
<text x="1406.5" y="2256.7" font-size="22" text-anchor="end">9000</text>
<line x1="1407.5" y1="2217.5" x2="1414.5" y2="2217.5" stroke="#000" stroke-width="2"/>
<text x="1406.5" y="2225.5" font-size="22" text-anchor="end">12000</text>
<line x1="1407.5" y1="2186.3" x2="1414.5" y2="2186.3" stroke="#000" stroke-width="2"/>
<text x="1406.5" y="2194.3" font-size="22" text-anchor="end">15000</text>
<line x1="1414.5" y1="2342.3" x2="1414.5" y2="2350.3" stroke="#000" stroke-width="2"/>
<text x="1414.5" y="2377.0" font-size="23" text-anchor="middle">0</text>
<line x1="1448.1" y1="2342.3" x2="1448.1" y2="2350.3" stroke="#000" stroke-width="2"/>
<text x="1448.1" y="2377.0" font-size="23" text-anchor="middle">1</text>
<line x1="1481.6" y1="2342.3" x2="1481.6" y2="2350.3" stroke="#000" stroke-width="2"/>
<text x="1481.6" y="2377.0" font-size="23" text-anchor="middle">2</text>
<line x1="1515.2" y1="2342.3" x2="1515.2" y2="2350.3" stroke="#000" stroke-width="2"/>
<text x="1515.2" y="2377.0" font-size="23" text-anchor="middle">3</text>
<line x1="1548.7" y1="2342.3" x2="1548.7" y2="2350.3" stroke="#000" stroke-width="2"/>
<text x="1548.7" y="2377.0" font-size="23" text-anchor="middle">4</text>
<line x1="1582.3" y1="2342.3" x2="1582.3" y2="2350.3" stroke="#000" stroke-width="2"/>
<text x="1582.3" y="2377.0" font-size="23" text-anchor="middle">5</text>
<line x1="1615.9" y1="2342.3" x2="1615.9" y2="2350.3" stroke="#000" stroke-width="2"/>
<text x="1615.9" y="2377.0" font-size="23" text-anchor="middle">6</text>
<line x1="1649.4" y1="2342.3" x2="1649.4" y2="2350.3" stroke="#000" stroke-width="2"/>
<text x="1649.4" y="2377.0" font-size="23" text-anchor="middle">7</text>
<text x="1530.5" y="2136.6" font-size="21.6" text-anchor="middle" fill="#231f20">MOLM-13</text>
<text x="1530.5" y="2167.0" font-size="21.6" text-anchor="middle" fill="#231f20">Quizartinib</text>
<line x1="1615.9" y1="2310.1" x2="1615.9" y2="2320.5" stroke="#e8372a" stroke-width="2"/>
<line x1="1611.9" y1="2310.1" x2="1619.9" y2="2310.1" stroke="#e8372a" stroke-width="2"/>
<line x1="1611.9" y1="2320.5" x2="1619.9" y2="2320.5" stroke="#e8372a" stroke-width="2"/>
<line x1="1649.4" y1="2304.9" x2="1649.4" y2="2319.4" stroke="#e8372a" stroke-width="2"/>
<line x1="1645.4" y1="2304.9" x2="1653.4" y2="2304.9" stroke="#e8372a" stroke-width="2"/>
<line x1="1645.4" y1="2319.4" x2="1653.4" y2="2319.4" stroke="#e8372a" stroke-width="2"/>
<line x1="1615.9" y1="2235.2" x2="1615.9" y2="2266.4" stroke="#2151a8" stroke-width="2"/>
<line x1="1611.9" y1="2235.2" x2="1619.9" y2="2235.2" stroke="#2151a8" stroke-width="2"/>
<line x1="1611.9" y1="2266.4" x2="1619.9" y2="2266.4" stroke="#2151a8" stroke-width="2"/>
<line x1="1649.4" y1="2218.5" x2="1649.4" y2="2237.3" stroke="#2151a8" stroke-width="2"/>
<line x1="1645.4" y1="2218.5" x2="1653.4" y2="2218.5" stroke="#2151a8" stroke-width="2"/>
<line x1="1645.4" y1="2237.3" x2="1653.4" y2="2237.3" stroke="#2151a8" stroke-width="2"/>
<polyline points="1414.5,2341.3 1448.1,2339.7 1481.6,2337.6 1515.2,2335.0 1548.7,2330.9 1582.3,2326.2 1615.9,2315.3 1649.4,2312.1" fill="none" stroke="#e8372a" stroke-width="2" stroke-linejoin="round"/>
<polyline points="1414.5,2341.3 1448.1,2339.2 1481.6,2336.1 1515.2,2330.9 1548.7,2320.5 1582.3,2304.9 1615.9,2250.8 1649.4,2227.9" fill="none" stroke="#2151a8" stroke-width="2" stroke-linejoin="round"/>
<circle cx="1414.5" cy="2341.3" r="3.8" fill="#e8372a"/>
<circle cx="1448.1" cy="2339.7" r="3.8" fill="#e8372a"/>
<circle cx="1481.6" cy="2337.6" r="3.8" fill="#e8372a"/>
<circle cx="1515.2" cy="2335.0" r="3.8" fill="#e8372a"/>
<circle cx="1548.7" cy="2330.9" r="3.8" fill="#e8372a"/>
<circle cx="1582.3" cy="2326.2" r="3.8" fill="#e8372a"/>
<circle cx="1615.9" cy="2315.3" r="3.8" fill="#e8372a"/>
<circle cx="1649.4" cy="2312.1" r="3.8" fill="#e8372a"/>
<rect x="1410.7" y="2337.5" width="7.6" height="7.6" fill="#2151a8"/>
<rect x="1444.3" y="2335.4" width="7.6" height="7.6" fill="#2151a8"/>
<rect x="1477.8" y="2332.3" width="7.6" height="7.6" fill="#2151a8"/>
<rect x="1511.4" y="2327.1" width="7.6" height="7.6" fill="#2151a8"/>
<rect x="1544.9" y="2316.7" width="7.6" height="7.6" fill="#2151a8"/>
<rect x="1578.5" y="2301.1" width="7.6" height="7.6" fill="#2151a8"/>
<rect x="1612.1" y="2247.0" width="7.6" height="7.6" fill="#2151a8"/>
<rect x="1645.6" y="2224.1" width="7.6" height="7.6" fill="#2151a8"/>
<text x="1558.5" y="2193.0" font-size="21.6" fill="#231f20">p = 0.0002</text>
<text x="1647.5" y="2212.0" font-size="19" text-anchor="middle" fill="#231f20">***</text>
<text x="1531.5" y="2215.0" font-size="21.6" fill="#231f20">p = 0.002</text>
<text x="1613.5" y="2234.0" font-size="19" text-anchor="middle" fill="#231f20">**</text>
<text x="1502.1" y="2272.0" font-size="21.6" fill="#231f20">p = 0.0001</text>
<text x="1577.5" y="2299.0" font-size="19" text-anchor="middle" fill="#231f20">***</text>
<text x="1451.5" y="2302.0" font-size="21.6" fill="#231f20">p = 0.002</text>
<text x="1547.5" y="2320.0" font-size="19" text-anchor="middle" fill="#231f20">**</text>
<line x1="1745.8" y1="2185.3" x2="1745.8" y2="2350.3" stroke="#000" stroke-width="2"/>
<line x1="1737.8" y1="2342.3" x2="1981.7" y2="2342.3" stroke="#000" stroke-width="2"/>
<line x1="1738.8" y1="2342.3" x2="1745.8" y2="2342.3" stroke="#000" stroke-width="2"/>
<text x="1737.8" y="2350.3" font-size="22" text-anchor="end">0</text>
<line x1="1738.8" y1="2311.1" x2="1745.8" y2="2311.1" stroke="#000" stroke-width="2"/>
<text x="1737.8" y="2319.1" font-size="22" text-anchor="end">5000</text>
<line x1="1738.8" y1="2279.9" x2="1745.8" y2="2279.9" stroke="#000" stroke-width="2"/>
<text x="1737.8" y="2287.9" font-size="22" text-anchor="end">10000</text>
<line x1="1738.8" y1="2248.7" x2="1745.8" y2="2248.7" stroke="#000" stroke-width="2"/>
<text x="1737.8" y="2256.7" font-size="22" text-anchor="end">15000</text>
<line x1="1738.8" y1="2217.5" x2="1745.8" y2="2217.5" stroke="#000" stroke-width="2"/>
<text x="1737.8" y="2225.5" font-size="22" text-anchor="end">20000</text>
<line x1="1738.8" y1="2186.3" x2="1745.8" y2="2186.3" stroke="#000" stroke-width="2"/>
<text x="1737.8" y="2194.3" font-size="22" text-anchor="end">25000</text>
<line x1="1745.8" y1="2342.3" x2="1745.8" y2="2350.3" stroke="#000" stroke-width="2"/>
<text x="1745.8" y="2377.0" font-size="23" text-anchor="middle">0</text>
<line x1="1779.4" y1="2342.3" x2="1779.4" y2="2350.3" stroke="#000" stroke-width="2"/>
<text x="1779.4" y="2377.0" font-size="23" text-anchor="middle">1</text>
<line x1="1812.9" y1="2342.3" x2="1812.9" y2="2350.3" stroke="#000" stroke-width="2"/>
<text x="1812.9" y="2377.0" font-size="23" text-anchor="middle">2</text>
<line x1="1846.5" y1="2342.3" x2="1846.5" y2="2350.3" stroke="#000" stroke-width="2"/>
<text x="1846.5" y="2377.0" font-size="23" text-anchor="middle">3</text>
<line x1="1880.0" y1="2342.3" x2="1880.0" y2="2350.3" stroke="#000" stroke-width="2"/>
<text x="1880.0" y="2377.0" font-size="23" text-anchor="middle">4</text>
<line x1="1913.6" y1="2342.3" x2="1913.6" y2="2350.3" stroke="#000" stroke-width="2"/>
<text x="1913.6" y="2377.0" font-size="23" text-anchor="middle">5</text>
<line x1="1947.2" y1="2342.3" x2="1947.2" y2="2350.3" stroke="#000" stroke-width="2"/>
<text x="1947.2" y="2377.0" font-size="23" text-anchor="middle">6</text>
<line x1="1980.7" y1="2342.3" x2="1980.7" y2="2350.3" stroke="#000" stroke-width="2"/>
<text x="1980.7" y="2377.0" font-size="23" text-anchor="middle">7</text>
<text x="1864.5" y="2136.6" font-size="21.6" text-anchor="middle" fill="#231f20">MOLM-13</text>
<text x="1864.5" y="2167.0" font-size="21.6" text-anchor="middle" fill="#231f20">Gilteritinib</text>
<line x1="1980.7" y1="2259.3" x2="1980.7" y2="2265.5" stroke="#e8372a" stroke-width="2"/>
<line x1="1976.7" y1="2259.3" x2="1984.7" y2="2259.3" stroke="#e8372a" stroke-width="2"/>
<line x1="1976.7" y1="2265.5" x2="1984.7" y2="2265.5" stroke="#e8372a" stroke-width="2"/>
<line x1="1947.2" y1="2245.6" x2="1947.2" y2="2251.8" stroke="#2151a8" stroke-width="2"/>
<line x1="1943.2" y1="2245.6" x2="1951.2" y2="2245.6" stroke="#2151a8" stroke-width="2"/>
<line x1="1943.2" y1="2251.8" x2="1951.2" y2="2251.8" stroke="#2151a8" stroke-width="2"/>
<line x1="1980.7" y1="2214.4" x2="1980.7" y2="2223.1" stroke="#2151a8" stroke-width="2"/>
<line x1="1976.7" y1="2214.4" x2="1984.7" y2="2214.4" stroke="#2151a8" stroke-width="2"/>
<line x1="1976.7" y1="2223.1" x2="1984.7" y2="2223.1" stroke="#2151a8" stroke-width="2"/>
<polyline points="1745.8,2341.7 1779.4,2341.1 1812.9,2339.5 1846.5,2336.1 1880.0,2329.8 1913.6,2317.3 1947.2,2287.4 1980.7,2262.4" fill="none" stroke="#e8372a" stroke-width="2" stroke-linejoin="round"/>
<polyline points="1745.8,2341.7 1779.4,2340.4 1812.9,2338.6 1846.5,2332.9 1880.0,2322.3 1913.6,2298.6 1947.2,2248.7 1980.7,2218.7" fill="none" stroke="#2151a8" stroke-width="2" stroke-linejoin="round"/>
<circle cx="1745.8" cy="2341.7" r="3.8" fill="#e8372a"/>
<circle cx="1779.4" cy="2341.1" r="3.8" fill="#e8372a"/>
<circle cx="1812.9" cy="2339.5" r="3.8" fill="#e8372a"/>
<circle cx="1846.5" cy="2336.1" r="3.8" fill="#e8372a"/>
<circle cx="1880.0" cy="2329.8" r="3.8" fill="#e8372a"/>
<circle cx="1913.6" cy="2317.3" r="3.8" fill="#e8372a"/>
<circle cx="1947.2" cy="2287.4" r="3.8" fill="#e8372a"/>
<circle cx="1980.7" cy="2262.4" r="3.8" fill="#e8372a"/>
<rect x="1742.0" y="2337.9" width="7.6" height="7.6" fill="#2151a8"/>
<rect x="1775.6" y="2336.6" width="7.6" height="7.6" fill="#2151a8"/>
<rect x="1809.1" y="2334.8" width="7.6" height="7.6" fill="#2151a8"/>
<rect x="1842.7" y="2329.1" width="7.6" height="7.6" fill="#2151a8"/>
<rect x="1876.2" y="2318.5" width="7.6" height="7.6" fill="#2151a8"/>
<rect x="1909.8" y="2294.8" width="7.6" height="7.6" fill="#2151a8"/>
<rect x="1943.4" y="2244.9" width="7.6" height="7.6" fill="#2151a8"/>
<rect x="1976.9" y="2214.9" width="7.6" height="7.6" fill="#2151a8"/>
<text x="1885.0" y="2195.0" font-size="21.6" fill="#231f20">p = 0.0001</text>
<text x="1981.0" y="2213.0" font-size="19" text-anchor="middle" fill="#231f20">***</text>
<text x="1842.5" y="2227.0" font-size="21.6" fill="#231f20">p = 0.0001</text>
<text x="1936.0" y="2246.0" font-size="19" text-anchor="middle" fill="#231f20">***</text>
<text x="1816.8" y="2279.0" font-size="21.6" fill="#231f20">p = 0.0005</text>
<text x="1900.0" y="2294.0" font-size="19" text-anchor="middle" fill="#231f20">***</text>
<text x="1768.3" y="2304.0" font-size="21.6" fill="#231f20">p = 0.0001</text>
<text x="1873.0" y="2319.0" font-size="19" text-anchor="middle" fill="#231f20">***</text>
<line x1="889.8" y1="2412.9" x2="916.9" y2="2412.9" stroke="#e8372a" stroke-width="2.2"/>
<circle cx="903.0" cy="2412.9" r="5.7" fill="#e8372a"/>
<text x="926.3" y="2417.6" font-size="23.7" fill="#111" textLength="79.7" lengthAdjust="spacingAndGlyphs">Vector</text>
<line x1="1033.3" y1="2411.4" x2="1060.8" y2="2411.4" stroke="#2151a8" stroke-width="2"/>
<rect x="1041.0" y="2406.2" width="11.2" height="11.0" fill="#4a76c4" stroke="#2151a8" stroke-width="1"/>
<text x="1069.2" y="2417.6" font-size="23.7" fill="#111" textLength="142.9" lengthAdjust="spacingAndGlyphs">C/EBPα-p42</text>
</svg></body></html>
